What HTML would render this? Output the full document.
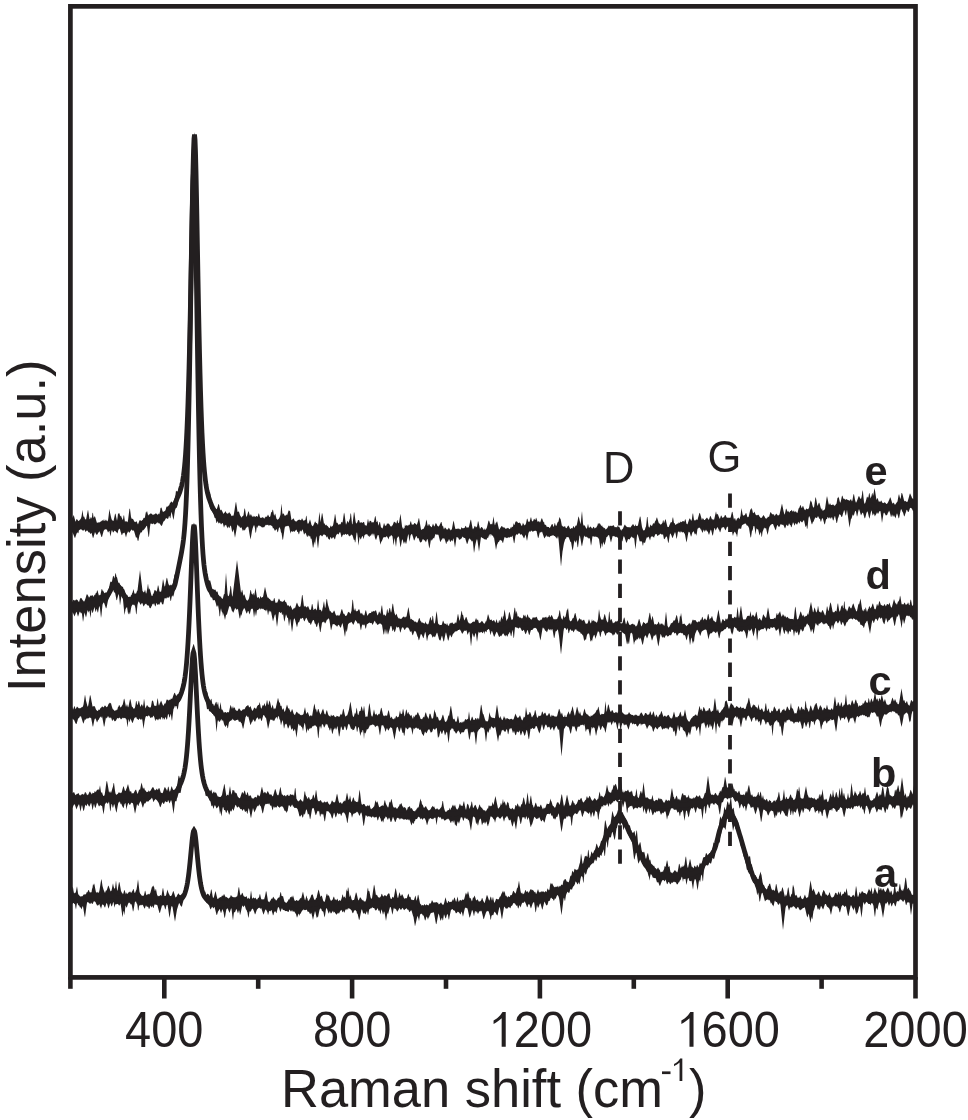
<!DOCTYPE html>
<html><head><meta charset="utf-8"><style>html,body{margin:0;padding:0;background:#fff;overflow:hidden}svg{display:block;will-change:transform}</style></head>
<body><svg width="968" height="1120" viewBox="0 0 968 1120" font-family="'Liberation Sans', sans-serif" fill="#231f20">
<rect width="968" height="1120" fill="#fff"/>
<g stroke="#231f20" stroke-width="3.8"><line x1="620" y1="511.2" x2="620" y2="864" stroke-dasharray="14.3 9.86"/><line x1="730" y1="493.5" x2="730" y2="847" stroke-dasharray="14.3 9.86"/></g>
<g fill="#231f20"><polygon points="70.5,523.0 71.0,520.6 71.5,518.3 72.0,516.0 72.5,517.9 73.0,517.0 73.5,515.0 74.0,515.9 74.5,517.9 75.0,519.8 75.5,521.7 76.0,520.7 76.5,519.1 77.0,519.2 77.5,519.8 78.0,520.5 78.5,521.0 79.0,521.1 79.5,520.0 80.0,519.8 80.5,519.0 81.0,518.2 81.5,516.6 82.0,513.2 82.5,509.7 83.0,514.1 83.5,516.9 84.0,516.3 84.5,517.6 85.0,518.9 85.5,519.3 86.0,519.7 86.5,517.3 87.0,514.6 87.5,511.9 88.0,509.4 88.5,512.6 89.0,515.8 89.5,518.9 90.0,519.3 90.5,517.7 91.0,517.1 91.5,518.8 92.0,516.8 92.5,512.7 93.0,513.0 93.5,517.4 94.0,517.8 94.5,516.3 95.0,516.4 95.5,518.1 96.0,519.8 96.5,521.4 97.0,522.9 97.5,522.2 98.0,523.3 98.5,521.9 99.0,522.4 99.5,522.2 100.0,522.2 100.5,521.5 101.0,521.6 101.5,521.1 102.0,520.4 102.5,520.2 103.0,520.5 103.5,520.8 104.0,518.7 104.5,521.3 105.0,520.6 105.5,520.4 106.0,519.2 106.5,520.9 107.0,520.2 107.5,521.4 108.0,520.3 108.5,516.7 109.0,512.5 109.5,508.7 110.0,512.5 110.5,514.7 111.0,516.9 111.5,519.1 112.0,519.9 112.5,520.6 113.0,520.8 113.5,521.1 114.0,518.8 114.5,516.4 115.0,514.0 115.5,513.5 116.0,516.1 116.5,518.6 117.0,520.7 117.5,517.9 118.0,513.8 118.5,513.8 119.0,512.8 119.5,513.7 120.0,515.5 120.5,516.5 121.0,515.6 121.5,517.2 122.0,518.3 122.5,519.8 123.0,519.5 123.5,516.0 124.0,514.9 124.5,518.6 125.0,522.1 125.5,521.2 126.0,521.1 126.5,521.2 127.0,522.3 127.5,522.1 128.0,520.6 128.5,516.6 129.0,512.6 129.5,508.5 130.0,509.1 130.5,513.0 131.0,516.9 131.5,518.3 132.0,519.2 132.5,518.7 133.0,518.7 133.5,519.9 134.0,520.7 134.5,521.7 135.0,522.3 135.5,521.9 136.0,521.6 136.5,521.2 137.0,522.3 137.5,523.4 138.0,524.4 138.5,523.1 139.0,521.8 139.5,520.4 140.0,520.0 140.5,520.4 141.0,520.7 141.5,521.0 142.0,520.2 142.5,520.1 143.0,519.6 143.5,518.1 144.0,517.8 144.5,518.3 145.0,516.9 145.5,513.9 146.0,511.5 146.5,512.8 147.0,510.8 147.5,512.9 148.0,515.0 148.5,515.4 149.0,514.2 149.5,514.4 150.0,513.9 150.5,513.5 151.0,513.2 151.5,513.7 152.0,514.2 152.5,514.6 153.0,514.9 153.5,514.6 154.0,514.4 154.5,514.3 155.0,514.0 155.5,513.5 156.0,513.2 156.5,513.7 157.0,514.3 157.5,514.8 158.0,514.5 158.5,513.2 159.0,514.4 159.5,513.5 160.0,511.4 160.5,508.1 161.0,507.7 161.5,507.4 162.0,509.3 162.5,511.1 163.0,511.9 163.5,511.9 164.0,510.7 164.5,511.5 165.0,511.1 165.5,510.2 166.0,508.5 166.5,506.6 167.0,506.8 167.5,506.2 168.0,507.1 168.5,506.7 169.0,506.1 169.5,504.2 170.0,503.1 170.5,502.8 171.0,501.6 171.5,501.5 172.0,502.3 172.5,502.4 173.0,502.5 173.5,501.8 174.0,500.3 174.5,498.9 175.0,497.3 175.5,494.8 176.0,490.4 176.5,491.4 177.0,491.1 177.5,491.8 178.0,491.8 178.5,488.7 179.0,486.1 179.5,487.0 180.0,487.2 180.5,485.7 181.0,484.2 181.5,481.6 182.0,478.9 182.5,477.1 183.0,474.9 183.5,472.0 184.0,468.4 184.5,464.0 185.0,458.4 185.5,452.1 186.0,444.5 186.5,435.9 187.0,425.9 187.5,413.9 188.0,400.1 188.5,384.3 189.0,366.4 189.5,346.3 190.0,323.9 190.5,299.5 191.0,273.3 191.5,245.9 192.0,218.3 192.5,191.6 193.0,167.8 193.5,148.7 194.0,136.4 194.5,132.2 195.0,136.8 195.5,149.5 196.0,169.0 196.5,193.2 197.0,220.2 197.5,248.2 198.0,276.0 198.5,302.5 199.0,327.2 199.5,349.8 200.0,370.2 200.5,388.3 201.0,404.3 201.5,418.0 202.0,430.0 202.5,440.5 203.0,449.5 203.5,457.2 204.0,463.3 204.5,468.4 205.0,473.0 205.5,477.5 206.0,480.9 206.5,483.5 207.0,486.1 207.5,488.7 208.0,490.5 208.5,492.0 209.0,491.9 209.5,491.5 210.0,492.1 210.5,494.9 211.0,497.8 211.5,500.5 212.0,502.5 212.5,503.3 213.0,503.6 213.5,504.5 214.0,506.1 214.5,507.0 215.0,506.6 215.5,508.6 216.0,508.8 216.5,509.2 217.0,508.5 217.5,507.0 218.0,505.4 218.5,503.7 219.0,504.6 219.5,506.9 220.0,509.1 220.5,510.4 221.0,509.7 221.5,509.8 222.0,510.9 222.5,511.8 223.0,512.9 223.5,513.9 224.0,512.9 224.5,512.7 225.0,512.1 225.5,510.9 226.0,512.2 226.5,513.2 227.0,513.3 227.5,513.7 228.0,513.7 228.5,512.9 229.0,512.4 229.5,512.3 230.0,513.4 230.5,513.8 231.0,514.8 231.5,515.9 232.0,516.3 232.5,515.5 233.0,515.4 233.5,515.7 234.0,513.3 234.5,510.2 235.0,507.0 235.5,503.8 236.0,501.5 236.5,504.7 237.0,508.0 237.5,511.4 238.0,512.2 238.5,511.2 239.0,511.8 239.5,513.6 240.0,515.3 240.5,515.9 241.0,516.8 241.5,517.7 242.0,516.7 242.5,516.3 243.0,516.0 243.5,515.2 244.0,511.7 244.5,508.3 245.0,509.0 245.5,512.2 246.0,515.5 246.5,517.0 247.0,515.9 247.5,514.2 248.0,512.5 248.5,510.9 249.0,512.5 249.5,514.5 250.0,516.0 250.5,514.5 251.0,514.3 251.5,515.3 252.0,516.4 252.5,516.9 253.0,515.6 253.5,516.4 254.0,517.1 254.5,515.8 255.0,516.9 255.5,516.7 256.0,516.3 256.5,516.1 257.0,516.3 257.5,517.0 258.0,515.7 258.5,513.6 259.0,513.5 259.5,515.5 260.0,517.6 260.5,517.8 261.0,517.9 261.5,517.7 262.0,517.4 262.5,517.0 263.0,517.7 263.5,517.5 264.0,518.5 264.5,518.6 265.0,517.3 265.5,517.2 266.0,516.1 266.5,516.9 267.0,516.8 267.5,515.4 268.0,514.5 268.5,515.6 269.0,516.4 269.5,517.0 270.0,516.9 270.5,515.5 271.0,512.9 271.5,511.7 272.0,512.3 272.5,509.7 273.0,509.7 273.5,512.5 274.0,515.3 274.5,515.5 275.0,513.5 275.5,514.4 276.0,516.8 276.5,518.7 277.0,519.3 277.5,519.8 278.0,519.6 278.5,518.9 279.0,518.6 279.5,517.4 280.0,516.2 280.5,514.5 281.0,508.6 281.5,503.5 282.0,509.2 282.5,514.7 283.0,512.9 283.5,513.7 284.0,514.2 284.5,515.2 285.0,516.2 285.5,515.6 286.0,514.8 286.5,514.6 287.0,515.5 287.5,514.0 288.0,512.4 288.5,510.7 289.0,510.3 289.5,511.3 290.0,510.5 290.5,513.7 291.0,517.0 291.5,520.3 292.0,519.8 292.5,519.3 293.0,518.7 293.5,518.2 294.0,519.3 294.5,520.3 295.0,521.3 295.5,521.2 296.0,521.3 296.5,521.6 297.0,521.2 297.5,520.5 298.0,519.7 298.5,520.1 299.0,519.7 299.5,519.4 300.0,519.9 300.5,520.1 301.0,520.6 301.5,519.3 302.0,518.2 302.5,519.0 303.0,520.3 303.5,520.8 304.0,520.4 304.5,520.5 305.0,519.7 305.5,520.1 306.0,516.6 306.5,515.6 307.0,519.7 307.5,523.5 308.0,523.4 308.5,523.6 309.0,522.2 309.5,520.8 310.0,519.3 310.5,521.1 311.0,523.1 311.5,525.0 312.0,525.6 312.5,526.2 313.0,526.1 313.5,525.1 314.0,523.9 314.5,522.7 315.0,521.6 315.5,521.8 316.0,523.0 316.5,523.1 317.0,523.2 317.5,524.1 318.0,524.9 318.5,520.9 319.0,515.9 319.5,511.8 320.0,517.1 320.5,522.3 321.0,519.3 321.5,516.1 322.0,512.7 322.5,514.2 323.0,517.5 323.5,520.7 324.0,524.0 324.5,522.9 325.0,524.6 325.5,525.4 326.0,524.7 326.5,524.7 327.0,526.0 327.5,525.7 328.0,526.5 328.5,527.2 329.0,527.8 329.5,528.3 330.0,527.5 330.5,525.7 331.0,525.5 331.5,527.1 332.0,526.5 332.5,526.0 333.0,525.4 333.5,523.0 334.0,520.3 334.5,517.5 335.0,513.4 335.5,515.7 336.0,519.3 336.5,523.0 337.0,522.6 337.5,522.9 338.0,523.8 338.5,524.9 339.0,524.3 339.5,524.5 340.0,524.1 340.5,524.4 341.0,523.1 341.5,521.7 342.0,522.3 342.5,522.4 343.0,519.7 343.5,516.1 344.0,512.4 344.5,513.9 345.0,517.8 345.5,521.6 346.0,524.8 346.5,523.6 347.0,522.2 347.5,520.8 348.0,521.4 348.5,523.0 349.0,521.6 349.5,519.7 350.0,518.6 350.5,513.6 351.0,513.6 351.5,518.7 352.0,523.7 352.5,524.4 353.0,520.3 353.5,516.0 354.0,511.7 354.5,513.6 355.0,517.3 355.5,520.9 356.0,523.2 356.5,523.6 357.0,522.7 357.5,522.0 358.0,520.1 358.5,520.2 359.0,520.0 359.5,521.6 360.0,523.2 360.5,522.5 361.0,522.1 361.5,522.2 362.0,522.9 362.5,523.1 363.0,522.0 363.5,522.3 364.0,521.8 364.5,523.7 365.0,525.5 365.5,525.2 366.0,525.3 366.5,525.9 367.0,524.3 367.5,521.3 368.0,518.6 368.5,521.3 369.0,523.3 369.5,521.6 370.0,520.4 370.5,521.1 371.0,520.9 371.5,522.0 372.0,522.9 372.5,522.1 373.0,522.2 373.5,522.6 374.0,521.6 374.5,519.1 375.0,516.6 375.5,515.9 376.0,518.9 376.5,522.0 377.0,521.9 377.5,520.5 378.0,523.5 378.5,525.8 379.0,523.9 379.5,521.9 380.0,522.1 380.5,524.8 381.0,527.5 381.5,527.4 382.0,528.3 382.5,528.4 383.0,527.1 383.5,525.1 384.0,523.1 384.5,524.0 385.0,525.9 385.5,525.6 386.0,525.7 386.5,525.0 387.0,523.3 387.5,523.5 388.0,524.2 388.5,523.3 389.0,523.7 389.5,524.5 390.0,525.4 390.5,526.2 391.0,526.4 391.5,526.4 392.0,525.4 392.5,525.5 393.0,524.3 393.5,523.0 394.0,521.6 394.5,522.0 395.0,522.3 395.5,522.5 396.0,523.5 396.5,523.2 397.0,520.5 397.5,519.9 398.0,522.5 398.5,523.3 399.0,523.0 399.5,519.7 400.0,516.4 400.5,513.8 401.0,517.9 401.5,522.0 402.0,526.0 402.5,528.7 403.0,526.7 403.5,528.9 404.0,528.8 404.5,528.0 405.0,524.3 405.5,526.3 406.0,525.2 406.5,525.3 407.0,525.5 407.5,525.4 408.0,525.8 408.5,525.3 409.0,524.5 409.5,525.2 410.0,523.6 410.5,521.4 411.0,521.2 411.5,523.5 412.0,525.1 412.5,524.4 413.0,524.2 413.5,524.7 414.0,523.8 414.5,523.0 415.0,523.0 415.5,524.1 416.0,523.8 416.5,525.1 417.0,524.4 417.5,522.8 418.0,521.4 418.5,519.1 419.0,517.7 419.5,520.7 420.0,523.7 420.5,526.6 421.0,529.4 421.5,529.9 422.0,529.3 422.5,529.3 423.0,528.8 423.5,528.9 424.0,528.0 424.5,526.8 425.0,526.0 425.5,524.5 426.0,521.2 426.5,519.5 427.0,522.3 427.5,525.0 428.0,526.2 428.5,524.7 429.0,523.7 429.5,524.8 430.0,526.0 430.5,525.9 431.0,526.9 431.5,527.3 432.0,526.4 432.5,525.0 433.0,523.5 433.5,524.7 434.0,525.9 434.5,526.4 435.0,525.0 435.5,523.5 436.0,522.9 436.5,523.9 437.0,524.8 437.5,526.2 438.0,525.8 438.5,526.7 439.0,526.3 439.5,525.3 440.0,524.3 440.5,523.2 441.0,522.1 441.5,522.1 442.0,524.4 442.5,526.5 443.0,525.7 443.5,527.7 444.0,529.4 444.5,528.3 445.0,527.2 445.5,527.9 446.0,528.6 446.5,529.3 447.0,529.8 447.5,529.4 448.0,529.1 448.5,527.6 449.0,529.0 449.5,528.0 450.0,529.9 450.5,530.4 451.0,528.9 451.5,530.2 452.0,528.4 452.5,525.8 453.0,523.1 453.5,520.4 454.0,522.3 454.5,524.9 455.0,527.5 455.5,529.2 456.0,528.7 456.5,529.0 457.0,528.8 457.5,528.5 458.0,529.1 458.5,528.5 459.0,528.5 459.5,529.0 460.0,529.5 460.5,529.6 461.0,528.8 461.5,527.1 462.0,527.9 462.5,528.2 463.0,528.3 463.5,528.2 464.0,527.9 464.5,528.0 465.0,526.9 465.5,525.7 466.0,526.3 466.5,527.5 467.0,527.8 467.5,527.4 468.0,527.2 468.5,527.7 469.0,526.5 469.5,524.4 470.0,522.3 470.5,520.3 471.0,519.6 471.5,522.5 472.0,525.3 472.5,528.0 473.0,529.4 473.5,528.5 474.0,527.8 474.5,526.2 475.0,525.7 475.5,526.8 476.0,527.8 476.5,526.7 477.0,526.7 477.5,523.9 478.0,520.9 478.5,521.9 479.0,524.6 479.5,526.7 480.0,528.9 480.5,528.2 481.0,527.6 481.5,527.1 482.0,527.0 482.5,528.1 483.0,528.6 483.5,529.6 484.0,530.2 484.5,528.1 485.0,530.1 485.5,529.7 486.0,528.6 486.5,528.7 487.0,527.1 487.5,525.0 488.0,522.8 488.5,520.8 489.0,520.4 489.5,521.8 490.0,523.4 490.5,524.6 491.0,524.0 491.5,523.7 492.0,524.8 492.5,522.9 493.0,519.6 493.5,516.3 494.0,519.9 494.5,523.7 495.0,525.6 495.5,523.6 496.0,522.4 496.5,522.6 497.0,520.9 497.5,522.7 498.0,524.9 498.5,527.2 499.0,529.3 499.5,529.6 500.0,528.5 500.5,527.4 501.0,527.2 501.5,525.9 502.0,526.0 502.5,526.8 503.0,527.6 503.5,527.2 504.0,527.6 504.5,527.5 505.0,528.1 505.5,528.8 506.0,529.0 506.5,528.2 507.0,528.4 507.5,528.0 508.0,527.7 508.5,528.2 509.0,528.7 509.5,529.0 510.0,529.3 510.5,526.7 511.0,528.8 511.5,527.2 512.0,526.6 512.5,527.1 513.0,526.8 513.5,523.1 514.0,525.0 514.5,524.8 515.0,523.2 515.5,521.6 516.0,521.8 516.5,521.2 517.0,521.6 517.5,522.3 518.0,522.7 518.5,523.0 519.0,523.1 519.5,522.6 520.0,522.8 520.5,523.6 521.0,524.8 521.5,525.8 522.0,525.9 522.5,524.2 523.0,522.6 523.5,524.0 524.0,524.4 524.5,525.5 525.0,524.9 525.5,524.5 526.0,523.3 526.5,520.9 527.0,518.5 527.5,519.1 528.0,521.0 528.5,522.1 529.0,521.6 529.5,521.9 530.0,520.4 530.5,518.2 531.0,516.9 531.5,519.1 532.0,521.2 532.5,521.2 533.0,521.3 533.5,520.1 534.0,518.8 534.5,519.1 535.0,520.2 535.5,519.8 536.0,517.6 536.5,518.6 537.0,520.0 537.5,521.4 538.0,522.0 538.5,521.3 539.0,521.0 539.5,522.0 540.0,522.6 540.5,521.5 541.0,520.1 541.5,518.6 542.0,518.2 542.5,519.5 543.0,521.0 543.5,522.5 544.0,521.6 544.5,524.4 545.0,524.5 545.5,525.3 546.0,524.6 546.5,527.0 547.0,526.4 547.5,527.1 548.0,526.9 548.5,527.1 549.0,527.1 549.5,528.2 550.0,527.8 550.5,526.8 551.0,525.7 551.5,524.7 552.0,524.0 552.5,523.9 553.0,525.5 553.5,526.9 554.0,526.0 554.5,523.5 555.0,522.9 555.5,525.2 556.0,525.7 556.5,525.8 557.0,524.1 557.5,522.4 558.0,522.1 558.5,521.6 559.0,519.0 559.5,516.8 560.0,518.5 560.5,518.7 561.0,521.1 561.5,523.7 562.0,526.2 562.5,525.6 563.0,526.9 563.5,526.4 564.0,526.7 564.5,526.6 565.0,525.7 565.5,527.4 566.0,528.1 566.5,528.3 567.0,527.5 567.5,526.6 568.0,525.7 568.5,525.5 569.0,526.5 569.5,527.6 570.0,528.8 570.5,529.0 571.0,528.5 571.5,527.9 572.0,528.3 572.5,528.6 573.0,527.1 573.5,525.8 574.0,526.9 574.5,527.9 575.0,527.0 575.5,525.8 576.0,525.6 576.5,525.7 577.0,524.1 577.5,521.4 578.0,518.8 578.5,516.2 579.0,517.4 579.5,519.7 580.0,521.9 580.5,524.2 581.0,521.1 581.5,515.2 582.0,511.1 582.5,517.3 583.0,523.6 583.5,525.5 584.0,525.4 584.5,525.3 585.0,526.0 585.5,527.1 586.0,528.0 586.5,528.8 587.0,528.2 587.5,526.0 588.0,523.8 588.5,526.1 589.0,528.3 589.5,527.5 590.0,526.7 590.5,526.5 591.0,527.1 591.5,527.7 592.0,528.4 592.5,528.4 593.0,527.5 593.5,526.7 594.0,527.1 594.5,528.2 595.0,528.4 595.5,527.6 596.0,527.9 596.5,527.1 597.0,526.3 597.5,525.2 598.0,523.0 598.5,523.5 599.0,524.6 599.5,523.0 600.0,523.4 600.5,524.5 601.0,525.6 601.5,526.3 602.0,524.9 602.5,527.0 603.0,526.8 603.5,527.6 604.0,528.5 604.5,527.8 605.0,528.3 605.5,529.6 606.0,529.5 606.5,528.8 607.0,528.5 607.5,527.7 608.0,526.8 608.5,526.1 609.0,525.3 609.5,526.4 610.0,525.9 610.5,525.7 611.0,525.7 611.5,526.3 612.0,525.4 612.5,526.1 613.0,525.5 613.5,525.1 614.0,525.9 614.5,526.7 615.0,527.5 615.5,527.1 616.0,526.9 616.5,526.9 617.0,527.8 617.5,525.9 618.0,525.2 618.5,527.2 619.0,526.5 619.5,527.3 620.0,528.5 620.5,529.5 621.0,530.3 621.5,530.8 622.0,528.8 622.5,529.4 623.0,528.4 623.5,527.3 624.0,526.1 624.5,524.9 625.0,524.6 625.5,525.4 626.0,526.3 626.5,526.4 627.0,526.9 627.5,527.2 628.0,526.9 628.5,527.1 629.0,527.8 629.5,527.2 630.0,526.7 630.5,527.7 631.0,526.7 631.5,525.7 632.0,525.5 632.5,524.7 633.0,523.8 633.5,524.7 634.0,525.5 634.5,526.2 635.0,525.9 635.5,524.0 636.0,526.1 636.5,525.9 637.0,525.7 637.5,525.9 638.0,525.2 638.5,522.8 639.0,520.5 639.5,518.3 640.0,516.2 640.5,516.9 641.0,520.4 641.5,523.7 642.0,526.9 642.5,528.6 643.0,529.8 643.5,530.8 644.0,530.1 644.5,530.5 645.0,529.2 645.5,527.6 646.0,526.6 646.5,522.2 647.0,517.1 647.5,517.0 648.0,522.1 648.5,526.3 649.0,527.4 649.5,527.6 650.0,526.0 650.5,524.4 651.0,525.1 651.5,526.1 652.0,526.0 652.5,524.8 653.0,523.6 653.5,523.1 654.0,524.0 654.5,522.9 655.0,521.6 655.5,520.7 656.0,519.9 656.5,518.0 657.0,517.3 657.5,518.9 658.0,520.6 658.5,522.3 659.0,523.6 659.5,523.5 660.0,523.8 660.5,524.7 661.0,524.6 661.5,524.1 662.0,523.6 662.5,522.7 663.0,520.3 663.5,520.5 664.0,523.3 664.5,521.8 665.0,520.3 665.5,518.9 666.0,520.7 666.5,522.9 667.0,525.0 667.5,527.0 668.0,527.1 668.5,527.2 669.0,526.5 669.5,525.0 670.0,524.0 670.5,522.8 671.0,522.0 671.5,522.6 672.0,521.8 672.5,518.6 673.0,516.9 673.5,520.1 674.0,523.1 674.5,523.1 675.0,524.0 675.5,524.9 676.0,524.7 676.5,523.9 677.0,523.8 677.5,523.2 678.0,523.9 678.5,522.7 679.0,522.2 679.5,522.9 680.0,522.7 680.5,521.5 681.0,521.8 681.5,522.2 682.0,521.7 682.5,521.3 683.0,520.9 683.5,521.0 684.0,522.0 684.5,521.3 685.0,519.4 685.5,519.2 686.0,521.5 686.5,523.7 687.0,524.3 687.5,524.2 688.0,522.8 688.5,521.3 689.0,519.8 689.5,518.5 690.0,518.6 690.5,519.6 691.0,520.6 691.5,520.7 692.0,518.6 692.5,514.6 693.0,513.0 693.5,516.6 694.0,520.1 694.5,520.7 695.0,519.5 695.5,520.4 696.0,520.3 696.5,519.0 697.0,520.0 697.5,519.7 698.0,518.0 698.5,516.3 699.0,514.5 699.5,512.7 700.0,513.3 700.5,515.0 701.0,516.7 701.5,518.4 702.0,520.2 702.5,518.3 703.0,518.6 703.5,518.7 704.0,519.9 704.5,520.1 705.0,519.9 705.5,519.1 706.0,518.7 706.5,517.9 707.0,517.5 707.5,518.2 708.0,519.0 708.5,519.7 709.0,519.4 709.5,518.0 710.0,516.6 710.5,515.8 711.0,517.0 711.5,518.3 712.0,519.5 712.5,518.8 713.0,520.6 713.5,518.9 714.0,519.9 714.5,518.1 715.0,515.7 715.5,513.4 716.0,511.3 716.5,513.7 717.0,514.8 717.5,513.8 718.0,514.5 718.5,515.9 719.0,517.2 719.5,518.4 720.0,518.7 720.5,517.1 721.0,515.5 721.5,515.7 722.0,516.9 722.5,517.7 723.0,517.9 723.5,516.9 724.0,517.3 724.5,516.1 725.0,514.9 725.5,514.9 726.0,516.1 726.5,517.2 727.0,517.8 727.5,517.8 728.0,517.5 728.5,518.2 729.0,518.8 729.5,518.3 730.0,518.7 730.5,518.0 731.0,515.9 731.5,513.8 732.0,511.7 732.5,511.9 733.0,514.6 733.5,517.2 734.0,519.7 734.5,518.5 735.0,517.7 735.5,519.5 736.0,520.9 736.5,520.1 737.0,518.7 737.5,518.4 738.0,517.8 738.5,517.5 739.0,518.5 739.5,519.2 740.0,517.5 740.5,515.7 741.0,511.7 741.5,508.1 742.0,511.0 742.5,513.9 743.0,515.6 743.5,515.5 744.0,515.7 744.5,515.0 745.0,514.8 745.5,513.7 746.0,512.8 746.5,513.8 747.0,515.7 747.5,517.5 748.0,516.8 748.5,517.2 749.0,515.2 749.5,513.1 750.0,510.9 750.5,508.7 751.0,510.1 751.5,507.7 752.0,509.0 752.5,511.1 753.0,513.2 753.5,513.1 754.0,512.4 754.5,511.5 755.0,513.1 755.5,514.3 756.0,515.3 756.5,515.0 757.0,515.5 757.5,515.1 758.0,514.7 758.5,514.7 759.0,515.5 759.5,516.4 760.0,517.3 760.5,518.0 761.0,517.4 761.5,518.0 762.0,517.4 762.5,516.6 763.0,515.8 763.5,515.1 764.0,515.8 764.5,516.6 765.0,517.4 765.5,518.4 766.0,518.3 766.5,518.9 767.0,517.5 767.5,518.0 768.0,516.2 768.5,517.0 769.0,517.0 769.5,515.3 770.0,513.4 770.5,512.1 771.0,512.6 771.5,513.3 772.0,514.3 772.5,513.9 773.0,514.8 773.5,514.3 774.0,514.3 774.5,515.9 775.0,515.5 775.5,514.8 776.0,513.7 776.5,513.8 777.0,514.4 777.5,515.1 778.0,515.7 778.5,515.2 779.0,514.9 779.5,514.6 780.0,512.3 780.5,509.9 781.0,507.7 781.5,505.5 782.0,503.4 782.5,505.9 783.0,508.5 783.5,511.0 784.0,513.0 784.5,514.8 785.0,513.2 785.5,510.9 786.0,508.5 786.5,509.1 787.0,510.5 787.5,511.9 788.0,510.6 788.5,511.4 789.0,512.3 789.5,512.4 790.0,511.2 790.5,510.9 791.0,511.1 791.5,509.7 792.0,510.4 792.5,511.2 793.0,511.9 793.5,510.8 794.0,510.6 794.5,512.2 795.0,511.6 795.5,511.4 796.0,511.5 796.5,512.3 797.0,513.0 797.5,512.8 798.0,510.9 798.5,508.8 799.0,508.1 799.5,507.5 800.0,505.8 800.5,504.8 801.0,506.2 801.5,507.7 802.0,508.0 802.5,506.6 803.0,505.7 803.5,507.1 804.0,508.4 804.5,509.6 805.0,510.3 805.5,509.9 806.0,508.8 806.5,508.6 807.0,508.9 807.5,508.9 808.0,509.4 808.5,508.6 809.0,508.0 809.5,505.3 810.0,502.7 810.5,500.1 811.0,501.7 811.5,501.2 812.0,503.4 812.5,505.5 813.0,506.9 813.5,507.5 814.0,507.5 814.5,504.1 815.0,500.6 815.5,497.0 816.0,498.2 816.5,500.8 817.0,503.5 817.5,506.1 818.0,504.9 818.5,503.6 819.0,502.4 819.5,503.2 820.0,505.0 820.5,506.9 821.0,508.8 821.5,509.7 822.0,507.8 822.5,510.8 823.0,510.6 823.5,510.6 824.0,509.7 824.5,509.8 825.0,509.0 825.5,505.5 826.0,502.0 826.5,498.4 827.0,495.9 827.5,498.3 828.0,500.7 828.5,503.2 829.0,504.9 829.5,504.2 830.0,503.0 830.5,504.2 831.0,505.0 831.5,504.9 832.0,504.9 832.5,504.5 833.0,504.7 833.5,504.6 834.0,505.5 834.5,505.8 835.0,505.4 835.5,504.9 836.0,503.9 836.5,503.7 837.0,500.8 837.5,497.4 838.0,498.3 838.5,496.4 839.0,498.3 839.5,500.4 840.0,502.5 840.5,502.6 841.0,500.4 841.5,498.1 842.0,495.8 842.5,495.8 843.0,497.5 843.5,499.1 844.0,498.5 844.5,499.0 845.0,499.4 845.5,499.9 846.0,499.0 846.5,499.2 847.0,499.6 847.5,499.7 848.0,500.2 848.5,500.3 849.0,500.0 849.5,500.9 850.0,500.2 850.5,499.5 851.0,499.1 851.5,500.4 852.0,501.5 852.5,500.0 853.0,497.1 853.5,494.2 854.0,494.3 854.5,497.1 855.0,499.8 855.5,501.4 856.0,502.7 856.5,502.1 857.0,500.8 857.5,499.5 858.0,498.1 858.5,496.8 859.0,495.8 859.5,496.9 860.0,498.1 860.5,498.8 861.0,498.9 861.5,497.2 862.0,494.5 862.5,490.1 863.0,491.9 863.5,497.3 864.0,502.1 864.5,503.8 865.0,503.4 865.5,502.2 866.0,500.4 866.5,498.5 867.0,496.6 867.5,497.1 868.0,498.0 868.5,496.7 869.0,493.6 869.5,493.0 870.0,495.8 870.5,498.6 871.0,497.3 871.5,496.0 872.0,493.6 872.5,492.9 873.0,495.9 873.5,494.0 874.0,491.1 874.5,488.1 875.0,490.6 875.5,493.8 876.0,497.0 876.5,500.0 877.0,499.0 877.5,497.8 878.0,499.2 878.5,500.7 879.0,501.9 879.5,501.3 880.0,501.7 880.5,501.7 881.0,500.5 881.5,500.7 882.0,502.1 882.5,502.8 883.0,503.3 883.5,503.0 884.0,502.7 884.5,502.2 885.0,502.6 885.5,503.1 886.0,503.6 886.5,504.0 887.0,504.0 887.5,503.0 888.0,502.5 888.5,501.3 889.0,500.2 889.5,499.1 890.0,497.6 890.5,497.6 891.0,499.2 891.5,500.8 892.0,502.6 892.5,503.6 893.0,503.6 893.5,502.6 894.0,503.0 894.5,504.3 895.0,504.7 895.5,504.2 896.0,503.6 896.5,502.7 897.0,502.1 897.5,501.5 898.0,498.6 898.5,495.8 899.0,494.0 899.5,496.0 900.0,498.1 900.5,499.1 901.0,496.6 901.5,493.0 902.0,493.1 902.5,494.2 903.0,496.2 903.5,498.2 904.0,500.2 904.5,501.4 905.0,500.7 905.5,501.0 906.0,501.6 906.5,501.9 907.0,501.4 907.5,501.9 908.0,500.3 908.5,498.5 909.0,496.7 909.5,494.7 910.0,493.2 910.5,494.3 911.0,495.4 911.5,496.6 912.0,498.0 912.5,498.2 913.0,499.2 913.5,498.9 914.0,498.7 914.5,498.4 915.0,498.3 915.5,498.8 915.5,510.4 915.0,514.0 914.5,517.8 914.0,515.0 913.5,510.8 913.0,511.1 912.5,510.0 912.0,509.1 911.5,508.2 911.0,507.9 910.5,507.8 910.0,508.1 909.5,509.4 909.0,511.0 908.5,512.0 908.0,511.9 907.5,510.9 907.0,509.8 906.5,510.1 906.0,512.1 905.5,513.2 905.0,514.8 904.5,516.4 904.0,516.1 903.5,514.3 903.0,512.6 902.5,512.0 902.0,510.8 901.5,509.6 901.0,509.1 900.5,511.1 900.0,513.6 899.5,516.1 899.0,518.5 898.5,517.9 898.0,516.1 897.5,514.4 897.0,513.3 896.5,514.6 896.0,516.6 895.5,518.5 895.0,516.9 894.5,516.5 894.0,515.0 893.5,516.0 893.0,517.0 892.5,515.6 892.0,514.2 891.5,516.2 891.0,517.2 890.5,515.0 890.0,512.9 889.5,511.4 889.0,510.6 888.5,512.2 888.0,512.6 887.5,513.9 887.0,515.3 886.5,515.0 886.0,515.7 885.5,514.7 885.0,513.9 884.5,512.9 884.0,512.6 883.5,513.5 883.0,516.7 882.5,519.8 882.0,522.9 881.5,519.0 881.0,515.1 880.5,511.4 880.0,510.7 879.5,511.3 879.0,512.0 878.5,513.1 878.0,514.3 877.5,513.1 877.0,512.2 876.5,513.4 876.0,514.4 875.5,514.9 875.0,516.5 874.5,515.5 874.0,513.6 873.5,513.8 873.0,515.6 872.5,515.0 872.0,512.6 871.5,510.2 871.0,511.7 870.5,514.0 870.0,516.3 869.5,518.8 869.0,517.4 868.5,515.2 868.0,513.1 867.5,511.2 867.0,511.9 866.5,512.7 866.0,514.8 865.5,516.7 865.0,518.5 864.5,517.9 864.0,516.3 863.5,514.6 863.0,512.7 862.5,512.7 862.0,513.6 861.5,514.6 861.0,515.5 860.5,513.7 860.0,512.0 859.5,510.5 859.0,509.0 858.5,510.5 858.0,512.8 857.5,515.2 857.0,516.7 856.5,514.3 856.0,511.5 855.5,510.7 855.0,511.4 854.5,513.2 854.0,514.9 853.5,515.9 853.0,514.2 852.5,515.2 852.0,517.1 851.5,518.8 851.0,518.8 850.5,521.8 850.0,524.7 849.5,527.7 849.0,524.1 848.5,520.4 848.0,516.8 847.5,513.2 847.0,509.8 846.5,512.5 846.0,515.4 845.5,515.3 845.0,512.9 844.5,510.6 844.0,510.3 843.5,512.3 843.0,513.5 842.5,515.4 842.0,517.1 841.5,516.9 841.0,515.7 840.5,514.8 840.0,514.8 839.5,514.1 839.0,515.2 838.5,517.2 838.0,517.9 837.5,520.5 837.0,523.1 836.5,523.1 836.0,520.6 835.5,518.2 835.0,515.8 834.5,516.7 834.0,518.5 833.5,520.3 833.0,520.4 832.5,518.7 832.0,516.9 831.5,517.4 831.0,518.7 830.5,518.6 830.0,517.3 829.5,517.4 829.0,518.8 828.5,518.0 828.0,517.3 827.5,517.1 827.0,519.1 826.5,519.1 826.0,519.5 825.5,521.8 825.0,524.1 824.5,524.5 824.0,522.8 823.5,521.0 823.0,519.1 822.5,518.3 822.0,518.3 821.5,520.3 821.0,522.1 820.5,520.9 820.0,518.7 819.5,519.0 819.0,517.9 818.5,516.9 818.0,516.0 817.5,516.9 817.0,518.1 816.5,517.9 816.0,517.5 815.5,517.2 815.0,518.2 814.5,519.1 814.0,520.6 813.5,521.8 813.0,521.8 812.5,523.2 812.0,524.6 811.5,523.4 811.0,521.6 810.5,519.8 810.0,518.1 809.5,516.4 809.0,516.3 808.5,518.3 808.0,523.1 807.5,528.0 807.0,529.3 806.5,524.9 806.0,526.4 805.5,526.9 805.0,524.7 804.5,522.4 804.0,520.0 803.5,520.5 803.0,521.2 802.5,521.9 802.0,522.6 801.5,522.1 801.0,521.4 800.5,520.8 800.0,522.1 799.5,523.7 799.0,522.9 798.5,521.8 798.0,522.6 797.5,523.7 797.0,524.8 796.5,524.2 796.0,523.5 795.5,523.1 795.0,524.5 794.5,525.8 794.0,524.3 793.5,523.0 793.0,522.3 792.5,523.9 792.0,525.5 791.5,527.2 791.0,527.0 790.5,525.0 790.0,524.9 789.5,523.9 789.0,523.3 788.5,525.0 788.0,526.3 787.5,525.7 787.0,525.2 786.5,524.5 786.0,526.0 785.5,527.6 785.0,528.6 784.5,527.5 784.0,526.3 783.5,525.3 783.0,524.6 782.5,524.9 782.0,524.7 781.5,524.8 781.0,523.8 780.5,524.6 780.0,525.6 779.5,526.5 779.0,527.2 778.5,526.4 778.0,525.7 777.5,525.1 777.0,525.5 776.5,527.5 776.0,529.4 775.5,530.3 775.0,528.9 774.5,527.8 774.0,526.6 773.5,525.3 773.0,524.0 772.5,523.9 772.0,523.9 771.5,524.6 771.0,524.6 770.5,525.2 770.0,525.8 769.5,526.8 769.0,528.0 768.5,530.7 768.0,533.1 767.5,534.9 767.0,532.6 766.5,530.2 766.0,527.7 765.5,528.3 765.0,528.9 764.5,527.6 764.0,528.1 763.5,529.5 763.0,530.8 762.5,532.0 762.0,536.2 761.5,536.9 761.0,532.4 760.5,532.3 760.0,533.9 759.5,535.5 759.0,533.2 758.5,531.0 758.0,528.9 757.5,529.5 757.0,529.2 756.5,528.1 756.0,531.1 755.5,534.7 755.0,530.6 754.5,526.5 754.0,526.0 753.5,525.9 753.0,528.4 752.5,530.4 752.0,530.7 751.5,534.1 751.0,537.5 750.5,537.3 750.0,534.3 749.5,531.2 749.0,528.0 748.5,527.1 748.0,526.0 747.5,525.6 747.0,525.7 746.5,525.0 746.0,523.9 745.5,523.5 745.0,523.6 744.5,523.8 744.0,524.2 743.5,524.3 743.0,524.6 742.5,525.0 742.0,525.3 741.5,527.0 741.0,529.3 740.5,528.6 740.0,528.8 739.5,528.6 739.0,528.4 738.5,528.7 738.0,530.6 737.5,534.2 737.0,537.5 736.5,534.5 736.0,533.7 735.5,532.8 735.0,531.8 734.5,531.7 734.0,532.7 733.5,533.8 733.0,536.0 732.5,534.3 732.0,531.0 731.5,531.9 731.0,530.7 730.5,529.7 730.0,531.2 729.5,530.9 729.0,528.8 728.5,526.9 728.0,526.0 727.5,527.2 727.0,526.8 726.5,528.1 726.0,529.3 725.5,530.5 725.0,529.6 724.5,528.5 724.0,527.3 723.5,526.9 723.0,527.4 722.5,527.5 722.0,527.2 721.5,528.2 721.0,529.5 720.5,531.5 720.0,532.5 719.5,531.0 719.0,529.5 718.5,529.5 718.0,527.7 717.5,527.1 717.0,528.3 716.5,528.5 716.0,530.3 715.5,530.3 715.0,528.4 714.5,527.8 714.0,529.8 713.5,532.3 713.0,534.9 712.5,535.7 712.0,533.5 711.5,531.6 711.0,529.6 710.5,530.3 710.0,531.8 709.5,533.5 709.0,535.0 708.5,533.7 708.0,532.3 707.5,531.2 707.0,531.6 706.5,530.6 706.0,529.6 705.5,530.5 705.0,531.5 704.5,531.7 704.0,529.5 703.5,530.3 703.0,531.6 702.5,532.9 702.0,531.8 701.5,530.4 701.0,529.2 700.5,529.5 700.0,527.5 699.5,527.9 699.0,527.4 698.5,527.9 698.0,528.4 697.5,528.8 697.0,532.2 696.5,535.9 696.0,533.5 695.5,533.7 695.0,534.7 694.5,533.5 694.0,532.3 693.5,531.1 693.0,532.0 692.5,532.3 692.0,533.8 691.5,535.7 691.0,536.8 690.5,535.0 690.0,533.3 689.5,531.7 689.0,532.5 688.5,531.5 688.0,534.4 687.5,537.3 687.0,540.2 686.5,542.6 686.0,540.0 685.5,537.3 685.0,534.5 684.5,533.4 684.0,532.7 683.5,532.0 683.0,532.2 682.5,532.4 682.0,532.2 681.5,532.0 681.0,530.9 680.5,531.9 680.0,533.1 679.5,531.8 679.0,531.4 678.5,531.7 678.0,531.4 677.5,534.5 677.0,537.6 676.5,538.9 676.0,536.1 675.5,533.3 675.0,532.0 674.5,533.2 674.0,534.4 673.5,535.7 673.0,537.0 672.5,538.3 672.0,536.9 671.5,535.6 671.0,534.6 670.5,533.6 670.0,533.7 669.5,536.8 669.0,540.1 668.5,543.3 668.0,541.9 667.5,539.3 667.0,536.9 666.5,536.5 666.0,536.5 665.5,537.5 665.0,538.5 664.5,539.1 664.0,539.3 663.5,536.7 663.0,534.2 662.5,534.3 662.0,535.3 661.5,534.2 661.0,533.7 660.5,533.8 660.0,534.1 659.5,534.5 659.0,535.2 658.5,534.8 658.0,535.9 657.5,536.1 657.0,535.0 656.5,533.9 656.0,534.0 655.5,534.0 655.0,535.2 654.5,536.0 654.0,537.9 653.5,536.8 653.0,537.3 652.5,536.4 652.0,535.7 651.5,537.1 651.0,536.5 650.5,538.5 650.0,540.4 649.5,539.0 649.0,537.5 648.5,536.5 648.0,537.3 647.5,537.7 647.0,536.9 646.5,538.3 646.0,539.5 645.5,541.2 645.0,543.0 644.5,543.0 644.0,542.1 643.5,543.0 643.0,545.9 642.5,544.5 642.0,541.5 641.5,541.3 641.0,541.7 640.5,541.0 640.0,541.7 639.5,540.7 639.0,538.8 638.5,537.0 638.0,535.3 637.5,534.1 637.0,535.8 636.5,540.0 636.0,544.7 635.5,549.6 635.0,545.4 634.5,541.1 634.0,537.2 633.5,538.5 633.0,538.1 632.5,537.4 632.0,536.7 631.5,536.5 631.0,537.4 630.5,537.8 630.0,538.8 629.5,539.4 629.0,539.6 628.5,538.9 628.0,539.0 627.5,540.4 627.0,541.7 626.5,543.1 626.0,541.9 625.5,540.2 625.0,538.7 624.5,537.3 624.0,536.3 623.5,536.4 623.0,538.7 622.5,541.1 622.0,541.6 621.5,540.2 621.0,539.6 620.5,541.2 620.0,543.0 619.5,544.4 619.0,542.3 618.5,540.2 618.0,538.0 617.5,537.5 617.0,537.3 616.5,536.9 616.0,536.5 615.5,537.0 615.0,537.2 614.5,536.3 614.0,535.7 613.5,536.4 613.0,535.8 612.5,536.6 612.0,538.6 611.5,540.6 611.0,542.6 610.5,541.0 610.0,538.8 609.5,536.8 609.0,534.8 608.5,535.3 608.0,535.5 607.5,536.4 607.0,536.9 606.5,537.1 606.0,539.3 605.5,541.4 605.0,543.2 604.5,545.0 604.0,544.0 603.5,541.5 603.0,543.6 602.5,547.5 602.0,543.0 601.5,544.0 601.0,547.7 600.5,549.1 600.0,545.8 599.5,542.5 599.0,539.1 598.5,538.4 598.0,537.5 597.5,537.2 597.0,537.2 596.5,536.7 596.0,536.8 595.5,536.4 595.0,536.8 594.5,536.7 594.0,536.4 593.5,536.2 593.0,536.8 592.5,536.1 592.0,539.8 591.5,543.5 591.0,545.8 590.5,542.4 590.0,539.0 589.5,538.0 589.0,538.6 588.5,538.5 588.0,537.6 587.5,537.6 587.0,537.4 586.5,536.7 586.0,536.4 585.5,536.7 585.0,537.2 584.5,535.4 584.0,536.3 583.5,538.7 583.0,541.2 582.5,543.8 582.0,546.4 581.5,545.0 581.0,542.0 580.5,539.1 580.0,536.3 579.5,535.3 579.0,539.3 578.5,543.3 578.0,547.4 577.5,546.8 577.0,543.3 576.5,539.9 576.0,541.3 575.5,543.1 575.0,541.3 574.5,540.3 574.0,542.7 573.5,545.9 573.0,549.0 572.5,550.6 572.0,547.8 571.5,544.8 571.0,541.8 570.5,542.3 570.0,540.8 569.5,539.4 569.0,538.0 568.5,537.2 568.0,536.9 567.5,537.1 567.0,537.6 566.5,536.7 566.0,538.9 565.5,538.6 565.0,539.8 564.5,541.4 564.0,542.9 563.5,545.7 563.0,549.0 562.5,551.5 562.0,556.6 561.5,561.7 561.0,566.8 560.5,561.0 560.0,555.3 559.5,549.6 559.0,544.1 558.5,538.7 558.0,536.1 557.5,537.7 557.0,539.0 556.5,537.8 556.0,537.6 555.5,536.9 555.0,536.3 554.5,535.9 554.0,535.9 553.5,535.3 553.0,535.2 552.5,535.5 552.0,535.5 551.5,535.7 551.0,536.0 550.5,536.1 550.0,536.5 549.5,537.2 549.0,537.2 548.5,536.5 548.0,536.4 547.5,536.3 547.0,537.2 546.5,535.1 546.0,535.9 545.5,536.7 545.0,537.5 544.5,538.4 544.0,537.6 543.5,535.9 543.0,534.4 542.5,532.9 542.0,531.6 541.5,531.9 541.0,532.5 540.5,532.5 540.0,532.0 539.5,533.6 539.0,535.7 538.5,537.7 538.0,538.1 537.5,535.7 537.0,533.3 536.5,531.0 536.0,531.0 535.5,530.8 535.0,530.6 534.5,531.1 534.0,531.0 533.5,531.4 533.0,531.3 532.5,532.1 532.0,530.9 531.5,530.7 531.0,530.5 530.5,532.3 530.0,530.9 529.5,531.4 529.0,532.0 528.5,533.0 528.0,535.8 527.5,538.6 527.0,541.0 526.5,538.7 526.0,536.3 525.5,534.6 525.0,536.1 524.5,537.5 524.0,538.6 523.5,537.6 523.0,536.6 522.5,535.5 522.0,535.1 521.5,533.9 521.0,534.4 520.5,534.8 520.0,534.3 519.5,533.2 519.0,533.2 518.5,533.4 518.0,534.1 517.5,535.0 517.0,534.4 516.5,534.0 516.0,535.2 515.5,535.6 515.0,539.0 514.5,542.5 514.0,543.5 513.5,540.8 513.0,538.2 512.5,535.5 512.0,536.3 511.5,536.9 511.0,537.3 510.5,536.8 510.0,536.7 509.5,537.9 509.0,536.9 508.5,537.6 508.0,537.5 507.5,537.7 507.0,538.3 506.5,538.0 506.0,537.5 505.5,537.5 505.0,537.6 504.5,537.1 504.0,539.0 503.5,541.1 503.0,543.2 502.5,542.5 502.0,541.0 501.5,540.6 501.0,540.5 500.5,539.9 500.0,539.7 499.5,540.7 499.0,541.7 498.5,541.9 498.0,542.6 497.5,543.9 497.0,544.8 496.5,547.5 496.0,550.0 495.5,546.8 495.0,543.6 494.5,540.4 494.0,537.2 493.5,537.8 493.0,535.5 492.5,535.5 492.0,535.9 491.5,534.5 491.0,534.5 490.5,533.8 490.0,537.0 489.5,534.1 489.0,535.3 488.5,536.7 488.0,538.3 487.5,537.4 487.0,538.5 486.5,539.7 486.0,539.8 485.5,539.5 485.0,539.1 484.5,539.4 484.0,538.9 483.5,538.5 483.0,538.3 482.5,538.1 482.0,537.8 481.5,537.2 481.0,537.1 480.5,540.5 480.0,544.3 479.5,548.1 479.0,551.7 478.5,548.0 478.0,544.3 477.5,540.7 477.0,539.1 476.5,540.0 476.0,541.9 475.5,544.3 475.0,546.7 474.5,550.5 474.0,553.1 473.5,548.2 473.0,543.1 472.5,540.6 472.0,541.5 471.5,541.3 471.0,539.7 470.5,539.5 470.0,539.6 469.5,538.2 469.0,538.8 468.5,540.3 468.0,541.9 467.5,543.6 467.0,544.2 466.5,542.6 466.0,540.9 465.5,539.2 465.0,537.7 464.5,538.0 464.0,538.0 463.5,537.5 463.0,537.0 462.5,536.6 462.0,537.4 461.5,538.4 461.0,538.8 460.5,538.9 460.0,539.8 459.5,539.5 459.0,539.7 458.5,538.2 458.0,537.4 457.5,537.5 457.0,537.1 456.5,537.3 456.0,540.9 455.5,544.4 455.0,547.8 454.5,544.5 454.0,541.2 453.5,538.3 453.0,539.6 452.5,541.2 452.0,541.2 451.5,539.7 451.0,540.9 450.5,541.9 450.0,541.5 449.5,540.1 449.0,539.0 448.5,540.3 448.0,541.6 447.5,541.7 447.0,541.3 446.5,543.7 446.0,543.7 445.5,541.8 445.0,539.9 444.5,538.9 444.0,538.1 443.5,538.2 443.0,539.8 442.5,537.8 442.0,539.4 441.5,539.8 441.0,541.0 440.5,542.1 440.0,541.2 439.5,539.0 439.0,536.9 438.5,534.9 438.0,534.6 437.5,534.6 437.0,534.9 436.5,534.6 436.0,534.3 435.5,534.1 435.0,535.6 434.5,537.3 434.0,538.8 433.5,537.7 433.0,538.6 432.5,539.2 432.0,540.6 431.5,540.5 431.0,539.2 430.5,542.2 430.0,545.3 429.5,548.5 429.0,547.1 428.5,544.0 428.0,541.0 427.5,539.0 427.0,539.2 426.5,540.8 426.0,542.4 425.5,541.6 425.0,540.8 424.5,539.9 424.0,540.4 423.5,539.6 423.0,538.7 422.5,539.7 422.0,541.0 421.5,542.2 421.0,541.8 420.5,542.8 420.0,542.3 419.5,541.0 419.0,539.6 418.5,538.1 418.0,538.2 417.5,538.5 417.0,537.2 416.5,535.9 416.0,536.2 415.5,537.4 415.0,538.8 414.5,540.3 414.0,540.4 413.5,538.7 413.0,537.1 412.5,535.5 412.0,534.1 411.5,534.0 411.0,534.9 410.5,535.5 410.0,538.9 409.5,541.7 409.0,537.9 408.5,534.1 408.0,535.2 407.5,537.5 407.0,539.9 406.5,542.5 406.0,544.3 405.5,542.7 405.0,541.2 404.5,542.3 404.0,544.1 403.5,542.7 403.0,541.0 402.5,539.2 402.0,540.0 401.5,542.8 401.0,545.5 400.5,547.5 400.0,544.0 399.5,540.5 399.0,537.3 398.5,536.4 398.0,536.5 397.5,537.8 397.0,538.1 396.5,542.5 396.0,546.9 395.5,543.9 395.0,540.0 394.5,538.1 394.0,542.6 393.5,545.4 393.0,540.5 392.5,536.4 392.0,535.7 391.5,535.2 391.0,535.2 390.5,536.1 390.0,536.7 389.5,536.2 389.0,537.8 388.5,539.4 388.0,538.3 387.5,537.2 387.0,536.4 386.5,536.3 386.0,536.7 385.5,537.6 385.0,537.0 384.5,537.3 384.0,537.2 383.5,537.3 383.0,538.2 382.5,539.4 382.0,540.7 381.5,541.4 381.0,542.6 380.5,544.8 380.0,542.6 379.5,539.8 379.0,536.9 378.5,535.0 378.0,535.1 377.5,535.6 377.0,537.2 376.5,538.8 376.0,540.3 375.5,538.9 375.0,537.9 374.5,535.4 374.0,533.2 373.5,534.3 373.0,535.9 372.5,533.8 372.0,533.4 371.5,534.5 371.0,535.7 370.5,535.8 370.0,535.3 369.5,536.9 369.0,536.8 368.5,535.6 368.0,535.9 367.5,534.4 367.0,534.2 366.5,534.5 366.0,533.7 365.5,534.4 365.0,535.3 364.5,534.9 364.0,537.5 363.5,539.3 363.0,536.7 362.5,535.9 362.0,536.5 361.5,537.7 361.0,539.0 360.5,539.6 360.0,537.7 359.5,537.0 359.0,541.5 358.5,545.7 358.0,540.5 357.5,535.5 357.0,532.3 356.5,533.2 356.0,537.3 355.5,541.6 355.0,542.8 354.5,539.4 354.0,540.2 353.5,538.7 353.0,537.1 352.5,535.5 352.0,534.8 351.5,534.7 351.0,534.4 350.5,536.1 350.0,535.5 349.5,536.4 349.0,536.0 348.5,535.3 348.0,534.1 347.5,534.1 347.0,534.8 346.5,534.8 346.0,534.3 345.5,533.7 345.0,534.2 344.5,534.7 344.0,534.9 343.5,534.3 343.0,534.7 342.5,535.4 342.0,537.0 341.5,537.2 341.0,535.0 340.5,532.9 340.0,532.0 339.5,532.5 339.0,533.5 338.5,534.6 338.0,534.3 337.5,533.5 337.0,534.4 336.5,534.6 336.0,535.8 335.5,537.2 335.0,539.5 334.5,539.0 334.0,538.1 333.5,536.9 333.0,537.8 332.5,537.6 332.0,538.9 331.5,538.6 331.0,537.4 330.5,536.7 330.0,538.8 329.5,539.9 329.0,539.2 328.5,538.9 328.0,537.9 327.5,536.8 327.0,536.2 326.5,537.8 326.0,536.0 325.5,534.9 325.0,534.9 324.5,534.5 324.0,534.4 323.5,534.4 323.0,535.2 322.5,536.1 322.0,536.5 321.5,535.7 321.0,535.2 320.5,535.0 320.0,535.6 319.5,536.1 319.0,540.1 318.5,544.4 318.0,548.8 317.5,545.2 317.0,540.6 316.5,535.9 316.0,537.7 315.5,541.6 315.0,545.3 314.5,541.3 314.0,543.2 313.5,546.7 313.0,548.1 312.5,544.9 312.0,541.6 311.5,538.3 311.0,539.4 310.5,537.8 310.0,535.6 309.5,536.2 309.0,536.7 308.5,535.5 308.0,535.2 307.5,536.9 307.0,536.7 306.5,535.2 306.0,534.0 305.5,532.7 305.0,532.9 304.5,534.3 304.0,534.4 303.5,532.6 303.0,530.8 302.5,529.3 302.0,530.2 301.5,531.3 301.0,531.7 300.5,530.7 300.0,530.4 299.5,532.4 299.0,534.4 298.5,533.8 298.0,532.0 297.5,531.9 297.0,531.2 296.5,529.4 296.0,529.9 295.5,530.5 295.0,531.0 294.5,531.7 294.0,532.0 293.5,531.0 293.0,531.2 292.5,531.7 292.0,532.1 291.5,531.0 291.0,531.5 290.5,533.7 290.0,531.3 289.5,528.3 289.0,526.4 288.5,525.9 288.0,525.5 287.5,526.3 287.0,526.0 286.5,526.3 286.0,526.3 285.5,526.4 285.0,526.8 284.5,529.1 284.0,532.7 283.5,536.2 283.0,539.7 282.5,539.4 282.0,536.0 281.5,532.7 281.0,532.4 280.5,529.5 280.0,528.2 279.5,527.2 279.0,527.6 278.5,529.8 278.0,531.9 277.5,532.2 277.0,530.2 276.5,528.9 276.0,529.4 275.5,530.2 275.0,531.0 274.5,530.0 274.0,528.9 273.5,527.7 273.0,528.7 272.5,526.8 272.0,525.9 271.5,525.8 271.0,525.5 270.5,525.3 270.0,525.0 269.5,525.4 269.0,525.3 268.5,525.8 268.0,524.5 267.5,524.9 267.0,524.9 266.5,525.3 266.0,524.6 265.5,525.3 265.0,526.1 264.5,526.8 264.0,527.5 263.5,527.2 263.0,527.1 262.5,527.6 262.0,527.6 261.5,527.1 261.0,526.6 260.5,526.0 260.0,526.5 259.5,525.2 259.0,526.3 258.5,525.3 258.0,526.1 257.5,528.3 257.0,526.1 256.5,528.6 256.0,532.5 255.5,532.8 255.0,528.5 254.5,526.0 254.0,525.1 253.5,525.9 253.0,527.3 252.5,528.7 252.0,530.8 251.5,534.0 251.0,537.1 250.5,539.6 250.0,536.8 249.5,533.9 249.0,530.9 248.5,527.8 248.0,526.6 247.5,526.7 247.0,527.3 246.5,527.4 246.0,528.0 245.5,529.1 245.0,530.3 244.5,530.5 244.0,529.5 243.5,530.1 243.0,531.3 242.5,530.0 242.0,528.7 241.5,527.3 241.0,527.4 240.5,527.9 240.0,527.4 239.5,526.9 239.0,525.6 238.5,526.8 238.0,524.8 237.5,524.7 237.0,526.6 236.5,529.4 236.0,532.2 235.5,535.1 235.0,537.8 234.5,534.9 234.0,532.1 233.5,529.2 233.0,530.5 232.5,532.6 232.0,531.0 231.5,528.5 231.0,525.9 230.5,525.4 230.0,526.5 229.5,527.7 229.0,528.2 228.5,526.5 228.0,526.7 227.5,528.6 227.0,527.3 226.5,525.9 226.0,524.6 225.5,525.5 225.0,525.1 224.5,526.2 224.0,527.8 223.5,525.8 223.0,523.7 222.5,523.0 222.0,523.3 221.5,524.0 221.0,524.5 220.5,523.5 220.0,522.4 219.5,522.7 219.0,523.4 218.5,523.2 218.0,521.9 217.5,521.1 217.0,522.5 216.5,523.2 216.0,520.7 215.5,518.1 215.0,518.3 214.5,517.4 214.0,515.7 213.5,514.0 213.0,513.0 212.5,511.9 212.0,510.8 211.5,510.4 211.0,509.9 210.5,509.3 210.0,508.6 209.5,506.3 209.0,503.9 208.5,501.4 208.0,499.2 207.5,497.3 207.0,494.7 206.5,492.1 206.0,488.9 205.5,484.8 205.0,480.2 204.5,475.5 204.0,469.7 203.5,463.3 203.0,456.0 202.5,446.3 202.0,435.4 201.5,423.2 201.0,409.1 200.5,393.1 200.0,375.0 199.5,354.6 199.0,332.0 198.5,307.3 198.0,280.8 197.5,253.0 197.0,225.0 196.5,198.0 196.0,173.8 195.5,154.3 195.0,141.6 194.5,137.0 194.0,141.2 193.5,153.5 193.0,172.6 192.5,196.4 192.0,223.1 191.5,250.7 191.0,278.1 190.5,304.3 190.0,328.7 189.5,351.1 189.0,371.2 188.5,389.1 188.0,404.9 187.5,418.7 187.0,430.7 186.5,441.1 186.0,450.0 185.5,457.6 185.0,464.0 184.5,469.5 184.0,474.1 183.5,478.8 183.0,483.2 182.5,487.4 182.0,490.3 181.5,491.7 181.0,492.6 180.5,493.5 180.0,495.1 179.5,496.7 179.0,498.2 178.5,500.5 178.0,503.0 177.5,505.4 177.0,506.8 176.5,508.0 176.0,508.0 175.5,508.7 175.0,510.2 174.5,513.5 174.0,516.9 173.5,519.9 173.0,517.9 172.5,515.7 172.0,513.5 171.5,511.7 171.0,514.5 170.5,517.8 170.0,518.5 169.5,516.3 169.0,516.0 168.5,517.7 168.0,518.9 167.5,518.7 167.0,518.5 166.5,518.2 166.0,518.1 165.5,519.0 165.0,519.9 164.5,520.7 164.0,521.3 163.5,521.4 163.0,522.8 162.5,524.2 162.0,525.5 161.5,526.0 161.0,525.4 160.5,524.7 160.0,524.0 159.5,523.0 159.0,523.9 158.5,522.4 158.0,523.4 157.5,522.3 157.0,522.6 156.5,523.2 156.0,523.8 155.5,523.9 155.0,524.5 154.5,524.4 154.0,523.8 153.5,523.2 153.0,523.9 152.5,524.2 152.0,523.5 151.5,523.8 151.0,523.8 150.5,523.6 150.0,526.9 149.5,531.7 149.0,536.4 148.5,537.1 148.0,533.1 147.5,529.2 147.0,525.9 146.5,525.6 146.0,527.1 145.5,527.4 145.0,528.3 144.5,528.9 144.0,529.5 143.5,530.4 143.0,529.5 142.5,530.5 142.0,531.7 141.5,532.4 141.0,532.4 140.5,532.5 140.0,533.9 139.5,534.9 139.0,537.6 138.5,540.3 138.0,541.3 137.5,540.0 137.0,537.2 136.5,537.4 136.0,537.7 135.5,536.0 135.0,534.3 134.5,532.6 134.0,531.0 133.5,530.4 133.0,530.2 132.5,531.1 132.0,529.7 131.5,529.5 131.0,530.3 130.5,531.1 130.0,531.8 129.5,532.7 129.0,532.4 128.5,531.8 128.0,531.2 127.5,532.7 127.0,533.5 126.5,535.5 126.0,537.6 125.5,535.7 125.0,533.8 124.5,532.2 124.0,533.4 123.5,533.1 123.0,532.7 122.5,534.0 122.0,535.2 121.5,534.8 121.0,532.8 120.5,531.6 120.0,529.2 119.5,528.4 119.0,529.6 118.5,529.6 118.0,531.4 117.5,533.4 117.0,532.9 116.5,532.3 116.0,531.8 115.5,531.3 115.0,531.0 114.5,530.5 114.0,531.4 113.5,532.3 113.0,532.5 112.5,531.2 112.0,529.9 111.5,530.9 111.0,533.7 110.5,536.6 110.0,533.9 109.5,531.1 109.0,531.0 108.5,532.1 108.0,532.5 107.5,531.3 107.0,530.1 106.5,529.1 106.0,530.1 105.5,528.9 105.0,529.3 104.5,529.7 104.0,530.3 103.5,531.2 103.0,533.2 102.5,535.1 102.0,537.1 101.5,537.1 101.0,535.6 100.5,534.1 100.0,532.6 99.5,531.1 99.0,532.7 98.5,532.1 98.0,533.2 97.5,534.3 97.0,534.8 96.5,534.7 96.0,534.0 95.5,533.0 95.0,532.1 94.5,533.8 94.0,535.5 93.5,537.2 93.0,538.3 92.5,536.4 92.0,534.5 91.5,532.8 91.0,533.6 90.5,534.1 90.0,533.2 89.5,532.2 89.0,532.5 88.5,532.3 88.0,531.5 87.5,530.6 87.0,530.7 86.5,530.5 86.0,531.4 85.5,532.1 85.0,530.8 84.5,529.6 84.0,529.8 83.5,530.6 83.0,531.1 82.5,530.2 82.0,529.8 81.5,529.7 81.0,529.1 80.5,529.5 80.0,529.6 79.5,530.2 79.0,530.1 78.5,532.7 78.0,533.6 77.5,532.2 77.0,532.7 76.5,533.8 76.0,535.2 75.5,536.8 75.0,538.3 74.5,537.2 74.0,536.0 73.5,534.7 73.0,533.5 72.5,532.4 72.0,532.6 71.5,533.0 71.0,533.0 70.5,535.3"/><polyline points="70.5,529.3 71.0,529.1 71.5,528.9 72.0,528.7 72.5,528.6 73.0,528.6 73.5,528.6 74.0,528.6 74.5,528.5 75.0,528.4 75.5,528.3 76.0,528.0 76.5,527.6 77.0,527.1 77.5,526.6 78.0,526.0 78.5,525.4 79.0,524.9 79.5,524.5 80.0,524.2 80.5,524.1 81.0,524.0 81.5,524.1 82.0,524.1 82.5,524.2 83.0,524.3 83.5,524.3 84.0,524.4 84.5,524.4 85.0,524.5 85.5,524.7 86.0,524.9 86.5,525.1 87.0,525.4 87.5,525.7 88.0,525.9 88.5,526.2 89.0,526.4 89.5,526.5 90.0,526.6 90.5,526.7 91.0,526.7 91.5,526.8 92.0,526.9 92.5,527.0 93.0,527.1 93.5,527.2 94.0,527.4 94.5,527.5 95.0,527.5 95.5,527.6 96.0,527.6 96.5,527.5 97.0,527.5 97.5,527.4 98.0,527.3 98.5,527.2 99.0,527.0 99.5,526.7 100.0,526.4 100.5,526.1 101.0,525.8 101.5,525.5 102.0,525.3 102.5,525.1 103.0,524.9 103.5,524.8 104.0,524.7 104.5,524.6 105.0,524.5 105.5,524.5 106.0,524.6 106.5,524.7 107.0,524.9 107.5,525.0 108.0,525.2 108.5,525.3 109.0,525.3 109.5,525.2 110.0,525.1 110.5,525.1 111.0,525.1 111.5,525.1 112.0,525.2 112.5,525.2 113.0,525.4 113.5,525.6 114.0,525.9 114.5,526.1 115.0,526.3 115.5,526.4 116.0,526.4 116.5,526.3 117.0,526.0 117.5,525.7 118.0,525.3 118.5,524.9 119.0,524.6 119.5,524.5 120.0,524.5 120.5,524.7 121.0,525.0 121.5,525.4 122.0,525.8 122.5,526.1 123.0,526.4 123.5,526.6 124.0,526.8 124.5,526.8 125.0,526.8 125.5,526.8 126.0,526.7 126.5,526.6 127.0,526.5 127.5,526.4 128.0,526.4 128.5,526.3 129.0,526.2 129.5,526.1 130.0,525.9 130.5,525.8 131.0,525.7 131.5,525.7 132.0,525.6 132.5,525.7 133.0,525.8 133.5,526.1 134.0,526.4 134.5,526.9 135.0,527.4 135.5,527.9 136.0,528.4 136.5,528.8 137.0,529.1 137.5,529.4 138.0,529.5 138.5,529.6 139.0,529.5 139.5,529.4 140.0,529.3 140.5,528.6 141.0,527.9 141.5,527.2 142.0,526.7 142.5,526.1 143.0,525.7 143.5,525.2 144.0,524.8 144.5,524.3 145.0,523.7 145.5,523.1 146.0,522.5 146.5,521.9 147.0,521.3 147.5,520.8 148.0,520.3 148.5,519.9 149.0,519.5 149.5,519.1 150.0,518.7 150.5,518.8 151.0,518.8 151.5,518.8 152.0,518.8 152.5,518.8 153.0,518.7 153.5,518.7 154.0,518.8 154.5,518.8 155.0,518.8 155.5,518.8 156.0,518.8 156.5,518.8 157.0,518.8 157.5,518.8 158.0,518.9 158.5,518.9 159.0,518.9 159.5,519.0 160.0,519.0 160.5,518.7 161.0,518.4 161.5,518.1 162.0,517.7 162.5,517.4 163.0,517.0 163.5,516.5 164.0,516.0 164.5,515.5 165.0,515.0 165.5,514.4 166.0,513.9 166.5,513.4 167.0,512.8 167.5,512.2 168.0,511.5 168.5,510.7 169.0,509.9 169.5,509.0 170.0,508.0 170.5,508.0 171.0,508.0 171.5,507.8 172.0,507.5 172.5,507.0 173.0,506.5 173.5,505.8 174.0,505.2 174.5,504.5 175.0,503.9 175.5,502.4 176.0,501.1 176.5,499.9 177.0,498.7 177.5,497.6 178.0,496.5 178.5,495.4 179.0,494.2 179.5,492.9 180.0,491.5 180.5,489.9 181.0,488.2 181.5,486.3 182.0,484.1 182.5,481.6 183.0,478.6 183.5,475.3 184.0,471.3 184.5,466.7 185.0,461.3 185.5,454.9 186.0,447.4 186.5,438.6 187.0,428.3 187.5,416.3 188.0,402.5 188.5,386.7 189.0,368.8 189.5,348.7 190.0,326.3 190.5,301.9 191.0,275.7 191.5,248.3 192.0,220.7 192.5,194.0 193.0,170.2 193.5,151.1 194.0,138.8 194.5,134.6 195.0,139.2 195.5,151.9 196.0,171.4 196.5,195.6 197.0,222.6 197.5,250.6 198.0,278.4 198.5,304.9 199.0,329.6 199.5,352.2 200.0,372.6 200.5,390.7 201.0,406.7 201.5,420.7 202.0,432.8 202.5,443.2 203.0,452.2 203.5,459.8 204.0,466.4 204.5,472.0 205.0,476.8 205.5,481.0 206.0,484.7 206.5,487.8 207.0,490.6 207.5,492.9 208.0,495.0 208.5,496.8 209.0,498.4 209.5,499.8 210.0,501.2 210.5,502.5 211.0,503.8 211.5,505.1 212.0,506.3 212.5,507.4 213.0,508.5 213.5,509.5 214.0,510.3 214.5,511.1 215.0,511.9 215.5,512.6 216.0,513.3 216.5,513.9 217.0,514.5 217.5,515.0 218.0,515.4 218.5,515.8 219.0,516.1 219.5,516.4 220.0,516.6 220.5,516.9 221.0,517.1 221.5,517.3 222.0,517.4 222.5,517.5 223.0,517.6 223.5,517.6 224.0,517.6 224.5,517.6 225.0,517.6 225.5,517.5 226.0,517.5 226.5,517.5 227.0,517.5 227.5,517.5 228.0,517.6 228.5,517.7 229.0,518.0 229.5,518.2 230.0,518.5 230.5,518.9 231.0,519.3 231.5,519.6 232.0,519.8 232.5,520.0 233.0,520.1 233.5,520.2 234.0,520.3 234.5,520.3 235.0,520.3 235.5,520.2 236.0,520.2 236.5,520.3 237.0,520.4 237.5,520.6 238.0,520.9 238.5,521.3 239.0,521.8 239.5,522.2 240.0,522.5 240.5,522.7 241.0,522.7 241.5,522.7 242.0,522.5 242.5,522.3 243.0,522.0 243.5,521.8 244.0,521.6 244.5,521.5 245.0,521.4 245.5,521.3 246.0,521.4 246.5,521.4 247.0,521.6 247.5,521.7 248.0,521.9 248.5,522.2 249.0,522.4 249.5,522.5 250.0,522.5 250.5,522.5 251.0,522.3 251.5,522.0 252.0,521.7 252.5,521.3 253.0,521.0 253.5,520.8 254.0,520.6 254.5,520.7 255.0,520.8 255.5,521.0 256.0,521.2 256.5,521.4 257.0,521.6 257.5,521.8 258.0,521.9 258.5,521.9 259.0,521.8 259.5,521.8 260.0,521.8 260.5,521.8 261.0,521.9 261.5,522.1 262.0,522.3 262.5,522.5 263.0,522.6 263.5,522.5 264.0,522.4 264.5,522.2 265.0,521.9 265.5,521.6 266.0,521.4 266.5,521.2 267.0,521.1 267.5,521.1 268.0,521.1 268.5,521.2 269.0,521.3 269.5,521.4 270.0,521.6 270.5,521.7 271.0,521.7 271.5,521.8 272.0,521.9 272.5,522.0 273.0,522.1 273.5,522.2 274.0,522.4 274.5,522.6 275.0,522.8 275.5,523.0 276.0,523.2 276.5,523.4 277.0,523.5 277.5,523.5 278.0,523.5 278.5,523.4 279.0,523.2 279.5,523.0 280.0,522.7 280.5,522.6 281.0,522.4 281.5,522.3 282.0,522.2 282.5,522.1 283.0,522.0 283.5,522.0 284.0,521.9 284.5,521.8 285.0,521.7 285.5,521.6 286.0,521.6 286.5,521.6 287.0,521.7 287.5,521.8 288.0,522.0 288.5,522.2 289.0,522.6 289.5,522.9 290.0,523.3 290.5,523.7 291.0,524.1 291.5,524.5 292.0,524.9 292.5,525.2 293.0,525.4 293.5,525.6 294.0,525.8 294.5,525.9 295.0,526.0 295.5,526.0 296.0,526.1 296.5,526.1 297.0,526.1 297.5,526.0 298.0,525.9 298.5,525.8 299.0,525.7 299.5,525.6 300.0,525.5 300.5,525.4 301.0,525.3 301.5,525.3 302.0,525.3 302.5,525.4 303.0,525.5 303.5,525.7 304.0,525.9 304.5,526.2 305.0,526.4 305.5,526.7 306.0,527.0 306.5,527.2 307.0,527.5 307.5,527.8 308.0,528.1 308.5,528.5 309.0,528.8 309.5,529.2 310.0,529.6 310.5,529.9 311.0,530.1 311.5,530.2 312.0,530.1 312.5,530.1 313.0,529.9 313.5,529.8 314.0,529.7 314.5,529.6 315.0,529.6 315.5,529.6 316.0,529.7 316.5,529.8 317.0,529.9 317.5,530.0 318.0,530.1 318.5,530.2 319.0,530.4 319.5,530.5 320.0,530.7 320.5,530.8 321.0,530.8 321.5,530.8 322.0,530.8 322.5,530.7 323.0,530.7 323.5,530.6 324.0,530.6 324.5,530.7 325.0,530.8 325.5,531.1 326.0,531.3 326.5,531.6 327.0,531.9 327.5,532.1 328.0,532.2 328.5,532.2 329.0,532.0 329.5,531.8 330.0,531.5 330.5,531.2 331.0,531.0 331.5,530.8 332.0,530.6 332.5,530.5 333.0,530.4 333.5,530.3 334.0,530.1 334.5,530.0 335.0,529.8 335.5,529.6 336.0,529.4 336.5,529.2 337.0,529.0 337.5,528.8 338.0,528.7 338.5,528.5 339.0,528.5 339.5,528.5 340.0,528.5 340.5,528.6 341.0,528.6 341.5,528.7 342.0,528.8 342.5,528.9 343.0,528.9 343.5,529.0 344.0,529.0 344.5,529.1 345.0,529.2 345.5,529.3 346.0,529.5 346.5,529.6 347.0,529.7 347.5,529.8 348.0,529.9 348.5,530.0 349.0,530.1 349.5,530.2 350.0,530.2 350.5,530.3 351.0,530.3 351.5,530.4 352.0,530.4 352.5,530.4 353.0,530.3 353.5,530.2 354.0,530.0 354.5,529.6 355.0,529.2 355.5,528.8 356.0,528.3 356.5,528.0 357.0,527.7 357.5,527.6 358.0,527.7 358.5,527.9 359.0,528.3 359.5,528.7 360.0,529.1 360.5,529.5 361.0,529.8 361.5,529.9 362.0,530.0 362.5,529.9 363.0,529.8 363.5,529.8 364.0,529.8 364.5,529.9 365.0,530.1 365.5,530.2 366.0,530.4 366.5,530.5 367.0,530.5 367.5,530.5 368.0,530.3 368.5,530.0 369.0,529.7 369.5,529.3 370.0,528.9 370.5,528.6 371.0,528.2 371.5,527.9 372.0,527.7 372.5,527.5 373.0,527.4 373.5,527.4 374.0,527.5 374.5,527.7 375.0,528.0 375.5,528.3 376.0,528.7 376.5,529.1 377.0,529.4 377.5,529.9 378.0,530.3 378.5,530.8 379.0,531.3 379.5,531.8 380.0,532.2 380.5,532.5 381.0,532.8 381.5,532.9 382.0,533.0 382.5,533.0 383.0,533.0 383.5,533.0 384.0,533.0 384.5,533.0 385.0,532.9 385.5,532.8 386.0,532.6 386.5,532.4 387.0,532.1 387.5,531.9 388.0,531.6 388.5,531.3 389.0,531.0 389.5,530.8 390.0,530.6 390.5,530.5 391.0,530.4 391.5,530.5 392.0,530.6 392.5,530.8 393.0,531.0 393.5,531.1 394.0,531.2 394.5,531.2 395.0,531.1 395.5,530.9 396.0,530.8 396.5,530.6 397.0,530.5 397.5,530.5 398.0,530.5 398.5,530.6 399.0,530.8 399.5,531.1 400.0,531.5 400.5,531.9 401.0,532.4 401.5,532.8 402.0,533.1 402.5,533.3 403.0,533.3 403.5,533.1 404.0,532.8 404.5,532.2 405.0,531.6 405.5,531.0 406.0,530.4 406.5,529.9 407.0,529.5 407.5,529.3 408.0,529.2 408.5,529.3 409.0,529.5 409.5,529.7 410.0,529.9 410.5,530.0 411.0,530.2 411.5,530.2 412.0,530.3 412.5,530.3 413.0,530.2 413.5,530.2 414.0,530.3 414.5,530.3 415.0,530.4 415.5,530.7 416.0,531.0 416.5,531.4 417.0,531.8 417.5,532.4 418.0,532.9 418.5,533.4 419.0,533.8 419.5,534.1 420.0,534.3 420.5,534.5 421.0,534.5 421.5,534.6 422.0,534.6 422.5,534.6 423.0,534.5 423.5,534.3 424.0,534.0 424.5,533.7 425.0,533.3 425.5,532.9 426.0,532.4 426.5,532.0 427.0,531.5 427.5,531.1 428.0,530.8 428.5,530.5 429.0,530.3 429.5,530.2 430.0,530.2 430.5,530.4 431.0,530.6 431.5,530.9 432.0,531.2 432.5,531.3 433.0,531.4 433.5,531.2 434.0,531.0 434.5,530.6 435.0,530.3 435.5,529.9 436.0,529.7 436.5,529.6 437.0,529.6 437.5,529.7 438.0,529.9 438.5,530.2 439.0,530.5 439.5,530.9 440.0,531.3 440.5,531.8 441.0,532.4 441.5,533.0 442.0,533.6 442.5,534.1 443.0,534.5 443.5,534.8 444.0,534.8 444.5,534.7 445.0,534.5 445.5,534.2 446.0,533.8 446.5,533.5 447.0,533.3 447.5,533.2 448.0,533.3 448.5,533.3 449.0,533.5 449.5,533.7 450.0,533.9 450.5,534.0 451.0,534.1 451.5,534.2 452.0,534.3 452.5,534.3 453.0,534.4 453.5,534.4 454.0,534.3 454.5,534.2 455.0,534.1 455.5,533.9 456.0,533.7 456.5,533.6 457.0,533.6 457.5,533.6 458.0,533.6 458.5,533.6 459.0,533.6 459.5,533.6 460.0,533.4 460.5,533.2 461.0,532.9 461.5,532.6 462.0,532.3 462.5,532.1 463.0,532.0 463.5,532.1 464.0,532.2 464.5,532.4 465.0,532.6 465.5,532.7 466.0,532.7 466.5,532.7 467.0,532.6 467.5,532.6 468.0,532.5 468.5,532.6 469.0,532.8 469.5,533.1 470.0,533.5 470.5,533.9 471.0,534.3 471.5,534.7 472.0,535.1 472.5,535.3 473.0,535.4 473.5,535.4 474.0,535.3 474.5,535.0 475.0,534.7 475.5,534.4 476.0,534.0 476.5,533.7 477.0,533.4 477.5,533.2 478.0,533.0 478.5,532.8 479.0,532.6 479.5,532.6 480.0,532.6 480.5,532.7 481.0,532.9 481.5,533.2 482.0,533.5 482.5,533.8 483.0,534.0 483.5,534.2 484.0,534.2 484.5,534.1 485.0,533.9 485.5,533.5 486.0,533.1 486.5,532.6 487.0,532.1 487.5,531.6 488.0,531.1 488.5,530.8 489.0,530.5 489.5,530.3 490.0,530.3 490.5,530.4 491.0,530.6 491.5,530.9 492.0,531.2 492.5,531.6 493.0,531.9 493.5,532.2 494.0,532.4 494.5,532.6 495.0,532.8 495.5,533.0 496.0,533.1 496.5,533.3 497.0,533.6 497.5,533.9 498.0,534.2 498.5,534.4 499.0,534.6 499.5,534.8 500.0,534.9 500.5,534.9 501.0,534.8 501.5,534.6 502.0,534.3 502.5,534.0 503.0,533.6 503.5,533.3 504.0,533.0 504.5,532.9 505.0,532.8 505.5,532.9 506.0,533.0 506.5,533.2 507.0,533.4 507.5,533.6 508.0,533.7 508.5,533.7 509.0,533.6 509.5,533.4 510.0,533.1 510.5,532.8 511.0,532.3 511.5,531.8 512.0,531.3 512.5,530.8 513.0,530.3 513.5,529.9 514.0,529.4 514.5,529.0 515.0,528.6 515.5,528.3 516.0,528.1 516.5,527.9 517.0,527.8 517.5,527.8 518.0,527.9 518.5,528.1 519.0,528.4 519.5,528.8 520.0,529.2 520.5,529.6 521.0,529.9 521.5,530.1 522.0,530.1 522.5,530.1 523.0,529.9 523.5,529.7 524.0,529.5 524.5,529.2 525.0,529.0 525.5,528.8 526.0,528.6 526.5,528.3 527.0,528.1 527.5,527.9 528.0,527.6 528.5,527.4 529.0,527.3 529.5,527.2 530.0,527.1 530.5,527.1 531.0,527.1 531.5,527.1 532.0,527.1 532.5,527.1 533.0,527.0 533.5,527.0 534.0,526.9 534.5,526.8 535.0,526.7 535.5,526.7 536.0,526.7 536.5,526.7 537.0,526.8 537.5,526.9 538.0,527.1 538.5,527.3 539.0,527.4 539.5,527.6 540.0,527.6 540.5,527.7 541.0,527.6 541.5,527.5 542.0,527.5 542.5,527.4 543.0,527.5 543.5,527.6 544.0,527.9 544.5,528.3 545.0,528.8 545.5,529.3 546.0,529.9 546.5,530.5 547.0,531.1 547.5,531.5 548.0,531.8 548.5,532.0 549.0,532.1 549.5,532.1 550.0,532.0 550.5,531.9 551.0,531.8 551.5,531.8 552.0,531.8 552.5,531.8 553.0,531.9 553.5,531.9 554.0,531.9 554.5,531.9 555.0,531.8 555.5,531.7 556.0,531.5 556.5,531.4 557.0,531.2 557.5,531.0 558.0,530.9 558.5,530.8 559.0,530.7 559.5,530.7 560.0,530.9 560.5,531.1 561.0,531.4 561.5,531.8 562.0,532.2 562.5,532.6 563.0,533.0 563.5,533.2 564.0,533.4 564.5,533.4 565.0,533.4 565.5,533.3 566.0,533.1 566.5,532.9 567.0,532.8 567.5,532.7 568.0,532.7 568.5,532.8 569.0,533.0 569.5,533.2 570.0,533.5 570.5,533.8 571.0,534.1 571.5,534.3 572.0,534.5 572.5,534.5 573.0,534.4 573.5,534.1 574.0,533.7 574.5,533.1 575.0,532.5 575.5,531.9 576.0,531.3 576.5,530.8 577.0,530.3 577.5,530.0 578.0,529.7 578.5,529.5 579.0,529.4 579.5,529.3 580.0,529.2 580.5,529.1 581.0,529.1 581.5,529.1 582.0,529.2 582.5,529.5 583.0,529.8 583.5,530.3 584.0,530.8 584.5,531.3 585.0,531.8 585.5,532.2 586.0,532.6 586.5,533.0 587.0,533.3 587.5,533.4 588.0,533.5 588.5,533.5 589.0,533.5 589.5,533.4 590.0,533.2 590.5,533.1 591.0,532.9 591.5,532.7 592.0,532.5 592.5,532.3 593.0,532.2 593.5,532.1 594.0,532.2 594.5,532.2 595.0,532.3 595.5,532.4 596.0,532.5 596.5,532.5 597.0,532.5 597.5,532.4 598.0,532.3 598.5,532.1 599.0,531.9 599.5,531.6 600.0,531.4 600.5,531.1 601.0,530.9 601.5,530.7 602.0,530.7 602.5,530.9 603.0,531.1 603.5,531.6 604.0,532.0 604.5,532.5 605.0,532.8 605.5,533.0 606.0,532.9 606.5,532.7 607.0,532.4 607.5,532.0 608.0,531.5 608.5,531.1 609.0,530.8 609.5,530.6 610.0,530.5 610.5,530.5 611.0,530.7 611.5,530.8 612.0,531.0 612.5,531.1 613.0,531.3 613.5,531.3 614.0,531.4 614.5,531.5 615.0,531.6 615.5,531.8 616.0,532.1 616.5,532.5 617.0,532.9 617.5,533.4 618.0,533.9 618.5,534.3 619.0,534.7 619.5,534.9 620.0,535.0 620.5,534.9 621.0,534.7 621.5,534.4 622.0,533.9 622.5,533.5 623.0,533.0 623.5,532.5 624.0,532.1 624.5,531.8 625.0,531.6 625.5,531.6 626.0,531.6 626.5,531.8 627.0,532.0 627.5,532.3 628.0,532.5 628.5,532.8 629.0,532.9 629.5,533.0 630.0,533.0 630.5,532.9 631.0,532.8 631.5,532.6 632.0,532.4 632.5,532.2 633.0,531.9 633.5,531.6 634.0,531.3 634.5,531.0 635.0,530.7 635.5,530.5 636.0,530.2 636.5,530.1 637.0,530.1 637.5,530.2 638.0,530.5 638.5,530.9 639.0,531.4 639.5,532.0 640.0,532.7 640.5,533.3 641.0,534.0 641.5,534.5 642.0,534.9 642.5,535.1 643.0,535.1 643.5,534.9 644.0,534.6 644.5,534.1 645.0,533.6 645.5,533.2 646.0,532.8 646.5,532.6 647.0,532.5 647.5,532.4 648.0,532.5 648.5,532.5 649.0,532.4 649.5,532.3 650.0,532.1 650.5,531.8 651.0,531.5 651.5,531.2 652.0,530.9 652.5,530.6 653.0,530.4 653.5,530.3 654.0,530.2 654.5,530.2 655.0,530.1 655.5,530.0 656.0,529.9 656.5,529.7 657.0,529.5 657.5,529.4 658.0,529.3 658.5,529.2 659.0,529.1 659.5,529.1 660.0,529.1 660.5,529.0 661.0,529.0 661.5,528.9 662.0,528.9 662.5,529.0 663.0,529.1 663.5,529.3 664.0,529.6 664.5,530.0 665.0,530.4 665.5,530.9 666.0,531.3 666.5,531.7 667.0,531.8 667.5,531.8 668.0,531.7 668.5,531.3 669.0,530.8 669.5,530.2 670.0,529.5 670.5,528.9 671.0,528.4 671.5,528.0 672.0,527.8 672.5,527.7 673.0,527.7 673.5,527.8 674.0,528.0 674.5,528.1 675.0,528.3 675.5,528.3 676.0,528.3 676.5,528.2 677.0,528.0 677.5,527.7 678.0,527.4 678.5,527.1 679.0,526.8 679.5,526.5 680.0,526.4 680.5,526.4 681.0,526.4 681.5,526.5 682.0,526.8 682.5,527.0 683.0,527.3 683.5,527.5 684.0,527.8 684.5,528.1 685.0,528.4 685.5,528.6 686.0,528.7 686.5,528.7 687.0,528.6 687.5,528.3 688.0,527.9 688.5,527.5 689.0,527.2 689.5,526.9 690.0,526.7 690.5,526.6 691.0,526.5 691.5,526.5 692.0,526.4 692.5,526.2 693.0,526.0 693.5,525.6 694.0,525.2 694.5,524.7 695.0,524.3 695.5,524.0 696.0,523.8 696.5,523.7 697.0,523.7 697.5,523.7 698.0,523.8 698.5,523.8 699.0,523.8 699.5,523.7 700.0,523.7 700.5,523.6 701.0,523.5 701.5,523.5 702.0,523.5 702.5,523.5 703.0,523.6 703.5,523.8 704.0,524.0 704.5,524.3 705.0,524.5 705.5,524.7 706.0,524.9 706.5,525.0 707.0,525.0 707.5,525.0 708.0,524.9 708.5,524.8 709.0,524.6 709.5,524.4 710.0,524.3 710.5,524.3 711.0,524.3 711.5,524.3 712.0,524.3 712.5,524.2 713.0,524.1 713.5,523.8 714.0,523.5 714.5,523.3 715.0,523.1 715.5,523.0 716.0,523.0 716.5,523.2 717.0,523.5 717.5,523.7 718.0,523.9 718.5,524.1 719.0,524.1 719.5,523.9 720.0,523.7 720.5,523.5 721.0,523.2 721.5,522.9 722.0,522.7 722.5,522.6 723.0,522.5 723.5,522.5 724.0,522.5 724.5,522.5 725.0,522.5 725.5,522.5 726.0,522.4 726.5,522.3 727.0,522.2 727.5,522.1 728.0,522.1 728.5,522.1 729.0,522.2 729.5,522.4 730.0,522.7 730.5,523.0 731.0,523.4 731.5,523.7 732.0,524.0 732.5,524.3 733.0,524.5 733.5,524.8 734.0,525.0 734.5,525.1 735.0,525.3 735.5,525.3 736.0,525.3 736.5,525.1 737.0,524.9 737.5,524.6 738.0,524.3 738.5,524.0 739.0,523.6 739.5,523.3 740.0,522.9 740.5,522.4 741.0,521.9 741.5,521.3 742.0,520.7 742.5,520.1 743.0,519.6 743.5,519.2 744.0,519.0 744.5,519.0 745.0,519.1 745.5,519.4 746.0,519.8 746.5,520.3 747.0,520.8 747.5,521.3 748.0,521.6 748.5,521.8 749.0,522.0 749.5,521.9 750.0,521.8 750.5,521.6 751.0,521.4 751.5,521.2 752.0,521.0 752.5,520.9 753.0,520.8 753.5,520.8 754.0,520.8 754.5,520.9 755.0,520.9 755.5,520.9 756.0,520.8 756.5,520.7 757.0,520.6 757.5,520.5 758.0,520.5 758.5,520.6 759.0,520.8 759.5,521.1 760.0,521.5 760.5,521.9 761.0,522.2 761.5,522.5 762.0,522.7 762.5,522.7 763.0,522.7 763.5,522.6 764.0,522.5 764.5,522.4 765.0,522.4 765.5,522.5 766.0,522.7 766.5,523.0 767.0,523.2 767.5,523.3 768.0,523.3 768.5,523.0 769.0,522.5 769.5,521.9 770.0,521.2 770.5,520.5 771.0,519.9 771.5,519.5 772.0,519.3 772.5,519.4 773.0,519.7 773.5,520.1 774.0,520.6 774.5,520.9 775.0,521.2 775.5,521.2 776.0,521.1 776.5,520.8 777.0,520.5 777.5,520.2 778.0,519.9 778.5,519.6 779.0,519.4 779.5,519.3 780.0,519.3 780.5,519.3 781.0,519.4 781.5,519.6 782.0,519.8 782.5,520.0 783.0,520.2 783.5,520.4 784.0,520.5 784.5,520.5 785.0,520.3 785.5,520.1 786.0,519.7 786.5,519.2 787.0,518.6 787.5,518.0 788.0,517.4 788.5,516.8 789.0,516.3 789.5,516.0 790.0,515.7 790.5,515.7 791.0,515.7 791.5,515.9 792.0,516.1 792.5,516.4 793.0,516.8 793.5,517.2 794.0,517.5 794.5,517.7 795.0,517.8 795.5,517.9 796.0,517.8 796.5,517.6 797.0,517.4 797.5,517.2 798.0,517.0 798.5,516.7 799.0,516.5 799.5,516.3 800.0,516.1 800.5,515.9 801.0,515.8 801.5,515.7 802.0,515.8 802.5,515.8 803.0,515.9 803.5,515.8 804.0,515.7 804.5,515.4 805.0,515.1 805.5,514.7 806.0,514.3 806.5,513.9 807.0,513.6 807.5,513.3 808.0,513.1 808.5,513.0 809.0,513.0 809.5,513.0 810.0,513.0 810.5,513.1 811.0,513.3 811.5,513.5 812.0,513.7 812.5,514.0 813.0,514.1 813.5,514.2 814.0,514.2 814.5,514.0 815.0,513.6 815.5,513.2 816.0,512.6 816.5,512.1 817.0,511.6 817.5,511.3 818.0,511.2 818.5,511.2 819.0,511.5 819.5,511.8 820.0,512.3 820.5,512.8 821.0,513.3 821.5,513.8 822.0,514.2 822.5,514.5 823.0,514.6 823.5,514.7 824.0,514.6 824.5,514.5 825.0,514.2 825.5,513.9 826.0,513.4 826.5,512.9 827.0,512.3 827.5,511.6 828.0,511.0 828.5,510.4 829.0,509.9 829.5,509.5 830.0,509.4 830.5,509.3 831.0,509.4 831.5,509.6 832.0,509.7 832.5,509.9 833.0,509.9 833.5,509.9 834.0,509.9 834.5,509.7 835.0,509.6 835.5,509.5 836.0,509.4 836.5,509.3 837.0,509.2 837.5,509.1 838.0,508.9 838.5,508.8 839.0,508.6 839.5,508.4 840.0,508.2 840.5,508.0 841.0,507.7 841.5,507.5 842.0,507.2 842.5,506.9 843.0,506.6 843.5,506.3 844.0,505.9 844.5,505.4 845.0,505.0 845.5,504.6 846.0,504.3 846.5,504.1 847.0,504.1 847.5,504.2 848.0,504.4 848.5,504.6 849.0,505.0 849.5,505.3 850.0,505.7 850.5,506.1 851.0,506.4 851.5,506.6 852.0,506.7 852.5,506.8 853.0,506.8 853.5,506.8 854.0,506.7 854.5,506.6 855.0,506.5 855.5,506.4 856.0,506.2 856.5,506.0 857.0,505.9 857.5,505.7 858.0,505.5 858.5,505.3 859.0,505.2 859.5,505.1 860.0,505.1 860.5,505.3 861.0,505.7 861.5,506.1 862.0,506.6 862.5,507.2 863.0,507.7 863.5,508.1 864.0,508.3 864.5,508.4 865.0,508.2 865.5,507.9 866.0,507.4 866.5,506.9 867.0,506.4 867.5,505.8 868.0,505.4 868.5,505.0 869.0,504.7 869.5,504.6 870.0,504.6 870.5,504.7 871.0,504.9 871.5,505.2 872.0,505.5 872.5,505.8 873.0,506.1 873.5,506.4 874.0,506.6 874.5,506.9 875.0,507.0 875.5,507.1 876.0,507.0 876.5,506.9 877.0,506.6 877.5,506.3 878.0,506.0 878.5,505.7 879.0,505.4 879.5,505.3 880.0,505.4 880.5,505.5 881.0,505.7 881.5,506.1 882.0,506.5 882.5,506.9 883.0,507.3 883.5,507.6 884.0,507.8 884.5,507.9 885.0,507.9 885.5,507.9 886.0,507.8 886.5,507.7 887.0,507.6 887.5,507.4 888.0,507.3 888.5,507.2 889.0,507.1 889.5,507.0 890.0,507.0 890.5,507.0 891.0,507.0 891.5,507.1 892.0,507.2 892.5,507.4 893.0,507.7 893.5,508.0 894.0,508.2 894.5,508.5 895.0,508.7 895.5,508.7 896.0,508.6 896.5,508.3 897.0,507.9 897.5,507.5 898.0,506.9 898.5,506.4 899.0,506.0 899.5,505.6 900.0,505.3 900.5,505.2 901.0,505.1 901.5,505.0 902.0,505.0 902.5,505.0 903.0,505.0 903.5,505.0 904.0,505.0 904.5,505.1 905.0,505.2 905.5,505.4 906.0,505.5 906.5,505.7 907.0,505.9 907.5,506.0 908.0,506.0 908.5,505.8 909.0,505.5 909.5,505.1 910.0,504.6 910.5,504.1 911.0,503.7 911.5,503.3 912.0,503.1 912.5,502.9 913.0,502.9 913.5,502.9 914.0,503.1 914.5,503.3 915.0,503.5 915.5,503.8" fill="none" stroke="#231f20" stroke-width="4.8" stroke-linejoin="miter" stroke-miterlimit="4"/><polygon points="70.5,599.5 71.0,600.2 71.5,601.3 72.0,602.3 72.5,601.3 73.0,600.4 73.5,599.7 74.0,600.1 74.5,600.5 75.0,600.6 75.5,600.3 76.0,599.6 76.5,599.4 77.0,599.8 77.5,599.9 78.0,600.8 78.5,601.6 79.0,602.3 79.5,600.6 80.0,598.8 80.5,597.8 81.0,598.7 81.5,597.8 82.0,598.9 82.5,600.0 83.0,600.4 83.5,600.9 84.0,601.7 84.5,601.1 85.0,599.7 85.5,598.5 86.0,596.8 86.5,595.1 87.0,594.0 87.5,594.7 88.0,595.6 88.5,596.6 89.0,597.8 89.5,597.0 90.0,596.2 90.5,595.3 91.0,596.0 91.5,595.5 92.0,595.5 92.5,595.2 93.0,595.6 93.5,597.0 94.0,596.1 94.5,594.6 95.0,595.2 95.5,593.7 96.0,592.7 96.5,593.1 97.0,590.7 97.5,590.3 98.0,592.2 98.5,594.2 99.0,595.8 99.5,594.8 100.0,595.3 100.5,594.8 101.0,592.2 101.5,589.6 102.0,588.8 102.5,590.8 103.0,590.6 103.5,591.5 104.0,592.4 104.5,593.2 105.0,592.7 105.5,592.8 106.0,592.1 106.5,592.9 107.0,591.9 107.5,591.5 108.0,589.6 108.5,589.8 109.0,587.6 109.5,585.4 110.0,583.1 110.5,581.5 111.0,581.7 111.5,582.0 112.0,581.2 112.5,578.7 113.0,576.3 113.5,575.7 114.0,577.0 114.5,578.4 115.0,575.6 115.5,572.7 116.0,574.2 116.5,577.0 117.0,577.3 117.5,579.3 118.0,581.5 118.5,582.9 119.0,582.6 119.5,582.9 120.0,584.9 120.5,585.4 121.0,586.3 121.5,586.4 122.0,586.6 122.5,586.7 123.0,587.0 123.5,588.7 124.0,589.2 124.5,589.8 125.0,591.6 125.5,592.8 126.0,593.8 126.5,594.8 127.0,594.7 127.5,595.2 128.0,596.6 128.5,597.1 129.0,596.9 129.5,596.6 130.0,597.1 130.5,596.7 131.0,595.0 131.5,595.3 132.0,593.5 132.5,592.8 133.0,591.0 133.5,588.9 134.0,591.6 134.5,593.7 135.0,593.5 135.5,593.4 136.0,593.7 136.5,592.5 137.0,591.1 137.5,590.4 138.0,586.3 138.5,582.2 139.0,578.2 139.5,574.2 140.0,570.1 140.5,574.2 141.0,578.3 141.5,582.4 142.0,586.6 142.5,590.9 143.0,591.6 143.5,592.6 144.0,592.0 144.5,591.4 145.0,589.6 145.5,591.5 146.0,593.8 146.5,592.8 147.0,590.0 147.5,586.7 148.0,583.5 148.5,587.3 149.0,590.0 149.5,588.3 150.0,589.6 150.5,591.7 151.0,593.7 151.5,595.7 152.0,595.8 152.5,595.9 153.0,593.7 153.5,593.8 154.0,592.0 154.5,590.3 155.0,589.8 155.5,590.8 156.0,590.5 156.5,591.7 157.0,590.6 157.5,587.8 158.0,584.9 158.5,586.2 159.0,588.8 159.5,591.4 160.0,591.8 160.5,591.5 161.0,592.1 161.5,589.8 162.0,586.3 162.5,582.7 163.0,579.1 163.5,580.9 164.0,583.7 164.5,586.3 165.0,586.4 165.5,583.8 166.0,581.2 166.5,578.5 167.0,577.5 167.5,579.7 168.0,582.0 168.5,584.2 169.0,584.7 169.5,585.4 170.0,585.4 170.5,585.0 171.0,584.2 171.5,585.4 172.0,584.7 172.5,584.5 173.0,582.6 173.5,580.2 174.0,577.6 174.5,574.7 175.0,574.2 175.5,573.9 176.0,573.4 176.5,572.6 177.0,571.5 177.5,568.8 178.0,566.3 178.5,563.4 179.0,560.7 179.5,558.7 180.0,556.6 180.5,553.8 181.0,551.7 181.5,549.1 182.0,546.2 182.5,543.2 183.0,540.0 183.5,536.2 184.0,531.8 184.5,526.4 185.0,520.1 185.5,512.3 186.0,502.5 186.5,491.3 187.0,478.4 187.5,462.4 188.0,443.9 188.5,422.5 189.0,398.4 189.5,371.7 190.0,342.8 190.5,312.2 191.0,280.8 191.5,249.9 192.0,221.2 192.5,196.7 193.0,178.6 193.5,168.9 194.0,168.7 194.5,178.2 195.0,196.4 195.5,221.4 196.0,251.1 196.5,283.3 197.0,316.4 197.5,348.9 198.0,379.8 198.5,408.6 199.0,434.8 199.5,458.2 200.0,478.7 200.5,496.5 201.0,511.7 201.5,524.4 202.0,534.9 202.5,543.7 203.0,550.7 203.5,556.4 204.0,561.3 204.5,565.4 205.0,569.0 205.5,572.2 206.0,574.8 206.5,577.0 207.0,579.1 207.5,581.0 208.0,581.5 208.5,581.6 209.0,581.3 209.5,580.6 210.0,579.9 210.5,581.8 211.0,583.7 211.5,585.7 212.0,587.9 212.5,589.1 213.0,589.3 213.5,589.1 214.0,590.1 214.5,589.8 215.0,589.6 215.5,589.7 216.0,590.9 216.5,592.1 217.0,591.4 217.5,591.6 218.0,593.5 218.5,595.0 219.0,595.2 219.5,596.2 220.0,596.5 220.5,596.8 221.0,596.3 221.5,598.4 222.0,598.1 222.5,599.2 223.0,598.1 223.5,595.8 224.0,593.9 224.5,594.2 225.0,587.1 225.5,579.9 226.0,572.8 226.5,579.6 227.0,586.4 227.5,593.3 228.0,596.2 228.5,595.9 229.0,595.5 229.5,593.3 230.0,590.1 230.5,585.7 231.0,586.2 231.5,590.8 232.0,595.5 232.5,596.8 233.0,592.8 233.5,588.7 234.0,584.6 234.5,580.5 235.0,576.4 235.5,572.3 236.0,568.2 236.5,564.2 237.0,560.1 237.5,564.1 238.0,568.0 238.5,572.1 239.0,576.1 239.5,580.2 240.0,584.4 240.5,588.6 241.0,592.7 241.5,591.9 242.0,589.4 242.5,590.8 243.0,593.5 243.5,596.1 244.0,594.6 244.5,594.6 245.0,596.2 245.5,597.7 246.0,599.3 246.5,600.0 247.0,600.4 247.5,600.7 248.0,600.0 248.5,599.5 249.0,598.3 249.5,595.8 250.0,592.8 250.5,589.7 251.0,590.6 251.5,593.4 252.0,594.2 252.5,594.7 253.0,593.4 253.5,593.1 254.0,595.7 254.5,594.0 255.0,591.1 255.5,588.1 256.0,591.2 256.5,594.3 257.0,597.5 257.5,598.0 258.0,597.0 258.5,597.0 259.0,598.0 259.5,598.9 260.0,597.5 260.5,596.1 261.0,596.7 261.5,598.1 262.0,597.5 262.5,597.1 263.0,596.9 263.5,594.4 264.0,591.9 264.5,589.3 265.0,586.8 265.5,589.0 266.0,591.2 266.5,593.4 267.0,595.6 267.5,597.8 268.0,597.3 268.5,597.9 269.0,598.6 269.5,599.3 270.0,598.7 270.5,600.5 271.0,600.0 271.5,601.3 272.0,600.9 272.5,600.6 273.0,601.5 273.5,599.9 274.0,598.2 274.5,598.0 275.0,600.6 275.5,603.0 276.0,602.6 276.5,602.5 277.0,602.9 277.5,602.1 278.0,600.9 278.5,599.3 279.0,598.5 279.5,599.4 280.0,600.4 280.5,601.6 281.0,600.8 281.5,601.4 282.0,601.9 282.5,601.7 283.0,601.5 283.5,601.3 284.0,600.5 284.5,599.5 285.0,601.3 285.5,602.3 286.0,601.7 286.5,603.1 287.0,604.5 287.5,605.5 288.0,605.7 288.5,604.9 289.0,606.3 289.5,606.7 290.0,606.0 290.5,605.3 291.0,606.4 291.5,607.6 292.0,608.8 292.5,609.8 293.0,609.7 293.5,608.1 294.0,609.1 294.5,607.6 295.0,608.3 295.5,606.7 296.0,605.1 296.5,603.5 297.0,602.5 297.5,603.7 298.0,605.0 298.5,606.3 299.0,606.5 299.5,606.9 300.0,606.8 300.5,606.3 301.0,603.2 301.5,599.3 302.0,595.3 302.5,594.9 303.0,598.9 303.5,602.8 304.0,606.8 304.5,606.5 305.0,605.4 305.5,606.2 306.0,607.1 306.5,607.3 307.0,607.4 307.5,606.6 308.0,605.8 308.5,606.9 309.0,608.2 309.5,609.4 310.0,610.1 310.5,609.8 311.0,609.4 311.5,606.6 312.0,603.7 312.5,604.4 313.0,607.3 313.5,610.1 314.0,609.9 314.5,608.7 315.0,609.0 315.5,608.3 316.0,609.6 316.5,610.5 317.0,608.9 317.5,604.0 318.0,599.1 318.5,602.3 319.0,606.9 319.5,610.0 320.0,609.9 320.5,609.8 321.0,609.7 321.5,611.4 322.0,611.2 322.5,608.6 323.0,606.7 323.5,603.3 324.0,601.1 324.5,604.6 325.0,608.1 325.5,607.2 326.0,603.3 326.5,599.3 327.0,599.0 327.5,602.6 328.0,605.1 328.5,606.5 329.0,608.2 329.5,610.0 330.0,611.4 330.5,610.7 331.0,612.1 331.5,612.8 332.0,612.4 332.5,613.0 333.0,612.5 333.5,611.6 334.0,610.5 334.5,610.9 335.0,612.5 335.5,614.2 336.0,615.1 336.5,616.1 337.0,615.1 337.5,615.7 338.0,614.4 338.5,615.8 339.0,615.8 339.5,615.4 340.0,614.4 340.5,613.2 341.0,611.3 341.5,609.5 342.0,609.1 342.5,610.6 343.0,612.2 343.5,613.9 344.0,613.5 344.5,614.3 345.0,615.2 345.5,615.9 346.0,616.1 346.5,615.6 347.0,614.9 347.5,613.6 348.0,612.2 348.5,611.7 349.0,612.6 349.5,612.2 350.0,613.5 350.5,613.7 351.0,612.4 351.5,610.6 352.0,605.0 352.5,599.4 353.0,600.3 353.5,605.5 354.0,610.7 354.5,609.9 355.0,608.0 355.5,609.6 356.0,611.6 356.5,611.3 357.0,610.8 357.5,611.3 358.0,610.4 358.5,609.5 359.0,609.3 359.5,609.8 360.0,611.9 360.5,613.8 361.0,613.3 361.5,613.7 362.0,612.6 362.5,614.4 363.0,614.6 363.5,615.1 364.0,615.7 364.5,614.7 365.0,612.6 365.5,610.4 366.0,610.2 366.5,612.3 367.0,614.4 367.5,616.1 368.0,614.8 368.5,614.2 369.0,613.2 369.5,613.3 370.0,612.9 370.5,612.9 371.0,612.9 371.5,611.7 372.0,611.2 372.5,612.0 373.0,611.3 373.5,610.7 374.0,611.8 374.5,611.2 375.0,610.8 375.5,610.5 376.0,610.3 376.5,612.1 377.0,613.8 377.5,615.4 378.0,614.8 378.5,613.3 379.0,611.6 379.5,611.8 380.0,613.3 380.5,613.7 381.0,610.0 381.5,606.5 382.0,605.0 382.5,609.0 383.0,613.0 383.5,615.4 384.0,614.4 384.5,614.5 385.0,615.4 385.5,616.1 386.0,615.0 386.5,613.2 387.0,609.4 387.5,609.2 388.0,613.2 388.5,612.5 389.0,610.3 389.5,608.1 390.0,607.9 390.5,610.4 391.0,612.8 391.5,611.2 392.0,607.6 392.5,603.9 393.0,603.5 393.5,607.0 394.0,610.4 394.5,613.1 395.0,614.2 395.5,615.4 396.0,614.7 396.5,613.5 397.0,615.1 397.5,616.8 398.0,617.4 398.5,618.8 399.0,617.4 399.5,618.5 400.0,618.9 400.5,618.8 401.0,618.8 401.5,618.7 402.0,618.3 402.5,617.6 403.0,616.8 403.5,616.8 404.0,616.4 404.5,617.1 405.0,617.7 405.5,617.1 406.0,616.5 406.5,616.8 407.0,614.1 407.5,611.4 408.0,608.7 408.5,607.0 409.0,610.2 409.5,613.4 410.0,616.6 410.5,619.5 411.0,619.0 411.5,618.8 412.0,619.7 412.5,620.1 413.0,619.8 413.5,620.5 414.0,621.2 414.5,621.7 415.0,621.5 415.5,621.5 416.0,622.0 416.5,622.6 417.0,622.5 417.5,622.4 418.0,621.2 418.5,619.8 419.0,618.3 419.5,618.0 420.0,619.6 420.5,621.2 421.0,621.2 421.5,622.2 422.0,623.1 422.5,622.2 423.0,622.7 423.5,623.1 424.0,623.6 424.5,623.8 425.0,622.8 425.5,621.3 426.0,623.5 426.5,623.7 427.0,623.6 427.5,624.4 428.0,624.5 428.5,623.8 429.0,622.0 429.5,620.1 430.0,618.1 430.5,616.7 431.0,618.7 431.5,620.6 432.0,620.3 432.5,615.8 433.0,616.0 433.5,619.9 434.0,623.8 434.5,623.3 435.0,622.8 435.5,619.4 436.0,615.1 436.5,611.0 437.0,613.9 437.5,618.4 438.0,623.0 438.5,624.6 439.0,623.7 439.5,625.2 440.0,625.1 440.5,625.1 441.0,625.0 441.5,625.0 442.0,624.2 442.5,622.3 443.0,620.4 443.5,621.2 444.0,622.7 444.5,623.6 445.0,623.9 445.5,623.6 446.0,624.2 446.5,624.9 447.0,622.8 447.5,624.2 448.0,625.5 448.5,625.5 449.0,625.9 449.5,623.2 450.0,624.0 450.5,622.7 451.0,623.0 451.5,623.2 452.0,622.0 452.5,622.7 453.0,623.6 453.5,623.9 454.0,623.8 454.5,623.7 455.0,622.3 455.5,622.6 456.0,623.4 456.5,621.9 457.0,619.0 457.5,616.1 458.0,613.4 458.5,616.0 459.0,618.5 459.5,620.9 460.0,619.6 460.5,617.1 461.0,613.9 461.5,610.5 462.0,612.1 462.5,615.3 463.0,614.6 463.5,617.0 464.0,619.3 464.5,620.5 465.0,619.3 465.5,618.0 466.0,616.8 466.5,617.2 467.0,618.8 467.5,620.3 468.0,621.9 468.5,622.4 469.0,623.5 469.5,623.3 470.0,623.4 470.5,623.7 471.0,623.0 471.5,623.2 472.0,622.5 472.5,622.0 473.0,621.7 473.5,621.5 474.0,621.7 474.5,622.1 475.0,620.8 475.5,619.4 476.0,618.0 476.5,618.9 477.0,620.6 477.5,619.8 478.0,619.5 478.5,621.6 479.0,623.3 479.5,623.0 480.0,622.7 480.5,622.5 481.0,621.9 481.5,621.2 482.0,620.8 482.5,621.5 483.0,622.3 483.5,622.9 484.0,623.6 484.5,623.4 485.0,623.5 485.5,621.3 486.0,621.7 486.5,620.4 487.0,618.8 487.5,616.3 488.0,614.0 488.5,615.2 489.0,616.9 489.5,618.8 490.0,620.1 490.5,619.9 491.0,619.6 491.5,619.4 492.0,620.5 492.5,621.3 493.0,620.8 493.5,620.2 494.0,620.1 494.5,621.0 495.0,621.9 495.5,622.8 496.0,621.1 496.5,619.0 497.0,620.8 497.5,622.7 498.0,623.2 498.5,622.5 499.0,620.2 499.5,620.2 500.0,622.5 500.5,620.4 501.0,618.2 501.5,616.1 502.0,618.3 502.5,619.4 503.0,615.6 503.5,617.1 504.0,613.2 504.5,609.3 505.0,611.7 505.5,615.1 506.0,618.6 506.5,621.1 507.0,620.0 507.5,618.8 508.0,618.5 508.5,615.6 509.0,612.8 509.5,611.7 510.0,613.8 510.5,616.0 511.0,618.1 511.5,620.0 512.0,619.5 512.5,619.8 513.0,618.8 513.5,615.1 514.0,611.5 514.5,607.9 515.0,607.6 515.5,611.2 516.0,614.2 516.5,610.7 517.0,612.4 517.5,615.9 518.0,617.1 518.5,616.0 519.0,616.7 519.5,617.7 520.0,617.4 520.5,617.4 521.0,617.9 521.5,618.5 522.0,618.0 522.5,618.5 523.0,617.0 523.5,614.6 524.0,615.3 524.5,616.4 525.0,614.4 525.5,615.8 526.0,617.5 526.5,617.4 527.0,615.7 527.5,614.1 528.0,615.5 528.5,617.0 529.0,617.7 529.5,617.5 530.0,618.2 530.5,619.3 531.0,619.2 531.5,619.8 532.0,619.0 532.5,618.1 533.0,617.1 533.5,617.4 534.0,618.1 534.5,617.3 535.0,617.4 535.5,617.3 536.0,617.5 536.5,616.6 537.0,617.6 537.5,618.9 538.0,620.1 538.5,620.3 539.0,620.4 539.5,620.6 540.0,620.7 540.5,619.5 541.0,620.1 541.5,619.8 542.0,618.8 542.5,617.8 543.0,616.9 543.5,617.4 544.0,618.0 544.5,617.5 545.0,616.9 545.5,617.6 546.0,616.6 546.5,617.3 547.0,618.6 547.5,617.5 548.0,617.0 548.5,617.0 549.0,615.1 549.5,615.3 550.0,617.2 550.5,617.0 551.0,615.9 551.5,614.9 552.0,615.4 552.5,616.8 553.0,617.7 553.5,619.3 554.0,619.2 554.5,618.9 555.0,619.8 555.5,619.2 556.0,618.7 556.5,619.2 557.0,619.2 557.5,618.0 558.0,616.8 558.5,616.3 559.0,613.6 559.5,610.2 560.0,610.6 560.5,613.9 561.0,617.2 561.5,618.6 562.0,619.3 562.5,619.8 563.0,617.7 563.5,615.5 564.0,616.0 564.5,617.9 565.0,617.3 565.5,616.7 566.0,614.2 566.5,611.7 567.0,609.4 567.5,609.8 568.0,607.7 568.5,612.1 569.0,617.0 569.5,619.9 570.0,620.8 570.5,621.6 571.0,621.0 571.5,620.8 572.0,619.7 572.5,618.6 573.0,617.9 573.5,618.3 574.0,616.4 574.5,614.6 575.0,613.0 575.5,613.2 576.0,615.4 576.5,617.7 577.0,619.8 577.5,621.8 578.0,621.0 578.5,620.1 579.0,619.1 579.5,618.1 580.0,619.1 580.5,619.8 581.0,618.9 581.5,619.8 582.0,620.9 582.5,620.6 583.0,620.2 583.5,619.9 584.0,619.4 584.5,620.7 585.0,622.0 585.5,623.2 586.0,624.1 586.5,623.7 587.0,623.3 587.5,623.7 588.0,622.2 588.5,620.4 589.0,619.0 589.5,620.4 590.0,621.8 590.5,623.2 591.0,623.2 591.5,621.3 592.0,619.1 592.5,621.3 593.0,621.1 593.5,620.2 594.0,620.4 594.5,621.3 595.0,621.8 595.5,621.6 596.0,621.9 596.5,622.7 597.0,622.5 597.5,621.3 598.0,619.3 598.5,614.0 599.0,608.9 599.5,612.1 600.0,615.8 600.5,617.6 601.0,619.1 601.5,620.0 602.0,618.9 602.5,619.6 603.0,620.3 603.5,618.2 604.0,616.2 604.5,614.1 605.0,614.6 605.5,616.5 606.0,618.4 606.5,620.3 607.0,621.5 607.5,622.1 608.0,622.7 608.5,618.3 609.0,612.5 609.5,611.3 610.0,618.1 610.5,620.8 611.0,619.3 611.5,619.1 612.0,620.6 612.5,622.1 613.0,623.5 613.5,622.8 614.0,622.8 614.5,622.6 615.0,622.0 615.5,620.8 616.0,622.1 616.5,621.4 617.0,620.7 617.5,621.5 618.0,620.3 618.5,619.0 619.0,619.2 619.5,620.4 620.0,621.5 620.5,622.8 621.0,623.7 621.5,623.2 622.0,623.2 622.5,622.9 623.0,621.0 623.5,619.2 624.0,617.4 624.5,617.7 625.0,620.2 625.5,622.7 626.0,624.5 626.5,623.6 627.0,621.8 627.5,620.0 628.0,621.5 628.5,623.1 629.0,624.1 629.5,625.0 630.0,625.0 630.5,625.2 631.0,624.0 631.5,624.3 632.0,624.2 632.5,623.8 633.0,623.5 633.5,624.6 634.0,624.6 634.5,624.5 635.0,625.3 635.5,626.0 636.0,626.7 636.5,625.4 637.0,625.8 637.5,624.1 638.0,622.3 638.5,620.6 639.0,618.8 639.5,619.4 640.0,621.4 640.5,623.3 641.0,625.2 641.5,626.6 642.0,625.5 642.5,624.1 643.0,622.7 643.5,621.7 644.0,622.5 644.5,623.1 645.0,623.1 645.5,623.9 646.0,623.9 646.5,623.1 647.0,622.7 647.5,623.0 648.0,621.2 648.5,618.5 649.0,615.9 649.5,613.3 650.0,612.5 650.5,615.4 651.0,618.4 651.5,620.4 652.0,618.1 652.5,615.7 653.0,617.6 653.5,620.3 654.0,622.9 654.5,624.8 655.0,624.1 655.5,623.9 656.0,624.7 656.5,624.8 657.0,623.8 657.5,624.2 658.0,623.0 658.5,621.5 659.0,622.5 659.5,623.8 660.0,624.9 660.5,623.9 661.0,623.3 661.5,624.3 662.0,622.8 662.5,624.4 663.0,624.3 663.5,624.7 664.0,625.7 664.5,625.4 665.0,620.7 665.5,616.1 666.0,611.4 666.5,615.8 667.0,620.8 667.5,625.7 668.0,626.8 668.5,627.6 669.0,627.5 669.5,626.6 670.0,625.6 670.5,624.4 671.0,623.1 671.5,623.2 672.0,623.3 672.5,622.5 673.0,621.8 673.5,620.7 674.0,620.0 674.5,620.7 675.0,620.3 675.5,618.5 676.0,616.7 676.5,615.0 677.0,615.5 677.5,618.1 678.0,620.6 678.5,622.9 679.0,623.3 679.5,619.4 680.0,615.3 680.5,617.1 681.0,612.7 681.5,616.0 682.0,620.1 682.5,624.3 683.0,624.0 683.5,623.9 684.0,623.5 684.5,623.7 685.0,624.6 685.5,625.0 686.0,625.4 686.5,626.2 687.0,625.5 687.5,625.1 688.0,624.8 688.5,624.0 689.0,623.3 689.5,623.7 690.0,622.4 690.5,624.5 691.0,624.5 691.5,623.1 692.0,621.6 692.5,620.1 693.0,619.4 693.5,620.1 694.0,620.8 694.5,619.9 695.0,619.9 695.5,619.9 696.0,621.2 696.5,621.4 697.0,622.3 697.5,622.3 698.0,622.3 698.5,621.3 699.0,621.6 699.5,621.8 700.0,621.2 700.5,619.6 701.0,620.0 701.5,619.3 702.0,617.2 702.5,616.7 703.0,618.8 703.5,620.5 704.0,619.6 704.5,618.8 705.0,618.3 705.5,619.1 706.0,619.9 706.5,620.3 707.0,618.9 707.5,616.4 708.0,614.0 708.5,614.2 709.0,616.8 709.5,619.4 710.0,619.2 710.5,618.0 711.0,618.3 711.5,616.9 712.0,615.8 712.5,617.5 713.0,619.2 713.5,620.7 714.0,620.7 714.5,621.2 715.0,621.8 715.5,621.9 716.0,622.5 716.5,619.8 717.0,617.1 717.5,614.5 718.0,611.8 718.5,609.5 719.0,612.5 719.5,615.4 720.0,618.2 720.5,621.0 721.0,623.7 721.5,622.3 722.0,620.8 722.5,619.2 723.0,619.1 723.5,619.8 724.0,620.4 724.5,621.0 725.0,621.1 725.5,618.7 726.0,618.6 726.5,619.3 727.0,619.7 727.5,618.8 728.0,617.6 728.5,616.6 729.0,615.7 729.5,616.4 730.0,617.5 730.5,618.6 731.0,617.9 731.5,617.1 732.0,617.4 732.5,618.1 733.0,618.2 733.5,618.3 734.0,617.4 734.5,616.9 735.0,616.6 735.5,617.4 736.0,618.1 736.5,616.7 737.0,611.6 737.5,606.6 738.0,609.9 738.5,615.1 739.0,618.5 739.5,615.0 740.0,611.5 740.5,607.9 741.0,605.4 741.5,609.0 742.0,612.7 742.5,616.4 743.0,619.1 743.5,619.4 744.0,619.8 744.5,619.5 745.0,619.1 745.5,619.8 746.0,618.8 746.5,617.7 747.0,616.5 747.5,615.8 748.0,616.2 748.5,615.7 749.0,615.6 749.5,616.4 750.0,613.9 750.5,611.0 751.0,614.2 751.5,617.1 752.0,616.2 752.5,615.1 753.0,614.6 753.5,615.3 754.0,616.0 754.5,616.7 755.0,616.8 755.5,614.5 756.0,612.4 756.5,611.5 757.0,614.5 757.5,617.6 758.0,619.8 758.5,619.6 759.0,618.8 759.5,617.9 760.0,618.3 760.5,619.4 761.0,620.3 761.5,620.8 762.0,618.9 762.5,617.0 763.0,615.1 763.5,614.2 764.0,615.4 764.5,616.3 765.0,617.0 765.5,617.5 766.0,618.3 766.5,615.9 767.0,612.9 767.5,610.0 768.0,607.2 768.5,609.4 769.0,612.5 769.5,615.6 770.0,618.5 770.5,619.0 771.0,619.0 771.5,619.0 772.0,619.0 772.5,618.8 773.0,619.2 773.5,618.8 774.0,618.4 774.5,617.7 775.0,618.2 775.5,618.5 776.0,616.3 776.5,614.1 777.0,612.8 777.5,614.9 778.0,615.1 778.5,613.7 779.0,612.7 779.5,612.5 780.0,611.0 780.5,613.0 781.0,615.0 781.5,616.8 782.0,616.3 782.5,615.3 783.0,613.7 783.5,615.6 784.0,615.2 784.5,616.2 785.0,617.2 785.5,615.4 786.0,617.4 786.5,617.7 787.0,617.1 787.5,616.7 788.0,617.4 788.5,618.2 789.0,618.5 789.5,618.4 790.0,619.1 790.5,619.0 791.0,618.7 791.5,619.1 792.0,618.9 792.5,618.9 793.0,619.3 793.5,619.5 794.0,617.2 794.5,612.6 795.0,607.9 795.5,606.5 796.0,610.8 796.5,615.2 797.0,619.2 797.5,619.3 798.0,619.2 798.5,618.2 799.0,616.5 799.5,614.9 800.0,613.2 800.5,611.5 801.0,611.8 801.5,613.4 802.0,614.9 802.5,616.4 803.0,614.4 803.5,615.2 804.0,616.4 804.5,617.5 805.0,615.6 805.5,616.4 806.0,616.2 806.5,615.8 807.0,615.6 807.5,613.1 808.0,615.0 808.5,614.0 809.0,611.5 809.5,609.1 810.0,606.6 810.5,604.2 811.0,601.7 811.5,604.4 812.0,607.1 812.5,609.8 813.0,612.4 813.5,611.7 814.0,609.5 814.5,607.3 815.0,608.5 815.5,610.3 816.0,612.0 816.5,612.4 817.0,610.9 817.5,609.3 818.0,605.5 818.5,608.0 819.0,611.5 819.5,612.1 820.0,611.6 820.5,612.2 821.0,612.9 821.5,611.9 822.0,610.9 822.5,609.9 823.0,610.6 823.5,611.9 824.0,613.1 824.5,614.3 825.0,615.5 825.5,615.1 826.0,612.5 826.5,609.2 827.0,605.9 827.5,607.2 828.0,610.3 828.5,611.3 829.0,608.9 829.5,606.5 830.0,604.0 830.5,602.2 831.0,603.4 831.5,606.0 832.0,608.6 832.5,611.2 833.0,612.6 833.5,611.9 834.0,612.4 834.5,612.0 835.0,611.3 835.5,610.6 836.0,611.2 836.5,611.4 837.0,608.1 837.5,604.6 838.0,602.9 838.5,606.3 839.0,609.6 839.5,611.7 840.0,611.3 840.5,609.5 841.0,607.6 841.5,605.8 842.0,605.8 842.5,605.0 843.0,607.7 843.5,608.4 844.0,602.2 844.5,600.9 845.0,607.2 845.5,609.4 846.0,609.1 846.5,610.0 847.0,611.5 847.5,610.5 848.0,609.1 848.5,607.6 849.0,606.1 849.5,606.5 850.0,607.2 850.5,607.9 851.0,608.6 851.5,607.9 852.0,606.4 852.5,605.0 853.0,603.8 853.5,603.5 854.0,605.3 854.5,607.1 855.0,608.2 855.5,609.2 856.0,610.7 856.5,611.4 857.0,611.0 857.5,608.4 858.0,605.9 858.5,603.5 859.0,604.7 859.5,602.7 860.0,600.5 860.5,598.4 861.0,601.8 861.5,605.2 862.0,608.5 862.5,610.4 863.0,610.4 863.5,611.6 864.0,609.0 864.5,609.1 865.0,611.0 865.5,607.2 866.0,607.9 866.5,610.5 867.0,612.1 867.5,610.7 868.0,609.3 868.5,608.8 869.0,606.8 869.5,606.1 870.0,607.4 870.5,608.4 871.0,607.6 871.5,607.1 872.0,605.4 872.5,603.8 873.0,603.6 873.5,605.5 874.0,607.3 874.5,609.2 875.0,609.1 875.5,609.6 876.0,607.9 876.5,605.8 877.0,603.7 877.5,604.7 878.0,606.2 878.5,604.4 879.0,602.3 879.5,600.8 880.0,602.2 880.5,603.7 881.0,605.3 881.5,605.3 882.0,604.8 882.5,605.9 883.0,605.8 883.5,606.1 884.0,604.8 884.5,604.0 885.0,604.8 885.5,605.7 886.0,606.6 886.5,604.8 887.0,604.3 887.5,604.1 888.0,604.2 888.5,605.0 889.0,603.7 889.5,602.5 890.0,604.2 890.5,605.9 891.0,607.3 891.5,607.8 892.0,606.7 892.5,604.8 893.0,602.9 893.5,601.0 894.0,599.1 894.5,600.4 895.0,601.9 895.5,603.4 896.0,603.3 896.5,604.2 897.0,604.8 897.5,603.1 898.0,601.5 898.5,601.5 899.0,600.6 899.5,599.0 900.0,595.6 900.5,597.0 901.0,600.3 901.5,603.6 902.0,604.8 902.5,604.0 903.0,604.3 903.5,604.4 904.0,603.4 904.5,602.6 905.0,603.1 905.5,604.5 906.0,604.8 906.5,604.5 907.0,604.3 907.5,603.8 908.0,602.2 908.5,603.3 909.0,604.9 909.5,605.2 910.0,602.5 910.5,599.8 911.0,599.7 911.5,602.5 912.0,605.3 912.5,605.8 913.0,605.6 913.5,604.8 914.0,604.2 914.5,605.1 915.0,603.2 915.5,598.9 915.5,619.1 915.0,620.6 914.5,621.8 914.0,620.5 913.5,619.2 913.0,618.4 912.5,619.9 912.0,619.6 911.5,617.9 911.0,617.2 910.5,617.5 910.0,616.8 909.5,616.1 909.0,615.5 908.5,616.6 908.0,615.5 907.5,615.9 907.0,615.6 906.5,615.7 906.0,616.5 905.5,618.6 905.0,620.6 904.5,622.7 904.0,623.9 903.5,621.4 903.0,619.1 902.5,621.0 902.0,624.9 901.5,628.3 901.0,624.6 900.5,620.9 900.0,618.9 899.5,616.0 899.0,614.3 898.5,614.4 898.0,615.9 897.5,616.9 897.0,615.9 896.5,617.8 896.0,619.9 895.5,622.6 895.0,625.4 894.5,626.0 894.0,623.7 893.5,621.3 893.0,618.9 892.5,616.8 892.0,617.0 891.5,617.6 891.0,618.2 890.5,618.3 890.0,619.3 889.5,620.3 889.0,619.8 888.5,620.4 888.0,621.8 887.5,622.5 887.0,620.8 886.5,619.2 886.0,617.8 885.5,619.7 885.0,621.8 884.5,623.9 884.0,624.3 883.5,622.7 883.0,622.3 882.5,620.2 882.0,618.1 881.5,617.6 881.0,618.5 880.5,618.7 880.0,618.0 879.5,617.3 879.0,617.6 878.5,618.8 878.0,619.9 877.5,621.2 877.0,619.7 876.5,619.0 876.0,618.7 875.5,618.7 875.0,619.7 874.5,621.3 874.0,622.8 873.5,622.9 873.0,620.8 872.5,620.3 872.0,621.8 871.5,624.3 871.0,627.4 870.5,630.7 870.0,634.0 869.5,631.3 869.0,628.8 868.5,626.2 868.0,623.7 867.5,621.3 867.0,620.4 866.5,621.2 866.0,622.5 865.5,622.9 865.0,623.8 864.5,625.9 864.0,627.8 863.5,627.8 863.0,626.0 862.5,625.7 862.0,625.4 861.5,624.7 861.0,624.9 860.5,624.8 860.0,623.3 859.5,621.8 859.0,621.4 858.5,622.0 858.0,621.2 857.5,620.5 857.0,620.1 856.5,619.6 856.0,619.8 855.5,620.0 855.0,618.9 854.5,619.1 854.0,618.4 853.5,618.2 853.0,618.9 852.5,619.8 852.0,618.7 851.5,618.7 851.0,618.6 850.5,618.5 850.0,619.2 849.5,618.7 849.0,619.5 848.5,619.7 848.0,620.8 847.5,621.8 847.0,622.3 846.5,622.2 846.0,623.7 845.5,625.2 845.0,626.6 844.5,625.9 844.0,624.7 843.5,623.4 843.0,622.1 842.5,622.2 842.0,623.4 841.5,625.1 841.0,624.8 840.5,622.8 840.0,620.8 839.5,620.5 839.0,621.9 838.5,622.5 838.0,623.5 837.5,623.0 837.0,622.1 836.5,621.1 836.0,621.0 835.5,621.8 835.0,622.8 834.5,623.9 834.0,624.9 833.5,627.7 833.0,629.8 832.5,625.9 832.0,624.7 831.5,626.3 831.0,628.2 830.5,630.0 830.0,629.2 829.5,627.7 829.0,626.1 828.5,626.0 828.0,625.4 827.5,624.6 827.0,623.8 826.5,623.1 826.0,623.8 825.5,623.3 825.0,623.5 824.5,623.9 824.0,624.6 823.5,624.2 823.0,623.3 822.5,623.7 822.0,622.1 821.5,622.2 821.0,622.5 820.5,623.0 820.0,623.5 819.5,624.0 819.0,623.3 818.5,624.7 818.0,626.4 817.5,624.7 817.0,625.3 816.5,624.3 816.0,623.2 815.5,623.5 815.0,626.3 814.5,629.0 814.0,631.7 813.5,634.2 813.0,631.8 812.5,629.3 812.0,629.3 811.5,630.9 811.0,632.5 810.5,630.6 810.0,628.8 809.5,626.9 809.0,625.8 808.5,625.1 808.0,624.7 807.5,623.8 807.0,623.5 806.5,624.4 806.0,625.7 805.5,626.9 805.0,626.3 804.5,627.3 804.0,628.6 803.5,631.0 803.0,630.6 802.5,631.8 802.0,630.9 801.5,629.8 801.0,628.9 800.5,629.6 800.0,631.5 799.5,633.4 799.0,635.3 798.5,635.3 798.0,633.4 797.5,631.5 797.0,631.5 796.5,633.0 796.0,632.9 795.5,631.6 795.0,630.6 794.5,633.3 794.0,636.7 793.5,633.3 793.0,629.9 792.5,629.7 792.0,629.8 791.5,628.9 791.0,630.5 790.5,632.1 790.0,632.0 789.5,630.5 789.0,631.7 788.5,633.4 788.0,634.8 787.5,632.6 787.0,630.6 786.5,632.2 786.0,630.2 785.5,630.1 785.0,632.1 784.5,634.2 784.0,633.2 783.5,631.4 783.0,629.4 782.5,627.5 782.0,626.5 781.5,627.9 781.0,630.8 780.5,633.7 780.0,636.7 779.5,634.2 779.0,631.3 778.5,628.5 778.0,628.7 777.5,629.7 777.0,630.1 776.5,630.4 776.0,630.9 775.5,629.7 775.0,628.6 774.5,627.4 774.0,626.9 773.5,627.0 773.0,628.0 772.5,628.1 772.0,627.2 771.5,627.9 771.0,626.8 770.5,627.7 770.0,628.9 769.5,629.3 769.0,628.4 768.5,628.4 768.0,628.2 767.5,628.5 767.0,630.1 766.5,631.7 766.0,630.1 765.5,628.5 765.0,627.4 764.5,628.0 764.0,628.6 763.5,629.0 763.0,629.4 762.5,629.1 762.0,629.0 761.5,629.2 761.0,629.6 760.5,630.1 760.0,629.6 759.5,631.5 759.0,630.2 758.5,630.2 758.0,632.9 757.5,638.2 757.0,641.0 756.5,634.4 756.0,628.5 755.5,627.7 755.0,629.8 754.5,632.2 754.0,634.6 753.5,636.4 753.0,634.4 752.5,632.3 752.0,630.2 751.5,628.6 751.0,629.5 750.5,631.1 750.0,630.0 749.5,631.8 749.0,630.1 748.5,629.7 748.0,632.6 747.5,635.6 747.0,638.6 746.5,638.2 746.0,635.9 745.5,633.6 745.0,632.2 744.5,631.3 744.0,630.3 743.5,630.0 743.0,630.8 742.5,631.6 742.0,631.9 741.5,631.4 741.0,631.3 740.5,631.0 740.0,632.0 739.5,631.7 739.0,631.9 738.5,631.3 738.0,630.2 737.5,631.1 737.0,630.0 736.5,628.8 736.0,627.7 735.5,628.3 735.0,627.2 734.5,626.8 734.0,627.8 733.5,629.8 733.0,632.9 732.5,634.9 732.0,632.1 731.5,634.4 731.0,631.9 730.5,629.3 730.0,627.0 729.5,627.0 729.0,627.4 728.5,628.2 728.0,627.7 727.5,627.1 727.0,627.0 726.5,627.6 726.0,628.6 725.5,629.3 725.0,629.1 724.5,629.3 724.0,629.9 723.5,630.3 723.0,631.0 722.5,631.3 722.0,630.9 721.5,631.6 721.0,631.9 720.5,632.7 720.0,635.2 719.5,637.7 719.0,638.6 718.5,636.1 718.0,633.6 717.5,631.7 717.0,631.3 716.5,632.6 716.0,632.5 715.5,633.2 715.0,632.5 714.5,631.8 714.0,631.7 713.5,631.6 713.0,631.5 712.5,632.3 712.0,633.0 711.5,633.4 711.0,632.8 710.5,633.4 710.0,634.0 709.5,634.7 709.0,637.0 708.5,639.4 708.0,637.0 707.5,634.5 707.0,632.0 706.5,629.9 706.0,629.7 705.5,629.3 705.0,629.9 704.5,629.5 704.0,630.3 703.5,630.2 703.0,630.4 702.5,631.0 702.0,631.3 701.5,631.9 701.0,633.6 700.5,635.4 700.0,635.8 699.5,634.1 699.0,632.8 698.5,631.9 698.0,631.0 697.5,630.0 697.0,629.7 696.5,630.7 696.0,631.9 695.5,633.1 695.0,634.4 694.5,637.2 694.0,641.9 693.5,641.0 693.0,644.0 692.5,642.0 692.0,639.9 691.5,637.6 691.0,638.4 690.5,642.6 690.0,645.2 689.5,641.2 689.0,637.2 688.5,633.9 688.0,634.6 687.5,636.8 687.0,638.9 686.5,640.4 686.0,638.5 685.5,636.6 685.0,635.2 684.5,635.1 684.0,635.5 683.5,634.9 683.0,633.9 682.5,633.1 682.0,633.3 681.5,633.3 681.0,632.9 680.5,632.6 680.0,633.2 679.5,632.9 679.0,632.9 678.5,633.7 678.0,634.5 677.5,635.3 677.0,635.9 676.5,634.9 676.0,633.4 675.5,632.7 675.0,632.9 674.5,633.7 674.0,632.8 673.5,632.1 673.0,632.0 672.5,632.5 672.0,633.2 671.5,634.6 671.0,635.4 670.5,635.3 670.0,635.0 669.5,634.9 669.0,635.8 668.5,636.1 668.0,636.5 667.5,636.6 667.0,635.9 666.5,635.3 666.0,635.1 665.5,636.0 665.0,636.8 664.5,637.7 664.0,638.0 663.5,636.9 663.0,636.4 662.5,637.7 662.0,637.3 661.5,635.8 661.0,634.4 660.5,634.1 660.0,637.2 659.5,640.2 659.0,643.3 658.5,646.4 658.0,645.1 657.5,642.2 657.0,639.3 656.5,636.4 656.0,633.8 655.5,635.3 655.0,635.3 654.5,635.9 654.0,635.2 653.5,636.4 653.0,638.0 652.5,639.5 652.0,640.8 651.5,638.9 651.0,637.0 650.5,635.1 650.0,634.1 649.5,632.9 649.0,633.3 648.5,634.5 648.0,636.0 647.5,637.6 647.0,638.5 646.5,637.2 646.0,636.1 645.5,635.0 645.0,636.3 644.5,636.5 644.0,639.1 643.5,641.6 643.0,644.1 642.5,645.1 642.0,643.1 641.5,641.1 641.0,639.0 640.5,637.5 640.0,639.4 639.5,638.9 639.0,637.2 638.5,637.7 638.0,638.7 637.5,639.7 637.0,638.4 636.5,639.6 636.0,640.9 635.5,639.8 635.0,641.5 634.5,642.1 634.0,645.1 633.5,641.6 633.0,637.9 632.5,634.4 632.0,633.2 631.5,632.6 631.0,633.5 630.5,633.1 630.0,636.4 629.5,640.3 629.0,644.2 628.5,643.2 628.0,641.1 627.5,643.6 627.0,644.4 626.5,641.9 626.0,639.3 625.5,636.6 625.0,634.0 624.5,634.2 624.0,633.4 623.5,633.2 623.0,633.0 622.5,632.4 622.0,631.9 621.5,631.4 621.0,632.6 620.5,630.8 620.0,630.6 619.5,632.3 619.0,631.8 618.5,632.7 618.0,633.7 617.5,634.7 617.0,634.6 616.5,633.6 616.0,632.6 615.5,632.2 615.0,633.5 614.5,634.9 614.0,634.1 613.5,635.1 613.0,635.8 612.5,634.9 612.0,633.8 611.5,633.5 611.0,632.8 610.5,633.1 610.0,632.6 609.5,632.6 609.0,632.1 608.5,632.3 608.0,632.5 607.5,633.0 607.0,632.7 606.5,633.6 606.0,635.0 605.5,635.9 605.0,634.6 604.5,633.3 604.0,632.0 603.5,631.0 603.0,630.7 602.5,630.6 602.0,632.0 601.5,631.8 601.0,634.4 600.5,637.1 600.0,636.5 599.5,633.8 599.0,631.4 598.5,631.9 598.0,631.1 597.5,632.5 597.0,634.1 596.5,635.7 596.0,636.8 595.5,639.1 595.0,637.1 594.5,635.1 594.0,634.8 593.5,635.9 593.0,637.0 592.5,638.9 592.0,641.7 591.5,639.8 591.0,640.8 590.5,641.7 590.0,638.5 589.5,635.3 589.0,633.6 588.5,633.5 588.0,633.6 587.5,634.1 587.0,635.1 586.5,637.0 586.0,640.1 585.5,639.6 585.0,639.3 584.5,641.2 584.0,640.0 583.5,637.4 583.0,635.0 582.5,635.6 582.0,634.0 581.5,633.6 581.0,633.9 580.5,632.9 580.0,632.0 579.5,631.8 579.0,632.0 578.5,631.6 578.0,631.1 577.5,630.5 577.0,631.6 576.5,629.5 576.0,629.5 575.5,629.4 575.0,629.3 574.5,630.4 574.0,631.6 573.5,632.5 573.0,631.3 572.5,630.2 572.0,630.9 571.5,630.7 571.0,630.0 570.5,629.2 570.0,629.4 569.5,631.0 569.0,633.1 568.5,633.2 568.0,630.1 567.5,628.1 567.0,629.3 566.5,630.2 566.0,629.0 565.5,628.2 565.0,627.8 564.5,628.0 564.0,628.4 563.5,631.2 563.0,636.0 562.5,640.7 562.0,645.3 561.5,650.0 561.0,654.6 560.5,649.9 560.0,645.2 559.5,640.6 559.0,636.1 558.5,633.0 558.0,630.2 557.5,629.2 557.0,630.3 556.5,631.6 556.0,630.7 555.5,632.0 555.0,634.8 554.5,637.6 554.0,638.2 553.5,635.2 553.0,632.2 552.5,629.5 552.0,628.7 551.5,629.7 551.0,630.7 550.5,629.4 550.0,628.7 549.5,630.3 549.0,629.9 548.5,628.4 548.0,629.5 547.5,630.9 547.0,632.3 546.5,632.0 546.0,630.6 545.5,631.1 545.0,630.4 544.5,629.3 544.0,628.2 543.5,628.6 543.0,627.3 542.5,628.6 542.0,631.5 541.5,634.4 541.0,637.4 540.5,640.4 540.0,638.7 539.5,636.2 539.0,633.6 538.5,632.6 538.0,631.4 537.5,631.4 537.0,629.4 536.5,628.8 536.0,628.3 535.5,627.8 535.0,628.3 534.5,628.0 534.0,627.8 533.5,628.5 533.0,629.2 532.5,629.7 532.0,630.1 531.5,630.0 531.0,629.9 530.5,631.6 530.0,633.2 529.5,634.9 529.0,634.8 528.5,633.0 528.0,631.1 527.5,629.7 527.0,631.1 526.5,632.6 526.0,633.7 525.5,634.2 525.0,632.9 524.5,631.7 524.0,630.3 523.5,629.7 523.0,630.4 522.5,631.1 522.0,631.0 521.5,630.0 521.0,629.1 520.5,628.1 520.0,627.5 519.5,627.6 519.0,628.2 518.5,628.5 518.0,628.3 517.5,627.5 517.0,628.2 516.5,627.3 516.0,627.6 515.5,627.3 515.0,627.1 514.5,632.2 514.0,637.5 513.5,638.0 513.0,632.8 512.5,629.8 512.0,632.6 511.5,635.4 511.0,636.6 510.5,634.3 510.0,632.1 509.5,632.3 509.0,633.7 508.5,633.7 508.0,634.9 507.5,636.5 507.0,636.4 506.5,635.3 506.0,634.8 505.5,636.2 505.0,636.2 504.5,635.3 504.0,634.4 503.5,633.4 503.0,633.6 502.5,633.9 502.0,634.9 501.5,635.8 501.0,636.4 500.5,635.5 500.0,636.2 499.5,637.1 499.0,636.7 498.5,635.5 498.0,634.2 497.5,633.0 497.0,631.9 496.5,631.8 496.0,633.0 495.5,634.1 495.0,635.3 494.5,636.5 494.0,636.8 493.5,635.3 493.0,633.8 492.5,632.3 492.0,631.1 491.5,631.3 491.0,633.3 490.5,635.3 490.0,632.7 489.5,630.2 489.0,629.3 488.5,629.1 488.0,629.2 487.5,630.1 487.0,630.0 486.5,632.2 486.0,631.9 485.5,631.1 485.0,631.4 484.5,634.5 484.0,631.2 483.5,631.8 483.0,632.8 482.5,633.2 482.0,632.5 481.5,631.8 481.0,632.3 480.5,632.3 480.0,632.6 479.5,632.5 479.0,632.7 478.5,631.5 478.0,635.0 477.5,638.7 477.0,642.0 476.5,637.9 476.0,633.8 475.5,633.0 475.0,634.7 474.5,636.5 474.0,637.5 473.5,636.0 473.0,634.5 472.5,633.1 472.0,637.1 471.5,642.2 471.0,646.4 470.5,641.4 470.0,636.4 469.5,631.6 469.0,632.2 468.5,632.5 468.0,634.3 467.5,634.8 467.0,632.5 466.5,630.3 466.0,630.6 465.5,631.0 465.0,630.4 464.5,630.7 464.0,630.9 463.5,631.9 463.0,632.8 462.5,633.8 462.0,633.6 461.5,632.4 461.0,631.3 460.5,630.5 460.0,629.4 459.5,629.4 459.0,630.1 458.5,630.0 458.0,630.1 457.5,630.7 457.0,631.3 456.5,631.4 456.0,630.7 455.5,631.7 455.0,631.6 454.5,632.2 454.0,632.9 453.5,633.5 453.0,633.8 452.5,635.1 452.0,636.4 451.5,637.4 451.0,636.4 450.5,635.5 450.0,634.4 449.5,636.3 449.0,638.3 448.5,640.4 448.0,640.6 447.5,638.5 447.0,636.3 446.5,634.2 446.0,632.3 445.5,633.8 445.0,636.2 444.5,638.7 444.0,641.3 443.5,641.4 443.0,639.3 442.5,637.2 442.0,635.4 441.5,636.8 441.0,638.4 440.5,640.4 440.0,640.5 439.5,639.9 439.0,639.3 438.5,637.3 438.0,635.4 437.5,633.4 437.0,632.5 436.5,633.5 436.0,634.7 435.5,636.0 435.0,637.3 434.5,636.9 434.0,635.9 433.5,637.1 433.0,636.3 432.5,638.1 432.0,636.3 431.5,634.5 431.0,634.7 430.5,633.8 430.0,633.9 429.5,634.2 429.0,634.8 428.5,635.3 428.0,636.6 427.5,639.1 427.0,641.5 426.5,638.2 426.0,635.1 425.5,632.2 425.0,632.3 424.5,634.2 424.0,636.3 423.5,638.3 423.0,637.7 422.5,636.3 422.0,635.3 421.5,634.6 421.0,633.8 420.5,635.0 420.0,636.9 419.5,638.7 419.0,640.5 418.5,639.4 418.0,637.3 417.5,636.5 417.0,635.1 416.5,633.6 416.0,632.0 415.5,631.4 415.0,630.8 414.5,631.0 414.0,632.1 413.5,633.5 413.0,635.0 412.5,635.3 412.0,633.5 411.5,631.8 411.0,630.8 410.5,632.1 410.0,631.7 409.5,629.9 409.0,629.1 408.5,628.1 408.0,627.5 407.5,627.5 407.0,627.5 406.5,627.5 406.0,628.1 405.5,628.8 405.0,629.7 404.5,629.9 404.0,628.9 403.5,628.0 403.0,627.3 402.5,627.4 402.0,627.4 401.5,629.0 401.0,630.5 400.5,632.8 400.0,631.7 399.5,629.2 399.0,627.2 398.5,627.1 398.0,627.4 397.5,627.8 397.0,626.8 396.5,626.5 396.0,628.2 395.5,629.9 395.0,631.7 394.5,632.3 394.0,630.4 393.5,629.0 393.0,630.8 392.5,631.2 392.0,628.8 391.5,626.5 391.0,625.7 390.5,626.2 390.0,628.0 389.5,629.7 389.0,631.3 388.5,633.0 388.0,634.7 387.5,633.1 387.0,629.3 386.5,632.0 386.0,634.8 385.5,631.3 385.0,628.8 384.5,631.8 384.0,634.8 383.5,634.1 383.0,631.1 382.5,628.0 382.0,624.8 381.5,624.6 381.0,624.2 380.5,623.5 380.0,623.6 379.5,623.5 379.0,624.2 378.5,624.0 378.0,625.1 377.5,624.7 377.0,624.5 376.5,622.7 376.0,624.1 375.5,621.9 375.0,620.4 374.5,621.1 374.0,621.9 373.5,623.0 373.0,624.3 372.5,624.9 372.0,623.8 371.5,622.8 371.0,623.3 370.5,623.1 370.0,622.9 369.5,622.6 369.0,622.8 368.5,623.3 368.0,623.6 367.5,624.3 367.0,623.8 366.5,625.7 366.0,628.2 365.5,628.7 365.0,626.2 364.5,624.6 364.0,624.8 363.5,625.6 363.0,624.1 362.5,625.0 362.0,625.2 361.5,627.7 361.0,630.4 360.5,629.0 360.0,625.9 359.5,623.5 359.0,623.6 358.5,623.2 358.0,623.4 357.5,623.5 357.0,622.3 356.5,621.4 356.0,620.7 355.5,620.1 355.0,621.1 354.5,622.3 354.0,623.5 353.5,624.7 353.0,624.4 352.5,623.5 352.0,622.7 351.5,621.8 351.0,622.2 350.5,622.6 350.0,622.7 349.5,622.7 349.0,623.3 348.5,623.8 348.0,624.5 347.5,627.9 347.0,631.0 346.5,632.1 346.0,628.9 345.5,632.9 345.0,636.9 344.5,634.5 344.0,630.9 343.5,628.2 343.0,625.6 342.5,623.1 342.0,623.9 341.5,625.5 341.0,627.2 340.5,627.8 340.0,626.9 339.5,625.9 339.0,625.0 338.5,624.7 338.0,625.2 337.5,626.1 337.0,627.1 336.5,625.7 336.0,625.8 335.5,624.9 335.0,625.2 334.5,624.1 334.0,624.3 333.5,624.2 333.0,623.7 332.5,624.7 332.0,626.8 331.5,629.1 331.0,630.5 330.5,627.2 330.0,624.0 329.5,620.8 329.0,618.5 328.5,618.5 328.0,618.8 327.5,619.7 327.0,619.5 326.5,620.7 326.0,621.9 325.5,623.1 325.0,623.5 324.5,622.5 324.0,621.6 323.5,621.8 323.0,622.6 322.5,621.9 322.0,622.8 321.5,625.9 321.0,629.0 320.5,632.2 320.0,631.8 319.5,628.6 319.0,625.4 318.5,622.3 318.0,623.2 317.5,625.1 317.0,627.0 316.5,627.1 316.0,625.4 315.5,623.6 315.0,624.0 314.5,622.6 314.0,620.5 313.5,619.9 313.0,620.0 312.5,621.0 312.0,622.0 311.5,623.2 311.0,624.7 310.5,624.7 310.0,623.0 309.5,622.7 309.0,623.3 308.5,621.9 308.0,621.2 307.5,620.1 307.0,619.0 306.5,617.8 306.0,617.9 305.5,619.0 305.0,620.2 304.5,621.4 304.0,620.7 303.5,619.4 303.0,618.1 302.5,617.9 302.0,617.7 301.5,618.8 301.0,618.9 300.5,618.1 300.0,619.6 299.5,621.1 299.0,622.6 298.5,622.1 298.0,622.9 297.5,625.2 297.0,627.6 296.5,625.5 296.0,623.4 295.5,621.4 295.0,619.4 294.5,618.5 294.0,618.4 293.5,621.1 293.0,625.1 292.5,628.9 292.0,632.3 291.5,628.3 291.0,624.3 290.5,620.3 290.0,618.8 289.5,622.9 289.0,626.6 288.5,622.0 288.0,618.1 287.5,618.0 287.0,616.8 286.5,615.6 286.0,614.3 285.5,616.4 285.0,619.1 284.5,621.7 284.0,620.2 283.5,616.5 283.0,613.3 282.5,615.1 282.0,614.8 281.5,612.1 281.0,612.6 280.5,613.3 280.0,612.6 279.5,612.0 279.0,611.7 278.5,615.0 278.0,619.3 277.5,623.4 277.0,626.9 276.5,622.9 276.0,618.8 275.5,614.5 275.0,614.4 274.5,615.8 274.0,617.7 273.5,619.6 273.0,621.6 272.5,619.1 272.0,616.5 271.5,613.9 271.0,611.3 270.5,611.3 270.0,612.8 269.5,611.0 269.0,610.4 268.5,613.4 268.0,615.5 267.5,612.3 267.0,609.2 266.5,610.2 266.0,611.6 265.5,610.6 265.0,609.8 264.5,610.3 264.0,609.7 263.5,609.1 263.0,608.5 262.5,609.3 262.0,608.5 261.5,608.4 261.0,609.2 260.5,609.5 260.0,608.0 259.5,608.8 259.0,608.7 258.5,609.5 258.0,610.3 257.5,610.1 257.0,610.1 256.5,613.3 256.0,616.3 255.5,614.1 255.0,610.8 254.5,614.7 254.0,617.8 253.5,613.6 253.0,609.5 252.5,608.7 252.0,608.5 251.5,609.1 251.0,609.2 250.5,611.1 250.0,613.0 249.5,614.6 249.0,612.9 248.5,611.2 248.0,610.7 247.5,612.0 247.0,613.3 246.5,613.6 246.0,612.1 245.5,610.7 245.0,609.3 244.5,608.3 244.0,608.3 243.5,609.3 243.0,610.3 242.5,611.3 242.0,613.5 241.5,616.1 241.0,613.9 240.5,616.2 240.0,618.8 239.5,617.8 239.0,614.9 238.5,612.1 238.0,609.3 237.5,608.8 237.0,609.7 236.5,609.8 236.0,609.0 235.5,608.3 235.0,608.3 234.5,609.7 234.0,611.0 233.5,612.4 233.0,612.5 232.5,611.2 232.0,611.3 231.5,609.5 231.0,607.7 230.5,606.5 230.0,606.5 229.5,606.0 229.0,607.1 228.5,608.9 228.0,610.7 227.5,612.5 227.0,614.3 226.5,614.7 226.0,614.9 225.5,617.4 225.0,619.9 224.5,617.7 224.0,615.4 223.5,613.0 223.0,616.2 222.5,612.5 222.0,612.2 221.5,610.7 221.0,608.2 220.5,611.1 220.0,616.4 219.5,616.1 219.0,610.8 218.5,607.8 218.0,605.0 217.5,605.9 217.0,606.9 216.5,606.1 216.0,604.1 215.5,602.2 215.0,600.8 214.5,600.1 214.0,599.9 213.5,600.3 213.0,600.5 212.5,599.0 212.0,597.6 211.5,597.5 211.0,597.4 210.5,596.8 210.0,595.4 209.5,594.5 209.0,592.4 208.5,591.2 208.0,589.6 207.5,587.7 207.0,585.4 206.5,583.1 206.0,580.8 205.5,578.4 205.0,576.0 204.5,572.7 204.0,569.3 203.5,564.5 203.0,557.5 202.5,550.0 202.0,540.7 201.5,529.6 201.0,516.5 200.5,501.3 200.0,483.5 199.5,463.0 199.0,439.6 198.5,413.4 198.0,384.6 197.5,353.7 197.0,321.2 196.5,288.1 196.0,255.9 195.5,226.2 195.0,201.2 194.5,183.0 194.0,173.5 193.5,173.7 193.0,183.4 192.5,201.5 192.0,226.0 191.5,254.7 191.0,285.6 190.5,317.0 190.0,347.6 189.5,376.5 189.0,403.2 188.5,427.3 188.0,448.7 187.5,467.2 187.0,483.2 186.5,497.0 186.0,508.7 185.5,518.2 185.0,525.9 184.5,532.6 184.0,537.8 183.5,542.9 183.0,546.9 182.5,551.2 182.0,555.3 181.5,559.4 181.0,562.1 180.5,563.9 180.0,565.5 179.5,566.9 179.0,569.6 178.5,572.8 178.0,576.0 177.5,578.3 177.0,580.3 176.5,582.5 176.0,585.5 175.5,588.4 175.0,590.1 174.5,591.6 174.0,593.9 173.5,595.8 173.0,596.9 172.5,595.5 172.0,595.8 171.5,597.7 171.0,600.8 170.5,600.9 170.0,598.1 169.5,596.3 169.0,596.7 168.5,597.8 168.0,597.9 167.5,597.5 167.0,597.3 166.5,598.2 166.0,598.7 165.5,598.3 165.0,598.0 164.5,598.5 164.0,601.0 163.5,603.4 163.0,604.7 162.5,604.2 162.0,604.1 161.5,602.5 161.0,601.6 160.5,602.3 160.0,603.1 159.5,604.5 159.0,604.8 158.5,603.9 158.0,604.8 157.5,604.9 157.0,603.8 156.5,602.8 156.0,604.7 155.5,606.6 155.0,605.9 154.5,604.5 154.0,603.1 153.5,604.7 153.0,603.4 152.5,604.1 152.0,605.4 151.5,606.3 151.0,607.4 150.5,608.3 150.0,608.2 149.5,607.8 149.0,606.3 148.5,605.3 148.0,605.7 147.5,605.2 147.0,604.9 146.5,604.3 146.0,603.6 145.5,604.0 145.0,604.2 144.5,605.1 144.0,605.9 143.5,606.4 143.0,605.0 142.5,603.6 142.0,602.8 141.5,603.6 141.0,604.4 140.5,604.7 140.0,603.7 139.5,602.7 139.0,601.7 138.5,601.5 138.0,603.1 137.5,604.7 137.0,609.2 136.5,614.5 136.0,613.5 135.5,608.6 135.0,605.9 134.5,605.2 134.0,604.5 133.5,605.3 133.0,604.2 132.5,604.7 132.0,605.3 131.5,606.3 131.0,608.5 130.5,611.4 130.0,614.4 129.5,613.5 129.0,611.8 128.5,614.5 128.0,613.5 127.5,610.0 127.0,606.8 126.5,607.7 126.0,608.2 125.5,609.2 125.0,612.4 124.5,615.0 124.0,610.0 123.5,604.9 123.0,599.7 122.5,597.9 122.0,597.2 121.5,595.8 121.0,598.9 120.5,602.3 120.0,605.4 119.5,600.3 119.0,595.3 118.5,593.9 118.0,595.9 117.5,597.8 117.0,599.9 116.5,600.2 116.0,597.6 115.5,595.0 115.0,592.5 114.5,592.4 114.0,592.4 113.5,590.5 113.0,589.7 112.5,590.3 112.0,592.1 111.5,592.7 111.0,593.1 110.5,593.9 110.0,596.0 109.5,596.9 109.0,598.2 108.5,599.2 108.0,600.4 107.5,602.9 107.0,605.4 106.5,607.8 106.0,608.5 105.5,607.1 105.0,605.5 104.5,603.9 104.0,602.8 103.5,602.6 103.0,603.5 102.5,604.7 102.0,609.7 101.5,615.0 101.0,618.0 100.5,613.3 100.0,608.5 99.5,606.1 99.0,607.3 98.5,610.0 98.0,612.7 97.5,612.0 97.0,609.7 96.5,608.7 96.0,611.5 95.5,611.7 95.0,609.4 94.5,607.0 94.0,608.8 93.5,610.5 93.0,612.2 92.5,613.2 92.0,611.3 91.5,609.5 91.0,613.8 90.5,618.1 90.0,614.5 89.5,610.5 89.0,611.4 88.5,612.7 88.0,610.4 87.5,610.4 87.0,612.9 86.5,615.5 86.0,617.4 85.5,615.9 85.0,614.2 84.5,612.4 84.0,615.6 83.5,619.5 83.0,622.0 82.5,618.1 82.0,614.2 81.5,612.5 81.0,613.5 80.5,612.5 80.0,611.5 79.5,612.0 79.0,613.7 78.5,615.3 78.0,616.7 77.5,615.0 77.0,613.3 76.5,611.7 76.0,612.6 75.5,613.9 75.0,615.2 74.5,616.6 74.0,615.3 73.5,614.1 73.0,613.0 72.5,611.9 72.0,613.5 71.5,614.5 71.0,613.4 70.5,612.8"/><polyline points="70.5,607.6 71.0,607.5 71.5,607.3 72.0,607.0 72.5,606.7 73.0,606.3 73.5,606.0 74.0,605.8 74.5,605.6 75.0,605.6 75.5,605.7 76.0,605.9 76.5,606.1 77.0,606.4 77.5,606.6 78.0,606.7 78.5,606.8 79.0,606.7 79.5,606.6 80.0,606.4 80.5,606.1 81.0,605.9 81.5,605.8 82.0,605.7 82.5,605.7 83.0,605.7 83.5,605.7 84.0,605.7 84.5,605.6 85.0,605.3 85.5,604.8 86.0,604.3 86.5,603.8 87.0,603.2 87.5,602.8 88.0,602.5 88.5,602.4 89.0,602.4 89.5,602.4 90.0,602.6 90.5,602.6 91.0,602.6 91.5,602.6 92.0,602.7 92.5,602.8 93.0,602.9 93.5,603.0 94.0,603.0 94.5,603.0 95.0,602.9 95.5,602.6 96.0,602.4 96.5,602.1 97.0,601.8 97.5,601.6 98.0,601.4 98.5,601.3 99.0,601.1 99.5,600.8 100.0,600.5 100.5,600.3 101.0,600.0 101.5,599.6 102.0,599.3 102.5,599.0 103.0,598.8 103.5,598.6 104.0,598.4 104.5,598.2 105.0,597.9 105.5,597.6 106.0,597.2 106.5,596.7 107.0,596.1 107.5,595.5 108.0,594.8 108.5,594.1 109.0,593.3 109.5,592.4 110.0,591.5 110.5,590.4 111.0,589.4 111.5,588.3 112.0,587.3 112.5,586.3 113.0,585.5 113.5,584.9 114.0,584.5 114.5,584.4 115.0,584.3 115.5,584.4 116.0,584.6 116.5,584.8 117.0,585.1 117.5,585.4 118.0,585.8 118.5,586.3 119.0,586.9 119.5,587.6 120.0,588.4 120.5,589.2 121.0,590.2 121.5,591.2 122.0,592.2 122.5,593.2 123.0,594.1 123.5,595.0 124.0,595.8 124.5,596.4 125.0,597.0 125.5,598.1 126.0,599.0 126.5,599.9 127.0,600.6 127.5,601.3 128.0,601.8 128.5,602.3 129.0,602.6 129.5,603.0 130.0,603.3 130.5,602.6 131.0,602.0 131.5,601.4 132.0,600.9 132.5,600.4 133.0,600.0 133.5,599.6 134.0,599.1 134.5,598.5 135.0,598.0 135.5,597.7 136.0,597.4 136.5,597.2 137.0,597.0 137.5,596.8 138.0,596.7 138.5,596.6 139.0,596.6 139.5,596.6 140.0,596.5 140.5,596.6 141.0,596.7 141.5,596.8 142.0,597.0 142.5,597.3 143.0,597.6 143.5,597.9 144.0,598.2 144.5,598.5 145.0,598.8 145.5,599.0 146.0,599.1 146.5,599.3 147.0,599.4 147.5,599.6 148.0,599.9 148.5,600.2 149.0,600.6 149.5,601.0 150.0,601.3 150.5,601.4 151.0,601.4 151.5,601.3 152.0,601.0 152.5,600.6 153.0,600.1 153.5,599.5 154.0,598.9 154.5,598.4 155.0,598.0 155.5,597.7 156.0,597.6 156.5,597.6 157.0,597.5 157.5,597.5 158.0,597.4 158.5,597.3 159.0,597.1 159.5,596.8 160.0,596.6 160.5,596.3 161.0,596.1 161.5,595.8 162.0,595.5 162.5,595.2 163.0,594.8 163.5,594.4 164.0,593.9 164.5,593.3 165.0,592.6 165.5,592.6 166.0,592.5 166.5,592.4 167.0,592.1 167.5,591.8 168.0,591.5 168.5,591.1 169.0,590.8 169.5,590.6 170.0,590.5 170.5,590.3 171.0,590.2 171.5,590.0 172.0,589.8 172.5,589.5 173.0,589.0 173.5,588.2 174.0,587.2 174.5,586.0 175.0,584.5 175.5,582.4 176.0,580.1 176.5,577.7 177.0,575.2 177.5,572.7 178.0,570.3 178.5,567.8 179.0,565.3 179.5,562.8 180.0,560.3 180.5,557.7 181.0,555.2 181.5,552.5 182.0,549.7 182.5,546.7 183.0,543.3 183.5,539.5 184.0,534.9 184.5,529.5 185.0,523.0 185.5,515.2 186.0,505.7 186.5,494.3 187.0,480.8 187.5,464.8 188.0,446.3 188.5,424.9 189.0,400.8 189.5,374.1 190.0,345.2 190.5,314.6 191.0,283.2 191.5,252.3 192.0,223.6 192.5,199.1 193.0,181.0 193.5,171.3 194.0,171.1 194.5,180.6 195.0,198.8 195.5,223.8 196.0,253.5 196.5,285.7 197.0,318.8 197.5,351.3 198.0,382.2 198.5,411.0 199.0,437.2 199.5,460.6 200.0,481.1 200.5,498.9 201.0,514.1 201.5,527.0 202.0,537.7 202.5,546.7 203.0,554.0 203.5,560.0 204.0,565.0 204.5,569.0 205.0,572.4 205.5,575.3 206.0,577.8 206.5,580.1 207.0,582.1 207.5,584.0 208.0,585.7 208.5,587.2 209.0,588.5 209.5,589.6 210.0,590.4 210.5,591.1 211.0,591.7 211.5,592.2 212.0,592.6 212.5,593.1 213.0,593.5 213.5,594.0 214.0,594.5 214.5,595.0 215.0,595.5 215.5,595.9 216.0,596.4 216.5,596.9 217.0,597.4 217.5,597.9 218.0,598.4 218.5,598.9 219.0,599.5 219.5,600.0 220.0,600.6 220.5,601.1 221.0,601.7 221.5,602.2 222.0,602.7 222.5,603.1 223.0,603.4 223.5,603.6 224.0,603.7 224.5,603.6 225.0,603.5 225.5,603.3 226.0,603.2 226.5,603.0 227.0,602.8 227.5,602.7 228.0,602.6 228.5,602.6 229.0,602.6 229.5,602.6 230.0,602.7 230.5,602.8 231.0,603.0 231.5,603.1 232.0,603.2 232.5,603.2 233.0,603.2 233.5,603.1 234.0,603.0 234.5,602.9 235.0,602.8 235.5,602.7 236.0,602.6 236.5,602.6 237.0,602.5 237.5,602.5 238.0,602.4 238.5,602.5 239.0,602.5 239.5,602.6 240.0,602.8 240.5,603.0 241.0,603.1 241.5,603.3 242.0,603.5 242.5,603.6 243.0,603.6 243.5,603.7 244.0,603.8 244.5,603.8 245.0,603.8 245.5,603.9 246.0,604.0 246.5,604.0 247.0,604.1 247.5,604.2 248.0,604.3 248.5,604.4 249.0,604.4 249.5,604.3 250.0,604.2 250.5,604.0 251.0,603.8 251.5,603.6 252.0,603.5 252.5,603.4 253.0,603.5 253.5,603.6 254.0,603.8 254.5,604.0 255.0,604.2 255.5,604.4 256.0,604.5 256.5,604.5 257.0,604.5 257.5,604.5 258.0,604.5 258.5,604.5 259.0,604.5 259.5,604.5 260.0,604.5 260.5,604.5 261.0,604.5 261.5,604.5 262.0,604.3 262.5,604.2 263.0,604.0 263.5,603.8 264.0,603.6 264.5,603.4 265.0,603.2 265.5,603.1 266.0,602.9 266.5,602.8 267.0,602.7 267.5,602.6 268.0,602.6 268.5,602.8 269.0,603.0 269.5,603.3 270.0,603.6 270.5,603.9 271.0,604.3 271.5,604.5 272.0,604.8 272.5,605.0 273.0,605.2 273.5,605.5 274.0,605.9 274.5,606.4 275.0,606.9 275.5,607.3 276.0,607.7 276.5,607.9 277.0,608.0 277.5,607.9 278.0,607.6 278.5,607.2 279.0,606.9 279.5,606.5 280.0,606.2 280.5,606.1 281.0,606.1 281.5,606.2 282.0,606.5 282.5,607.0 283.0,607.5 283.5,608.0 284.0,608.6 284.5,609.1 285.0,609.6 285.5,610.0 286.0,610.4 286.5,610.7 287.0,611.1 287.5,611.4 288.0,611.6 288.5,611.9 289.0,612.1 289.5,612.4 290.0,612.6 290.5,612.9 291.0,613.2 291.5,613.4 292.0,613.5 292.5,613.6 293.0,613.5 293.5,613.4 294.0,613.1 294.5,612.8 295.0,612.4 295.5,612.0 296.0,611.6 296.5,611.4 297.0,611.2 297.5,611.1 298.0,611.2 298.5,611.3 299.0,611.5 299.5,611.7 300.0,611.9 300.5,612.1 301.0,612.2 301.5,612.3 302.0,612.3 302.5,612.3 303.0,612.2 303.5,612.2 304.0,612.2 304.5,612.2 305.0,612.4 305.5,612.6 306.0,612.9 306.5,613.1 307.0,613.4 307.5,613.6 308.0,613.9 308.5,614.2 309.0,614.4 309.5,614.7 310.0,614.9 310.5,615.0 311.0,615.2 311.5,615.2 312.0,615.2 312.5,615.2 313.0,615.2 313.5,615.1 314.0,615.1 314.5,615.1 315.0,615.2 315.5,615.2 316.0,615.3 316.5,615.3 317.0,615.2 317.5,615.1 318.0,615.0 318.5,614.8 319.0,614.6 319.5,614.5 320.0,614.5 320.5,614.5 321.0,614.6 321.5,614.7 322.0,614.8 322.5,615.0 323.0,615.1 323.5,615.1 324.0,615.2 324.5,615.2 325.0,615.2 325.5,615.2 326.0,615.1 326.5,614.9 327.0,614.7 327.5,614.6 328.0,614.4 328.5,614.4 329.0,614.6 329.5,614.9 330.0,615.3 330.5,615.9 331.0,616.5 331.5,617.0 332.0,617.5 332.5,617.9 333.0,618.2 333.5,618.5 334.0,618.7 334.5,619.1 335.0,619.4 335.5,619.8 336.0,620.2 336.5,620.6 337.0,620.8 337.5,620.9 338.0,620.8 338.5,620.6 339.0,620.1 339.5,619.6 340.0,619.0 340.5,618.5 341.0,618.0 341.5,617.7 342.0,617.5 342.5,617.5 343.0,617.5 343.5,617.8 344.0,618.1 344.5,618.5 345.0,618.9 345.5,619.4 346.0,619.8 346.5,620.1 347.0,620.3 347.5,620.3 348.0,620.2 348.5,619.8 349.0,619.4 349.5,618.9 350.0,618.4 350.5,617.9 351.0,617.4 351.5,617.0 352.0,616.7 352.5,616.5 353.0,616.2 353.5,616.1 354.0,615.9 354.5,615.8 355.0,615.8 355.5,615.8 356.0,616.0 356.5,616.2 357.0,616.5 357.5,616.9 358.0,617.5 358.5,618.1 359.0,618.7 359.5,619.3 360.0,619.8 360.5,620.2 361.0,620.4 361.5,620.4 362.0,620.4 362.5,620.3 363.0,620.2 363.5,620.1 364.0,620.1 364.5,620.2 365.0,620.2 365.5,620.3 366.0,620.3 366.5,620.2 367.0,620.0 367.5,619.8 368.0,619.5 368.5,619.1 369.0,618.7 369.5,618.2 370.0,617.7 370.5,617.2 371.0,616.7 371.5,616.2 372.0,615.7 372.5,615.4 373.0,615.3 373.5,615.4 374.0,615.6 374.5,616.1 375.0,616.8 375.5,617.5 376.0,618.3 376.5,619.1 377.0,619.7 377.5,620.2 378.0,620.4 378.5,620.5 379.0,620.4 379.5,620.3 380.0,620.1 380.5,620.1 381.0,620.1 381.5,620.3 382.0,620.5 382.5,620.8 383.0,621.0 383.5,621.2 384.0,621.2 384.5,621.1 385.0,620.9 385.5,620.7 386.0,620.6 386.5,620.5 387.0,620.5 387.5,620.6 388.0,620.7 388.5,620.9 389.0,621.1 389.5,621.3 390.0,621.4 390.5,621.5 391.0,621.5 391.5,621.4 392.0,621.4 392.5,621.2 393.0,621.1 393.5,621.0 394.0,620.9 394.5,620.9 395.0,620.9 395.5,621.0 396.0,621.1 396.5,621.3 397.0,621.5 397.5,621.9 398.0,622.2 398.5,622.5 399.0,622.8 399.5,623.1 400.0,623.2 400.5,623.3 401.0,623.3 401.5,623.1 402.0,622.9 402.5,622.6 403.0,622.3 403.5,622.0 404.0,621.9 404.5,621.8 405.0,621.9 405.5,622.1 406.0,622.4 406.5,622.7 407.0,623.1 407.5,623.4 408.0,623.6 408.5,623.9 409.0,624.1 409.5,624.3 410.0,624.6 410.5,624.8 411.0,625.1 411.5,625.3 412.0,625.4 412.5,625.6 413.0,625.7 413.5,625.8 414.0,626.0 414.5,626.2 415.0,626.4 415.5,626.8 416.0,627.1 416.5,627.5 417.0,627.9 417.5,628.2 418.0,628.4 418.5,628.6 419.0,628.7 419.5,628.8 420.0,628.8 420.5,628.9 421.0,628.9 421.5,628.9 422.0,628.9 422.5,628.7 423.0,628.4 423.5,628.1 424.0,627.7 424.5,627.3 425.0,627.1 425.5,627.0 426.0,627.0 426.5,627.3 427.0,627.6 427.5,628.0 428.0,628.5 428.5,628.9 429.0,629.2 429.5,629.4 430.0,629.6 430.5,629.5 431.0,629.3 431.5,629.1 432.0,628.8 432.5,628.5 433.0,628.2 433.5,627.9 434.0,627.7 434.5,627.6 435.0,627.5 435.5,627.5 436.0,627.6 436.5,627.7 437.0,627.9 437.5,628.1 438.0,628.4 438.5,628.7 439.0,628.9 439.5,629.2 440.0,629.5 440.5,629.8 441.0,630.0 441.5,630.2 442.0,630.2 442.5,630.0 443.0,629.8 443.5,629.5 444.0,629.2 444.5,628.9 445.0,628.7 445.5,628.7 446.0,628.7 446.5,628.8 447.0,628.9 447.5,629.0 448.0,629.1 448.5,629.2 449.0,629.2 449.5,629.1 450.0,629.0 450.5,628.9 451.0,628.8 451.5,628.6 452.0,628.5 452.5,628.3 453.0,628.2 453.5,628.0 454.0,627.8 454.5,627.6 455.0,627.4 455.5,627.3 456.0,627.1 456.5,627.0 457.0,626.9 457.5,626.8 458.0,626.6 458.5,626.4 459.0,626.1 459.5,625.8 460.0,625.5 460.5,625.3 461.0,625.1 461.5,625.0 462.0,625.1 462.5,625.2 463.0,625.4 463.5,625.5 464.0,625.7 464.5,625.9 465.0,626.0 465.5,626.1 466.0,626.2 466.5,626.4 467.0,626.6 467.5,626.8 468.0,627.0 468.5,627.3 469.0,627.4 469.5,627.6 470.0,627.6 470.5,627.7 471.0,627.6 471.5,627.5 472.0,627.3 472.5,627.1 473.0,626.7 473.5,626.4 474.0,626.2 474.5,626.0 475.0,626.0 475.5,626.0 476.0,626.1 476.5,626.4 477.0,626.6 477.5,626.9 478.0,627.1 478.5,627.2 479.0,627.3 479.5,627.3 480.0,627.3 480.5,627.2 481.0,627.1 481.5,627.1 482.0,627.2 482.5,627.3 483.0,627.5 483.5,627.7 484.0,627.8 484.5,627.9 485.0,627.8 485.5,627.6 486.0,627.2 486.5,626.7 487.0,626.2 487.5,625.6 488.0,625.1 488.5,624.8 489.0,624.6 489.5,624.6 490.0,624.8 490.5,625.1 491.0,625.4 491.5,625.8 492.0,626.1 492.5,626.3 493.0,626.5 493.5,626.7 494.0,626.8 494.5,627.0 495.0,627.2 495.5,627.4 496.0,627.6 496.5,627.8 497.0,627.9 497.5,628.1 498.0,628.3 498.5,628.4 499.0,628.6 499.5,628.8 500.0,629.0 500.5,629.1 501.0,629.2 501.5,629.2 502.0,629.1 502.5,629.0 503.0,628.8 503.5,628.5 504.0,628.3 504.5,628.0 505.0,627.8 505.5,627.6 506.0,627.4 506.5,627.2 507.0,627.0 507.5,626.7 508.0,626.4 508.5,626.1 509.0,625.7 509.5,625.3 510.0,624.9 510.5,624.6 511.0,624.2 511.5,624.0 512.0,623.7 512.5,623.6 513.0,623.5 513.5,623.4 514.0,623.4 514.5,623.4 515.0,623.5 515.5,623.5 516.0,623.5 516.5,623.6 517.0,623.5 517.5,623.5 518.0,623.5 518.5,623.5 519.0,623.5 519.5,623.5 520.0,623.5 520.5,623.5 521.0,623.6 521.5,623.8 522.0,623.9 522.5,624.1 523.0,624.2 523.5,624.3 524.0,624.4 524.5,624.3 525.0,624.2 525.5,624.1 526.0,623.9 526.5,623.7 527.0,623.6 527.5,623.5 528.0,623.4 528.5,623.4 529.0,623.5 529.5,623.6 530.0,623.8 530.5,624.0 531.0,624.2 531.5,624.3 532.0,624.4 532.5,624.4 533.0,624.3 533.5,624.2 534.0,623.9 534.5,623.7 535.0,623.5 535.5,623.4 536.0,623.3 536.5,623.4 537.0,623.6 537.5,623.9 538.0,624.2 538.5,624.5 539.0,624.6 539.5,624.6 540.0,624.4 540.5,624.2 541.0,623.9 541.5,623.6 542.0,623.3 542.5,623.0 543.0,622.9 543.5,622.9 544.0,622.9 544.5,623.1 545.0,623.2 545.5,623.3 546.0,623.4 546.5,623.5 547.0,623.5 547.5,623.5 548.0,623.5 548.5,623.5 549.0,623.4 549.5,623.4 550.0,623.4 550.5,623.5 551.0,623.6 551.5,623.8 552.0,624.1 552.5,624.3 553.0,624.5 553.5,624.7 554.0,624.9 554.5,625.0 555.0,625.0 555.5,625.1 556.0,625.0 556.5,625.0 557.0,624.9 557.5,624.8 558.0,624.6 558.5,624.5 559.0,624.3 559.5,624.2 560.0,624.2 560.5,624.2 561.0,624.2 561.5,624.2 562.0,624.3 562.5,624.3 563.0,624.3 563.5,624.2 564.0,624.0 564.5,623.7 565.0,623.4 565.5,623.1 566.0,622.8 566.5,622.7 567.0,622.6 567.5,622.8 568.0,623.1 568.5,623.5 569.0,623.9 569.5,624.4 570.0,624.8 570.5,625.1 571.0,625.2 571.5,625.2 572.0,625.1 572.5,625.0 573.0,624.8 573.5,624.7 574.0,624.7 574.5,624.8 575.0,625.0 575.5,625.3 576.0,625.7 576.5,626.0 577.0,626.3 577.5,626.4 578.0,626.5 578.5,626.5 579.0,626.4 579.5,626.3 580.0,626.3 580.5,626.3 581.0,626.4 581.5,626.5 582.0,626.7 582.5,626.9 583.0,627.1 583.5,627.3 584.0,627.6 584.5,627.9 585.0,628.2 585.5,628.5 586.0,628.8 586.5,629.0 587.0,629.2 587.5,629.2 588.0,629.2 588.5,629.0 589.0,628.8 589.5,628.5 590.0,628.2 590.5,628.0 591.0,627.8 591.5,627.8 592.0,627.8 592.5,627.9 593.0,628.0 593.5,628.0 594.0,628.0 594.5,628.0 595.0,627.8 595.5,627.7 596.0,627.5 596.5,627.3 597.0,627.1 597.5,627.0 598.0,627.0 598.5,627.0 599.0,627.0 599.5,627.1 600.0,627.2 600.5,627.2 601.0,627.2 601.5,627.1 602.0,627.0 602.5,626.9 603.0,626.8 603.5,626.7 604.0,626.6 604.5,626.5 605.0,626.5 605.5,626.4 606.0,626.3 606.5,626.3 607.0,626.3 607.5,626.4 608.0,626.7 608.5,627.1 609.0,627.5 609.5,628.1 610.0,628.5 610.5,628.9 611.0,629.1 611.5,629.2 612.0,629.0 612.5,628.8 613.0,628.4 613.5,628.1 614.0,627.8 614.5,627.6 615.0,627.5 615.5,627.5 616.0,627.5 616.5,627.6 617.0,627.6 617.5,627.7 618.0,627.6 618.5,627.5 619.0,627.5 619.5,627.4 620.0,627.4 620.5,627.4 621.0,627.4 621.5,627.5 622.0,627.6 622.5,627.7 623.0,627.9 623.5,628.1 624.0,628.5 624.5,628.9 625.0,629.3 625.5,629.6 626.0,629.9 626.5,630.1 627.0,630.2 627.5,630.2 628.0,630.1 628.5,630.0 629.0,629.8 629.5,629.5 630.0,629.3 630.5,629.0 631.0,628.8 631.5,628.6 632.0,628.6 632.5,628.7 633.0,628.9 633.5,629.1 634.0,629.5 634.5,629.8 635.0,630.1 635.5,630.4 636.0,630.6 636.5,630.8 637.0,631.0 637.5,631.2 638.0,631.4 638.5,631.6 639.0,631.7 639.5,631.8 640.0,631.9 640.5,631.9 641.0,631.8 641.5,631.7 642.0,631.5 642.5,631.3 643.0,631.0 643.5,630.7 644.0,630.4 644.5,630.0 645.0,629.6 645.5,629.2 646.0,628.8 646.5,628.5 647.0,628.2 647.5,628.1 648.0,628.0 648.5,628.0 649.0,628.1 649.5,628.3 650.0,628.5 650.5,628.8 651.0,629.0 651.5,629.3 652.0,629.5 652.5,629.7 653.0,629.8 653.5,629.9 654.0,629.9 654.5,629.9 655.0,629.9 655.5,629.8 656.0,629.8 656.5,629.7 657.0,629.6 657.5,629.5 658.0,629.4 658.5,629.3 659.0,629.2 659.5,629.2 660.0,629.2 660.5,629.2 661.0,629.2 661.5,629.3 662.0,629.4 662.5,629.5 663.0,629.6 663.5,629.8 664.0,629.9 664.5,630.0 665.0,630.1 665.5,630.2 666.0,630.4 666.5,630.5 667.0,630.7 667.5,630.9 668.0,631.0 668.5,631.1 669.0,631.1 669.5,630.9 670.0,630.5 670.5,630.1 671.0,629.5 671.5,628.8 672.0,628.2 672.5,627.6 673.0,627.0 673.5,626.7 674.0,626.5 674.5,626.5 675.0,626.6 675.5,626.9 676.0,627.3 676.5,627.8 677.0,628.2 677.5,628.6 678.0,629.0 678.5,629.3 679.0,629.5 679.5,629.5 680.0,629.5 680.5,629.3 681.0,629.2 681.5,629.0 682.0,628.9 682.5,629.0 683.0,629.1 683.5,629.3 684.0,629.6 684.5,629.9 685.0,630.2 685.5,630.3 686.0,630.4 686.5,630.3 687.0,630.2 687.5,629.9 688.0,629.7 688.5,629.4 689.0,629.2 689.5,629.1 690.0,629.0 690.5,628.9 691.0,628.7 691.5,628.5 692.0,628.2 692.5,627.8 693.0,627.4 693.5,626.9 694.0,626.4 694.5,626.1 695.0,625.8 695.5,625.7 696.0,625.7 696.5,625.7 697.0,625.8 697.5,625.9 698.0,626.0 698.5,625.9 699.0,625.9 699.5,625.8 700.0,625.7 700.5,625.7 701.0,625.7 701.5,625.7 702.0,625.7 702.5,625.7 703.0,625.7 703.5,625.7 704.0,625.6 704.5,625.6 705.0,625.6 705.5,625.6 706.0,625.6 706.5,625.6 707.0,625.6 707.5,625.6 708.0,625.6 708.5,625.7 709.0,625.9 709.5,626.1 710.0,626.3 710.5,626.6 711.0,626.9 711.5,627.1 712.0,627.3 712.5,627.4 713.0,627.4 713.5,627.3 714.0,627.2 714.5,627.1 715.0,627.0 715.5,627.0 716.0,627.1 716.5,627.3 717.0,627.5 717.5,627.8 718.0,628.0 718.5,628.2 719.0,628.3 719.5,628.3 720.0,628.2 720.5,628.1 721.0,627.9 721.5,627.7 722.0,627.4 722.5,627.1 723.0,626.7 723.5,626.3 724.0,625.9 724.5,625.4 725.0,624.9 725.5,624.4 726.0,624.0 726.5,623.5 727.0,623.2 727.5,623.0 728.0,622.9 728.5,622.9 729.0,622.9 729.5,623.1 730.0,623.2 730.5,623.3 731.0,623.3 731.5,623.3 732.0,623.3 732.5,623.2 733.0,623.2 733.5,623.2 734.0,623.2 734.5,623.2 735.0,623.2 735.5,623.3 736.0,623.3 736.5,623.4 737.0,623.5 737.5,623.6 738.0,623.7 738.5,623.8 739.0,623.9 739.5,624.0 740.0,624.0 740.5,624.0 741.0,624.1 741.5,624.1 742.0,624.2 742.5,624.3 743.0,624.4 743.5,624.5 744.0,624.6 744.5,624.6 745.0,624.5 745.5,624.2 746.0,623.9 746.5,623.5 747.0,623.1 747.5,622.8 748.0,622.5 748.5,622.3 749.0,622.2 749.5,622.3 750.0,622.4 750.5,622.5 751.0,622.6 751.5,622.6 752.0,622.6 752.5,622.5 753.0,622.3 753.5,622.1 754.0,621.9 754.5,621.7 755.0,621.6 755.5,621.6 756.0,621.9 756.5,622.4 757.0,623.0 757.5,623.8 758.0,624.5 758.5,625.1 759.0,625.6 759.5,625.8 760.0,625.8 760.5,625.7 761.0,625.5 761.5,625.1 762.0,624.8 762.5,624.4 763.0,624.1 763.5,623.8 764.0,623.5 764.5,623.2 765.0,622.9 765.5,622.8 766.0,622.6 766.5,622.6 767.0,622.6 767.5,622.8 768.0,622.9 768.5,623.1 769.0,623.2 769.5,623.3 770.0,623.2 770.5,623.2 771.0,623.0 771.5,622.9 772.0,622.8 772.5,622.7 773.0,622.6 773.5,622.6 774.0,622.6 774.5,622.6 775.0,622.6 775.5,622.6 776.0,622.6 776.5,622.6 777.0,622.5 777.5,622.5 778.0,622.4 778.5,622.3 779.0,622.2 779.5,622.1 780.0,622.1 780.5,622.0 781.0,622.0 781.5,622.1 782.0,622.2 782.5,622.3 783.0,622.3 783.5,622.3 784.0,622.3 784.5,622.1 785.0,622.0 785.5,621.9 786.0,621.9 786.5,621.9 787.0,622.0 787.5,622.2 788.0,622.4 788.5,622.6 789.0,622.9 789.5,623.1 790.0,623.3 790.5,623.6 791.0,623.8 791.5,623.9 792.0,624.0 792.5,624.1 793.0,624.1 793.5,624.0 794.0,623.9 794.5,623.8 795.0,623.6 795.5,623.5 796.0,623.3 796.5,623.2 797.0,623.1 797.5,623.1 798.0,623.0 798.5,623.0 799.0,623.0 799.5,623.0 800.0,623.0 800.5,623.0 801.0,623.0 801.5,622.9 802.0,622.8 802.5,622.5 803.0,622.2 803.5,621.9 804.0,621.4 804.5,621.0 805.0,620.5 805.5,620.1 806.0,619.7 806.5,619.3 807.0,619.1 807.5,619.0 808.0,618.9 808.5,619.1 809.0,619.2 809.5,619.5 810.0,619.7 810.5,619.9 811.0,620.1 811.5,620.2 812.0,620.2 812.5,620.2 813.0,620.2 813.5,620.1 814.0,619.9 814.5,619.8 815.0,619.5 815.5,619.3 816.0,619.0 816.5,618.7 817.0,618.5 817.5,618.2 818.0,618.1 818.5,617.9 819.0,617.9 819.5,617.9 820.0,618.0 820.5,618.1 821.0,618.3 821.5,618.5 822.0,618.6 822.5,618.8 823.0,618.9 823.5,619.0 824.0,619.0 824.5,619.1 825.0,619.1 825.5,619.1 826.0,619.0 826.5,618.9 827.0,618.9 827.5,618.8 828.0,618.7 828.5,618.7 829.0,618.7 829.5,618.6 830.0,618.5 830.5,618.4 831.0,618.2 831.5,617.9 832.0,617.6 832.5,617.2 833.0,617.0 833.5,616.7 834.0,616.6 834.5,616.5 835.0,616.5 835.5,616.5 836.0,616.6 836.5,616.7 837.0,616.8 837.5,616.8 838.0,616.8 838.5,616.7 839.0,616.6 839.5,616.5 840.0,616.4 840.5,616.5 841.0,616.5 841.5,616.7 842.0,616.9 842.5,617.1 843.0,617.3 843.5,617.5 844.0,617.6 844.5,617.6 845.0,617.4 845.5,617.2 846.0,616.9 846.5,616.6 847.0,616.3 847.5,616.0 848.0,615.7 848.5,615.3 849.0,614.9 849.5,614.5 850.0,614.1 850.5,613.6 851.0,613.2 851.5,612.9 852.0,612.8 852.5,612.8 853.0,613.0 853.5,613.3 854.0,613.7 854.5,614.1 855.0,614.5 855.5,614.9 856.0,615.1 856.5,615.2 857.0,615.2 857.5,615.2 858.0,615.2 858.5,615.2 859.0,615.4 859.5,615.7 860.0,616.2 860.5,616.8 861.0,617.5 861.5,618.2 862.0,618.9 862.5,619.4 863.0,619.7 863.5,619.9 864.0,619.8 864.5,619.5 865.0,619.1 865.5,618.5 866.0,617.8 866.5,617.1 867.0,616.5 867.5,615.9 868.0,615.3 868.5,614.8 869.0,614.4 869.5,613.9 870.0,613.6 870.5,613.3 871.0,613.0 871.5,612.9 872.0,612.8 872.5,612.8 873.0,612.9 873.5,613.1 874.0,613.3 874.5,613.6 875.0,613.9 875.5,614.1 876.0,614.3 876.5,614.3 877.0,614.3 877.5,614.1 878.0,613.9 878.5,613.6 879.0,613.2 879.5,612.9 880.0,612.6 880.5,612.5 881.0,612.4 881.5,612.4 882.0,612.4 882.5,612.4 883.0,612.4 883.5,612.3 884.0,612.1 884.5,611.8 885.0,611.5 885.5,611.3 886.0,611.1 886.5,611.0 887.0,611.0 887.5,611.1 888.0,611.3 888.5,611.5 889.0,611.7 889.5,611.9 890.0,612.0 890.5,612.1 891.0,612.1 891.5,612.1 892.0,612.1 892.5,612.0 893.0,611.9 893.5,611.8 894.0,611.7 894.5,611.5 895.0,611.3 895.5,611.0 896.0,610.7 896.5,610.4 897.0,610.1 897.5,609.9 898.0,609.7 898.5,609.6 899.0,609.6 899.5,609.6 900.0,609.6 900.5,609.5 901.0,609.5 901.5,609.4 902.0,609.3 902.5,609.1 903.0,609.1 903.5,609.1 904.0,609.2 904.5,609.4 905.0,609.7 905.5,610.0 906.0,610.3 906.5,610.6 907.0,610.8 907.5,610.9 908.0,610.9 908.5,610.9 909.0,610.8 909.5,610.8 910.0,610.7 910.5,610.8 911.0,610.8 911.5,611.0 912.0,611.1 912.5,611.2 913.0,611.3 913.5,611.3 914.0,611.3 914.5,611.1 915.0,611.0 915.5,610.8" fill="none" stroke="#231f20" stroke-width="4.8" stroke-linejoin="miter" stroke-miterlimit="4"/><polygon points="70.5,705.6 71.0,703.7 71.5,705.0 72.0,706.5 72.5,708.1 73.0,709.8 73.5,708.6 74.0,707.1 74.5,705.7 75.0,707.6 75.5,709.3 76.0,708.6 76.5,707.4 77.0,706.5 77.5,707.0 78.0,707.5 78.5,708.0 79.0,708.5 79.5,707.9 80.0,708.6 80.5,708.0 81.0,707.7 81.5,707.3 82.0,707.3 82.5,706.9 83.0,706.2 83.5,704.6 84.0,701.2 84.5,697.7 85.0,694.4 85.5,697.3 86.0,700.7 86.5,702.4 87.0,704.5 87.5,706.5 88.0,706.6 88.5,704.1 89.0,701.2 89.5,698.1 90.0,695.0 90.5,695.8 91.0,698.3 91.5,700.9 92.0,703.6 92.5,706.4 93.0,706.5 93.5,706.1 94.0,706.5 94.5,705.9 95.0,706.7 95.5,708.2 96.0,709.6 96.5,710.3 97.0,710.5 97.5,711.0 98.0,711.0 98.5,709.6 99.0,709.8 99.5,710.1 100.0,709.0 100.5,707.9 101.0,707.7 101.5,707.2 102.0,706.4 102.5,706.4 103.0,706.9 103.5,707.4 104.0,706.7 104.5,706.0 105.0,705.3 105.5,705.9 106.0,706.6 106.5,707.3 107.0,707.1 107.5,706.6 108.0,705.5 108.5,703.9 109.0,703.5 109.5,702.5 110.0,703.8 110.5,702.8 111.0,703.2 111.5,705.2 112.0,707.1 112.5,708.4 113.0,709.5 113.5,709.6 114.0,710.2 114.5,710.7 115.0,711.1 115.5,710.0 116.0,710.8 116.5,709.5 117.0,710.2 117.5,709.1 118.0,707.1 118.5,706.8 119.0,705.0 119.5,705.3 120.0,706.6 120.5,707.4 121.0,707.3 121.5,706.4 122.0,705.6 122.5,704.9 123.0,703.4 123.5,701.0 124.0,698.6 124.5,699.4 125.0,702.0 125.5,704.5 126.0,707.0 126.5,705.4 127.0,704.1 127.5,705.8 128.0,707.5 128.5,706.4 129.0,704.0 129.5,701.6 130.0,699.3 130.5,699.6 131.0,702.1 131.5,704.7 132.0,707.1 132.5,706.8 133.0,707.8 133.5,708.9 134.0,708.0 134.5,708.8 135.0,707.4 135.5,704.9 136.0,701.3 136.5,701.1 137.0,703.9 137.5,705.3 138.0,703.4 138.5,701.2 139.0,700.5 139.5,703.0 140.0,705.5 140.5,707.1 141.0,705.6 141.5,704.5 142.0,704.2 142.5,705.4 143.0,706.7 143.5,703.3 144.0,698.4 144.5,701.5 145.0,706.3 145.5,708.4 146.0,707.2 146.5,706.0 147.0,704.9 147.5,705.6 148.0,706.4 148.5,706.7 149.0,707.0 149.5,707.4 150.0,707.4 150.5,707.6 151.0,706.6 151.5,703.6 152.0,700.6 152.5,700.7 153.0,700.7 153.5,702.4 154.0,704.7 154.5,705.8 155.0,706.3 155.5,705.6 156.0,706.2 156.5,705.3 157.0,701.7 157.5,698.1 158.0,700.0 158.5,703.9 159.0,705.8 159.5,704.3 160.0,702.7 160.5,702.3 161.0,700.4 161.5,701.6 162.0,702.9 162.5,704.2 163.0,705.5 163.5,705.7 164.0,704.7 164.5,703.6 165.0,703.5 165.5,703.5 166.0,701.8 166.5,699.9 167.0,699.3 167.5,699.8 168.0,700.3 168.5,700.8 169.0,699.6 169.5,700.2 170.0,699.2 170.5,699.9 171.0,698.1 171.5,698.9 172.0,699.0 172.5,697.9 173.0,696.5 173.5,695.1 174.0,693.7 174.5,692.7 175.0,693.1 175.5,694.4 176.0,695.4 176.5,696.0 177.0,694.5 177.5,694.6 178.0,694.0 178.5,694.1 179.0,693.0 179.5,692.9 180.0,692.4 180.5,691.4 181.0,689.3 181.5,687.2 182.0,685.2 182.5,684.5 183.0,683.5 183.5,681.8 184.0,679.8 184.5,677.4 185.0,674.3 185.5,670.6 186.0,666.3 186.5,661.2 187.0,655.2 187.5,648.3 188.0,640.5 188.5,631.7 189.0,621.9 189.5,611.1 190.0,599.4 190.5,587.0 191.0,574.1 191.5,561.3 192.0,549.1 192.5,538.2 193.0,529.6 193.5,524.2 194.0,522.5 194.5,524.8 195.0,530.9 195.5,540.0 196.0,551.4 196.5,564.1 197.0,577.4 197.5,590.6 198.0,603.3 198.5,615.3 199.0,626.3 199.5,636.3 200.0,645.2 200.5,653.2 201.0,660.1 201.5,665.9 202.0,671.1 202.5,675.5 203.0,679.4 203.5,682.8 204.0,685.5 204.5,687.9 205.0,690.0 205.5,691.7 206.0,693.0 206.5,692.6 207.0,691.6 207.5,692.8 208.0,695.6 208.5,697.8 209.0,698.1 209.5,699.6 210.0,700.5 210.5,700.5 211.0,698.7 211.5,698.9 212.0,702.3 212.5,704.2 213.0,703.7 213.5,704.6 214.0,706.2 214.5,705.3 215.0,704.1 215.5,702.9 216.0,701.7 216.5,702.1 217.0,704.7 217.5,704.3 218.0,701.6 218.5,705.5 219.0,708.6 219.5,708.9 220.0,705.5 220.5,702.1 221.0,705.7 221.5,709.4 222.0,709.6 222.5,709.8 223.0,710.9 223.5,712.0 224.0,713.1 224.5,712.1 225.0,712.6 225.5,712.0 226.0,712.1 226.5,712.9 227.0,712.8 227.5,711.9 228.0,711.9 228.5,712.4 229.0,711.9 229.5,709.6 230.0,707.3 230.5,705.0 231.0,705.7 231.5,707.3 232.0,709.0 232.5,707.4 233.0,706.0 233.5,708.1 234.0,708.6 234.5,707.0 235.0,708.3 235.5,710.0 236.0,710.3 236.5,710.4 237.0,711.2 237.5,710.8 238.0,710.0 238.5,709.1 239.0,708.2 239.5,708.7 240.0,709.4 240.5,710.3 241.0,711.0 241.5,710.7 242.0,710.4 242.5,709.3 243.0,710.1 243.5,709.1 244.0,709.3 244.5,709.2 245.0,708.4 245.5,707.2 246.0,706.8 246.5,706.0 247.0,705.9 247.5,705.4 248.0,704.8 248.5,705.7 249.0,706.9 249.5,707.6 250.0,706.8 250.5,706.1 251.0,707.4 251.5,708.9 252.0,710.3 252.5,711.0 253.0,710.1 253.5,709.2 254.0,708.1 254.5,707.5 255.0,707.9 255.5,708.4 256.0,709.0 256.5,707.9 257.0,706.4 257.5,705.8 258.0,705.2 258.5,704.8 259.0,705.1 259.5,701.9 260.0,703.4 260.5,706.1 261.0,708.6 261.5,708.5 262.0,706.9 262.5,705.4 263.0,705.1 263.5,706.1 264.0,704.4 264.5,702.9 265.0,704.9 265.5,706.5 266.0,705.0 266.5,702.4 267.0,699.8 267.5,701.6 268.0,705.0 268.5,704.4 269.0,702.4 269.5,700.3 270.0,701.7 270.5,704.1 271.0,706.4 271.5,708.6 272.0,706.8 272.5,704.5 273.0,706.1 273.5,708.0 274.0,709.5 274.5,708.6 275.0,708.1 275.5,708.9 276.0,706.7 276.5,704.4 277.0,702.2 277.5,700.0 278.0,697.8 278.5,699.7 279.0,701.7 279.5,702.6 280.0,703.3 280.5,705.9 281.0,705.8 281.5,705.8 282.0,708.3 282.5,709.9 283.0,708.8 283.5,708.2 284.0,710.3 284.5,712.1 285.0,711.3 285.5,710.1 286.0,708.1 286.5,706.2 287.0,704.4 287.5,706.0 288.0,707.7 288.5,708.9 289.0,707.8 289.5,709.7 290.0,710.5 290.5,712.3 291.0,712.0 291.5,710.6 292.0,709.1 292.5,709.7 293.0,711.5 293.5,713.2 294.0,714.3 294.5,714.7 295.0,714.9 295.5,713.8 296.0,712.8 296.5,711.8 297.0,711.8 297.5,712.5 298.0,713.4 298.5,713.5 299.0,713.5 299.5,714.1 300.0,714.7 300.5,715.2 301.0,714.5 301.5,715.5 302.0,714.7 302.5,715.0 303.0,714.5 303.5,714.1 304.0,711.6 304.5,709.3 305.0,707.1 305.5,709.9 306.0,712.7 306.5,714.0 307.0,713.0 307.5,712.1 308.0,712.5 308.5,714.0 309.0,715.3 309.5,716.6 310.0,716.1 310.5,715.3 311.0,715.4 311.5,715.6 312.0,716.5 312.5,713.8 313.0,710.8 313.5,708.0 314.0,705.2 314.5,703.6 315.0,706.6 315.5,709.7 316.0,708.7 316.5,710.7 317.0,712.7 317.5,711.1 318.0,709.1 318.5,709.1 319.0,710.7 319.5,712.2 320.0,713.6 320.5,714.7 321.0,713.6 321.5,712.6 322.0,710.7 322.5,710.1 323.0,708.4 323.5,709.9 324.0,711.9 324.5,713.9 325.0,714.3 325.5,714.4 326.0,712.5 326.5,710.6 327.0,710.3 327.5,712.2 328.0,713.9 328.5,715.3 329.0,715.7 329.5,716.1 330.0,716.7 330.5,716.4 331.0,714.2 331.5,715.8 332.0,715.5 332.5,716.1 333.0,715.5 333.5,714.9 334.0,715.6 334.5,716.4 335.0,717.1 335.5,716.8 336.0,717.6 336.5,715.5 337.0,716.6 337.5,716.1 338.0,716.0 338.5,716.6 339.0,717.3 339.5,716.4 340.0,715.4 340.5,714.4 341.0,713.4 341.5,714.8 342.0,714.8 342.5,712.1 343.0,709.3 343.5,708.7 344.0,711.0 344.5,713.2 345.0,715.4 345.5,716.7 346.0,716.1 346.5,715.6 347.0,715.8 347.5,714.6 348.0,712.9 348.5,711.3 349.0,709.4 349.5,706.4 350.0,703.4 350.5,701.6 351.0,704.9 351.5,708.2 352.0,711.5 352.5,714.8 353.0,716.6 353.5,717.0 354.0,716.2 354.5,714.2 355.0,712.6 355.5,714.2 356.0,711.7 356.5,707.5 357.0,709.2 357.5,713.2 358.0,715.0 358.5,714.7 359.0,712.8 359.5,711.0 360.0,711.0 360.5,711.0 361.0,708.6 361.5,706.1 362.0,707.3 362.5,709.4 363.0,711.4 363.5,709.1 364.0,705.6 364.5,708.5 365.0,713.4 365.5,716.9 366.0,716.7 366.5,716.6 367.0,716.4 367.5,716.7 368.0,712.9 368.5,709.1 369.0,705.1 369.5,703.0 370.0,706.6 370.5,710.3 371.0,713.9 371.5,716.0 372.0,716.5 372.5,716.4 373.0,714.6 373.5,711.7 374.0,709.2 374.5,711.8 375.0,714.2 375.5,714.5 376.0,714.3 376.5,713.2 377.0,715.5 377.5,715.3 378.0,715.1 378.5,714.1 379.0,713.8 379.5,714.5 380.0,712.3 380.5,710.2 381.0,708.1 381.5,707.8 382.0,710.0 382.5,712.3 383.0,714.6 383.5,716.3 384.0,715.1 384.5,716.3 385.0,715.9 385.5,715.4 386.0,715.1 386.5,715.8 387.0,716.1 387.5,714.0 388.0,712.0 388.5,710.1 389.0,711.3 389.5,713.7 390.0,716.0 390.5,718.0 391.0,717.9 391.5,716.6 392.0,717.3 392.5,718.8 393.0,719.3 393.5,718.7 394.0,719.8 394.5,717.4 395.0,718.9 395.5,717.5 396.0,716.0 396.5,715.7 397.0,716.9 397.5,717.6 398.0,717.1 398.5,716.9 399.0,715.4 399.5,712.7 400.0,710.2 400.5,712.9 401.0,714.2 401.5,713.6 402.0,714.3 402.5,711.6 403.0,708.6 403.5,710.3 404.0,713.5 404.5,716.6 405.0,715.4 405.5,712.8 406.0,710.2 406.5,709.3 407.0,711.7 407.5,714.2 408.0,712.3 408.5,712.2 409.0,714.3 409.5,713.9 410.0,715.5 410.5,715.9 411.0,714.8 411.5,715.3 412.0,716.7 412.5,717.9 413.0,719.0 413.5,716.5 414.0,715.4 414.5,717.4 415.0,716.3 415.5,715.1 416.0,714.4 416.5,715.3 417.0,713.8 417.5,712.5 418.0,712.3 418.5,713.4 419.0,715.0 419.5,715.4 420.0,717.0 420.5,718.7 421.0,718.9 421.5,719.1 422.0,719.5 422.5,718.5 423.0,717.5 423.5,716.5 424.0,717.8 424.5,716.4 425.0,714.4 425.5,712.4 426.0,712.6 426.5,714.6 427.0,716.2 427.5,716.8 428.0,718.1 428.5,719.0 429.0,716.6 429.5,714.1 430.0,713.6 430.5,713.9 431.0,715.8 431.5,717.6 432.0,718.9 432.5,718.3 433.0,718.6 433.5,715.7 434.0,712.1 434.5,709.2 435.0,712.1 435.5,712.5 436.0,714.4 436.5,716.4 437.0,717.7 437.5,716.5 438.0,717.3 438.5,718.9 439.0,720.4 439.5,720.8 440.0,720.1 440.5,720.5 441.0,719.6 441.5,718.6 442.0,716.9 442.5,715.3 443.0,714.5 443.5,716.0 444.0,718.0 444.5,719.9 445.0,721.4 445.5,721.7 446.0,722.2 446.5,720.7 447.0,720.5 447.5,719.0 448.0,717.0 448.5,715.0 449.0,716.2 449.5,713.2 450.0,709.9 450.5,706.7 451.0,705.7 451.5,708.9 452.0,712.1 452.5,715.5 453.0,718.8 453.5,719.6 454.0,718.6 454.5,718.9 455.0,720.6 455.5,722.2 456.0,720.8 456.5,722.3 457.0,719.9 457.5,717.2 458.0,715.5 458.5,718.2 459.0,721.0 459.5,723.2 460.0,722.8 460.5,721.9 461.0,722.2 461.5,722.9 462.0,721.2 462.5,722.2 463.0,722.8 463.5,721.1 464.0,722.0 464.5,720.7 465.0,719.4 465.5,719.0 466.0,719.6 466.5,720.0 467.0,719.3 467.5,718.7 468.0,719.4 468.5,715.3 469.0,711.3 469.5,715.0 470.0,719.8 470.5,720.9 471.0,719.5 471.5,718.0 472.0,716.5 472.5,717.1 473.0,718.5 473.5,719.9 474.0,720.0 474.5,719.9 475.0,719.1 475.5,717.9 476.0,718.0 476.5,719.3 477.0,719.8 477.5,718.1 478.0,717.7 478.5,718.8 479.0,719.7 479.5,716.1 480.0,712.1 480.5,708.2 481.0,704.4 481.5,705.5 482.0,708.7 482.5,712.0 483.0,714.0 483.5,714.2 484.0,715.9 484.5,717.8 485.0,719.6 485.5,720.6 486.0,721.8 486.5,721.0 487.0,721.3 487.5,721.5 488.0,720.9 488.5,719.1 489.0,715.2 489.5,711.9 490.0,714.6 490.5,716.3 491.0,716.8 491.5,717.4 492.0,717.6 492.5,717.8 493.0,718.0 493.5,717.7 494.0,717.9 494.5,718.2 495.0,717.9 495.5,714.5 496.0,711.0 496.5,707.6 497.0,704.4 497.5,707.6 498.0,710.8 498.5,714.1 499.0,717.5 499.5,717.5 500.0,718.6 500.5,715.8 501.0,717.5 501.5,719.3 502.0,719.8 502.5,720.3 503.0,719.1 503.5,717.8 504.0,715.8 504.5,717.8 505.0,717.4 505.5,718.7 506.0,719.9 506.5,717.7 507.0,718.8 507.5,717.7 508.0,719.1 508.5,718.8 509.0,719.2 509.5,719.4 510.0,719.2 510.5,719.0 511.0,718.8 511.5,718.7 512.0,719.3 512.5,719.8 513.0,719.3 513.5,719.5 514.0,718.0 514.5,716.5 515.0,715.0 515.5,713.6 516.0,714.9 516.5,716.1 517.0,717.2 517.5,718.1 518.0,717.2 518.5,717.7 519.0,717.0 519.5,716.1 520.0,715.3 520.5,716.6 521.0,718.0 521.5,719.5 522.0,720.1 522.5,720.4 523.0,719.1 523.5,717.7 524.0,716.2 524.5,717.6 525.0,717.1 525.5,712.0 526.0,706.8 526.5,710.4 527.0,713.2 527.5,715.0 528.0,714.9 528.5,714.2 529.0,714.2 529.5,712.1 530.0,712.0 530.5,712.9 531.0,714.2 531.5,716.4 532.0,717.5 532.5,716.7 533.0,715.8 533.5,715.3 534.0,714.8 534.5,712.4 535.0,710.1 535.5,710.6 536.0,712.9 536.5,715.3 537.0,717.6 537.5,717.8 538.0,717.2 538.5,715.7 539.0,715.5 539.5,716.2 540.0,715.7 540.5,715.4 541.0,715.7 541.5,713.8 542.0,711.8 542.5,711.4 543.0,713.0 543.5,714.8 544.0,713.4 544.5,713.3 545.0,712.4 545.5,713.0 546.0,714.4 546.5,715.9 547.0,715.2 547.5,715.8 548.0,715.0 548.5,714.0 549.0,713.1 549.5,713.6 550.0,715.1 550.5,716.5 551.0,717.0 551.5,715.6 552.0,714.6 552.5,715.9 553.0,715.7 553.5,715.5 554.0,715.9 554.5,716.3 555.0,716.9 555.5,716.3 556.0,716.7 556.5,716.5 557.0,716.2 557.5,714.4 558.0,712.6 558.5,710.7 559.0,708.8 559.5,709.2 560.0,710.9 560.5,712.8 561.0,714.7 561.5,713.4 562.0,712.5 562.5,714.5 563.0,716.4 563.5,716.9 564.0,717.1 564.5,716.6 565.0,714.4 565.5,717.0 566.0,716.9 566.5,716.9 567.0,715.0 567.5,714.1 568.0,712.7 568.5,711.3 569.0,712.7 569.5,714.0 570.0,714.8 570.5,713.0 571.0,711.2 571.5,710.5 572.0,708.2 572.5,706.0 573.0,708.1 573.5,710.4 574.0,712.7 574.5,715.1 575.0,715.7 575.5,713.5 576.0,711.2 576.5,708.9 577.0,706.5 577.5,707.8 578.0,710.0 578.5,711.4 579.0,713.8 579.5,713.5 580.0,711.2 580.5,713.2 581.0,715.2 581.5,715.6 582.0,715.6 582.5,715.7 583.0,714.3 583.5,712.3 584.0,710.3 584.5,708.5 585.0,709.9 585.5,712.4 586.0,713.1 586.5,714.3 587.0,713.9 587.5,714.7 588.0,714.6 588.5,715.4 589.0,716.3 589.5,716.0 590.0,717.1 590.5,716.6 591.0,715.1 591.5,716.0 592.0,716.0 592.5,715.3 593.0,714.8 593.5,714.6 594.0,713.8 594.5,713.7 595.0,713.0 595.5,712.6 596.0,711.4 596.5,710.3 597.0,709.7 597.5,709.7 598.0,707.5 598.5,706.6 599.0,709.2 599.5,711.7 600.0,714.3 600.5,714.7 601.0,714.9 601.5,713.6 602.0,714.2 602.5,713.8 603.0,714.2 603.5,714.1 604.0,714.0 604.5,711.9 605.0,705.9 605.5,701.0 606.0,706.6 606.5,712.1 607.0,710.2 607.5,707.6 608.0,705.1 608.5,704.2 609.0,706.2 609.5,708.4 610.0,710.5 610.5,711.6 611.0,712.0 611.5,711.0 612.0,710.1 612.5,710.3 613.0,711.3 613.5,712.5 614.0,713.1 614.5,712.8 615.0,712.9 615.5,712.3 616.0,711.8 616.5,712.3 617.0,713.2 617.5,713.0 618.0,711.5 618.5,712.2 619.0,711.3 619.5,710.9 620.0,711.4 620.5,711.5 621.0,709.2 621.5,709.2 622.0,711.5 622.5,712.7 623.0,712.8 623.5,713.7 624.0,713.7 624.5,714.5 625.0,714.6 625.5,714.7 626.0,714.4 626.5,714.6 627.0,714.8 627.5,714.3 628.0,714.1 628.5,713.3 629.0,712.1 629.5,712.7 630.0,713.8 630.5,714.3 631.0,714.2 631.5,715.1 632.0,714.8 632.5,715.1 633.0,715.1 633.5,715.4 634.0,716.2 634.5,715.0 635.0,714.7 635.5,714.5 636.0,715.5 636.5,714.5 637.0,715.3 637.5,715.8 638.0,716.1 638.5,715.5 639.0,716.2 639.5,715.2 640.0,714.1 640.5,713.4 641.0,712.5 641.5,712.4 642.0,713.3 642.5,714.2 643.0,715.1 643.5,715.9 644.0,715.7 644.5,714.5 645.0,713.2 645.5,713.0 646.0,713.1 646.5,713.6 647.0,714.4 647.5,714.8 648.0,714.7 648.5,714.6 649.0,714.4 649.5,713.4 650.0,711.5 650.5,711.5 651.0,713.6 651.5,714.9 652.0,715.3 652.5,713.8 653.0,712.4 653.5,711.0 654.0,713.0 654.5,715.0 655.0,716.9 655.5,716.4 656.0,715.1 656.5,714.6 657.0,715.7 657.5,716.8 658.0,717.7 658.5,716.6 659.0,715.6 659.5,714.6 660.0,714.8 660.5,713.5 661.0,712.1 661.5,710.7 662.0,712.4 662.5,714.0 663.0,715.6 663.5,717.1 664.0,716.3 664.5,715.7 665.0,715.4 665.5,716.1 666.0,716.9 666.5,716.4 667.0,716.3 667.5,715.5 668.0,714.7 668.5,714.9 669.0,715.5 669.5,716.7 670.0,717.5 670.5,718.4 671.0,717.6 671.5,718.7 672.0,718.5 672.5,717.0 673.0,715.4 673.5,713.2 674.0,711.4 674.5,713.5 675.0,715.6 675.5,717.7 676.0,716.5 676.5,717.5 677.0,717.0 677.5,717.6 678.0,715.9 678.5,716.3 679.0,715.5 679.5,713.9 680.0,712.5 680.5,711.6 681.0,713.7 681.5,715.7 682.0,717.0 682.5,716.1 683.0,715.2 683.5,716.5 684.0,714.2 684.5,711.8 685.0,709.3 685.5,711.9 686.0,714.6 686.5,717.2 687.0,718.9 687.5,719.8 688.0,720.7 688.5,721.5 689.0,721.3 689.5,721.9 690.0,721.2 690.5,719.5 691.0,719.0 691.5,718.0 692.0,717.8 692.5,717.3 693.0,716.3 693.5,716.1 694.0,716.2 694.5,715.5 695.0,714.9 695.5,714.4 696.0,714.5 696.5,715.3 697.0,716.1 697.5,715.5 698.0,713.1 698.5,710.7 699.0,708.3 699.5,705.7 700.0,707.6 700.5,709.8 701.0,710.0 701.5,708.3 702.0,710.9 702.5,711.3 703.0,709.1 703.5,707.0 704.0,707.2 704.5,708.4 705.0,709.6 705.5,710.9 706.0,711.6 706.5,711.0 707.0,710.5 707.5,710.3 708.0,710.9 708.5,709.7 709.0,708.0 709.5,707.9 710.0,709.0 710.5,710.5 711.0,712.1 711.5,711.7 712.0,711.1 712.5,710.5 713.0,711.3 713.5,708.2 714.0,704.1 714.5,699.9 715.0,697.9 715.5,701.8 716.0,705.7 716.5,709.7 717.0,711.3 717.5,710.1 718.0,709.1 718.5,710.8 719.0,712.5 719.5,713.0 720.0,712.8 720.5,712.1 721.0,711.3 721.5,710.5 722.0,709.5 722.5,709.5 723.0,708.8 723.5,707.2 724.0,707.5 724.5,705.8 725.0,702.0 725.5,700.7 726.0,701.5 726.5,700.0 727.0,701.8 727.5,703.6 728.0,705.5 728.5,707.4 729.0,708.9 729.5,707.3 730.0,705.8 730.5,704.2 731.0,702.7 731.5,703.4 732.0,704.3 732.5,704.7 733.0,705.1 733.5,706.0 734.0,706.9 734.5,707.8 735.0,708.1 735.5,707.4 736.0,706.8 736.5,706.1 737.0,706.2 737.5,706.7 738.0,707.2 738.5,707.7 739.0,707.7 739.5,707.9 740.0,707.4 740.5,706.4 741.0,706.8 741.5,708.6 742.0,707.9 742.5,707.9 743.0,707.6 743.5,707.7 744.0,708.5 744.5,709.1 745.0,708.8 745.5,708.9 746.0,707.2 746.5,705.4 747.0,703.7 747.5,703.2 748.0,700.9 748.5,698.4 749.0,697.6 749.5,699.9 750.0,702.4 750.5,704.9 751.0,707.5 751.5,707.7 752.0,706.9 752.5,706.0 753.0,704.7 753.5,704.2 754.0,705.8 754.5,704.8 755.0,705.2 755.5,706.4 756.0,707.3 756.5,707.0 757.0,708.1 757.5,709.1 758.0,706.6 758.5,704.1 759.0,707.0 759.5,708.9 760.0,710.2 760.5,709.8 761.0,709.6 761.5,708.4 762.0,708.2 762.5,709.5 763.0,710.7 763.5,711.9 764.0,711.6 764.5,710.9 765.0,707.4 765.5,703.9 766.0,703.1 766.5,707.0 767.0,710.9 767.5,710.7 768.0,709.3 768.5,708.2 769.0,710.3 769.5,712.3 770.0,712.8 770.5,713.0 771.0,711.9 771.5,710.4 772.0,710.8 772.5,711.6 773.0,710.8 773.5,708.8 774.0,706.7 774.5,706.4 775.0,707.9 775.5,708.4 776.0,709.8 776.5,711.3 777.0,711.3 777.5,711.0 778.0,709.9 778.5,709.1 779.0,708.6 779.5,708.4 780.0,711.0 780.5,713.2 781.0,712.8 781.5,711.8 782.0,710.8 782.5,709.7 783.0,710.1 783.5,709.6 784.0,708.4 784.5,709.7 785.0,711.0 785.5,710.8 786.0,710.1 786.5,708.4 787.0,706.6 787.5,706.7 788.0,707.7 788.5,708.7 789.0,709.9 789.5,710.3 790.0,709.2 790.5,705.4 791.0,702.7 791.5,707.1 792.0,708.4 792.5,708.3 793.0,709.1 793.5,710.6 794.0,712.0 794.5,713.3 795.0,713.7 795.5,712.9 796.0,713.3 796.5,713.5 797.0,711.6 797.5,709.5 798.0,707.3 798.5,705.7 799.0,707.3 799.5,709.1 800.0,710.7 800.5,709.2 801.0,707.8 801.5,706.4 802.0,707.6 802.5,708.9 803.0,709.7 803.5,708.7 804.0,709.5 804.5,710.4 805.0,705.5 805.5,700.5 806.0,702.2 806.5,707.5 807.0,707.9 807.5,709.1 808.0,710.3 808.5,711.4 809.0,711.7 809.5,709.7 810.0,707.6 810.5,705.4 811.0,705.8 811.5,707.4 812.0,709.1 812.5,710.2 813.0,710.7 813.5,709.1 814.0,707.5 814.5,706.0 815.0,704.5 815.5,704.4 816.0,703.0 816.5,703.0 817.0,705.0 817.5,707.1 818.0,709.2 818.5,709.8 819.0,708.3 819.5,706.9 820.0,705.4 820.5,705.3 821.0,706.7 821.5,706.8 822.0,708.4 822.5,709.9 823.0,710.6 823.5,709.1 824.0,707.6 824.5,707.7 825.0,708.5 825.5,708.7 826.0,708.9 826.5,706.6 827.0,704.4 827.5,706.7 828.0,709.0 828.5,709.6 829.0,709.5 829.5,709.4 830.0,709.9 830.5,709.9 831.0,709.1 831.5,708.3 832.0,708.6 832.5,709.4 833.0,709.9 833.5,706.2 834.0,702.6 834.5,698.8 835.0,696.3 835.5,699.7 836.0,702.9 836.5,706.0 837.0,705.9 837.5,704.2 838.0,701.8 838.5,702.4 839.0,703.8 839.5,705.4 840.0,706.4 840.5,705.2 841.0,703.1 841.5,702.0 842.0,704.5 842.5,706.9 843.0,706.5 843.5,705.5 844.0,704.6 844.5,705.0 845.0,702.4 845.5,697.2 846.0,693.7 846.5,698.9 847.0,704.2 847.5,705.1 848.0,705.4 848.5,704.5 849.0,703.7 849.5,703.9 850.0,704.9 850.5,705.5 851.0,703.8 851.5,702.1 852.0,700.3 852.5,700.6 853.0,702.0 853.5,703.4 854.0,704.4 854.5,703.3 855.0,701.5 855.5,699.8 856.0,699.5 856.5,701.2 857.0,703.0 857.5,703.1 858.0,705.0 858.5,707.1 859.0,706.2 859.5,705.3 860.0,705.8 860.5,706.1 861.0,705.3 861.5,705.1 862.0,705.4 862.5,703.9 863.0,702.4 863.5,704.1 864.0,703.2 864.5,701.9 865.0,700.6 865.5,700.3 866.0,701.7 866.5,702.8 867.0,702.3 867.5,703.0 868.0,702.2 868.5,698.3 869.0,698.4 869.5,701.5 870.0,702.9 870.5,701.1 871.0,699.5 871.5,698.2 872.0,699.8 872.5,701.4 873.0,701.8 873.5,699.7 874.0,697.6 874.5,694.2 875.0,690.8 875.5,694.3 876.0,698.0 876.5,700.0 877.0,698.7 877.5,698.6 878.0,700.8 878.5,701.5 879.0,698.4 879.5,698.2 880.0,698.9 880.5,700.5 881.0,698.1 881.5,695.4 882.0,695.1 882.5,697.2 883.0,699.3 883.5,701.5 884.0,701.7 884.5,700.1 885.0,698.9 885.5,700.7 886.0,702.4 886.5,704.1 887.0,704.8 887.5,704.6 888.0,705.0 888.5,704.4 889.0,705.6 889.5,704.1 890.0,704.1 890.5,703.8 891.0,702.0 891.5,700.4 892.0,698.8 892.5,697.4 893.0,698.7 893.5,700.3 894.0,701.5 894.5,700.3 895.0,699.1 895.5,699.9 896.0,701.5 896.5,703.1 897.0,701.4 897.5,704.3 898.0,703.8 898.5,704.5 899.0,703.6 899.5,700.6 900.0,697.5 900.5,694.5 901.0,691.5 901.5,688.3 902.0,691.7 902.5,694.9 903.0,698.0 903.5,700.9 904.0,700.1 904.5,700.6 905.0,702.3 905.5,703.3 906.0,702.8 906.5,701.4 907.0,701.0 907.5,702.8 908.0,704.5 908.5,704.7 909.0,705.6 909.5,705.8 910.0,704.1 910.5,702.2 911.0,700.2 911.5,700.1 912.0,701.1 912.5,701.7 913.0,701.2 913.5,700.5 914.0,701.5 914.5,702.6 915.0,702.6 915.5,702.4 915.5,714.4 915.0,713.4 914.5,712.4 914.0,711.5 913.5,711.2 913.0,711.4 912.5,711.1 912.0,712.7 911.5,714.8 911.0,718.3 910.5,722.0 910.0,720.5 909.5,722.8 909.0,719.8 908.5,716.7 908.0,713.9 907.5,713.7 907.0,712.6 906.5,712.8 906.0,712.8 905.5,713.4 905.0,713.6 904.5,714.8 904.0,714.2 903.5,717.0 903.0,719.8 902.5,722.4 902.0,724.8 901.5,727.1 901.0,724.6 900.5,722.0 900.0,719.3 899.5,716.7 899.0,715.1 898.5,715.8 898.0,715.0 897.5,713.9 897.0,713.1 896.5,713.5 896.0,713.4 895.5,713.1 895.0,712.1 894.5,711.7 894.0,711.5 893.5,711.6 893.0,711.5 892.5,711.3 892.0,711.1 891.5,712.5 891.0,712.2 890.5,711.8 890.0,711.8 889.5,712.2 889.0,712.2 888.5,713.0 888.0,712.9 887.5,713.8 887.0,714.3 886.5,714.4 886.0,714.7 885.5,714.7 885.0,714.1 884.5,714.3 884.0,714.9 883.5,715.9 883.0,717.3 882.5,718.8 882.0,719.7 881.5,722.6 881.0,725.5 880.5,727.5 880.0,725.1 879.5,722.6 879.0,720.0 878.5,717.2 878.0,716.1 877.5,716.5 877.0,716.9 876.5,715.8 876.0,714.6 875.5,713.4 875.0,712.4 874.5,712.6 874.0,711.9 873.5,712.4 873.0,712.9 872.5,713.1 872.0,712.4 871.5,712.3 871.0,712.9 870.5,714.0 870.0,715.6 869.5,717.2 869.0,717.2 868.5,716.4 868.0,717.7 867.5,717.3 867.0,716.7 866.5,716.2 866.0,716.1 865.5,716.5 865.0,715.7 864.5,715.2 864.0,715.1 863.5,715.5 863.0,715.2 862.5,714.5 862.0,715.0 861.5,715.6 861.0,715.6 860.5,715.2 860.0,716.0 859.5,716.0 859.0,716.8 858.5,717.5 858.0,716.6 857.5,716.0 857.0,716.6 856.5,716.9 856.0,719.1 855.5,721.7 855.0,724.0 854.5,721.7 854.0,720.8 853.5,718.8 853.0,717.6 852.5,717.5 852.0,718.7 851.5,718.0 851.0,717.7 850.5,718.6 850.0,718.9 849.5,720.4 849.0,722.3 848.5,722.9 848.0,720.7 847.5,718.9 847.0,718.1 846.5,716.7 846.0,716.5 845.5,717.6 845.0,718.8 844.5,719.7 844.0,718.6 843.5,717.6 843.0,717.9 842.5,718.3 842.0,717.4 841.5,718.1 841.0,719.5 840.5,720.9 840.0,719.2 839.5,717.4 839.0,715.9 838.5,715.6 838.0,717.7 837.5,721.7 837.0,725.8 836.5,729.8 836.0,732.1 835.5,729.2 835.0,726.1 834.5,722.9 834.0,719.6 833.5,719.6 833.0,720.1 832.5,720.3 832.0,719.8 831.5,720.5 831.0,719.0 830.5,718.9 830.0,721.3 829.5,720.0 829.0,720.7 828.5,721.4 828.0,720.9 827.5,722.1 827.0,723.4 826.5,723.2 826.0,721.9 825.5,720.7 825.0,720.5 824.5,720.9 824.0,721.7 823.5,721.8 823.0,723.3 822.5,724.8 822.0,725.6 821.5,728.6 821.0,729.8 820.5,726.6 820.0,723.3 819.5,720.8 819.0,720.4 818.5,719.5 818.0,719.4 817.5,719.1 817.0,719.2 816.5,719.8 816.0,720.4 815.5,721.1 815.0,722.9 814.5,725.5 814.0,723.7 813.5,721.3 813.0,721.5 812.5,721.9 812.0,721.4 811.5,720.9 811.0,721.0 810.5,724.3 810.0,727.6 809.5,728.6 809.0,725.3 808.5,721.9 808.0,721.8 807.5,723.2 807.0,724.6 806.5,726.0 806.0,727.3 805.5,725.5 805.0,723.8 804.5,722.2 804.0,722.8 803.5,725.7 803.0,728.6 802.5,728.3 802.0,729.2 801.5,725.9 801.0,724.3 800.5,722.6 800.0,720.9 799.5,721.6 799.0,722.1 798.5,723.0 798.0,722.2 797.5,721.4 797.0,722.4 796.5,721.4 796.0,722.6 795.5,721.7 795.0,722.2 794.5,722.8 794.0,724.1 793.5,723.1 793.0,721.9 792.5,721.7 792.0,721.5 791.5,721.1 791.0,722.0 790.5,721.1 790.0,720.4 789.5,719.8 789.0,719.8 788.5,719.5 788.0,720.4 787.5,720.2 787.0,719.9 786.5,721.3 786.0,723.3 785.5,722.3 785.0,721.3 784.5,722.3 784.0,724.6 783.5,728.4 783.0,732.1 782.5,735.7 782.0,735.4 781.5,731.4 781.0,727.4 780.5,725.2 780.0,727.3 779.5,725.3 779.0,722.4 778.5,722.0 778.0,722.7 777.5,721.4 777.0,720.2 776.5,720.0 776.0,721.7 775.5,720.9 775.0,721.6 774.5,722.5 774.0,723.4 773.5,725.6 773.0,731.8 772.5,736.4 772.0,730.7 771.5,724.9 771.0,725.1 770.5,726.1 770.0,726.3 769.5,725.1 769.0,723.9 768.5,722.6 768.0,721.7 767.5,722.4 767.0,721.7 766.5,723.2 766.0,724.8 765.5,724.0 765.0,722.0 764.5,721.0 764.0,719.7 763.5,719.2 763.0,719.8 762.5,718.9 762.0,720.3 761.5,722.8 761.0,725.3 760.5,725.4 760.0,722.9 759.5,721.1 759.0,721.1 758.5,722.4 758.0,721.3 757.5,719.5 757.0,718.9 756.5,719.8 756.0,721.5 755.5,720.6 755.0,718.7 754.5,717.0 754.0,717.6 753.5,717.9 753.0,717.7 752.5,719.3 752.0,720.8 751.5,722.2 751.0,720.5 750.5,719.0 750.0,718.0 749.5,717.0 749.0,716.2 748.5,715.4 748.0,715.7 747.5,716.2 747.0,718.0 746.5,719.8 746.0,721.2 745.5,719.9 745.0,718.4 744.5,717.5 744.0,717.4 743.5,718.6 743.0,717.1 742.5,719.7 742.0,722.3 741.5,724.8 741.0,727.5 740.5,725.8 740.0,722.9 739.5,720.0 739.0,717.9 738.5,719.7 738.0,718.4 737.5,717.2 737.0,716.5 736.5,718.5 736.0,715.9 735.5,716.3 735.0,717.0 734.5,717.6 734.0,718.1 733.5,720.3 733.0,722.7 732.5,725.0 732.0,726.4 731.5,724.2 731.0,722.0 730.5,719.8 730.0,717.6 729.5,717.1 729.0,717.7 728.5,717.7 728.0,718.1 727.5,717.4 727.0,718.3 726.5,717.5 726.0,717.7 725.5,717.3 725.0,717.5 724.5,719.5 724.0,719.6 723.5,720.5 723.0,720.6 722.5,720.8 722.0,722.9 721.5,720.8 721.0,721.1 720.5,723.6 720.0,727.5 719.5,727.9 719.0,725.7 718.5,727.1 718.0,725.1 717.5,723.2 717.0,724.1 716.5,729.6 716.0,734.7 715.5,729.3 715.0,723.9 714.5,721.1 714.0,723.9 713.5,726.5 713.0,729.1 712.5,730.3 712.0,727.7 711.5,725.2 711.0,727.1 710.5,725.4 710.0,723.7 709.5,725.6 709.0,727.6 708.5,728.0 708.0,726.1 707.5,724.2 707.0,724.4 706.5,726.5 706.0,728.7 705.5,727.2 705.0,725.4 704.5,723.7 704.0,722.1 703.5,722.9 703.0,723.4 702.5,723.0 702.0,723.7 701.5,723.6 701.0,726.7 700.5,731.8 700.0,736.8 699.5,732.6 699.0,728.0 698.5,726.6 698.0,727.6 697.5,728.6 697.0,730.2 696.5,730.9 696.0,728.8 695.5,726.7 695.0,726.2 694.5,726.1 694.0,727.1 693.5,726.7 693.0,725.8 692.5,727.4 692.0,725.9 691.5,727.8 691.0,730.4 690.5,732.9 690.0,735.2 689.5,733.7 689.0,732.0 688.5,732.5 688.0,734.2 687.5,735.7 687.0,737.7 686.5,736.6 686.0,734.8 685.5,732.9 685.0,731.3 684.5,731.3 684.0,731.6 683.5,729.8 683.0,730.2 682.5,727.5 682.0,727.0 681.5,727.5 681.0,726.3 680.5,726.6 680.0,728.6 679.5,731.0 679.0,730.5 678.5,727.8 678.0,725.1 677.5,727.8 677.0,730.7 676.5,733.6 676.0,736.5 675.5,735.7 675.0,733.0 674.5,730.3 674.0,731.4 673.5,732.0 673.0,730.0 672.5,727.9 672.0,727.5 671.5,727.8 671.0,727.5 670.5,726.8 670.0,726.4 669.5,727.3 669.0,728.3 668.5,729.4 668.0,729.6 667.5,728.5 667.0,727.4 666.5,728.3 666.0,728.7 665.5,727.7 665.0,727.9 664.5,728.8 664.0,729.0 663.5,728.2 663.0,728.9 662.5,729.7 662.0,729.0 661.5,727.8 661.0,726.4 660.5,726.1 660.0,726.4 659.5,726.9 659.0,727.3 658.5,727.4 658.0,728.4 657.5,729.5 657.0,729.0 656.5,728.4 656.0,727.7 655.5,726.8 655.0,728.1 654.5,728.8 654.0,730.3 653.5,731.8 653.0,731.4 652.5,729.3 652.0,727.4 651.5,726.4 651.0,726.6 650.5,726.1 650.0,725.1 649.5,725.2 649.0,725.3 648.5,726.0 648.0,727.0 647.5,728.1 647.0,729.2 646.5,727.6 646.0,726.2 645.5,725.0 645.0,723.8 644.5,723.7 644.0,723.9 643.5,723.7 643.0,724.1 642.5,724.4 642.0,724.2 641.5,724.3 641.0,726.1 640.5,723.3 640.0,723.9 639.5,723.6 639.0,724.4 638.5,725.2 638.0,726.2 637.5,726.8 637.0,725.8 636.5,725.7 636.0,723.8 635.5,723.9 635.0,723.9 634.5,724.5 634.0,723.9 633.5,723.3 633.0,723.9 632.5,724.5 632.0,723.5 631.5,722.4 631.0,722.7 630.5,722.7 630.0,724.3 629.5,726.0 629.0,727.9 628.5,729.8 628.0,728.6 627.5,727.1 627.0,725.7 626.5,724.5 626.0,724.6 625.5,724.9 625.0,724.3 624.5,724.9 624.0,725.5 623.5,723.9 623.0,723.1 622.5,722.9 622.0,724.4 621.5,726.0 621.0,729.4 620.5,730.6 620.0,727.0 619.5,723.4 619.0,722.2 618.5,724.0 618.0,727.0 617.5,729.9 617.0,727.9 616.5,725.0 616.0,723.3 615.5,722.3 615.0,721.9 614.5,722.6 614.0,723.8 613.5,721.1 613.0,721.5 612.5,723.0 612.0,724.0 611.5,725.5 611.0,723.4 610.5,722.2 610.0,721.6 609.5,722.4 609.0,723.1 608.5,722.4 608.0,721.8 607.5,722.8 607.0,724.9 606.5,727.6 606.0,730.3 605.5,732.9 605.0,731.2 604.5,729.3 604.0,727.7 603.5,727.7 603.0,726.8 602.5,725.7 602.0,726.5 601.5,727.9 601.0,729.4 600.5,730.3 600.0,728.5 599.5,726.7 599.0,724.9 598.5,726.0 598.0,727.8 597.5,729.7 597.0,730.9 596.5,734.0 596.0,736.0 595.5,733.1 595.0,730.3 594.5,727.5 594.0,728.2 593.5,726.8 593.0,727.9 592.5,728.8 592.0,726.8 591.5,727.4 591.0,730.9 590.5,734.4 590.0,736.5 589.5,733.8 589.0,731.6 588.5,729.3 588.0,728.7 587.5,729.0 587.0,729.9 586.5,729.0 586.0,732.1 585.5,730.7 585.0,727.0 584.5,723.7 584.0,726.5 583.5,724.7 583.0,725.0 582.5,724.4 582.0,725.2 581.5,725.0 581.0,724.8 580.5,724.9 580.0,726.2 579.5,726.3 579.0,727.3 578.5,726.4 578.0,726.6 577.5,727.3 577.0,729.4 576.5,731.5 576.0,731.6 575.5,729.4 575.0,728.1 574.5,726.5 574.0,726.3 573.5,726.8 573.0,726.5 572.5,725.9 572.0,728.2 571.5,730.6 571.0,733.2 570.5,733.8 570.0,731.8 569.5,729.8 569.0,727.8 568.5,727.2 568.0,726.6 567.5,727.0 567.0,726.0 566.5,725.8 566.0,725.7 565.5,726.6 565.0,727.6 564.5,728.6 564.0,728.8 563.5,734.4 563.0,740.0 562.5,745.6 562.0,751.1 561.5,756.6 561.0,750.7 560.5,744.9 560.0,739.0 559.5,733.4 559.0,728.5 558.5,730.1 558.0,729.7 557.5,728.4 557.0,727.1 556.5,725.8 556.0,726.1 555.5,727.0 555.0,728.0 554.5,728.9 554.0,731.0 553.5,729.7 553.0,728.4 552.5,727.0 552.0,727.2 551.5,728.2 551.0,729.5 550.5,730.1 550.0,728.5 549.5,726.9 549.0,726.5 548.5,727.0 548.0,727.5 547.5,727.6 547.0,726.4 546.5,725.3 546.0,724.6 545.5,724.8 545.0,725.8 544.5,727.6 544.0,729.6 543.5,730.0 543.0,727.9 542.5,725.9 542.0,724.3 541.5,726.0 541.0,728.1 540.5,730.4 540.0,731.4 539.5,733.6 539.0,732.5 538.5,731.2 538.0,729.8 537.5,728.2 537.0,727.1 536.5,726.1 536.0,726.1 535.5,726.6 535.0,728.4 534.5,728.2 534.0,729.0 533.5,728.9 533.0,728.2 532.5,727.8 532.0,728.4 531.5,729.0 531.0,728.5 530.5,729.0 530.0,732.4 529.5,735.9 529.0,739.5 528.5,738.5 528.0,735.4 527.5,732.4 527.0,730.3 526.5,730.1 526.0,732.0 525.5,733.7 525.0,735.4 524.5,735.8 524.0,734.4 523.5,733.0 523.0,731.5 522.5,731.0 522.0,732.5 521.5,733.9 521.0,735.4 520.5,734.7 520.0,732.4 519.5,730.3 519.0,731.4 518.5,732.7 518.0,731.7 517.5,731.9 517.0,731.2 516.5,733.1 516.0,734.9 515.5,735.3 515.0,733.9 514.5,732.4 514.0,730.8 513.5,732.1 513.0,733.3 512.5,731.5 512.0,729.7 511.5,728.6 511.0,727.8 510.5,728.6 510.0,729.4 509.5,728.3 509.0,730.8 508.5,733.4 508.0,734.4 507.5,731.8 507.0,729.2 506.5,729.2 506.0,730.4 505.5,731.7 505.0,731.7 504.5,731.6 504.0,731.0 503.5,730.3 503.0,729.4 502.5,730.6 502.0,729.9 501.5,731.6 501.0,733.2 500.5,734.7 500.0,736.3 499.5,734.6 499.0,736.1 498.5,739.0 498.0,742.0 497.5,739.1 497.0,736.2 496.5,733.4 496.0,730.6 495.5,727.7 495.0,726.5 494.5,727.3 494.0,728.0 493.5,728.6 493.0,728.1 492.5,727.4 492.0,726.8 491.5,726.4 491.0,726.5 490.5,730.2 490.0,727.3 489.5,729.2 489.0,730.7 488.5,732.8 488.0,732.3 487.5,731.0 487.0,734.0 486.5,738.2 486.0,742.3 485.5,738.8 485.0,733.8 484.5,729.8 484.0,728.9 483.5,728.1 483.0,727.2 482.5,727.9 482.0,727.9 481.5,727.5 481.0,727.1 480.5,727.7 480.0,728.8 479.5,729.1 479.0,729.4 478.5,730.1 478.0,731.4 477.5,731.4 477.0,736.1 476.5,740.7 476.0,745.2 475.5,741.8 475.0,737.1 474.5,732.6 474.0,732.6 473.5,730.9 473.0,732.7 472.5,731.7 472.0,732.3 471.5,732.4 471.0,731.6 470.5,734.4 470.0,737.2 469.5,739.9 469.0,738.8 468.5,735.3 468.0,731.9 467.5,728.9 467.0,728.4 466.5,729.0 466.0,729.5 465.5,728.8 465.0,729.7 464.5,730.6 464.0,732.3 463.5,732.3 463.0,732.3 462.5,732.5 462.0,732.0 461.5,732.5 461.0,733.6 460.5,734.5 460.0,733.4 459.5,732.1 459.0,731.5 458.5,730.6 458.0,730.8 457.5,731.5 457.0,732.4 456.5,733.3 456.0,733.7 455.5,732.7 455.0,731.9 454.5,730.9 454.0,731.6 453.5,729.5 453.0,728.5 452.5,728.7 452.0,728.3 451.5,728.6 451.0,729.7 450.5,729.7 450.0,731.1 449.5,735.2 449.0,740.1 448.5,743.3 448.0,739.2 447.5,735.0 447.0,731.4 446.5,732.3 446.0,733.1 445.5,734.6 445.0,735.6 444.5,733.4 444.0,731.0 443.5,730.1 443.0,731.3 442.5,732.7 442.0,734.2 441.5,733.6 441.0,732.1 440.5,730.6 440.0,732.4 439.5,734.7 439.0,737.0 438.5,736.5 438.0,738.5 437.5,734.0 437.0,729.4 436.5,727.7 436.0,728.3 435.5,729.1 435.0,730.1 434.5,729.6 434.0,729.0 433.5,728.5 433.0,729.3 432.5,731.0 432.0,732.0 431.5,731.9 431.0,733.0 430.5,731.9 430.0,730.8 429.5,729.6 429.0,729.2 428.5,729.4 428.0,730.1 427.5,731.1 427.0,732.2 426.5,733.3 426.0,733.0 425.5,731.9 425.0,731.5 424.5,733.1 424.0,734.7 423.5,736.3 423.0,735.1 422.5,734.3 422.0,733.7 421.5,732.1 421.0,730.4 420.5,729.3 420.0,730.0 419.5,730.1 419.0,729.1 418.5,728.2 418.0,728.7 417.5,728.7 417.0,727.8 416.5,727.5 416.0,728.5 415.5,727.6 415.0,728.2 414.5,729.5 414.0,728.0 413.5,728.8 413.0,731.8 412.5,734.9 412.0,732.1 411.5,729.2 411.0,727.9 410.5,727.5 410.0,727.3 409.5,727.7 409.0,727.2 408.5,728.5 408.0,728.7 407.5,729.5 407.0,729.1 406.5,728.2 406.0,727.4 405.5,727.8 405.0,731.5 404.5,735.2 404.0,736.1 403.5,732.4 403.0,732.9 402.5,732.7 402.0,730.9 401.5,729.1 401.0,727.3 400.5,728.6 400.0,730.3 399.5,732.1 399.0,731.2 398.5,729.5 398.0,727.8 397.5,726.7 397.0,727.2 396.5,728.1 396.0,731.0 395.5,733.9 395.0,736.9 394.5,739.9 394.0,737.7 393.5,735.1 393.0,732.5 392.5,730.0 392.0,728.0 391.5,727.9 391.0,727.2 390.5,727.2 390.0,727.7 389.5,728.6 389.0,729.6 388.5,730.5 388.0,730.3 387.5,729.0 387.0,728.1 386.5,729.0 386.0,730.6 385.5,731.9 385.0,730.0 384.5,728.1 384.0,727.3 383.5,726.1 383.0,725.0 382.5,725.4 382.0,725.2 381.5,725.5 381.0,728.8 380.5,732.2 380.0,735.6 379.5,733.5 379.0,730.2 378.5,727.2 378.0,725.7 377.5,725.6 377.0,726.5 376.5,725.7 376.0,726.0 375.5,727.3 375.0,726.8 374.5,725.8 374.0,724.8 373.5,725.0 373.0,724.4 372.5,724.4 372.0,724.7 371.5,725.0 371.0,725.3 370.5,725.4 370.0,725.1 369.5,726.2 369.0,727.2 368.5,728.3 368.0,729.3 367.5,729.4 367.0,728.7 366.5,730.4 366.0,732.1 365.5,733.7 365.0,732.5 364.5,733.3 364.0,739.2 363.5,733.0 363.0,729.7 362.5,730.2 362.0,732.9 361.5,731.4 361.0,733.1 360.5,736.0 360.0,734.0 359.5,731.2 359.0,728.3 358.5,726.7 358.0,727.8 357.5,731.1 357.0,732.3 356.5,729.0 356.0,725.8 355.5,726.2 355.0,727.5 354.5,728.8 354.0,730.1 353.5,730.0 353.0,729.5 352.5,730.4 352.0,728.2 351.5,729.3 351.0,729.0 350.5,727.6 350.0,726.1 349.5,724.7 349.0,723.8 348.5,724.1 348.0,725.0 347.5,727.2 347.0,729.4 346.5,730.6 346.0,728.9 345.5,727.2 345.0,726.0 344.5,726.4 344.0,728.2 343.5,730.0 343.0,729.9 342.5,729.9 342.0,728.5 341.5,727.1 341.0,726.3 340.5,729.5 340.0,732.7 339.5,735.8 339.0,736.8 338.5,733.0 338.0,729.4 337.5,725.9 337.0,727.2 336.5,729.1 336.0,730.0 335.5,728.5 335.0,727.3 334.5,728.7 334.0,729.2 333.5,729.4 333.0,731.9 332.5,734.3 332.0,733.1 331.5,730.3 331.0,727.4 330.5,729.1 330.0,730.8 329.5,730.1 329.0,728.1 328.5,727.7 328.0,726.2 327.5,724.7 327.0,724.1 326.5,724.8 326.0,723.6 325.5,724.9 325.0,726.1 324.5,727.3 324.0,727.6 323.5,726.1 323.0,724.6 322.5,724.5 322.0,724.0 321.5,727.1 321.0,729.1 320.5,726.7 320.0,725.9 319.5,727.3 319.0,732.7 318.5,738.6 318.0,737.2 317.5,731.7 317.0,726.9 316.5,726.8 316.0,725.8 315.5,725.3 315.0,725.9 314.5,725.2 314.0,725.5 313.5,726.1 313.0,726.4 312.5,725.9 312.0,727.2 311.5,728.0 311.0,728.6 310.5,728.5 310.0,727.5 309.5,729.1 309.0,728.9 308.5,730.8 308.0,730.6 307.5,728.3 307.0,731.0 306.5,733.4 306.0,729.9 305.5,726.4 305.0,723.4 304.5,723.1 304.0,725.6 303.5,728.4 303.0,731.2 302.5,728.7 302.0,727.2 301.5,727.1 301.0,726.3 300.5,725.3 300.0,725.8 299.5,725.5 299.0,724.1 298.5,723.7 298.0,726.1 297.5,729.9 297.0,733.8 296.5,737.8 296.0,734.7 295.5,731.1 295.0,729.3 294.5,729.2 294.0,731.0 293.5,731.3 293.0,729.8 292.5,728.2 292.0,728.7 291.5,730.0 291.0,728.3 290.5,726.1 290.0,724.5 289.5,725.6 289.0,726.8 288.5,728.1 288.0,728.7 287.5,727.0 287.0,725.3 286.5,724.0 286.0,723.5 285.5,724.5 285.0,724.2 284.5,727.2 284.0,728.8 283.5,725.6 283.0,722.1 282.5,719.9 282.0,721.7 281.5,723.5 281.0,725.4 280.5,722.6 280.0,719.5 279.5,719.6 279.0,716.8 278.5,716.3 278.0,716.3 277.5,719.7 277.0,717.2 276.5,717.2 276.0,717.4 275.5,718.3 275.0,719.2 274.5,720.2 274.0,721.3 273.5,720.7 273.0,719.9 272.5,720.8 272.0,719.1 271.5,720.0 271.0,720.1 270.5,719.3 270.0,720.5 269.5,722.8 269.0,725.1 268.5,727.3 268.0,728.9 267.5,726.0 267.0,723.1 266.5,720.2 266.0,717.7 265.5,717.7 265.0,716.7 264.5,715.9 264.0,715.1 263.5,715.1 263.0,716.3 262.5,718.0 262.0,720.2 261.5,721.3 261.0,720.0 260.5,718.6 260.0,718.0 259.5,718.8 259.0,719.8 258.5,719.2 258.0,718.2 257.5,717.2 257.0,717.7 256.5,718.4 256.0,719.5 255.5,720.7 255.0,722.0 254.5,721.3 254.0,720.6 253.5,719.8 253.0,719.2 252.5,721.8 252.0,721.4 251.5,722.8 251.0,724.1 250.5,725.3 250.0,723.3 249.5,721.3 249.0,719.2 248.5,717.2 248.0,716.3 247.5,717.2 247.0,716.2 246.5,715.3 246.0,716.5 245.5,717.3 245.0,719.9 244.5,722.4 244.0,725.0 243.5,727.7 243.0,729.0 242.5,727.0 242.0,725.1 241.5,723.1 241.0,723.0 240.5,721.5 240.0,721.9 239.5,721.5 239.0,722.1 238.5,720.7 238.0,719.4 237.5,719.8 237.0,720.1 236.5,720.1 236.0,720.2 235.5,720.4 235.0,721.0 234.5,720.7 234.0,720.0 233.5,719.4 233.0,720.4 232.5,718.4 232.0,719.4 231.5,720.4 231.0,720.3 230.5,721.0 230.0,720.9 229.5,721.8 229.0,722.2 228.5,724.8 228.0,728.0 227.5,728.3 227.0,725.5 226.5,725.1 226.0,726.2 225.5,727.2 225.0,725.8 224.5,725.5 224.0,723.9 223.5,722.1 223.0,720.3 222.5,720.3 222.0,721.6 221.5,719.0 221.0,719.6 220.5,720.4 220.0,721.4 219.5,721.8 219.0,721.7 218.5,720.8 218.0,719.9 217.5,722.1 217.0,727.6 216.5,732.3 216.0,726.2 215.5,720.1 215.0,717.0 214.5,716.3 214.0,715.5 213.5,715.5 213.0,714.1 212.5,713.9 212.0,713.2 211.5,712.5 211.0,711.8 210.5,711.7 210.0,711.6 209.5,711.3 209.0,710.9 208.5,708.8 208.0,709.0 207.5,709.3 207.0,709.2 206.5,706.0 206.0,702.8 205.5,699.8 205.0,696.7 204.5,694.4 204.0,692.1 203.5,689.0 203.0,685.4 202.5,681.4 202.0,676.9 201.5,671.4 201.0,664.9 200.5,658.0 200.0,650.0 199.5,641.1 199.0,631.1 198.5,620.1 198.0,608.1 197.5,595.4 197.0,582.2 196.5,568.9 196.0,556.2 195.5,544.8 195.0,535.7 194.5,529.6 194.0,527.3 193.5,529.0 193.0,534.4 192.5,543.0 192.0,553.9 191.5,566.1 191.0,578.9 190.5,591.8 190.0,604.2 189.5,615.9 189.0,626.7 188.5,636.5 188.0,645.3 187.5,653.1 187.0,660.0 186.5,666.2 186.0,671.7 185.5,676.8 185.0,681.4 184.5,685.8 184.0,688.6 183.5,690.6 183.0,692.0 182.5,692.9 182.0,694.8 181.5,696.7 181.0,697.9 180.5,699.5 180.0,700.8 179.5,701.6 179.0,702.2 178.5,705.0 178.0,708.2 177.5,709.8 177.0,708.1 176.5,706.1 176.0,705.9 175.5,705.9 175.0,708.0 174.5,705.6 174.0,708.5 173.5,708.7 173.0,712.8 172.5,716.9 172.0,720.9 171.5,719.0 171.0,715.3 170.5,713.7 170.0,716.7 169.5,717.7 169.0,715.7 168.5,713.9 168.0,714.2 167.5,716.9 167.0,719.6 166.5,719.4 166.0,718.1 165.5,716.7 165.0,718.5 164.5,720.0 164.0,718.3 163.5,717.8 163.0,719.9 162.5,718.4 162.0,716.9 161.5,716.9 161.0,718.2 160.5,719.5 160.0,719.7 159.5,718.8 159.0,718.6 158.5,719.6 158.0,720.5 157.5,719.7 157.0,718.9 156.5,719.8 156.0,718.8 155.5,721.2 155.0,720.1 154.5,717.7 154.0,716.4 153.5,715.6 153.0,716.4 152.5,717.2 152.0,717.8 151.5,717.1 151.0,718.0 150.5,718.0 150.0,717.1 149.5,716.3 149.0,715.5 148.5,715.4 148.0,716.0 147.5,716.7 147.0,716.1 146.5,715.9 146.0,716.3 145.5,717.1 145.0,719.3 144.5,721.7 144.0,725.5 143.5,729.0 143.0,725.1 142.5,721.3 142.0,718.5 141.5,719.2 141.0,720.2 140.5,719.6 140.0,718.8 139.5,718.5 139.0,719.2 138.5,719.9 138.0,719.7 137.5,718.8 137.0,719.2 136.5,717.8 136.0,716.7 135.5,717.4 135.0,717.7 134.5,717.8 134.0,719.2 133.5,720.6 133.0,722.0 132.5,723.3 132.0,722.2 131.5,721.0 131.0,719.8 130.5,718.6 130.0,720.7 129.5,722.5 129.0,720.2 128.5,719.0 128.0,723.2 127.5,727.5 127.0,723.4 126.5,719.2 126.0,719.5 125.5,717.9 125.0,718.3 124.5,717.9 124.0,717.7 123.5,718.5 123.0,717.6 122.5,718.0 122.0,718.5 121.5,719.0 121.0,719.5 120.5,718.7 120.0,718.0 119.5,717.5 119.0,717.9 118.5,718.5 118.0,718.3 117.5,718.1 117.0,718.4 116.5,719.4 116.0,720.4 115.5,721.0 115.0,721.3 114.5,721.2 114.0,720.2 113.5,719.2 113.0,719.6 112.5,721.1 112.0,720.4 111.5,718.8 111.0,717.4 110.5,717.5 110.0,718.4 109.5,717.2 109.0,717.9 108.5,716.7 108.0,716.0 107.5,716.9 107.0,718.0 106.5,718.6 106.0,717.3 105.5,719.9 105.0,722.8 104.5,725.7 104.0,726.9 103.5,724.0 103.0,721.2 102.5,718.4 102.0,716.0 101.5,718.2 101.0,716.8 100.5,716.6 100.0,717.5 99.5,717.8 99.0,719.2 98.5,719.8 98.0,720.3 97.5,721.5 97.0,722.5 96.5,721.1 96.0,719.6 95.5,718.6 95.0,718.5 94.5,719.4 94.0,721.8 93.5,724.4 93.0,727.0 92.5,725.4 92.0,722.6 91.5,720.0 91.0,717.5 90.5,718.2 90.0,717.5 89.5,717.6 89.0,718.0 88.5,718.4 88.0,718.1 87.5,718.4 87.0,718.7 86.5,718.2 86.0,719.2 85.5,720.0 85.0,719.1 84.5,720.4 84.0,722.0 83.5,723.7 83.0,722.8 82.5,721.2 82.0,719.6 81.5,718.0 81.0,716.3 80.5,716.4 80.0,716.3 79.5,717.1 79.0,718.3 78.5,718.0 78.0,719.0 77.5,720.8 77.0,722.5 76.5,724.0 76.0,723.9 75.5,723.3 75.0,722.2 74.5,721.0 74.0,719.8 73.5,719.6 73.0,719.6 72.5,718.8 72.0,718.5 71.5,719.3 71.0,718.6 70.5,719.7"/><polyline points="70.5,715.2 71.0,715.0 71.5,714.7 72.0,714.6 72.5,714.5 73.0,714.5 73.5,714.6 74.0,714.8 74.5,715.0 75.0,715.3 75.5,715.3 76.0,715.3 76.5,715.1 77.0,714.7 77.5,714.2 78.0,713.7 78.5,713.2 79.0,712.7 79.5,712.4 80.0,712.2 80.5,712.1 81.0,712.1 81.5,712.1 82.0,712.2 82.5,712.2 83.0,712.3 83.5,712.2 84.0,712.2 84.5,712.1 85.0,712.1 85.5,712.1 86.0,712.3 86.5,712.5 87.0,712.8 87.5,713.1 88.0,713.3 88.5,713.5 89.0,713.6 89.5,713.5 90.0,713.3 90.5,712.9 91.0,712.6 91.5,712.2 92.0,711.9 92.5,711.8 93.0,711.8 93.5,712.0 94.0,712.3 94.5,712.8 95.0,713.3 95.5,713.8 96.0,714.2 96.5,714.5 97.0,714.7 97.5,714.8 98.0,714.8 98.5,714.6 99.0,714.3 99.5,713.9 100.0,713.5 100.5,713.1 101.0,712.8 101.5,712.5 102.0,712.2 102.5,712.0 103.0,711.9 103.5,711.8 104.0,711.8 104.5,711.7 105.0,711.7 105.5,711.7 106.0,711.7 106.5,711.8 107.0,711.9 107.5,712.0 108.0,712.1 108.5,712.2 109.0,712.3 109.5,712.4 110.0,712.5 110.5,712.7 111.0,712.9 111.5,713.1 112.0,713.5 112.5,713.8 113.0,714.1 113.5,714.3 114.0,714.5 114.5,714.6 115.0,714.6 115.5,714.5 116.0,714.3 116.5,714.1 117.0,713.9 117.5,713.6 118.0,713.2 118.5,712.9 119.0,712.7 119.5,712.5 120.0,712.3 120.5,712.3 121.0,712.3 121.5,712.4 122.0,712.7 122.5,712.9 123.0,713.2 123.5,713.4 124.0,713.5 124.5,713.6 125.0,713.6 125.5,713.6 126.0,713.5 126.5,713.4 127.0,713.4 127.5,713.4 128.0,713.4 128.5,713.5 129.0,713.6 129.5,713.7 130.0,713.8 130.5,713.9 131.0,713.9 131.5,714.0 132.0,713.9 132.5,713.9 133.0,713.7 133.5,713.6 134.0,713.3 134.5,713.1 135.0,712.9 135.5,712.7 136.0,712.6 136.5,712.6 137.0,712.7 137.5,712.9 138.0,713.0 138.5,713.2 139.0,713.4 139.5,713.5 140.0,713.5 140.5,713.4 141.0,713.4 141.5,713.3 142.0,713.3 142.5,713.3 143.0,713.3 143.5,713.4 144.0,713.4 144.5,713.4 145.0,713.3 145.5,713.1 146.0,712.8 146.5,712.5 147.0,712.3 147.5,712.0 148.0,711.8 148.5,711.6 149.0,711.5 149.5,711.4 150.0,711.3 150.5,711.1 151.0,711.0 151.5,710.9 152.0,710.8 152.5,710.7 153.0,710.7 153.5,710.8 154.0,710.9 154.5,711.1 155.0,711.3 155.5,711.6 156.0,711.8 156.5,712.1 157.0,712.3 157.5,712.5 158.0,712.7 158.5,712.8 159.0,712.9 159.5,712.9 160.0,712.8 160.5,712.5 161.0,712.2 161.5,711.9 162.0,711.5 162.5,711.2 163.0,710.9 163.5,710.7 164.0,710.5 164.5,710.3 165.0,710.1 165.5,709.8 166.0,709.4 166.5,708.8 167.0,708.1 167.5,707.3 168.0,706.5 168.5,705.7 169.0,704.9 169.5,704.3 170.0,703.7 170.5,703.3 171.0,703.0 171.5,702.8 172.0,702.6 172.5,702.4 173.0,702.2 173.5,702.1 174.0,701.9 174.5,701.7 175.0,701.6 175.5,701.6 176.0,701.5 176.5,701.3 177.0,701.1 177.5,700.7 178.0,700.1 178.5,699.4 179.0,698.6 179.5,697.6 180.0,696.4 180.5,695.2 181.0,693.9 181.5,692.5 182.0,690.9 182.5,689.3 183.0,687.4 183.5,685.4 184.0,683.0 184.5,680.3 185.0,677.1 185.5,673.3 186.0,668.9 186.5,663.7 187.0,657.6 187.5,650.7 188.0,642.9 188.5,634.1 189.0,624.3 189.5,613.5 190.0,601.8 190.5,589.4 191.0,576.5 191.5,563.7 192.0,551.5 192.5,540.6 193.0,532.0 193.5,526.6 194.0,524.9 194.5,527.2 195.0,533.3 195.5,542.4 196.0,553.8 196.5,566.5 197.0,579.8 197.5,593.0 198.0,605.7 198.5,617.7 199.0,628.7 199.5,638.7 200.0,647.6 200.5,655.6 201.0,662.5 201.5,668.7 202.0,674.1 202.5,678.7 203.0,682.7 203.5,686.1 204.0,688.9 204.5,691.3 205.0,693.4 205.5,695.1 206.0,696.7 206.5,698.0 207.0,699.2 207.5,700.3 208.0,701.4 208.5,702.4 209.0,703.4 209.5,704.3 210.0,705.3 210.5,706.3 211.0,707.2 211.5,708.1 212.0,709.0 212.5,709.9 213.0,710.6 213.5,711.2 214.0,711.6 214.5,712.1 215.0,712.4 215.5,712.8 216.0,713.2 216.5,713.5 217.0,713.8 217.5,714.1 218.0,714.2 218.5,714.3 219.0,714.4 219.5,714.4 220.0,714.5 220.5,714.5 221.0,714.6 221.5,714.9 222.0,715.3 222.5,715.7 223.0,716.2 223.5,716.6 224.0,717.0 224.5,717.3 225.0,717.6 225.5,717.8 226.0,717.9 226.5,717.9 227.0,717.9 227.5,717.7 228.0,717.5 228.5,717.1 229.0,716.7 229.5,716.3 230.0,715.8 230.5,715.4 231.0,715.1 231.5,714.9 232.0,714.7 232.5,714.6 233.0,714.6 233.5,714.6 234.0,714.6 234.5,714.7 235.0,714.8 235.5,714.9 236.0,715.0 236.5,715.1 237.0,715.2 237.5,715.3 238.0,715.4 238.5,715.5 239.0,715.5 239.5,715.4 240.0,715.3 240.5,715.2 241.0,715.0 241.5,714.8 242.0,714.5 242.5,714.2 243.0,713.8 243.5,713.5 244.0,713.2 244.5,712.9 245.0,712.6 245.5,712.4 246.0,712.2 246.5,712.0 247.0,711.9 247.5,711.9 248.0,712.1 248.5,712.4 249.0,712.8 249.5,713.3 250.0,713.8 250.5,714.3 251.0,714.7 251.5,715.0 252.0,715.1 252.5,715.1 253.0,714.9 253.5,714.7 254.0,714.4 254.5,714.1 255.0,713.7 255.5,713.5 256.0,713.4 256.5,713.4 257.0,713.5 257.5,713.7 258.0,713.9 258.5,714.0 259.0,714.0 259.5,713.9 260.0,713.6 260.5,713.3 261.0,712.8 261.5,712.3 262.0,711.8 262.5,711.4 263.0,711.1 263.5,710.9 264.0,710.9 264.5,711.1 265.0,711.3 265.5,711.7 266.0,712.1 266.5,712.5 267.0,712.9 267.5,713.3 268.0,713.7 268.5,714.0 269.0,714.3 269.5,714.5 270.0,714.6 270.5,714.7 271.0,714.8 271.5,714.8 272.0,714.7 272.5,714.5 273.0,714.3 273.5,714.1 274.0,713.9 274.5,713.7 275.0,713.5 275.5,713.3 276.0,713.1 276.5,712.8 277.0,712.6 277.5,712.4 278.0,712.2 278.5,712.1 279.0,712.1 279.5,712.2 280.0,712.5 280.5,713.0 281.0,713.7 281.5,714.4 282.0,715.3 282.5,716.0 283.0,716.7 283.5,717.3 284.0,717.6 284.5,717.7 285.0,717.6 285.5,717.5 286.0,717.2 286.5,717.0 287.0,716.8 287.5,716.7 288.0,716.8 288.5,717.0 289.0,717.4 289.5,717.9 290.0,718.4 290.5,719.0 291.0,719.5 291.5,719.9 292.0,720.2 292.5,720.4 293.0,720.4 293.5,720.4 294.0,720.2 294.5,720.0 295.0,719.7 295.5,719.4 296.0,719.1 296.5,718.9 297.0,718.8 297.5,718.7 298.0,718.8 298.5,718.9 299.0,719.1 299.5,719.2 300.0,719.3 300.5,719.4 301.0,719.3 301.5,719.2 302.0,719.0 302.5,718.9 303.0,718.7 303.5,718.7 304.0,718.7 304.5,718.8 305.0,719.0 305.5,719.3 306.0,719.7 306.5,720.0 307.0,720.3 307.5,720.6 308.0,720.9 308.5,721.0 309.0,721.2 309.5,721.2 310.0,721.2 310.5,721.1 311.0,721.0 311.5,720.8 312.0,720.6 312.5,720.4 313.0,720.2 313.5,720.1 314.0,720.1 314.5,720.3 315.0,720.5 315.5,720.7 316.0,721.0 316.5,721.3 317.0,721.5 317.5,721.6 318.0,721.6 318.5,721.3 319.0,720.9 319.5,720.4 320.0,719.8 320.5,719.2 321.0,718.7 321.5,718.2 322.0,718.0 322.5,717.9 323.0,717.9 323.5,718.1 324.0,718.3 324.5,718.5 325.0,718.6 325.5,718.7 326.0,718.7 326.5,718.7 327.0,718.6 327.5,718.7 328.0,718.8 328.5,719.1 329.0,719.4 329.5,719.8 330.0,720.2 330.5,720.6 331.0,720.9 331.5,721.1 332.0,721.4 332.5,721.6 333.0,721.7 333.5,721.9 334.0,722.0 334.5,722.0 335.0,722.0 335.5,721.8 336.0,721.6 336.5,721.3 337.0,721.1 337.5,721.1 338.0,721.1 338.5,721.3 339.0,721.6 339.5,722.0 340.0,722.3 340.5,722.6 341.0,722.9 341.5,723.0 342.0,723.0 342.5,722.8 343.0,722.6 343.5,722.4 344.0,722.1 344.5,721.7 345.0,721.4 345.5,721.0 346.0,720.7 346.5,720.3 347.0,720.1 347.5,719.9 348.0,719.8 348.5,719.8 349.0,719.8 349.5,719.9 350.0,720.0 350.5,720.2 351.0,720.4 351.5,720.6 352.0,720.9 352.5,721.1 353.0,721.2 353.5,721.3 354.0,721.4 354.5,721.3 355.0,721.2 355.5,721.0 356.0,720.8 356.5,720.6 357.0,720.5 357.5,720.5 358.0,720.6 358.5,720.7 359.0,720.8 359.5,720.9 360.0,721.0 360.5,720.9 361.0,720.8 361.5,720.7 362.0,720.5 362.5,720.3 363.0,720.1 363.5,720.1 364.0,720.1 364.5,720.2 365.0,720.5 365.5,720.8 366.0,721.1 366.5,721.4 367.0,721.6 367.5,721.7 368.0,721.8 368.5,721.6 369.0,721.5 369.5,721.3 370.0,721.1 370.5,721.0 371.0,720.9 371.5,720.9 372.0,720.8 372.5,720.7 373.0,720.6 373.5,720.4 374.0,720.2 374.5,720.0 375.0,719.9 375.5,719.7 376.0,719.7 376.5,719.7 377.0,719.7 377.5,719.8 378.0,719.8 378.5,719.9 379.0,719.9 379.5,719.8 380.0,719.8 380.5,719.7 381.0,719.6 381.5,719.6 382.0,719.7 382.5,720.0 383.0,720.2 383.5,720.6 384.0,721.0 384.5,721.3 385.0,721.6 385.5,721.8 386.0,721.9 386.5,722.0 387.0,722.0 387.5,722.1 388.0,722.2 388.5,722.4 389.0,722.7 389.5,722.9 390.0,723.2 390.5,723.4 391.0,723.6 391.5,723.7 392.0,723.8 392.5,723.8 393.0,723.7 393.5,723.5 394.0,723.3 394.5,723.1 395.0,722.9 395.5,722.8 396.0,722.6 396.5,722.4 397.0,722.3 397.5,722.2 398.0,722.1 398.5,722.0 399.0,722.0 399.5,721.9 400.0,721.9 400.5,721.9 401.0,721.9 401.5,722.0 402.0,722.2 402.5,722.3 403.0,722.5 403.5,722.7 404.0,722.8 404.5,722.8 405.0,722.7 405.5,722.6 406.0,722.5 406.5,722.4 407.0,722.3 407.5,722.3 408.0,722.5 408.5,722.7 409.0,722.9 409.5,723.2 410.0,723.5 410.5,723.8 411.0,723.9 411.5,724.1 412.0,724.1 412.5,724.1 413.0,724.0 413.5,723.9 414.0,723.7 414.5,723.5 415.0,723.3 415.5,723.2 416.0,723.0 416.5,722.9 417.0,722.8 417.5,722.7 418.0,722.7 418.5,722.8 419.0,722.8 419.5,723.0 420.0,723.1 420.5,723.3 421.0,723.5 421.5,723.6 422.0,723.8 422.5,724.0 423.0,724.2 423.5,724.4 424.0,724.5 424.5,724.6 425.0,724.6 425.5,724.6 426.0,724.6 426.5,724.6 427.0,724.6 427.5,724.6 428.0,724.7 428.5,724.7 429.0,724.8 429.5,725.0 430.0,725.1 430.5,725.2 431.0,725.2 431.5,725.1 432.0,724.9 432.5,724.7 433.0,724.3 433.5,723.9 434.0,723.5 434.5,723.2 435.0,723.0 435.5,723.0 436.0,723.1 436.5,723.3 437.0,723.5 437.5,723.8 438.0,724.1 438.5,724.3 439.0,724.3 439.5,724.3 440.0,724.2 440.5,724.0 441.0,723.9 441.5,723.8 442.0,723.9 442.5,724.0 443.0,724.3 443.5,724.7 444.0,725.2 444.5,725.6 445.0,725.9 445.5,726.2 446.0,726.3 446.5,726.2 447.0,726.1 447.5,725.8 448.0,725.4 448.5,725.0 449.0,724.6 449.5,724.3 450.0,724.0 450.5,723.9 451.0,723.9 451.5,724.0 452.0,724.2 452.5,724.5 453.0,724.9 453.5,725.3 454.0,725.6 454.5,725.9 455.0,726.2 455.5,726.3 456.0,726.4 456.5,726.4 457.0,726.4 457.5,726.5 458.0,726.5 458.5,726.5 459.0,726.6 459.5,726.8 460.0,726.9 460.5,727.1 461.0,727.3 461.5,727.4 462.0,727.5 462.5,727.5 463.0,727.3 463.5,727.1 464.0,726.7 464.5,726.2 465.0,725.8 465.5,725.4 466.0,725.1 466.5,725.0 467.0,725.0 467.5,725.1 468.0,725.3 468.5,725.7 469.0,726.0 469.5,726.5 470.0,726.9 470.5,727.1 471.0,727.3 471.5,727.3 472.0,727.3 472.5,727.3 473.0,727.1 473.5,727.0 474.0,726.9 474.5,726.8 475.0,726.8 475.5,726.9 476.0,727.0 476.5,727.1 477.0,727.0 477.5,726.8 478.0,726.5 478.5,726.0 479.0,725.4 479.5,724.7 480.0,723.9 480.5,723.3 481.0,722.7 481.5,722.4 482.0,722.2 482.5,722.3 483.0,722.6 483.5,723.1 484.0,723.7 484.5,724.3 485.0,725.0 485.5,725.6 486.0,726.1 486.5,726.4 487.0,726.5 487.5,726.4 488.0,726.2 488.5,725.7 489.0,725.2 489.5,724.5 490.0,723.9 490.5,723.3 491.0,722.9 491.5,722.6 492.0,722.4 492.5,722.3 493.0,722.4 493.5,722.4 494.0,722.5 494.5,722.5 495.0,722.4 495.5,722.3 496.0,722.2 496.5,722.0 497.0,721.8 497.5,721.7 498.0,721.6 498.5,721.6 499.0,721.7 499.5,721.9 500.0,722.2 500.5,722.7 501.0,723.2 501.5,723.7 502.0,724.1 502.5,724.5 503.0,724.6 503.5,724.6 504.0,724.5 504.5,724.3 505.0,724.1 505.5,723.8 506.0,723.5 506.5,723.3 507.0,723.1 507.5,723.0 508.0,722.9 508.5,722.9 509.0,723.0 509.5,723.2 510.0,723.4 510.5,723.6 511.0,723.8 511.5,724.0 512.0,724.2 512.5,724.3 513.0,724.3 513.5,724.4 514.0,724.4 514.5,724.3 515.0,724.3 515.5,724.1 516.0,723.9 516.5,723.7 517.0,723.4 517.5,723.1 518.0,722.9 518.5,722.8 519.0,722.8 519.5,722.9 520.0,723.1 520.5,723.5 521.0,723.9 521.5,724.4 522.0,724.8 522.5,725.2 523.0,725.5 523.5,725.7 524.0,725.8 524.5,725.8 525.0,725.6 525.5,725.4 526.0,725.0 526.5,724.6 527.0,724.1 527.5,723.6 528.0,723.2 528.5,722.8 529.0,722.5 529.5,722.4 530.0,722.4 530.5,722.4 531.0,722.5 531.5,722.6 532.0,722.7 532.5,722.8 533.0,722.8 533.5,722.9 534.0,722.8 534.5,722.8 535.0,722.8 535.5,722.7 536.0,722.7 536.5,722.8 537.0,722.8 537.5,722.7 538.0,722.6 538.5,722.4 539.0,722.0 539.5,721.6 540.0,721.0 540.5,720.4 541.0,719.9 541.5,719.5 542.0,719.1 542.5,719.0 543.0,718.9 543.5,718.9 544.0,719.0 544.5,719.2 545.0,719.4 545.5,719.7 546.0,720.0 546.5,720.3 547.0,720.6 547.5,720.9 548.0,721.2 548.5,721.5 549.0,721.8 549.5,722.1 550.0,722.3 550.5,722.4 551.0,722.5 551.5,722.4 552.0,722.3 552.5,722.1 553.0,721.9 553.5,721.6 554.0,721.3 554.5,721.1 555.0,720.9 555.5,720.8 556.0,720.7 556.5,720.6 557.0,720.4 557.5,720.3 558.0,720.1 558.5,719.9 559.0,719.8 559.5,719.7 560.0,719.6 560.5,719.8 561.0,720.0 561.5,720.2 562.0,720.4 562.5,720.5 563.0,720.6 563.5,720.7 564.0,720.7 564.5,720.7 565.0,720.8 565.5,720.9 566.0,721.1 566.5,721.3 567.0,721.5 567.5,721.6 568.0,721.7 568.5,721.7 569.0,721.6 569.5,721.3 570.0,721.0 570.5,720.7 571.0,720.4 571.5,720.1 572.0,720.0 572.5,719.9 573.0,720.0 573.5,720.2 574.0,720.4 574.5,720.7 575.0,720.9 575.5,721.1 576.0,721.2 576.5,721.2 577.0,721.2 577.5,721.1 578.0,721.1 578.5,721.0 579.0,720.9 579.5,720.8 580.0,720.8 580.5,720.6 581.0,720.3 581.5,720.0 582.0,719.8 582.5,719.5 583.0,719.4 583.5,719.4 584.0,719.5 584.5,719.8 585.0,720.1 585.5,720.4 586.0,720.8 586.5,721.0 587.0,721.3 587.5,721.4 588.0,721.4 588.5,721.4 589.0,721.3 589.5,721.2 590.0,721.1 590.5,720.9 591.0,720.7 591.5,720.5 592.0,720.2 592.5,719.9 593.0,719.5 593.5,719.1 594.0,718.7 594.5,718.3 595.0,717.9 595.5,717.6 596.0,717.4 596.5,717.3 597.0,717.4 597.5,717.5 598.0,717.7 598.5,717.9 599.0,718.1 599.5,718.3 600.0,718.5 600.5,718.7 601.0,718.9 601.5,719.0 602.0,719.2 602.5,719.3 603.0,719.4 603.5,719.5 604.0,719.4 604.5,719.4 605.0,719.2 605.5,719.0 606.0,718.8 606.5,718.5 607.0,718.1 607.5,717.8 608.0,717.5 608.5,717.3 609.0,717.1 609.5,717.0 610.0,717.0 610.5,717.0 611.0,717.0 611.5,717.1 612.0,717.2 612.5,717.3 613.0,717.3 613.5,717.5 614.0,717.6 614.5,717.8 615.0,718.0 615.5,718.2 616.0,718.5 616.5,718.7 617.0,718.8 617.5,718.8 618.0,718.7 618.5,718.5 619.0,718.3 619.5,718.0 620.0,717.7 620.5,717.5 621.0,717.4 621.5,717.4 622.0,717.6 622.5,717.8 623.0,718.2 623.5,718.5 624.0,718.9 624.5,719.2 625.0,719.4 625.5,719.5 626.0,719.4 626.5,719.3 627.0,719.1 627.5,718.8 628.0,718.5 628.5,718.3 629.0,718.1 629.5,718.0 630.0,718.0 630.5,718.1 631.0,718.2 631.5,718.5 632.0,718.7 632.5,719.0 633.0,719.2 633.5,719.4 634.0,719.5 634.5,719.6 635.0,719.7 635.5,719.7 636.0,719.8 636.5,719.9 637.0,719.9 637.5,720.0 638.0,720.0 638.5,720.0 639.0,719.9 639.5,719.9 640.0,719.7 640.5,719.7 641.0,719.6 641.5,719.7 642.0,719.7 642.5,719.8 643.0,719.9 643.5,719.8 644.0,719.7 644.5,719.5 645.0,719.2 645.5,718.9 646.0,718.7 646.5,718.6 647.0,718.6 647.5,718.9 648.0,719.2 648.5,719.7 649.0,720.1 649.5,720.5 650.0,720.8 650.5,721.1 651.0,721.3 651.5,721.4 652.0,721.5 652.5,721.7 653.0,722.0 653.5,722.3 654.0,722.7 654.5,723.0 655.0,723.2 655.5,723.3 656.0,723.3 656.5,723.1 657.0,722.9 657.5,722.7 658.0,722.4 658.5,722.2 659.0,722.0 659.5,721.9 660.0,721.9 660.5,721.9 661.0,722.0 661.5,722.1 662.0,722.2 662.5,722.3 663.0,722.3 663.5,722.2 664.0,722.1 664.5,722.0 665.0,722.0 665.5,721.9 666.0,721.9 666.5,722.0 667.0,722.0 667.5,722.1 668.0,722.1 668.5,722.2 669.0,722.2 669.5,722.2 670.0,722.2 670.5,722.2 671.0,722.2 671.5,722.3 672.0,722.4 672.5,722.5 673.0,722.5 673.5,722.5 674.0,722.4 674.5,722.3 675.0,722.2 675.5,722.0 676.0,721.9 676.5,721.8 677.0,721.7 677.5,721.6 678.0,721.6 678.5,721.6 679.0,721.6 679.5,721.8 680.0,722.0 680.5,722.3 681.0,722.7 681.5,723.1 682.0,723.7 682.5,724.2 683.0,724.7 683.5,725.2 684.0,725.5 684.5,725.8 685.0,726.0 685.5,726.0 686.0,726.0 686.5,726.0 687.0,725.9 687.5,725.9 688.0,725.8 688.5,725.6 689.0,725.5 689.5,725.2 690.0,724.9 690.5,724.4 691.0,723.8 691.5,723.1 692.0,722.4 692.5,721.8 693.0,721.2 693.5,720.8 694.0,720.6 694.5,720.5 695.0,720.6 695.5,720.7 696.0,720.8 696.5,721.0 697.0,721.1 697.5,721.1 698.0,721.1 698.5,721.1 699.0,721.0 699.5,720.9 700.0,720.8 700.5,720.5 701.0,720.2 701.5,719.7 702.0,719.2 702.5,718.7 703.0,718.1 703.5,717.6 704.0,717.1 704.5,716.6 705.0,716.3 705.5,716.1 706.0,715.9 706.5,715.8 707.0,715.8 707.5,715.7 708.0,715.7 708.5,715.7 709.0,715.6 709.5,715.6 710.0,715.6 710.5,715.8 711.0,716.0 711.5,716.2 712.0,716.3 712.5,716.4 713.0,716.5 713.5,716.4 714.0,716.3 714.5,716.2 715.0,716.0 715.5,715.8 716.0,715.7 716.5,715.7 717.0,715.7 717.5,715.8 718.0,715.9 718.5,716.1 719.0,716.3 719.5,716.5 720.0,716.6 720.5,716.7 721.0,716.7 721.5,716.6 722.0,716.5 722.5,716.2 723.0,715.8 723.5,715.4 724.0,715.0 724.5,714.6 725.0,714.2 725.5,713.9 726.0,713.6 726.5,713.4 727.0,713.2 727.5,713.1 728.0,713.0 728.5,712.9 729.0,712.9 729.5,712.9 730.0,712.9 730.5,712.8 731.0,712.7 731.5,712.6 732.0,712.5 732.5,712.4 733.0,712.3 733.5,712.3 734.0,712.3 734.5,712.3 735.0,712.2 735.5,712.1 736.0,712.0 736.5,711.9 737.0,711.9 737.5,711.8 738.0,711.7 738.5,711.7 739.0,711.7 739.5,711.7 740.0,711.8 740.5,711.9 741.0,712.0 741.5,712.2 742.0,712.4 742.5,712.6 743.0,712.9 743.5,713.1 744.0,713.2 744.5,713.3 745.0,713.3 745.5,713.2 746.0,713.1 746.5,712.8 747.0,712.6 747.5,712.3 748.0,712.1 748.5,711.9 749.0,711.9 749.5,711.9 750.0,712.0 750.5,712.2 751.0,712.5 751.5,712.8 752.0,713.1 752.5,713.4 753.0,713.6 753.5,713.7 754.0,713.7 754.5,713.7 755.0,713.7 755.5,713.7 756.0,713.9 756.5,714.1 757.0,714.4 757.5,714.7 758.0,715.0 758.5,715.2 759.0,715.4 759.5,715.5 760.0,715.5 760.5,715.5 761.0,715.5 761.5,715.5 762.0,715.5 762.5,715.5 763.0,715.6 763.5,715.6 764.0,715.7 764.5,715.8 765.0,715.9 765.5,716.1 766.0,716.3 766.5,716.5 767.0,716.8 767.5,717.1 768.0,717.4 768.5,717.8 769.0,718.1 769.5,718.4 770.0,718.5 770.5,718.6 771.0,718.6 771.5,718.4 772.0,718.2 772.5,718.0 773.0,717.8 773.5,717.5 774.0,717.3 774.5,717.0 775.0,716.7 775.5,716.4 776.0,716.1 776.5,715.8 777.0,715.6 777.5,715.5 778.0,715.5 778.5,715.7 779.0,716.0 779.5,716.4 780.0,716.8 780.5,717.2 781.0,717.6 781.5,717.9 782.0,718.1 782.5,718.3 783.0,718.4 783.5,718.4 784.0,718.3 784.5,718.2 785.0,717.9 785.5,717.6 786.0,717.2 786.5,716.7 787.0,716.3 787.5,715.8 788.0,715.5 788.5,715.2 789.0,715.1 789.5,715.1 790.0,715.3 790.5,715.5 791.0,715.8 791.5,716.2 792.0,716.6 792.5,717.1 793.0,717.5 793.5,717.8 794.0,718.1 794.5,718.2 795.0,718.2 795.5,718.1 796.0,717.9 796.5,717.6 797.0,717.3 797.5,716.9 798.0,716.6 798.5,716.4 799.0,716.3 799.5,716.2 800.0,716.1 800.5,716.1 801.0,716.1 801.5,716.1 802.0,716.1 802.5,716.0 803.0,715.9 803.5,715.8 804.0,715.7 804.5,715.6 805.0,715.6 805.5,715.7 806.0,715.8 806.5,716.0 807.0,716.3 807.5,716.5 808.0,716.7 808.5,716.8 809.0,716.9 809.5,716.8 810.0,716.6 810.5,716.4 811.0,716.1 811.5,715.9 812.0,715.6 812.5,715.4 813.0,715.2 813.5,715.1 814.0,714.9 814.5,714.9 815.0,714.8 815.5,714.8 816.0,714.9 816.5,714.9 817.0,715.1 817.5,715.2 818.0,715.4 818.5,715.6 819.0,715.9 819.5,716.2 820.0,716.5 820.5,716.8 821.0,717.0 821.5,717.1 822.0,717.1 822.5,716.9 823.0,716.6 823.5,716.2 824.0,715.7 824.5,715.4 825.0,715.1 825.5,714.9 826.0,714.8 826.5,714.9 827.0,714.9 827.5,715.0 828.0,715.0 828.5,715.0 829.0,714.9 829.5,714.9 830.0,714.8 830.5,714.8 831.0,714.7 831.5,714.7 832.0,714.8 832.5,714.8 833.0,714.9 833.5,714.9 834.0,714.9 834.5,714.8 835.0,714.6 835.5,714.3 836.0,713.8 836.5,713.2 837.0,712.6 837.5,711.9 838.0,711.2 838.5,710.8 839.0,710.4 839.5,710.3 840.0,710.4 840.5,710.6 841.0,710.9 841.5,711.1 842.0,711.3 842.5,711.4 843.0,711.4 843.5,711.3 844.0,711.2 844.5,711.1 845.0,711.0 845.5,711.0 846.0,711.0 846.5,711.1 847.0,711.2 847.5,711.4 848.0,711.5 848.5,711.6 849.0,711.7 849.5,711.8 850.0,711.9 850.5,711.9 851.0,711.9 851.5,711.8 852.0,711.7 852.5,711.5 853.0,711.3 853.5,711.0 854.0,710.8 854.5,710.6 855.0,710.4 855.5,710.3 856.0,710.3 856.5,710.3 857.0,710.4 857.5,710.5 858.0,710.6 858.5,710.7 859.0,710.7 859.5,710.6 860.0,710.5 860.5,710.4 861.0,710.2 861.5,710.1 862.0,710.0 862.5,710.0 863.0,710.1 863.5,710.3 864.0,710.4 864.5,710.6 865.0,710.8 865.5,710.8 866.0,710.8 866.5,710.7 867.0,710.4 867.5,710.1 868.0,709.7 868.5,709.3 869.0,708.9 869.5,708.6 870.0,708.4 870.5,708.2 871.0,708.2 871.5,708.1 872.0,708.2 872.5,708.1 873.0,708.1 873.5,708.1 874.0,708.0 874.5,708.0 875.0,708.0 875.5,708.1 876.0,708.4 876.5,708.7 877.0,709.2 877.5,709.7 878.0,710.2 878.5,710.6 879.0,710.9 879.5,711.0 880.0,711.0 880.5,710.8 881.0,710.5 881.5,710.1 882.0,709.8 882.5,709.5 883.0,709.3 883.5,709.2 884.0,709.2 884.5,709.3 885.0,709.3 885.5,709.4 886.0,709.5 886.5,709.6 887.0,709.6 887.5,709.5 888.0,709.4 888.5,709.2 889.0,708.9 889.5,708.5 890.0,708.2 890.5,707.8 891.0,707.5 891.5,707.3 892.0,707.1 892.5,707.1 893.0,707.2 893.5,707.3 894.0,707.5 894.5,707.7 895.0,707.9 895.5,708.1 896.0,708.3 896.5,708.4 897.0,708.6 897.5,708.7 898.0,708.9 898.5,709.1 899.0,709.3 899.5,709.6 900.0,709.9 900.5,710.3 901.0,710.5 901.5,710.7 902.0,710.8 902.5,710.6 903.0,710.4 903.5,709.9 904.0,709.5 904.5,709.0 905.0,708.6 905.5,708.3 906.0,708.2 906.5,708.3 907.0,708.5 907.5,708.8 908.0,709.1 908.5,709.4 909.0,709.5 909.5,709.5 910.0,709.4 910.5,709.1 911.0,708.7 911.5,708.1 912.0,707.6 912.5,707.1 913.0,706.7 913.5,706.4 914.0,706.4 914.5,706.5 915.0,706.7 915.5,706.9" fill="none" stroke="#231f20" stroke-width="4.8" stroke-linejoin="miter" stroke-miterlimit="4"/><polygon points="70.5,793.5 71.0,792.9 71.5,792.4 72.0,792.3 72.5,793.2 73.0,793.1 73.5,792.3 74.0,791.9 74.5,793.1 75.0,794.2 75.5,795.2 76.0,794.8 76.5,794.2 77.0,793.7 77.5,794.0 78.0,793.2 78.5,793.0 79.0,794.3 79.5,795.5 80.0,794.5 80.5,795.6 81.0,795.2 81.5,794.6 82.0,793.7 82.5,794.0 83.0,794.6 83.5,794.4 84.0,794.6 84.5,793.4 85.0,791.9 85.5,792.1 86.0,793.6 86.5,793.3 87.0,795.6 87.5,794.7 88.0,794.7 88.5,794.2 89.0,792.8 89.5,792.1 90.0,791.3 90.5,792.4 91.0,793.1 91.5,793.9 92.0,794.4 92.5,792.4 93.0,793.0 93.5,792.9 94.0,793.3 94.5,791.8 95.0,790.7 95.5,792.2 96.0,791.8 96.5,790.7 97.0,789.9 97.5,790.1 98.0,788.7 98.5,789.5 99.0,790.6 99.5,787.7 100.0,785.3 100.5,788.7 101.0,792.0 101.5,792.9 102.0,792.0 102.5,794.1 103.0,795.2 103.5,795.9 104.0,796.1 104.5,795.6 105.0,792.5 105.5,788.8 106.0,785.1 106.5,781.4 107.0,780.9 107.5,783.6 108.0,786.3 108.5,789.3 109.0,792.4 109.5,792.3 110.0,790.8 110.5,792.2 111.0,793.1 111.5,791.4 112.0,789.7 112.5,787.9 113.0,786.5 113.5,783.2 114.0,783.0 114.5,787.0 115.0,790.8 115.5,793.4 116.0,794.6 116.5,795.1 117.0,794.0 117.5,794.3 118.0,793.5 118.5,792.8 119.0,792.0 119.5,792.8 120.0,792.9 120.5,793.2 121.0,792.3 121.5,793.1 122.0,791.2 122.5,789.3 123.0,787.5 123.5,786.0 124.0,787.6 124.5,789.2 125.0,790.9 125.5,790.9 126.0,789.7 126.5,788.4 127.0,787.2 127.5,785.4 128.0,784.0 128.5,785.9 129.0,787.9 129.5,789.9 130.0,791.9 130.5,791.3 131.0,791.0 131.5,792.6 132.0,794.0 132.5,793.0 133.0,792.9 133.5,793.5 134.0,792.5 134.5,791.6 135.0,790.6 135.5,790.0 136.0,789.4 136.5,791.0 137.0,792.6 137.5,794.0 138.0,793.0 138.5,791.5 139.0,789.9 139.5,789.3 140.0,789.9 140.5,787.6 141.0,785.0 141.5,782.5 142.0,784.3 142.5,786.5 143.0,788.8 143.5,788.6 144.0,787.3 144.5,788.8 145.0,790.6 145.5,790.3 146.0,791.3 146.5,792.3 147.0,791.5 147.5,792.0 148.0,792.0 148.5,790.0 149.0,791.8 149.5,791.2 150.0,791.2 150.5,790.8 151.0,789.8 151.5,788.9 152.0,788.1 152.5,787.4 153.0,786.8 153.5,787.8 154.0,788.8 154.5,789.7 155.0,790.6 155.5,790.0 156.0,789.8 156.5,789.0 157.0,788.6 157.5,790.1 158.0,789.7 158.5,788.7 159.0,787.7 159.5,788.4 160.0,790.1 160.5,791.7 161.0,793.0 161.5,792.7 162.0,793.0 162.5,793.2 163.0,792.2 163.5,790.6 164.0,789.0 164.5,787.4 165.0,787.0 165.5,788.1 166.0,788.8 166.5,789.6 167.0,791.0 167.5,789.4 168.0,787.1 168.5,786.4 169.0,789.1 169.5,791.5 170.0,791.5 170.5,790.3 171.0,788.2 171.5,786.2 172.0,786.7 172.5,788.4 173.0,789.5 173.5,789.9 174.0,790.1 174.5,789.4 175.0,789.4 175.5,789.2 176.0,788.4 176.5,786.8 177.0,786.1 177.5,782.8 178.0,779.4 178.5,776.3 179.0,775.4 179.5,777.2 180.0,778.7 180.5,779.9 181.0,779.2 181.5,777.8 182.0,776.3 182.5,775.2 183.0,773.5 183.5,771.8 184.0,769.7 184.5,767.6 185.0,764.7 185.5,761.3 186.0,757.6 186.5,753.5 187.0,748.7 187.5,742.7 188.0,736.0 188.5,728.4 189.0,720.0 189.5,710.8 190.0,701.0 190.5,690.9 191.0,680.7 191.5,670.9 192.0,662.2 192.5,655.2 193.0,650.8 193.5,649.3 194.0,651.0 194.5,655.7 195.0,662.9 195.5,671.8 196.0,681.9 196.5,692.4 197.0,702.8 197.5,712.9 198.0,722.3 198.5,731.0 199.0,738.9 199.5,745.9 200.0,752.2 200.5,757.7 201.0,762.5 201.5,766.5 202.0,770.1 202.5,773.0 203.0,775.6 203.5,777.8 204.0,779.2 204.5,780.2 205.0,780.8 205.5,782.4 206.0,784.1 206.5,785.7 207.0,787.0 207.5,788.2 208.0,789.0 208.5,789.6 209.0,790.0 209.5,791.9 210.0,791.5 210.5,790.7 211.0,789.6 211.5,790.0 212.0,792.3 212.5,793.7 213.0,792.8 213.5,791.9 214.0,791.3 214.5,792.6 215.0,793.3 215.5,792.3 216.0,792.5 216.5,793.6 217.0,794.8 217.5,796.0 218.0,796.7 218.5,796.5 219.0,796.7 219.5,797.1 220.0,797.0 220.5,797.1 221.0,796.4 221.5,795.7 222.0,794.9 222.5,792.3 223.0,789.7 223.5,788.1 224.0,785.0 224.5,783.8 225.0,787.2 225.5,790.5 226.0,793.8 226.5,796.2 227.0,795.3 227.5,794.4 228.0,795.1 228.5,795.6 229.0,792.2 229.5,788.8 230.0,786.0 230.5,789.3 231.0,792.5 231.5,794.8 232.0,793.1 232.5,790.1 233.0,789.9 233.5,790.7 234.0,789.8 234.5,791.4 235.0,793.1 235.5,792.2 236.0,793.6 236.5,792.7 237.0,794.5 237.5,796.0 238.0,796.9 238.5,797.2 239.0,798.1 239.5,798.3 240.0,797.9 240.5,796.7 241.0,795.2 241.5,793.7 242.0,792.3 242.5,792.0 243.0,793.6 243.5,793.6 244.0,791.9 244.5,790.2 245.0,791.2 245.5,793.1 246.0,794.9 246.5,795.0 247.0,793.2 247.5,791.8 248.0,793.5 248.5,795.3 249.0,796.4 249.5,795.3 250.0,796.0 250.5,795.0 251.0,795.9 251.5,797.5 252.0,798.4 252.5,798.4 253.0,797.9 253.5,798.7 254.0,798.2 254.5,797.5 255.0,796.7 255.5,796.9 256.0,797.3 256.5,797.7 257.0,796.4 257.5,794.9 258.0,794.6 258.5,795.4 259.0,796.2 259.5,796.3 260.0,795.3 260.5,792.9 261.0,790.6 261.5,788.2 262.0,786.6 262.5,788.9 263.0,791.1 263.5,793.0 264.0,793.2 264.5,792.1 265.0,791.8 265.5,792.6 266.0,793.4 266.5,793.5 267.0,792.4 267.5,791.3 268.0,791.2 268.5,792.4 269.0,793.5 269.5,794.2 270.0,794.9 270.5,794.1 271.0,795.1 271.5,794.3 272.0,795.7 272.5,796.2 273.0,796.2 273.5,794.6 274.0,792.9 274.5,791.1 275.0,789.3 275.5,789.3 276.0,791.1 276.5,792.8 277.0,794.6 277.5,795.1 278.0,795.6 278.5,795.0 279.0,793.2 279.5,790.7 280.0,788.2 280.5,786.7 281.0,789.7 281.5,792.7 282.0,795.0 282.5,794.3 283.0,795.2 283.5,796.1 284.0,795.5 284.5,795.1 285.0,795.6 285.5,796.1 286.0,796.5 286.5,795.6 287.0,794.8 287.5,795.3 288.0,794.3 288.5,796.1 289.0,796.0 289.5,795.8 290.0,794.2 290.5,793.9 291.0,794.9 291.5,794.7 292.0,794.5 292.5,794.8 293.0,794.7 293.5,794.7 294.0,796.3 294.5,792.1 295.0,787.9 295.5,788.4 296.0,793.9 296.5,799.0 297.0,799.4 297.5,800.7 298.0,801.5 298.5,801.3 299.0,800.9 299.5,800.4 300.0,799.8 300.5,799.0 301.0,799.8 301.5,800.5 302.0,801.1 302.5,801.2 303.0,801.9 303.5,799.6 304.0,795.7 304.5,792.0 305.0,791.0 305.5,794.4 306.0,795.8 306.5,796.5 307.0,797.7 307.5,798.7 308.0,798.8 308.5,796.9 309.0,796.9 309.5,798.6 310.0,799.7 310.5,799.8 311.0,799.4 311.5,798.7 312.0,798.9 312.5,797.0 313.0,795.1 313.5,794.5 314.0,796.6 314.5,798.8 315.0,796.3 315.5,792.9 316.0,789.4 316.5,791.9 317.0,795.8 317.5,799.3 318.0,800.7 318.5,801.1 319.0,801.4 319.5,801.1 320.0,800.7 320.5,800.1 321.0,800.6 321.5,801.6 322.0,802.5 322.5,802.4 323.0,802.6 323.5,802.4 324.0,802.2 324.5,801.0 325.0,802.4 325.5,802.0 326.0,802.5 326.5,802.0 327.0,801.5 327.5,801.6 328.0,802.5 328.5,803.5 329.0,804.3 329.5,804.8 330.0,804.6 330.5,804.0 331.0,802.9 331.5,801.6 332.0,800.3 332.5,800.9 333.0,801.7 333.5,802.6 334.0,801.7 334.5,802.5 335.0,802.3 335.5,800.4 336.0,798.0 336.5,795.7 337.0,793.4 337.5,795.2 338.0,798.0 338.5,800.8 339.0,802.1 339.5,803.1 340.0,803.3 340.5,802.0 341.0,802.5 341.5,803.5 342.0,804.1 342.5,803.1 343.0,802.2 343.5,801.7 344.0,800.5 344.5,800.7 345.0,801.6 345.5,800.3 346.0,797.7 346.5,795.0 347.0,792.4 347.5,794.5 348.0,797.3 348.5,800.1 349.0,799.5 349.5,798.5 350.0,795.3 350.5,797.4 351.0,800.8 351.5,802.3 352.0,801.1 352.5,799.4 353.0,797.7 353.5,797.2 354.0,798.8 354.5,800.4 355.0,801.5 355.5,800.7 356.0,802.1 356.5,802.1 357.0,801.7 357.5,801.4 358.0,802.5 358.5,798.2 359.0,793.9 359.5,789.6 360.0,792.0 360.5,796.5 361.0,801.1 361.5,803.7 362.0,804.8 362.5,804.7 363.0,804.2 363.5,803.7 364.0,804.3 364.5,804.1 365.0,805.3 365.5,806.0 366.0,806.5 366.5,806.2 367.0,805.9 367.5,805.5 368.0,805.0 368.5,805.9 369.0,806.2 369.5,804.6 370.0,806.4 370.5,808.2 371.0,809.3 371.5,809.0 372.0,808.2 372.5,808.3 373.0,807.7 373.5,806.7 374.0,806.7 374.5,805.0 375.0,802.3 375.5,800.1 376.0,802.1 376.5,802.8 377.0,801.3 377.5,801.7 378.0,803.2 378.5,804.9 379.0,806.7 379.5,807.2 380.0,806.9 380.5,806.5 381.0,805.9 381.5,805.8 382.0,805.7 382.5,805.0 383.0,805.9 383.5,805.7 384.0,803.2 384.5,800.7 385.0,800.0 385.5,802.6 386.0,803.9 386.5,804.9 387.0,805.9 387.5,806.8 388.0,807.7 388.5,806.8 389.0,804.1 389.5,801.4 390.0,802.4 390.5,802.2 391.0,799.9 391.5,798.8 392.0,801.3 392.5,803.7 393.0,805.9 393.5,807.3 394.0,807.4 394.5,807.7 395.0,807.2 395.5,807.5 396.0,807.6 396.5,808.7 397.0,808.4 397.5,808.4 398.0,807.4 398.5,806.4 399.0,806.4 399.5,804.7 400.0,803.8 400.5,804.8 401.0,803.2 401.5,803.2 402.0,804.9 402.5,806.5 403.0,806.5 403.5,807.5 404.0,808.0 404.5,807.0 405.0,807.1 405.5,808.3 406.0,808.2 406.5,810.6 407.0,810.1 407.5,808.7 408.0,806.7 408.5,807.2 409.0,807.3 409.5,806.1 410.0,806.6 410.5,808.4 411.0,808.4 411.5,807.9 412.0,808.5 412.5,809.5 413.0,810.5 413.5,811.0 414.0,811.1 414.5,811.0 415.0,811.7 415.5,809.9 416.0,810.4 416.5,808.9 417.0,808.4 417.5,808.0 418.0,807.0 418.5,807.8 419.0,805.4 419.5,803.0 420.0,800.7 420.5,798.6 421.0,800.7 421.5,801.6 422.0,804.5 422.5,804.5 423.0,805.5 423.5,806.9 424.0,808.1 424.5,807.6 425.0,806.9 425.5,806.2 426.0,806.3 426.5,807.3 427.0,808.4 427.5,809.1 428.0,809.9 428.5,810.2 429.0,810.5 429.5,810.1 430.0,809.8 430.5,809.2 431.0,808.6 431.5,807.3 432.0,806.9 432.5,805.7 433.0,806.4 433.5,807.3 434.0,806.0 434.5,807.4 435.0,808.4 435.5,809.3 436.0,809.4 436.5,808.5 437.0,808.7 437.5,808.2 438.0,809.5 438.5,809.6 439.0,809.8 439.5,809.3 440.0,808.7 440.5,808.0 441.0,807.6 441.5,806.7 442.0,804.3 442.5,801.0 443.0,800.9 443.5,805.0 444.0,807.8 444.5,809.4 445.0,810.9 445.5,812.2 446.0,810.9 446.5,812.2 447.0,810.4 447.5,810.8 448.0,810.1 448.5,810.0 449.0,810.2 449.5,807.6 450.0,809.2 450.5,810.0 451.0,808.1 451.5,807.8 452.0,806.6 452.5,805.5 453.0,804.6 453.5,805.7 454.0,806.8 454.5,805.8 455.0,804.6 455.5,806.4 456.0,808.1 456.5,809.1 457.0,809.5 457.5,809.4 458.0,808.6 458.5,808.1 459.0,806.3 459.5,804.5 460.0,803.5 460.5,804.9 461.0,805.9 461.5,805.3 462.0,806.2 462.5,805.9 463.0,804.4 463.5,802.3 464.0,801.0 464.5,803.7 465.0,806.5 465.5,808.6 466.0,809.9 466.5,807.7 467.0,804.8 467.5,803.6 468.0,804.5 468.5,804.7 469.0,807.0 469.5,809.1 470.0,807.8 470.5,806.1 471.0,805.0 471.5,801.6 472.0,801.8 472.5,804.8 473.0,807.9 473.5,807.7 474.0,806.7 474.5,805.8 475.0,804.9 475.5,804.7 476.0,806.0 476.5,807.3 477.0,808.5 477.5,809.7 478.0,809.0 478.5,807.5 479.0,805.9 479.5,804.3 480.0,805.2 480.5,806.7 481.0,806.9 481.5,807.9 482.0,807.6 482.5,809.1 483.0,809.6 483.5,810.0 484.0,810.5 484.5,810.6 485.0,809.7 485.5,811.4 486.0,811.1 486.5,810.3 487.0,809.4 487.5,808.1 488.0,808.9 488.5,806.3 489.0,804.9 489.5,806.4 490.0,805.6 490.5,806.4 491.0,805.6 491.5,806.3 492.0,804.9 492.5,801.8 493.0,803.7 493.5,805.1 494.0,802.7 494.5,800.3 495.0,798.0 495.5,796.0 496.0,798.7 496.5,801.2 497.0,803.7 497.5,806.1 498.0,808.5 498.5,808.4 499.0,807.8 499.5,807.3 500.0,806.6 500.5,804.7 501.0,802.5 501.5,804.8 502.0,804.8 502.5,801.5 503.0,798.7 503.5,802.5 504.0,803.0 504.5,801.1 505.0,802.4 505.5,804.1 506.0,805.7 506.5,805.0 507.0,803.2 507.5,801.6 508.0,802.8 508.5,802.7 509.0,805.4 509.5,808.2 510.0,808.0 510.5,809.0 511.0,809.1 511.5,809.2 512.0,807.8 512.5,807.9 513.0,808.7 513.5,809.2 514.0,809.4 514.5,809.2 515.0,807.2 515.5,805.1 516.0,805.1 516.5,806.5 517.0,805.1 517.5,803.3 518.0,804.3 518.5,805.6 519.0,806.9 519.5,805.6 520.0,807.7 520.5,806.5 521.0,805.2 521.5,804.0 522.0,804.3 522.5,802.2 523.0,799.7 523.5,797.2 524.0,798.1 524.5,800.5 525.0,802.8 525.5,805.1 526.0,804.1 526.5,801.1 527.0,796.6 527.5,792.2 528.0,795.7 528.5,800.3 529.0,804.2 529.5,803.2 530.0,800.0 530.5,796.8 531.0,795.3 531.5,798.9 532.0,802.5 532.5,805.1 533.0,805.2 533.5,807.5 534.0,807.6 534.5,806.0 535.0,804.4 535.5,802.8 536.0,802.7 536.5,804.4 537.0,806.0 537.5,806.7 538.0,806.5 538.5,806.2 539.0,807.1 539.5,807.1 540.0,806.0 540.5,805.1 541.0,804.5 541.5,805.9 542.0,807.2 542.5,808.4 543.0,809.4 543.5,808.3 544.0,807.3 544.5,808.5 545.0,808.2 545.5,807.4 546.0,805.7 546.5,804.6 547.0,803.3 547.5,803.9 548.0,804.0 548.5,804.0 549.0,804.0 549.5,803.1 550.0,800.8 550.5,798.5 551.0,800.9 551.5,801.6 552.0,803.3 552.5,805.1 553.0,805.9 553.5,806.1 554.0,807.0 554.5,807.5 555.0,807.7 555.5,807.1 556.0,805.6 556.5,804.0 557.0,802.4 557.5,802.4 558.0,802.1 558.5,802.7 559.0,803.7 559.5,805.0 560.0,803.2 560.5,800.3 561.0,797.4 561.5,794.4 562.0,794.4 562.5,797.8 563.0,801.1 563.5,804.3 564.0,806.8 564.5,805.1 565.0,804.4 565.5,802.0 566.0,799.5 566.5,796.9 567.0,794.4 567.5,796.5 568.0,798.9 568.5,801.3 569.0,803.6 569.5,805.2 570.0,806.3 570.5,805.3 571.0,805.0 571.5,803.3 572.0,801.7 572.5,800.1 573.0,800.8 573.5,802.2 574.0,803.6 574.5,803.0 575.0,805.3 575.5,805.1 576.0,804.0 576.5,804.2 577.0,803.1 577.5,801.9 578.0,800.5 578.5,799.5 579.0,799.7 579.5,800.0 580.0,799.8 580.5,798.7 581.0,797.8 581.5,798.3 582.0,799.7 582.5,801.2 583.0,802.3 583.5,802.5 584.0,802.0 584.5,801.3 585.0,800.5 585.5,799.7 586.0,799.8 586.5,797.2 587.0,796.0 587.5,797.6 588.0,798.4 588.5,797.9 589.0,796.8 589.5,795.8 590.0,796.5 590.5,797.6 591.0,798.7 591.5,799.8 592.0,800.4 592.5,800.8 593.0,800.4 593.5,799.7 594.0,798.7 594.5,797.9 595.0,798.7 595.5,798.8 596.0,800.0 596.5,800.2 597.0,800.4 597.5,798.5 598.0,799.6 598.5,797.4 599.0,794.5 599.5,791.5 600.0,793.3 600.5,795.9 601.0,796.7 601.5,795.4 602.0,795.9 602.5,796.4 603.0,797.0 603.5,797.6 604.0,796.4 604.5,795.8 605.0,794.6 605.5,793.1 606.0,790.3 606.5,787.4 607.0,784.6 607.5,787.0 608.0,789.3 608.5,791.3 609.0,791.8 609.5,792.3 610.0,792.6 610.5,792.5 611.0,793.1 611.5,791.3 612.0,789.4 612.5,789.7 613.0,787.6 613.5,785.5 614.0,784.6 614.5,786.0 615.0,784.9 615.5,783.8 616.0,784.3 616.5,786.1 617.0,787.8 617.5,789.6 618.0,790.0 618.5,788.0 619.0,786.2 619.5,784.4 620.0,782.9 620.5,779.4 621.0,779.4 621.5,784.1 622.0,788.8 622.5,791.6 623.0,792.4 623.5,792.6 624.0,790.2 624.5,792.5 625.0,791.7 625.5,790.6 626.0,791.0 626.5,791.2 627.0,791.0 627.5,790.2 628.0,789.4 628.5,790.5 629.0,791.9 629.5,792.5 630.0,791.6 630.5,791.4 631.0,792.4 631.5,790.8 632.0,790.8 632.5,793.2 633.0,795.5 633.5,796.0 634.0,796.3 634.5,796.5 635.0,795.7 635.5,794.9 636.0,791.2 636.5,788.4 637.0,792.6 637.5,796.7 638.0,797.5 638.5,798.2 639.0,797.3 639.5,795.3 640.0,793.4 640.5,791.4 641.0,790.7 641.5,792.4 642.0,794.1 642.5,790.9 643.0,786.5 643.5,782.1 644.0,785.9 644.5,790.3 645.0,794.8 645.5,797.4 646.0,797.7 646.5,797.6 647.0,797.5 647.5,797.3 648.0,798.1 648.5,798.4 649.0,798.9 649.5,799.2 650.0,799.3 650.5,799.3 651.0,799.3 651.5,799.3 652.0,797.1 652.5,794.7 653.0,797.8 653.5,800.3 654.0,801.2 654.5,801.2 655.0,800.7 655.5,800.2 656.0,799.7 656.5,799.9 657.0,799.8 657.5,800.8 658.0,799.6 658.5,798.3 659.0,797.5 659.5,798.9 660.0,799.6 660.5,798.2 661.0,799.4 661.5,798.8 662.0,799.4 662.5,800.4 663.0,801.4 663.5,802.2 664.0,802.8 664.5,802.5 665.0,801.5 665.5,800.4 666.0,799.2 666.5,800.1 667.0,800.4 667.5,800.8 668.0,801.0 668.5,799.7 669.0,800.4 669.5,801.0 670.0,799.8 670.5,796.5 671.0,793.2 671.5,789.9 672.0,787.9 672.5,790.8 673.0,793.8 673.5,796.8 674.0,797.3 674.5,799.1 675.0,799.5 675.5,798.1 676.0,796.8 676.5,795.5 677.0,796.5 677.5,798.3 678.0,800.0 678.5,799.1 679.0,798.6 679.5,799.6 680.0,800.4 680.5,799.9 681.0,797.9 681.5,795.9 682.0,793.9 682.5,793.6 683.0,793.0 683.5,795.3 684.0,795.2 684.5,795.3 685.0,795.1 685.5,795.3 686.0,796.8 686.5,797.9 687.0,796.5 687.5,797.3 688.0,797.4 688.5,794.4 689.0,795.9 689.5,798.3 690.0,798.2 690.5,798.6 691.0,798.3 691.5,799.0 692.0,798.5 692.5,798.3 693.0,798.9 693.5,796.9 694.0,798.2 694.5,798.3 695.0,797.1 695.5,797.4 696.0,796.3 696.5,795.3 697.0,795.7 697.5,796.3 698.0,797.3 698.5,796.6 699.0,795.9 699.5,795.2 700.0,795.5 700.5,797.0 701.0,798.3 701.5,798.1 702.0,798.9 702.5,798.4 703.0,798.3 703.5,797.2 704.0,795.7 704.5,794.1 705.0,792.8 705.5,793.3 706.0,790.8 706.5,786.9 707.0,783.0 707.5,779.3 708.0,775.5 708.5,779.1 709.0,782.7 709.5,786.3 710.0,789.8 710.5,792.8 711.0,794.3 711.5,794.7 712.0,794.9 712.5,794.5 713.0,794.6 713.5,795.3 714.0,795.1 714.5,794.2 715.0,793.3 715.5,792.7 716.0,793.6 716.5,794.5 717.0,795.3 717.5,795.4 718.0,795.7 718.5,795.0 719.0,792.9 719.5,792.7 720.0,790.5 720.5,791.0 721.0,791.9 721.5,790.3 722.0,788.7 722.5,787.1 723.0,787.3 723.5,786.5 724.0,783.2 724.5,779.9 725.0,776.6 725.5,778.3 726.0,781.1 726.5,784.0 727.0,786.9 727.5,787.7 728.0,787.2 728.5,787.5 729.0,787.0 729.5,788.5 730.0,787.9 730.5,787.1 731.0,786.5 731.5,785.9 732.0,784.0 732.5,783.2 733.0,786.0 733.5,787.9 734.0,789.7 734.5,788.5 735.0,791.7 735.5,790.9 736.0,790.7 736.5,791.4 737.0,792.6 737.5,792.7 738.0,792.8 738.5,791.6 739.0,790.4 739.5,791.4 740.0,793.5 740.5,794.7 741.0,794.7 741.5,795.1 742.0,794.6 742.5,795.1 743.0,795.1 743.5,794.3 744.0,794.5 744.5,795.4 745.0,793.9 745.5,792.5 746.0,790.9 746.5,791.6 747.0,792.9 747.5,790.5 748.0,788.1 748.5,785.9 749.0,784.7 749.5,787.3 750.0,790.0 750.5,792.7 751.0,795.5 751.5,795.3 752.0,794.1 752.5,795.3 753.0,796.8 753.5,796.9 754.0,796.2 754.5,796.5 755.0,797.0 755.5,796.5 756.0,797.0 756.5,796.1 757.0,795.4 757.5,794.8 758.0,792.2 758.5,792.1 759.0,795.2 759.5,795.9 760.0,793.6 760.5,791.2 761.0,793.0 761.5,795.9 762.0,798.7 762.5,796.9 763.0,795.0 763.5,797.4 764.0,799.9 764.5,798.9 765.0,799.6 765.5,800.5 766.0,800.1 766.5,798.8 767.0,799.0 767.5,800.6 768.0,801.7 768.5,801.5 769.0,800.8 769.5,799.7 770.0,800.5 770.5,800.9 771.0,801.1 771.5,803.0 772.0,802.7 772.5,802.3 773.0,801.7 773.5,801.0 774.0,800.2 774.5,800.5 775.0,801.2 775.5,801.7 776.0,799.4 776.5,800.6 777.0,799.0 777.5,797.5 778.0,796.2 778.5,792.9 779.0,791.4 779.5,794.6 780.0,797.7 780.5,800.9 781.0,801.0 781.5,800.4 782.0,799.9 782.5,799.7 783.0,796.9 783.5,792.7 784.0,789.0 784.5,794.0 785.0,798.9 785.5,799.3 786.0,797.0 786.5,796.8 787.0,798.4 787.5,799.0 788.0,798.8 788.5,799.0 789.0,798.1 789.5,797.0 790.0,795.5 790.5,794.3 791.0,795.1 791.5,796.8 792.0,797.9 792.5,797.4 793.0,798.7 793.5,800.0 794.0,800.0 794.5,799.5 795.0,799.1 795.5,797.9 796.0,795.5 796.5,792.3 797.0,789.0 797.5,789.2 798.0,791.6 798.5,790.8 799.0,786.2 799.5,788.8 800.0,793.2 800.5,797.7 801.0,797.7 801.5,798.4 802.0,798.8 802.5,798.8 803.0,798.3 803.5,798.5 804.0,796.0 804.5,793.5 805.0,791.1 805.5,788.6 806.0,786.1 806.5,789.0 807.0,791.8 807.5,794.5 808.0,795.5 808.5,796.8 809.0,798.1 809.5,797.5 810.0,797.2 810.5,798.3 811.0,797.6 811.5,797.2 812.0,798.0 812.5,798.3 813.0,797.9 813.5,798.7 814.0,798.4 814.5,797.4 815.0,799.5 815.5,799.3 816.0,799.8 816.5,799.7 817.0,799.2 817.5,798.5 818.0,798.0 818.5,798.7 819.0,795.3 819.5,793.8 820.0,797.4 820.5,795.5 821.0,793.7 821.5,796.0 822.0,792.9 822.5,789.0 823.0,792.9 823.5,796.8 824.0,800.7 824.5,799.0 825.0,800.1 825.5,799.4 826.0,798.4 826.5,799.0 827.0,800.3 827.5,801.9 828.0,801.9 828.5,801.0 829.0,799.2 829.5,797.3 830.0,795.3 830.5,793.3 831.0,794.3 831.5,795.9 832.0,797.5 832.5,793.9 833.0,789.3 833.5,793.7 834.0,796.2 834.5,797.6 835.0,797.1 835.5,794.6 836.0,792.2 836.5,792.1 837.0,794.2 837.5,796.3 838.0,797.8 838.5,797.5 839.0,792.6 839.5,787.8 840.0,790.9 840.5,796.0 841.0,793.3 841.5,788.8 842.0,787.3 842.5,792.1 843.0,796.8 843.5,794.2 844.0,792.4 844.5,795.0 845.0,797.5 845.5,798.2 846.0,799.9 846.5,799.3 847.0,799.0 847.5,795.8 848.0,792.7 848.5,795.4 849.0,798.5 849.5,797.3 850.0,797.7 850.5,792.8 851.0,787.8 851.5,782.8 852.0,786.2 852.5,790.4 853.0,794.8 853.5,796.0 854.0,794.4 854.5,792.4 855.0,790.5 855.5,792.7 856.0,792.8 856.5,794.3 857.0,795.3 857.5,795.9 858.0,795.2 858.5,794.1 859.0,793.9 859.5,792.2 860.0,790.5 860.5,791.7 861.0,793.5 861.5,795.4 862.0,794.5 862.5,793.4 863.0,792.5 863.5,793.4 864.0,793.5 864.5,789.6 865.0,786.6 865.5,790.4 866.0,794.1 866.5,796.5 867.0,795.8 867.5,794.3 868.0,795.2 868.5,794.5 869.0,796.3 869.5,798.0 870.0,799.4 870.5,800.5 871.0,800.4 871.5,800.8 872.0,800.5 872.5,800.1 873.0,800.3 873.5,798.5 874.0,798.4 874.5,798.5 875.0,798.0 875.5,796.2 876.0,794.6 876.5,793.0 877.0,791.6 877.5,792.8 878.0,794.7 878.5,796.4 879.0,796.4 879.5,794.7 880.0,793.5 880.5,795.1 881.0,795.4 881.5,792.4 882.0,789.4 882.5,786.4 883.0,786.9 883.5,788.9 884.0,792.7 884.5,795.6 885.0,797.7 885.5,795.4 886.0,792.6 886.5,789.7 887.0,786.7 887.5,785.5 888.0,787.8 888.5,788.3 889.0,790.9 889.5,793.9 890.0,795.6 890.5,795.2 891.0,795.6 891.5,796.2 892.0,796.2 892.5,796.8 893.0,796.3 893.5,795.9 894.0,795.8 894.5,793.0 895.0,789.4 895.5,790.3 896.0,792.1 896.5,789.6 897.0,789.5 897.5,787.2 898.0,785.1 898.5,786.1 899.0,788.9 899.5,791.6 900.0,792.3 900.5,788.6 901.0,784.9 901.5,781.1 902.0,777.3 902.5,780.8 903.0,784.4 903.5,788.2 904.0,792.0 904.5,795.9 905.0,795.1 905.5,792.9 906.0,795.2 906.5,796.9 907.0,797.9 907.5,796.7 908.0,795.6 908.5,796.7 909.0,795.8 909.5,793.8 910.0,791.9 910.5,789.8 911.0,790.2 911.5,791.6 912.0,793.0 912.5,794.4 913.0,791.8 913.5,788.4 914.0,785.0 914.5,781.7 915.0,783.0 915.5,786.3 915.5,808.2 915.0,807.3 914.5,807.1 914.0,806.1 913.5,805.1 913.0,804.3 912.5,805.2 912.0,806.5 911.5,807.7 911.0,809.0 910.5,808.7 910.0,808.1 909.5,807.4 909.0,807.4 908.5,807.6 908.0,808.2 907.5,809.5 907.0,810.6 906.5,811.2 906.0,809.9 905.5,808.5 905.0,807.0 904.5,807.1 904.0,808.8 903.5,811.0 903.0,813.2 902.5,815.6 902.0,818.1 901.5,815.9 901.0,819.2 900.5,816.8 900.0,810.4 899.5,806.6 899.0,805.3 898.5,805.8 898.0,805.2 897.5,805.8 897.0,805.2 896.5,805.6 896.0,806.2 895.5,807.5 895.0,809.0 894.5,808.7 894.0,807.7 893.5,806.8 893.0,808.4 892.5,808.3 892.0,806.5 891.5,805.8 891.0,805.0 890.5,804.3 890.0,804.8 889.5,804.3 889.0,804.5 888.5,806.4 888.0,808.7 887.5,810.3 887.0,808.6 886.5,808.4 886.0,810.5 885.5,812.6 885.0,812.9 884.5,811.1 884.0,809.3 883.5,807.4 883.0,807.1 882.5,807.0 882.0,808.4 881.5,810.4 881.0,810.4 880.5,809.3 880.0,809.9 879.5,809.4 879.0,809.0 878.5,809.1 878.0,809.8 877.5,811.1 877.0,812.4 876.5,811.9 876.0,810.3 875.5,808.8 875.0,807.7 874.5,806.6 874.0,806.8 873.5,807.2 873.0,808.4 872.5,807.4 872.0,807.7 871.5,809.6 871.0,810.1 870.5,811.9 870.0,813.6 869.5,814.5 869.0,812.0 868.5,809.4 868.0,808.6 867.5,807.3 867.0,806.1 866.5,806.0 866.0,805.5 865.5,808.5 865.0,811.4 864.5,814.4 864.0,813.0 863.5,809.9 863.0,809.0 862.5,809.7 862.0,807.8 861.5,806.0 861.0,806.9 860.5,808.4 860.0,807.2 859.5,805.5 859.0,805.5 858.5,805.7 858.0,806.4 857.5,806.8 857.0,806.3 856.5,805.7 856.0,806.1 855.5,806.6 855.0,806.2 854.5,806.3 854.0,806.8 853.5,808.0 853.0,809.3 852.5,809.2 852.0,808.2 851.5,807.3 851.0,807.7 850.5,809.3 850.0,808.7 849.5,808.6 849.0,808.1 848.5,807.9 848.0,808.5 847.5,808.9 847.0,808.3 846.5,807.8 846.0,809.2 845.5,811.5 845.0,813.9 844.5,816.2 844.0,817.3 843.5,815.1 843.0,812.7 842.5,810.4 842.0,808.1 841.5,807.8 841.0,807.9 840.5,806.8 840.0,807.8 839.5,808.8 839.0,809.9 838.5,810.1 838.0,809.6 837.5,811.7 837.0,811.3 836.5,811.9 836.0,811.5 835.5,810.3 835.0,809.0 834.5,808.7 834.0,808.5 833.5,808.0 833.0,808.0 832.5,808.7 832.0,811.6 831.5,808.9 831.0,810.0 830.5,809.7 830.0,810.6 829.5,809.7 829.0,811.7 828.5,813.8 828.0,815.8 827.5,817.7 827.0,819.0 826.5,816.5 826.0,814.0 825.5,811.6 825.0,809.3 824.5,809.6 824.0,810.0 823.5,809.9 823.0,812.8 822.5,815.7 822.0,816.2 821.5,813.7 821.0,811.7 820.5,812.0 820.0,810.6 819.5,811.8 819.0,814.0 818.5,813.0 818.0,810.5 817.5,810.2 817.0,810.8 816.5,811.2 816.0,811.0 815.5,812.6 815.0,812.8 814.5,810.6 814.0,808.5 813.5,807.2 813.0,806.9 812.5,807.0 812.0,807.8 811.5,808.1 811.0,808.2 810.5,809.8 810.0,811.3 809.5,811.9 809.0,810.6 808.5,809.6 808.0,809.5 807.5,809.2 807.0,808.7 806.5,808.6 806.0,808.6 805.5,809.1 805.0,807.9 804.5,808.2 804.0,810.2 803.5,812.1 803.0,813.3 802.5,811.0 802.0,809.1 801.5,810.2 801.0,811.4 800.5,813.2 800.0,815.7 799.5,817.6 799.0,815.1 798.5,812.8 798.0,810.5 797.5,808.4 797.0,808.6 796.5,810.2 796.0,811.7 795.5,812.9 795.0,811.9 794.5,811.9 794.0,810.5 793.5,813.0 793.0,815.7 792.5,813.1 792.0,810.3 791.5,811.5 791.0,815.0 790.5,815.1 790.0,811.3 789.5,809.5 789.0,808.1 788.5,810.9 788.0,813.8 787.5,816.7 787.0,817.1 786.5,815.6 786.0,816.1 785.5,815.8 785.0,814.7 784.5,813.4 784.0,812.7 783.5,811.9 783.0,810.8 782.5,811.2 782.0,810.2 781.5,811.8 781.0,813.6 780.5,815.0 780.0,813.2 779.5,811.5 779.0,812.3 778.5,812.9 778.0,811.2 777.5,812.7 777.0,815.0 776.5,816.4 776.0,814.3 775.5,815.8 775.0,818.2 774.5,817.4 774.0,815.2 773.5,813.1 773.0,810.8 772.5,811.3 772.0,811.1 771.5,810.6 771.0,810.5 770.5,811.5 770.0,811.6 769.5,812.8 769.0,814.0 768.5,815.2 768.0,815.4 767.5,814.2 767.0,812.8 766.5,811.3 766.0,811.2 765.5,811.1 765.0,810.1 764.5,809.8 764.0,810.0 763.5,809.3 763.0,811.1 762.5,814.4 762.0,817.8 761.5,821.1 761.0,822.3 760.5,818.6 760.0,815.4 759.5,811.7 759.0,809.9 758.5,808.2 758.0,806.9 757.5,807.6 757.0,809.4 756.5,811.3 756.0,812.7 755.5,814.6 755.0,812.9 754.5,811.1 754.0,809.3 753.5,807.5 753.0,806.6 752.5,807.5 752.0,807.0 751.5,807.6 751.0,808.2 750.5,807.0 750.0,805.6 749.5,804.5 749.0,803.9 748.5,803.5 748.0,803.4 747.5,804.8 747.0,806.9 746.5,809.1 746.0,811.6 745.5,809.6 745.0,806.1 744.5,806.0 744.0,806.8 743.5,808.7 743.0,807.1 742.5,806.0 742.0,805.0 741.5,804.0 741.0,804.2 740.5,806.2 740.0,808.2 739.5,808.3 739.0,805.7 738.5,803.0 738.0,801.9 737.5,800.9 737.0,800.5 736.5,800.9 736.0,801.4 735.5,802.1 735.0,801.6 734.5,800.6 734.0,799.6 733.5,798.4 733.0,797.4 732.5,797.1 732.0,796.9 731.5,796.6 731.0,796.9 730.5,797.4 730.0,798.0 729.5,798.4 729.0,798.0 728.5,798.2 728.0,799.1 727.5,799.5 727.0,798.9 726.5,798.3 726.0,797.9 725.5,797.7 725.0,798.3 724.5,798.2 724.0,799.1 723.5,800.5 723.0,801.9 722.5,802.4 722.0,801.9 721.5,803.4 721.0,807.1 720.5,810.7 720.0,814.4 719.5,813.8 719.0,810.9 718.5,807.9 718.0,805.3 717.5,805.3 717.0,804.6 716.5,804.0 716.0,803.4 715.5,803.3 715.0,803.0 714.5,804.2 714.0,805.2 713.5,804.0 713.0,804.5 712.5,803.1 712.0,803.3 711.5,803.8 711.0,803.3 710.5,804.3 710.0,806.5 709.5,808.4 709.0,807.9 708.5,806.1 708.0,804.3 707.5,804.4 707.0,805.4 706.5,808.2 706.0,812.9 705.5,814.0 705.0,809.9 704.5,805.9 704.0,806.5 703.5,810.5 703.0,815.3 702.5,819.9 702.0,815.7 701.5,811.4 701.0,808.4 700.5,808.9 700.0,809.3 699.5,809.2 699.0,808.3 698.5,808.8 698.0,808.1 697.5,807.0 697.0,807.9 696.5,809.8 696.0,811.9 695.5,812.9 695.0,811.1 694.5,809.4 694.0,807.6 693.5,807.3 693.0,808.5 692.5,808.5 692.0,808.5 691.5,808.1 691.0,808.6 690.5,809.8 690.0,811.0 689.5,813.5 689.0,816.2 688.5,817.5 688.0,815.5 687.5,813.3 687.0,811.1 686.5,810.4 686.0,810.9 685.5,814.3 685.0,817.6 684.5,820.9 684.0,817.4 683.5,813.9 683.0,810.4 682.5,810.3 682.0,811.5 681.5,812.5 681.0,811.5 680.5,813.8 680.0,816.6 679.5,815.1 679.0,812.6 678.5,811.5 678.0,812.5 677.5,812.5 677.0,811.3 676.5,810.0 676.0,809.3 675.5,809.7 675.0,810.0 674.5,809.4 674.0,809.9 673.5,809.1 673.0,808.3 672.5,808.2 672.0,808.4 671.5,808.3 671.0,808.6 670.5,809.9 670.0,811.0 669.5,812.7 669.0,814.3 668.5,815.9 668.0,815.3 667.5,817.5 667.0,819.8 666.5,816.8 666.0,813.7 665.5,811.5 665.0,811.6 664.5,811.6 664.0,812.3 663.5,813.0 663.0,813.6 662.5,812.6 662.0,812.9 661.5,814.1 661.0,814.9 660.5,813.5 660.0,812.2 659.5,811.1 659.0,810.8 658.5,811.0 658.0,811.4 657.5,811.4 657.0,811.3 656.5,811.2 656.0,812.0 655.5,812.7 655.0,812.7 654.5,811.4 654.0,812.7 653.5,814.0 653.0,815.2 652.5,815.1 652.0,813.3 651.5,811.4 651.0,809.5 650.5,809.0 650.0,810.7 649.5,813.4 649.0,811.0 648.5,808.8 648.0,808.4 647.5,810.1 647.0,811.8 646.5,813.5 646.0,814.2 645.5,812.1 645.0,810.0 644.5,808.0 644.0,810.2 643.5,812.9 643.0,809.4 642.5,805.9 642.0,806.6 641.5,806.8 641.0,808.0 640.5,808.0 640.0,807.3 639.5,807.8 639.0,807.2 638.5,806.9 638.0,807.7 637.5,808.4 637.0,808.4 636.5,808.0 636.0,807.5 635.5,807.7 635.0,808.0 634.5,808.3 634.0,809.1 633.5,809.8 633.0,808.4 632.5,806.9 632.0,805.6 631.5,806.0 631.0,806.4 630.5,806.1 630.0,805.9 629.5,806.7 629.0,807.6 628.5,807.4 628.0,808.3 627.5,811.9 627.0,813.0 626.5,809.0 626.0,805.0 625.5,802.2 625.0,801.2 624.5,801.6 624.0,803.7 623.5,805.7 623.0,807.7 622.5,805.6 622.0,803.1 621.5,800.6 621.0,801.1 620.5,801.7 620.0,800.5 619.5,799.4 619.0,799.7 618.5,800.6 618.0,801.5 617.5,802.5 617.0,801.8 616.5,801.2 616.0,800.6 615.5,800.0 615.0,800.8 614.5,801.2 614.0,801.6 613.5,800.8 613.0,802.9 612.5,802.3 612.0,803.0 611.5,803.5 611.0,804.7 610.5,804.6 610.0,803.7 609.5,802.9 609.0,805.3 608.5,807.1 608.0,805.3 607.5,804.0 607.0,803.1 606.5,805.3 606.0,804.8 605.5,805.7 605.0,805.4 604.5,805.4 604.0,805.0 603.5,804.8 603.0,807.4 602.5,806.0 602.0,806.3 601.5,806.5 601.0,808.8 600.5,808.8 600.0,810.6 599.5,812.4 599.0,815.0 598.5,820.1 598.0,819.1 597.5,814.4 597.0,811.6 596.5,812.1 596.0,811.2 595.5,810.3 595.0,812.3 594.5,814.6 594.0,816.8 593.5,816.0 593.0,813.9 592.5,811.7 592.0,813.2 591.5,815.6 591.0,818.0 590.5,815.4 590.0,812.8 589.5,812.0 589.0,813.7 588.5,814.0 588.0,812.8 587.5,813.0 587.0,812.3 586.5,812.2 586.0,811.1 585.5,811.6 585.0,811.3 584.5,810.7 584.0,812.7 583.5,813.7 583.0,815.4 582.5,817.0 582.0,816.3 581.5,814.0 581.0,811.7 580.5,810.4 580.0,809.8 579.5,810.9 579.0,810.5 578.5,812.2 578.0,812.5 577.5,813.7 577.0,814.3 576.5,814.1 576.0,813.7 575.5,813.2 575.0,813.2 574.5,813.7 574.0,814.5 573.5,815.3 573.0,816.0 572.5,819.8 572.0,824.9 571.5,826.0 571.0,821.4 570.5,816.9 570.0,816.4 569.5,816.0 569.0,817.0 568.5,815.8 568.0,815.8 567.5,817.4 567.0,815.7 566.5,816.8 566.0,817.9 565.5,819.0 565.0,818.6 564.5,818.5 564.0,819.1 563.5,820.0 563.0,823.3 562.5,826.4 562.0,829.4 561.5,832.2 561.0,828.9 560.5,825.4 560.0,821.8 559.5,818.3 559.0,814.9 558.5,813.3 558.0,814.8 557.5,816.5 557.0,817.2 556.5,816.4 556.0,817.7 555.5,819.0 555.0,819.7 554.5,818.8 554.0,818.1 553.5,819.2 553.0,817.6 552.5,815.8 552.0,815.3 551.5,815.9 551.0,814.4 550.5,812.9 550.0,813.7 549.5,814.5 549.0,813.6 548.5,814.0 548.0,814.1 547.5,814.0 547.0,814.0 546.5,815.2 546.0,816.4 545.5,818.4 545.0,820.5 544.5,822.5 544.0,822.2 543.5,821.1 543.0,819.9 542.5,819.7 542.0,820.7 541.5,821.6 541.0,821.1 540.5,819.9 540.0,818.7 539.5,817.6 539.0,817.2 538.5,818.3 538.0,818.6 537.5,818.4 537.0,819.1 536.5,818.9 536.0,818.4 535.5,817.9 535.0,817.3 534.5,816.7 534.0,817.8 533.5,819.5 533.0,821.2 532.5,822.9 532.0,824.5 531.5,824.7 531.0,826.9 530.5,826.4 530.0,823.8 529.5,821.2 529.0,818.6 528.5,817.2 528.0,818.2 527.5,820.3 527.0,818.3 526.5,816.2 526.0,816.8 525.5,818.8 525.0,819.4 524.5,817.8 524.0,816.8 523.5,817.5 523.0,817.6 522.5,817.1 522.0,819.1 521.5,821.4 521.0,823.7 520.5,824.0 520.0,821.3 519.5,818.8 519.0,816.7 518.5,816.4 518.0,815.9 517.5,819.3 517.0,822.7 516.5,826.2 516.0,829.7 515.5,827.4 515.0,824.6 514.5,821.9 514.0,821.1 513.5,823.1 513.0,825.0 512.5,826.8 512.0,825.6 511.5,823.6 511.0,821.6 510.5,819.4 510.0,819.7 509.5,820.3 509.0,820.6 508.5,819.1 508.0,817.8 507.5,816.7 507.0,815.7 506.5,816.5 506.0,817.6 505.5,817.4 505.0,818.1 504.5,820.0 504.0,821.8 503.5,820.1 503.0,818.0 502.5,816.0 502.0,816.4 501.5,817.3 501.0,817.7 500.5,818.4 500.0,818.9 499.5,818.3 499.0,817.8 498.5,817.2 498.0,816.6 497.5,816.8 497.0,817.2 496.5,817.6 496.0,818.5 495.5,820.7 495.0,822.8 494.5,820.5 494.0,819.3 493.5,819.2 493.0,818.3 492.5,817.5 492.0,816.7 491.5,816.8 491.0,816.4 490.5,816.6 490.0,818.7 489.5,820.9 489.0,823.2 488.5,824.2 488.0,826.6 487.5,825.4 487.0,823.6 486.5,821.6 486.0,821.8 485.5,823.0 485.0,824.1 484.5,822.8 484.0,821.5 483.5,823.1 483.0,822.9 482.5,823.9 482.0,825.5 481.5,822.4 481.0,819.4 480.5,818.6 480.0,819.1 479.5,819.8 479.0,820.9 478.5,823.4 478.0,825.7 477.5,824.6 477.0,822.0 476.5,824.2 476.0,823.2 475.5,820.2 475.0,817.8 474.5,817.2 474.0,817.0 473.5,816.5 473.0,816.7 472.5,819.9 472.0,823.5 471.5,827.1 471.0,830.8 470.5,828.8 470.0,826.0 469.5,823.0 469.0,820.8 468.5,819.8 468.0,820.5 467.5,818.6 467.0,818.9 466.5,818.4 466.0,819.3 465.5,818.1 465.0,817.4 464.5,817.8 464.0,819.3 463.5,821.1 463.0,820.3 462.5,818.6 462.0,817.0 461.5,817.7 461.0,816.9 460.5,818.5 460.0,820.2 459.5,821.9 459.0,823.7 458.5,822.5 458.0,821.3 457.5,822.0 457.0,824.2 456.5,826.3 456.0,826.1 455.5,824.3 455.0,825.2 454.5,822.0 454.0,819.9 453.5,821.9 453.0,823.1 452.5,821.1 452.0,820.7 451.5,821.4 451.0,823.2 450.5,822.4 450.0,821.3 449.5,820.3 449.0,819.3 448.5,819.2 448.0,818.2 447.5,819.5 447.0,818.8 446.5,819.6 446.0,819.7 445.5,820.4 445.0,819.7 444.5,820.9 444.0,820.0 443.5,818.9 443.0,818.5 442.5,818.9 442.0,819.6 441.5,819.2 441.0,818.0 440.5,817.2 440.0,817.3 439.5,817.9 439.0,816.8 438.5,816.7 438.0,816.9 437.5,818.4 437.0,822.1 436.5,825.2 436.0,821.5 435.5,817.7 435.0,817.8 434.5,817.7 434.0,818.0 433.5,818.8 433.0,819.6 432.5,819.0 432.0,818.5 431.5,818.9 431.0,818.7 430.5,818.1 430.0,818.0 429.5,819.7 429.0,818.3 428.5,820.7 428.0,822.1 427.5,823.9 427.0,825.5 426.5,823.3 426.0,821.2 425.5,819.8 425.0,819.0 424.5,818.2 424.0,817.8 423.5,818.5 423.0,819.2 422.5,819.8 422.0,819.3 421.5,818.4 421.0,818.0 420.5,819.5 420.0,818.6 419.5,817.3 419.0,816.7 418.5,816.7 418.0,817.2 417.5,818.1 417.0,819.2 416.5,819.0 416.0,819.1 415.5,819.3 415.0,821.0 414.5,820.9 414.0,822.9 413.5,824.2 413.0,822.4 412.5,822.7 412.0,824.1 411.5,825.5 411.0,824.3 410.5,822.6 410.0,821.0 409.5,819.9 409.0,819.3 408.5,820.6 408.0,819.0 407.5,819.6 407.0,819.9 406.5,819.9 406.0,819.0 405.5,819.5 405.0,819.0 404.5,819.7 404.0,819.4 403.5,819.4 403.0,819.5 402.5,818.4 402.0,819.0 401.5,818.3 401.0,818.4 400.5,818.4 400.0,819.7 399.5,819.2 399.0,817.7 398.5,818.7 398.0,817.4 397.5,818.0 397.0,818.1 396.5,819.2 396.0,820.5 395.5,821.9 395.0,822.1 394.5,820.6 394.0,819.3 393.5,818.1 393.0,816.8 392.5,818.3 392.0,820.1 391.5,821.6 391.0,821.9 390.5,821.7 390.0,819.5 389.5,818.2 389.0,817.4 388.5,818.5 388.0,820.0 387.5,819.3 387.0,818.1 386.5,817.0 386.0,816.7 385.5,816.5 385.0,818.4 384.5,818.3 384.0,819.0 383.5,821.6 383.0,822.7 382.5,820.2 382.0,821.1 381.5,822.1 381.0,820.4 380.5,818.6 380.0,817.7 379.5,816.2 379.0,817.1 378.5,818.8 378.0,820.6 377.5,820.3 377.0,818.1 376.5,816.6 376.0,817.6 375.5,817.3 375.0,816.7 374.5,817.7 374.0,817.4 373.5,816.9 373.0,816.3 372.5,816.4 372.0,817.2 371.5,817.8 371.0,817.2 370.5,816.6 370.0,816.6 369.5,816.2 369.0,816.7 368.5,816.1 368.0,816.2 367.5,817.2 367.0,815.4 366.5,816.2 366.0,815.0 365.5,815.7 365.0,818.8 364.5,822.0 364.0,825.2 363.5,826.1 363.0,822.4 362.5,818.6 362.0,814.9 361.5,812.8 361.0,812.5 360.5,813.6 360.0,814.7 359.5,815.9 359.0,815.1 358.5,813.8 358.0,812.5 357.5,812.2 357.0,811.4 356.5,812.3 356.0,812.4 355.5,813.1 355.0,813.2 354.5,813.5 354.0,813.6 353.5,813.8 353.0,814.5 352.5,815.9 352.0,817.7 351.5,815.5 351.0,813.3 350.5,812.7 350.0,812.5 349.5,811.8 349.0,812.9 348.5,816.4 348.0,819.8 347.5,823.2 347.0,822.3 346.5,818.8 346.0,816.9 345.5,815.1 345.0,813.9 344.5,813.2 344.0,812.6 343.5,812.2 343.0,813.1 342.5,812.4 342.0,814.0 341.5,815.6 341.0,815.9 340.5,814.1 340.0,813.6 339.5,813.8 339.0,813.9 338.5,814.6 338.0,812.9 337.5,812.7 337.0,814.1 336.5,815.7 336.0,817.2 335.5,817.2 335.0,815.3 334.5,813.6 334.0,812.5 333.5,814.5 333.0,816.6 332.5,818.6 332.0,818.5 331.5,816.9 331.0,815.3 330.5,814.0 330.0,813.3 329.5,812.9 329.0,811.7 328.5,811.6 328.0,811.4 327.5,811.3 327.0,811.0 326.5,811.3 326.0,814.4 325.5,817.8 325.0,821.2 324.5,821.3 324.0,818.3 323.5,815.2 323.0,813.4 322.5,814.3 322.0,814.9 321.5,813.9 321.0,813.4 320.5,816.3 320.0,816.8 319.5,813.6 319.0,810.5 318.5,811.7 318.0,810.7 317.5,811.0 317.0,812.4 316.5,813.8 316.0,815.2 315.5,814.8 315.0,813.0 314.5,811.1 314.0,809.3 313.5,808.0 313.0,808.0 312.5,808.3 312.0,809.2 311.5,812.2 311.0,815.2 310.5,818.3 310.0,819.5 309.5,816.8 309.0,814.1 308.5,813.8 308.0,815.0 307.5,812.8 307.0,810.6 306.5,809.2 306.0,810.0 305.5,811.9 305.0,813.9 304.5,814.8 304.0,813.2 303.5,815.2 303.0,817.4 302.5,817.4 302.0,816.1 301.5,814.6 301.0,815.3 300.5,816.6 300.0,816.3 299.5,816.4 299.0,814.4 298.5,812.3 298.0,810.7 297.5,808.9 297.0,808.4 296.5,808.1 296.0,807.7 295.5,807.9 295.0,807.8 294.5,808.1 294.0,807.5 293.5,806.3 293.0,806.8 292.5,805.1 292.0,804.5 291.5,805.4 291.0,806.5 290.5,806.9 290.0,806.2 289.5,805.6 289.0,805.0 288.5,806.1 288.0,808.9 287.5,811.7 287.0,811.0 286.5,812.9 286.0,811.9 285.5,810.4 285.0,811.3 284.5,810.4 284.0,809.2 283.5,808.0 283.0,807.0 282.5,806.7 282.0,805.9 281.5,806.5 281.0,806.5 280.5,806.8 280.0,807.3 279.5,807.9 279.0,806.9 278.5,807.0 278.0,806.2 277.5,805.5 277.0,806.4 276.5,807.4 276.0,807.6 275.5,806.8 275.0,808.1 274.5,807.6 274.0,806.2 273.5,807.0 273.0,808.9 272.5,810.5 272.0,808.4 271.5,806.3 271.0,805.3 270.5,805.9 270.0,804.9 269.5,804.0 269.0,803.0 268.5,804.5 268.0,803.4 267.5,804.0 267.0,803.7 266.5,804.2 266.0,803.7 265.5,803.9 265.0,805.0 264.5,806.1 264.0,808.3 263.5,810.7 263.0,813.1 262.5,813.4 262.0,811.3 261.5,809.1 261.0,807.0 260.5,805.8 260.0,806.1 259.5,804.5 259.0,804.4 258.5,806.5 258.0,805.5 257.5,806.3 257.0,806.4 256.5,807.7 256.0,808.9 255.5,810.1 255.0,811.2 254.5,812.5 254.0,811.0 253.5,809.5 253.0,808.0 252.5,810.5 252.0,813.0 251.5,815.7 251.0,818.3 250.5,816.2 250.0,813.6 249.5,811.0 249.0,808.5 248.5,808.6 248.0,811.2 247.5,813.8 247.0,813.4 246.5,810.9 246.0,810.9 245.5,812.1 245.0,811.7 244.5,810.4 244.0,808.9 243.5,809.3 243.0,810.0 242.5,810.9 242.0,810.0 241.5,809.0 241.0,809.0 240.5,809.2 240.0,808.5 239.5,807.7 239.0,806.8 238.5,806.6 238.0,807.1 237.5,807.5 237.0,807.5 236.5,806.3 236.0,805.2 235.5,804.7 235.0,806.2 234.5,807.8 234.0,809.4 233.5,811.1 233.0,809.8 232.5,808.5 232.0,809.8 231.5,811.4 231.0,811.3 230.5,810.2 230.0,812.3 229.5,814.5 229.0,814.6 228.5,812.7 228.0,811.3 227.5,809.7 227.0,811.2 226.5,812.7 226.0,812.8 225.5,811.3 225.0,809.7 224.5,810.3 224.0,810.1 223.5,807.7 223.0,806.8 222.5,808.7 222.0,812.5 221.5,816.4 221.0,814.2 220.5,810.8 220.0,814.4 219.5,810.6 219.0,806.7 218.5,805.6 218.0,807.4 217.5,807.3 217.0,808.1 216.5,808.6 216.0,807.3 215.5,806.0 215.0,805.2 214.5,805.4 214.0,807.2 213.5,808.9 213.0,807.2 212.5,805.2 212.0,806.1 211.5,806.3 211.0,803.9 210.5,801.6 210.0,801.1 209.5,800.6 209.0,799.1 208.5,797.7 208.0,796.3 207.5,794.9 207.0,795.7 206.5,796.1 206.0,796.2 205.5,795.3 205.0,792.1 204.5,789.0 204.0,787.4 203.5,785.9 203.0,783.2 202.5,779.4 202.0,775.5 201.5,771.7 201.0,767.3 200.5,762.5 200.0,757.0 199.5,750.7 199.0,743.7 198.5,735.8 198.0,727.1 197.5,717.7 197.0,707.6 196.5,697.2 196.0,686.7 195.5,676.6 195.0,667.7 194.5,660.5 194.0,655.8 193.5,654.1 193.0,655.6 192.5,660.0 192.0,667.0 191.5,675.7 191.0,685.5 190.5,695.7 190.0,705.8 189.5,715.6 189.0,724.8 188.5,733.2 188.0,740.8 187.5,747.5 187.0,753.5 186.5,758.9 186.0,763.6 185.5,767.4 185.0,770.8 184.5,773.8 184.0,776.4 183.5,778.5 183.0,780.3 182.5,782.5 182.0,785.2 181.5,787.9 181.0,790.8 180.5,792.9 180.0,793.1 179.5,793.0 179.0,792.6 178.5,793.3 178.0,795.3 177.5,797.3 177.0,798.3 176.5,800.9 176.0,801.5 175.5,801.0 175.0,801.6 174.5,805.9 174.0,810.1 173.5,814.0 173.0,810.5 172.5,806.9 172.0,803.4 171.5,800.9 171.0,800.0 170.5,801.3 170.0,802.4 169.5,803.5 169.0,802.1 168.5,800.8 168.0,800.1 167.5,802.3 167.0,801.7 166.5,802.3 166.0,801.7 165.5,801.2 165.0,801.4 164.5,802.7 164.0,804.0 163.5,804.0 163.0,803.1 162.5,802.3 162.0,803.1 161.5,804.4 161.0,805.8 160.5,807.2 160.0,806.9 159.5,805.5 159.0,803.8 158.5,802.6 158.0,802.1 157.5,801.0 157.0,800.5 156.5,799.7 156.0,799.8 155.5,798.8 155.0,799.8 154.5,799.9 154.0,801.3 153.5,802.2 153.0,800.4 152.5,798.9 152.0,797.7 151.5,798.1 151.0,799.6 150.5,798.9 150.0,800.1 149.5,800.1 149.0,800.7 148.5,801.5 148.0,801.4 147.5,801.5 147.0,801.6 146.5,801.2 146.0,802.2 145.5,803.1 145.0,803.7 144.5,802.9 144.0,804.5 143.5,806.0 143.0,807.7 142.5,807.1 142.0,805.2 141.5,803.6 141.0,802.0 140.5,801.0 140.0,802.0 139.5,803.1 139.0,804.0 138.5,806.0 138.0,805.8 137.5,804.6 137.0,804.2 136.5,806.8 136.0,809.3 135.5,811.7 135.0,813.8 134.5,811.2 134.0,808.6 133.5,806.0 133.0,803.4 132.5,802.9 132.0,803.1 131.5,802.5 131.0,803.3 130.5,804.1 130.0,805.0 129.5,804.7 129.0,803.7 128.5,802.8 128.0,803.5 127.5,805.0 127.0,806.7 126.5,810.1 126.0,806.6 125.5,803.0 125.0,803.4 124.5,804.3 124.0,806.2 123.5,808.2 123.0,807.4 122.5,806.5 122.0,805.4 121.5,804.3 121.0,803.2 120.5,804.6 120.0,801.8 119.5,801.6 119.0,803.1 118.5,802.1 118.0,804.5 117.5,807.1 117.0,809.9 116.5,812.8 116.0,811.4 115.5,809.1 115.0,806.9 114.5,804.5 114.0,804.3 113.5,806.2 113.0,808.0 112.5,807.1 112.0,804.6 111.5,803.8 111.0,807.6 110.5,811.4 110.0,810.0 109.5,805.1 109.0,801.4 108.5,802.4 108.0,803.6 107.5,803.8 107.0,803.1 106.5,802.6 106.0,802.6 105.5,803.8 105.0,804.1 104.5,807.7 104.0,811.4 103.5,814.6 103.0,811.6 102.5,808.5 102.0,805.6 101.5,805.9 101.0,805.7 100.5,805.0 100.0,805.2 99.5,806.1 99.0,806.6 98.5,805.4 98.0,804.2 97.5,803.3 97.0,802.6 96.5,804.6 96.0,806.2 95.5,808.1 95.0,807.6 94.5,805.7 94.0,803.7 93.5,805.7 93.0,808.5 92.5,810.3 92.0,807.1 91.5,803.9 91.0,802.8 90.5,804.0 90.0,805.2 89.5,806.6 89.0,806.4 88.5,805.4 88.0,804.4 87.5,803.5 87.0,804.9 86.5,806.3 86.0,805.5 85.5,804.5 85.0,806.1 84.5,808.2 84.0,810.3 83.5,811.3 83.0,809.2 82.5,807.1 82.0,805.0 81.5,806.6 81.0,809.5 80.5,811.7 80.0,809.0 79.5,806.3 79.0,804.0 78.5,804.9 78.0,805.8 77.5,806.8 77.0,807.9 76.5,809.4 76.0,807.9 75.5,806.4 75.0,804.9 74.5,804.3 74.0,804.4 73.5,805.5 73.0,806.7 72.5,807.8 72.0,808.1 71.5,806.7 71.0,805.4 70.5,804.2"/><polyline points="70.5,798.8 71.0,798.7 71.5,798.7 72.0,798.7 72.5,798.8 73.0,799.0 73.5,799.2 74.0,799.4 74.5,799.6 75.0,799.7 75.5,799.7 76.0,799.7 76.5,799.7 77.0,799.7 77.5,799.7 78.0,799.7 78.5,799.7 79.0,799.7 79.5,799.7 80.0,799.7 80.5,799.6 81.0,799.5 81.5,799.5 82.0,799.4 82.5,799.3 83.0,799.3 83.5,799.3 84.0,799.3 84.5,799.3 85.0,799.3 85.5,799.3 86.0,799.3 86.5,799.2 87.0,799.0 87.5,798.7 88.0,798.5 88.5,798.2 89.0,797.9 89.5,797.8 90.0,797.7 90.5,797.7 91.0,797.7 91.5,797.9 92.0,798.1 92.5,798.3 93.0,798.5 93.5,798.7 94.0,798.8 94.5,798.9 95.0,798.9 95.5,798.9 96.0,798.9 96.5,799.0 97.0,799.0 97.5,799.0 98.0,799.1 98.5,799.2 99.0,799.4 99.5,799.5 100.0,799.7 100.5,800.0 101.0,800.2 101.5,800.5 102.0,800.7 102.5,800.7 103.0,800.7 103.5,800.5 104.0,800.2 104.5,799.7 105.0,799.1 105.5,798.4 106.0,797.8 106.5,797.1 107.0,796.6 107.5,796.2 108.0,795.9 108.5,795.8 109.0,795.9 109.5,796.2 110.0,796.6 110.5,797.1 111.0,797.8 111.5,798.4 112.0,799.1 112.5,799.6 113.0,800.0 113.5,800.2 114.0,800.2 114.5,800.0 115.0,799.6 115.5,799.2 116.0,798.7 116.5,798.4 117.0,798.2 117.5,798.1 118.0,798.1 118.5,798.2 119.0,798.3 119.5,798.4 120.0,798.3 120.5,798.2 121.0,798.0 121.5,797.8 122.0,797.5 122.5,797.3 123.0,797.1 123.5,797.0 124.0,796.9 124.5,796.9 125.0,796.9 125.5,797.0 126.0,797.1 126.5,797.2 127.0,797.3 127.5,797.4 128.0,797.4 128.5,797.5 129.0,797.5 129.5,797.5 130.0,797.6 130.5,797.7 131.0,797.8 131.5,797.9 132.0,798.1 132.5,798.2 133.0,798.4 133.5,798.6 134.0,798.8 134.5,799.0 135.0,799.1 135.5,799.3 136.0,799.3 136.5,799.2 137.0,799.0 137.5,798.7 138.0,798.4 138.5,797.9 139.0,797.5 139.5,797.0 140.0,796.5 140.5,796.0 141.0,795.5 141.5,795.2 142.0,795.0 142.5,795.0 143.0,795.1 143.5,795.3 144.0,795.6 144.5,795.9 145.0,796.2 145.5,796.4 146.0,796.6 146.5,796.6 147.0,796.5 147.5,796.4 148.0,796.1 148.5,795.8 149.0,795.4 149.5,795.0 150.0,794.6 150.5,794.2 151.0,793.9 151.5,793.8 152.0,793.8 152.5,793.9 153.0,794.1 153.5,794.3 154.0,794.5 154.5,794.7 155.0,794.8 155.5,794.9 156.0,795.1 156.5,795.3 157.0,795.7 157.5,796.1 158.0,796.7 158.5,797.2 159.0,797.7 159.5,798.0 160.0,798.2 160.5,798.3 161.0,798.2 161.5,798.0 162.0,797.8 162.5,797.6 163.0,797.4 163.5,797.2 164.0,797.1 164.5,796.8 165.0,796.6 165.5,796.3 166.0,796.1 166.5,795.9 167.0,795.8 167.5,795.7 168.0,795.8 168.5,795.9 169.0,796.1 169.5,796.3 170.0,796.4 170.5,796.4 171.0,796.3 171.5,796.2 172.0,795.9 172.5,795.6 173.0,795.3 173.5,795.0 174.0,794.6 174.5,794.2 175.0,793.8 175.5,793.1 176.0,792.4 176.5,791.5 177.0,790.6 177.5,789.7 178.0,788.8 178.5,787.9 179.0,786.9 179.5,785.9 180.0,784.9 180.5,783.8 181.0,782.7 181.5,781.4 182.0,780.1 182.5,778.6 183.0,777.0 183.5,775.1 184.0,773.0 184.5,770.6 185.0,767.8 185.5,764.5 186.0,760.7 186.5,756.3 187.0,751.1 187.5,745.1 188.0,738.4 188.5,730.8 189.0,722.4 189.5,713.2 190.0,703.4 190.5,693.3 191.0,683.1 191.5,673.3 192.0,664.6 192.5,657.6 193.0,653.2 193.5,651.7 194.0,653.4 194.5,658.1 195.0,665.3 195.5,674.2 196.0,684.3 196.5,694.8 197.0,705.2 197.5,715.3 198.0,724.7 198.5,733.4 199.0,741.3 199.5,748.3 200.0,754.6 200.5,760.1 201.0,764.9 201.5,769.0 202.0,772.6 202.5,775.7 203.0,778.4 203.5,780.7 204.0,782.7 204.5,784.4 205.0,785.9 205.5,787.3 206.0,788.5 206.5,789.7 207.0,790.7 207.5,791.7 208.0,792.6 208.5,793.5 209.0,794.3 209.5,795.2 210.0,796.0 210.5,796.7 211.0,797.5 211.5,798.2 212.0,798.8 212.5,799.4 213.0,799.8 213.5,800.0 214.0,800.2 214.5,800.3 215.0,800.3 215.5,800.3 216.0,800.4 216.5,800.4 217.0,800.6 217.5,800.7 218.0,800.9 218.5,801.0 219.0,801.2 219.5,801.3 220.0,801.4 220.5,801.4 221.0,801.4 221.5,801.4 222.0,801.4 222.5,801.5 223.0,801.6 223.5,801.7 224.0,801.9 224.5,802.0 225.0,802.2 225.5,802.3 226.0,802.4 226.5,802.4 227.0,802.4 227.5,802.2 228.0,802.1 228.5,801.9 229.0,801.8 229.5,801.7 230.0,801.6 230.5,801.5 231.0,801.5 231.5,801.4 232.0,801.3 232.5,801.2 233.0,801.0 233.5,800.8 234.0,800.6 234.5,800.5 235.0,800.4 235.5,800.4 236.0,800.6 236.5,800.8 237.0,801.1 237.5,801.5 238.0,801.9 238.5,802.3 239.0,802.5 239.5,802.6 240.0,802.6 240.5,802.5 241.0,802.4 241.5,802.3 242.0,802.3 242.5,802.3 243.0,802.5 243.5,802.7 244.0,802.9 244.5,803.1 245.0,803.2 245.5,803.2 246.0,803.2 246.5,803.1 247.0,803.0 247.5,803.0 248.0,802.9 248.5,802.9 249.0,802.9 249.5,802.9 250.0,802.8 250.5,802.8 251.0,802.7 251.5,802.7 252.0,802.7 252.5,802.8 253.0,802.9 253.5,803.1 254.0,803.2 254.5,803.2 255.0,803.2 255.5,803.0 256.0,802.7 256.5,802.3 257.0,801.9 257.5,801.4 258.0,801.1 258.5,800.8 259.0,800.6 259.5,800.5 260.0,800.4 260.5,800.4 261.0,800.4 261.5,800.4 262.0,800.3 262.5,800.2 263.0,800.0 263.5,799.8 264.0,799.6 264.5,799.4 265.0,799.2 265.5,799.1 266.0,799.0 266.5,799.0 267.0,799.0 267.5,799.0 268.0,799.1 268.5,799.0 269.0,799.0 269.5,799.1 270.0,799.1 270.5,799.2 271.0,799.4 271.5,799.5 272.0,799.7 272.5,799.8 273.0,800.0 273.5,800.0 274.0,800.0 274.5,800.0 275.0,800.0 275.5,800.0 276.0,799.9 276.5,800.0 277.0,800.0 277.5,800.1 278.0,800.2 278.5,800.3 279.0,800.5 279.5,800.7 280.0,800.9 280.5,801.1 281.0,801.4 281.5,801.7 282.0,802.0 282.5,802.2 283.0,802.3 283.5,802.3 284.0,802.2 284.5,802.0 285.0,801.8 285.5,801.5 286.0,801.3 286.5,801.1 287.0,800.9 287.5,800.7 288.0,800.4 288.5,800.2 289.0,799.8 289.5,799.4 290.0,799.0 290.5,798.7 291.0,798.5 291.5,798.4 292.0,798.5 292.5,798.8 293.0,799.2 293.5,799.8 294.0,800.5 294.5,801.1 295.0,801.8 295.5,802.4 296.0,803.0 296.5,803.6 297.0,804.1 297.5,804.7 298.0,805.2 298.5,805.8 299.0,806.2 299.5,806.6 300.0,806.9 300.5,807.0 301.0,807.0 301.5,806.8 302.0,806.5 302.5,806.1 303.0,805.6 303.5,805.2 304.0,804.8 304.5,804.5 305.0,804.3 305.5,804.2 306.0,804.2 306.5,804.3 307.0,804.4 307.5,804.6 308.0,804.7 308.5,804.7 309.0,804.7 309.5,804.5 310.0,804.3 310.5,804.1 311.0,803.9 311.5,803.7 312.0,803.6 312.5,803.6 313.0,803.7 313.5,803.8 314.0,804.1 314.5,804.4 315.0,804.7 315.5,805.0 316.0,805.3 316.5,805.5 317.0,805.6 317.5,805.7 318.0,805.8 318.5,805.9 319.0,806.0 319.5,806.2 320.0,806.4 320.5,806.6 321.0,806.8 321.5,807.0 322.0,807.1 322.5,807.2 323.0,807.1 323.5,807.0 324.0,806.9 324.5,806.8 325.0,806.7 325.5,806.7 326.0,806.7 326.5,806.8 327.0,807.0 327.5,807.3 328.0,807.6 328.5,807.9 329.0,808.2 329.5,808.5 330.0,808.7 330.5,808.8 331.0,808.8 331.5,808.6 332.0,808.4 332.5,808.1 333.0,807.8 333.5,807.5 334.0,807.3 334.5,807.2 335.0,807.1 335.5,807.2 336.0,807.4 336.5,807.6 337.0,807.9 337.5,808.2 338.0,808.5 338.5,808.8 339.0,809.1 339.5,809.3 340.0,809.4 340.5,809.4 341.0,809.3 341.5,809.1 342.0,808.8 342.5,808.5 343.0,808.2 343.5,808.0 344.0,807.8 344.5,807.7 345.0,807.6 345.5,807.6 346.0,807.6 346.5,807.7 347.0,807.8 347.5,807.9 348.0,808.0 348.5,808.1 349.0,808.3 349.5,808.4 350.0,808.4 350.5,808.5 351.0,808.6 351.5,808.7 352.0,808.7 352.5,808.7 353.0,808.7 353.5,808.7 354.0,808.6 354.5,808.4 355.0,808.3 355.5,808.1 356.0,807.9 356.5,807.8 357.0,807.7 357.5,807.6 358.0,807.6 358.5,807.6 359.0,807.7 359.5,807.8 360.0,807.9 360.5,808.1 361.0,808.3 361.5,808.4 362.0,808.6 362.5,808.8 363.0,809.1 363.5,809.3 364.0,809.6 364.5,809.9 365.0,810.3 365.5,810.6 366.0,811.0 366.5,811.4 367.0,811.8 367.5,812.1 368.0,812.4 368.5,812.6 369.0,812.7 369.5,812.8 370.0,812.8 370.5,812.7 371.0,812.6 371.5,812.6 372.0,812.5 372.5,812.4 373.0,812.3 373.5,812.1 374.0,811.9 374.5,811.7 375.0,811.4 375.5,811.1 376.0,810.7 376.5,810.4 377.0,810.3 377.5,810.3 378.0,810.4 378.5,810.8 379.0,811.2 379.5,811.8 380.0,812.2 380.5,812.6 381.0,812.9 381.5,812.9 382.0,812.9 382.5,812.9 383.0,812.8 383.5,812.8 384.0,812.9 384.5,813.0 385.0,813.1 385.5,813.1 386.0,813.1 386.5,812.9 387.0,812.7 387.5,812.5 388.0,812.3 388.5,812.2 389.0,812.1 389.5,812.3 390.0,812.5 390.5,812.7 391.0,812.9 391.5,813.0 392.0,813.1 392.5,813.0 393.0,812.8 393.5,812.6 394.0,812.3 394.5,812.0 395.0,811.8 395.5,811.8 396.0,812.0 396.5,812.3 397.0,812.7 397.5,813.2 398.0,813.7 398.5,814.1 399.0,814.4 399.5,814.6 400.0,814.7 400.5,814.8 401.0,814.8 401.5,814.8 402.0,814.7 402.5,814.7 403.0,814.6 403.5,814.6 404.0,814.6 404.5,814.7 405.0,814.8 405.5,814.9 406.0,815.1 406.5,815.2 407.0,815.2 407.5,815.2 408.0,815.2 408.5,815.1 409.0,815.0 409.5,815.0 410.0,815.0 410.5,815.1 411.0,815.2 411.5,815.4 412.0,815.6 412.5,815.8 413.0,815.8 413.5,815.8 414.0,815.7 414.5,815.5 415.0,815.2 415.5,814.9 416.0,814.6 416.5,814.3 417.0,814.0 417.5,813.7 418.0,813.4 418.5,813.1 419.0,812.9 419.5,812.6 420.0,812.4 420.5,812.3 421.0,812.3 421.5,812.4 422.0,812.6 422.5,812.7 423.0,812.8 423.5,812.9 424.0,813.0 424.5,813.1 425.0,813.2 425.5,813.3 426.0,813.5 426.5,813.7 427.0,813.9 427.5,814.1 428.0,814.2 428.5,814.2 429.0,814.2 429.5,814.0 430.0,813.8 430.5,813.6 431.0,813.4 431.5,813.2 432.0,813.1 432.5,812.9 433.0,812.7 433.5,812.6 434.0,812.6 434.5,812.6 435.0,812.6 435.5,812.6 436.0,812.7 436.5,812.7 437.0,812.8 437.5,812.8 438.0,812.9 438.5,813.0 439.0,813.0 439.5,813.1 440.0,813.1 440.5,813.2 441.0,813.3 441.5,813.4 442.0,813.7 442.5,814.0 443.0,814.5 443.5,815.0 444.0,815.5 444.5,815.9 445.0,816.2 445.5,816.2 446.0,816.1 446.5,815.8 447.0,815.4 447.5,815.0 448.0,814.6 448.5,814.3 449.0,814.1 449.5,814.0 450.0,813.9 450.5,813.9 451.0,813.8 451.5,813.7 452.0,813.6 452.5,813.6 453.0,813.5 453.5,813.6 454.0,813.6 454.5,813.7 455.0,813.8 455.5,813.8 456.0,813.8 456.5,813.7 457.0,813.4 457.5,813.2 458.0,812.9 458.5,812.6 459.0,812.3 459.5,812.0 460.0,811.8 460.5,811.6 461.0,811.6 461.5,811.6 462.0,811.8 462.5,812.1 463.0,812.3 463.5,812.7 464.0,813.0 464.5,813.3 465.0,813.6 465.5,813.9 466.0,814.1 466.5,814.4 467.0,814.7 467.5,815.0 468.0,815.2 468.5,815.4 469.0,815.4 469.5,815.3 470.0,815.1 470.5,814.7 471.0,814.2 471.5,813.7 472.0,813.3 472.5,812.9 473.0,812.7 473.5,812.5 474.0,812.5 474.5,812.6 475.0,812.7 475.5,813.0 476.0,813.2 476.5,813.5 477.0,813.8 477.5,814.0 478.0,814.1 478.5,814.2 479.0,814.1 479.5,814.1 480.0,814.0 480.5,813.9 481.0,813.9 481.5,814.0 482.0,814.1 482.5,814.2 483.0,814.4 483.5,814.6 484.0,814.8 484.5,814.9 485.0,815.0 485.5,815.0 486.0,815.0 486.5,814.9 487.0,814.7 487.5,814.4 488.0,814.1 488.5,813.8 489.0,813.5 489.5,813.3 490.0,813.0 490.5,812.8 491.0,812.6 491.5,812.4 492.0,812.2 492.5,812.1 493.0,812.0 493.5,812.0 494.0,812.1 494.5,812.3 495.0,812.4 495.5,812.6 496.0,812.7 496.5,812.8 497.0,812.7 497.5,812.6 498.0,812.5 498.5,812.3 499.0,812.1 499.5,811.9 500.0,811.7 500.5,811.6 501.0,811.6 501.5,811.7 502.0,811.8 502.5,812.1 503.0,812.3 503.5,812.6 504.0,812.7 504.5,812.8 505.0,812.7 505.5,812.5 506.0,812.2 506.5,811.9 507.0,811.7 507.5,811.6 508.0,811.7 508.5,812.0 509.0,812.3 509.5,812.8 510.0,813.3 510.5,813.8 511.0,814.1 511.5,814.4 512.0,814.6 512.5,814.7 513.0,814.7 513.5,814.6 514.0,814.4 514.5,814.2 515.0,813.9 515.5,813.5 516.0,813.1 516.5,812.7 517.0,812.3 517.5,812.0 518.0,811.7 518.5,811.5 519.0,811.4 519.5,811.4 520.0,811.5 520.5,811.7 521.0,811.8 521.5,812.0 522.0,812.1 522.5,812.2 523.0,812.3 523.5,812.2 524.0,812.1 524.5,812.0 525.0,811.7 525.5,811.5 526.0,811.2 526.5,811.1 527.0,810.9 527.5,810.9 528.0,811.0 528.5,811.2 529.0,811.4 529.5,811.7 530.0,811.9 530.5,812.2 531.0,812.4 531.5,812.5 532.0,812.7 532.5,812.8 533.0,812.9 533.5,813.0 534.0,813.2 534.5,813.3 535.0,813.3 535.5,813.4 536.0,813.4 536.5,813.3 537.0,813.3 537.5,813.1 538.0,813.0 538.5,812.9 539.0,812.9 539.5,813.0 540.0,813.2 540.5,813.4 541.0,813.7 541.5,813.9 542.0,813.9 542.5,813.9 543.0,813.7 543.5,813.3 544.0,812.9 544.5,812.5 545.0,812.0 545.5,811.5 546.0,811.0 546.5,810.5 547.0,810.0 547.5,809.4 548.0,809.0 548.5,808.6 549.0,808.2 549.5,808.1 550.0,808.1 550.5,808.2 551.0,808.5 551.5,809.0 552.0,809.6 552.5,810.2 553.0,810.8 553.5,811.3 554.0,811.7 554.5,811.8 555.0,811.8 555.5,811.6 556.0,811.2 556.5,810.7 557.0,810.2 557.5,809.7 558.0,809.4 558.5,809.4 559.0,809.5 559.5,809.9 560.0,810.4 560.5,811.0 561.0,811.5 561.5,811.8 562.0,812.0 562.5,812.0 563.0,811.9 563.5,811.6 564.0,811.4 564.5,811.2 565.0,811.1 565.5,811.0 566.0,811.0 566.5,811.0 567.0,811.0 567.5,811.0 568.0,810.8 568.5,810.7 569.0,810.4 569.5,810.2 570.0,809.8 570.5,809.5 571.0,809.2 571.5,808.8 572.0,808.6 572.5,808.4 573.0,808.3 573.5,808.3 574.0,808.4 574.5,808.6 575.0,808.7 575.5,808.8 576.0,808.7 576.5,808.5 577.0,808.2 577.5,807.7 578.0,807.1 578.5,806.5 579.0,805.9 579.5,805.4 580.0,805.1 580.5,805.0 581.0,805.1 581.5,805.4 582.0,805.7 582.5,806.2 583.0,806.6 583.5,806.9 584.0,807.1 584.5,807.1 585.0,807.0 585.5,806.7 586.0,806.3 586.5,805.9 587.0,805.4 587.5,805.0 588.0,804.6 588.5,804.3 589.0,804.1 589.5,804.1 590.0,804.1 590.5,804.2 591.0,804.4 591.5,804.5 592.0,804.6 592.5,804.7 593.0,804.8 593.5,804.8 594.0,804.7 594.5,804.6 595.0,804.5 595.5,804.3 596.0,804.1 596.5,804.0 597.0,803.8 597.5,803.6 598.0,803.5 598.5,803.3 599.0,803.2 599.5,803.1 600.0,802.9 600.5,802.7 601.0,802.5 601.5,802.2 602.0,802.0 602.5,801.8 603.0,801.7 603.5,801.5 604.0,801.3 604.5,801.1 605.0,800.8 605.5,800.6 606.0,800.3 606.5,800.1 607.0,799.8 607.5,799.5 608.0,799.2 608.5,798.9 609.0,798.5 609.5,798.2 610.0,797.9 610.5,797.7 611.0,797.5 611.5,797.4 612.0,797.2 612.5,797.1 613.0,796.9 613.5,796.7 614.0,796.4 614.5,796.2 615.0,795.9 615.5,795.7 616.0,795.5 616.5,795.2 617.0,795.0 617.5,794.8 618.0,794.7 618.5,794.5 619.0,794.5 619.5,794.5 620.0,794.6 620.5,794.8 621.0,795.1 621.5,795.4 622.0,795.7 622.5,796.1 623.0,796.3 623.5,796.5 624.0,796.7 624.5,796.8 625.0,796.9 625.5,797.0 626.0,797.2 626.5,797.4 627.0,797.5 627.5,797.8 628.0,798.0 628.5,798.3 629.0,798.6 629.5,799.0 630.0,799.4 630.5,800.0 631.0,800.5 631.5,801.0 632.0,801.4 632.5,801.7 633.0,802.0 633.5,802.2 634.0,802.4 634.5,802.7 635.0,802.8 635.5,803.0 636.0,803.1 636.5,803.0 637.0,802.9 637.5,802.7 638.0,802.5 638.5,802.3 639.0,802.1 639.5,802.0 640.0,801.9 640.5,801.7 641.0,801.6 641.5,801.4 642.0,801.3 642.5,801.2 643.0,801.1 643.5,801.0 644.0,801.0 644.5,801.1 645.0,801.2 645.5,801.4 646.0,801.6 646.5,801.8 647.0,801.9 647.5,802.1 648.0,802.2 648.5,802.4 649.0,802.6 649.5,802.8 650.0,803.2 650.5,803.6 651.0,804.1 651.5,804.6 652.0,805.1 652.5,805.5 653.0,805.8 653.5,806.0 654.0,806.2 654.5,806.3 655.0,806.3 655.5,806.4 656.0,806.5 656.5,806.5 657.0,806.6 657.5,806.6 658.0,806.5 658.5,806.3 659.0,806.1 659.5,805.8 660.0,805.6 660.5,805.5 661.0,805.4 661.5,805.5 662.0,805.7 662.5,806.0 663.0,806.2 663.5,806.4 664.0,806.5 664.5,806.6 665.0,806.5 665.5,806.4 666.0,806.3 666.5,806.1 667.0,805.9 667.5,805.7 668.0,805.5 668.5,805.4 669.0,805.2 669.5,805.1 670.0,804.9 670.5,804.8 671.0,804.6 671.5,804.4 672.0,804.2 672.5,804.1 673.0,803.9 673.5,803.8 674.0,803.8 674.5,803.9 675.0,804.2 675.5,804.5 676.0,804.8 676.5,805.2 677.0,805.4 677.5,805.6 678.0,805.6 678.5,805.6 679.0,805.6 679.5,805.5 680.0,805.4 680.5,805.2 681.0,805.0 681.5,804.8 682.0,804.7 682.5,804.6 683.0,804.6 683.5,804.6 684.0,804.7 684.5,804.9 685.0,805.0 685.5,805.1 686.0,805.2 686.5,805.2 687.0,805.1 687.5,804.9 688.0,804.6 688.5,804.2 689.0,803.9 689.5,803.6 690.0,803.3 690.5,803.1 691.0,802.9 691.5,802.8 692.0,802.7 692.5,802.6 693.0,802.5 693.5,802.3 694.0,802.1 694.5,801.8 695.0,801.6 695.5,801.4 696.0,801.3 696.5,801.2 697.0,801.2 697.5,801.3 698.0,801.5 698.5,801.8 699.0,802.1 699.5,802.5 700.0,802.8 700.5,803.3 701.0,803.6 701.5,803.7 702.0,803.7 702.5,803.5 703.0,803.2 703.5,802.7 704.0,802.2 704.5,801.8 705.0,801.3 705.5,800.9 706.0,800.5 706.5,800.3 707.0,800.1 707.5,800.0 708.0,799.9 708.5,799.8 709.0,799.8 709.5,799.7 710.0,799.6 710.5,799.3 711.0,799.1 711.5,798.9 712.0,798.9 712.5,798.9 713.0,799.0 713.5,799.1 714.0,799.2 714.5,799.2 715.0,799.2 715.5,799.1 716.0,799.1 716.5,799.1 717.0,799.1 717.5,799.1 718.0,799.1 718.5,799.0 719.0,798.8 719.5,798.5 720.0,798.1 720.5,797.7 721.0,797.2 721.5,796.6 722.0,796.1 722.5,795.6 723.0,795.1 723.5,794.7 724.0,794.3 724.5,793.9 725.0,793.6 725.5,793.4 726.0,793.2 726.5,793.1 727.0,793.1 727.5,793.0 728.0,792.9 728.5,792.8 729.0,792.6 729.5,792.4 730.0,792.2 730.5,792.2 731.0,792.3 731.5,792.5 732.0,792.9 732.5,793.4 733.0,793.8 733.5,794.3 734.0,794.7 734.5,795.0 735.0,795.2 735.5,795.3 736.0,795.5 736.5,795.8 737.0,796.1 737.5,796.6 738.0,797.1 738.5,797.6 739.0,798.2 739.5,798.6 740.0,798.9 740.5,799.1 741.0,799.2 741.5,799.3 742.0,799.3 742.5,799.4 743.0,799.5 743.5,799.6 744.0,799.7 744.5,799.8 745.0,799.7 745.5,799.8 746.0,799.7 746.5,799.6 747.0,799.5 747.5,799.4 748.0,799.4 748.5,799.4 749.0,799.6 749.5,799.9 750.0,800.3 750.5,800.7 751.0,801.1 751.5,801.5 752.0,801.8 752.5,802.1 753.0,802.2 753.5,802.3 754.0,802.4 754.5,802.3 755.0,802.2 755.5,802.1 756.0,802.0 756.5,801.9 757.0,801.8 757.5,801.9 758.0,802.0 758.5,802.3 759.0,802.6 759.5,803.0 760.0,803.5 760.5,803.8 761.0,804.1 761.5,804.3 762.0,804.4 762.5,804.4 763.0,804.3 763.5,804.2 764.0,804.2 764.5,804.3 765.0,804.6 765.5,804.9 766.0,805.4 766.5,805.9 767.0,806.3 767.5,806.6 768.0,806.8 768.5,806.9 769.0,806.8 769.5,806.7 770.0,806.5 770.5,806.4 771.0,806.4 771.5,806.4 772.0,806.4 772.5,806.5 773.0,806.6 773.5,806.5 774.0,806.5 774.5,806.4 775.0,806.2 775.5,806.1 776.0,806.0 776.5,805.9 777.0,805.8 777.5,805.7 778.0,805.7 778.5,805.7 779.0,805.6 779.5,805.5 780.0,805.5 780.5,805.5 781.0,805.5 781.5,805.5 782.0,805.6 782.5,805.8 783.0,806.1 783.5,806.5 784.0,806.9 784.5,807.3 785.0,807.6 785.5,807.7 786.0,807.6 786.5,807.2 787.0,806.6 787.5,805.8 788.0,805.0 788.5,804.1 789.0,803.4 789.5,802.9 790.0,802.7 790.5,802.7 791.0,802.9 791.5,803.3 792.0,803.8 792.5,804.3 793.0,804.7 793.5,805.1 794.0,805.3 794.5,805.4 795.0,805.3 795.5,805.1 796.0,804.8 796.5,804.4 797.0,803.9 797.5,803.5 798.0,803.0 798.5,802.7 799.0,802.5 799.5,802.4 800.0,802.4 800.5,802.6 801.0,802.7 801.5,802.9 802.0,803.1 802.5,803.3 803.0,803.4 803.5,803.6 804.0,803.8 804.5,803.9 805.0,804.1 805.5,804.4 806.0,804.5 806.5,804.7 807.0,804.8 807.5,804.9 808.0,804.9 808.5,804.9 809.0,804.9 809.5,804.8 810.0,804.7 810.5,804.5 811.0,804.3 811.5,803.9 812.0,803.6 812.5,803.2 813.0,802.9 813.5,802.7 814.0,802.7 814.5,802.8 815.0,803.1 815.5,803.5 816.0,803.9 816.5,804.2 817.0,804.5 817.5,804.8 818.0,804.9 818.5,805.0 819.0,805.2 819.5,805.3 820.0,805.4 820.5,805.5 821.0,805.5 821.5,805.4 822.0,805.2 822.5,805.0 823.0,804.7 823.5,804.4 824.0,804.2 824.5,804.1 825.0,804.2 825.5,804.3 826.0,804.6 826.5,804.9 827.0,805.2 827.5,805.5 828.0,805.7 828.5,805.9 829.0,806.0 829.5,806.0 830.0,805.9 830.5,805.8 831.0,805.6 831.5,805.3 832.0,805.0 832.5,804.7 833.0,804.4 833.5,804.0 834.0,803.8 834.5,803.6 835.0,803.4 835.5,803.3 836.0,803.1 836.5,803.0 837.0,802.8 837.5,802.6 838.0,802.5 838.5,802.4 839.0,802.4 839.5,802.5 840.0,802.7 840.5,802.9 841.0,803.1 841.5,803.3 842.0,803.5 842.5,803.7 843.0,803.8 843.5,803.8 844.0,803.8 844.5,803.7 845.0,803.6 845.5,803.5 846.0,803.5 846.5,803.5 847.0,803.6 847.5,803.6 848.0,803.6 848.5,803.6 849.0,803.5 849.5,803.2 850.0,802.9 850.5,802.5 851.0,802.0 851.5,801.6 852.0,801.2 852.5,800.9 853.0,800.8 853.5,800.7 854.0,800.8 854.5,800.9 855.0,801.1 855.5,801.2 856.0,801.3 856.5,801.3 857.0,801.2 857.5,801.0 858.0,800.8 858.5,800.5 859.0,800.3 859.5,800.2 860.0,800.2 860.5,800.2 861.0,800.4 861.5,800.6 862.0,800.8 862.5,801.0 863.0,801.1 863.5,801.2 864.0,801.2 864.5,801.1 865.0,801.0 865.5,800.9 866.0,800.9 866.5,801.0 867.0,801.2 867.5,801.5 868.0,801.8 868.5,802.3 869.0,802.7 869.5,803.2 870.0,803.6 870.5,804.0 871.0,804.2 871.5,804.2 872.0,804.2 872.5,804.0 873.0,803.6 873.5,803.3 874.0,802.9 874.5,802.6 875.0,802.4 875.5,802.2 876.0,802.2 876.5,802.3 877.0,802.5 877.5,802.7 878.0,802.8 878.5,803.0 879.0,803.1 879.5,803.1 880.0,803.0 880.5,802.9 881.0,802.8 881.5,802.8 882.0,802.7 882.5,802.7 883.0,802.7 883.5,802.7 884.0,802.6 884.5,802.6 885.0,802.5 885.5,802.4 886.0,802.2 886.5,801.9 887.0,801.7 887.5,801.3 888.0,801.0 888.5,800.7 889.0,800.4 889.5,800.3 890.0,800.2 890.5,800.3 891.0,800.5 891.5,800.8 892.0,801.1 892.5,801.2 893.0,801.3 893.5,801.3 894.0,801.1 894.5,800.9 895.0,800.6 895.5,800.4 896.0,800.2 896.5,800.2 897.0,800.4 897.5,800.6 898.0,801.0 898.5,801.3 899.0,801.6 899.5,801.9 900.0,802.0 900.5,802.0 901.0,801.9 901.5,801.8 902.0,801.7 902.5,801.5 903.0,801.5 903.5,801.6 904.0,801.7 904.5,801.9 905.0,802.2 905.5,802.4 906.0,802.6 906.5,802.7 907.0,802.8 907.5,802.9 908.0,802.8 908.5,802.7 909.0,802.5 909.5,802.3 910.0,802.0 910.5,801.7 911.0,801.4 911.5,801.1 912.0,800.7 912.5,800.5 913.0,800.2 913.5,800.0 914.0,799.9 914.5,799.9 915.0,799.9 915.5,799.9" fill="none" stroke="#231f20" stroke-width="4.8" stroke-linejoin="miter" stroke-miterlimit="4"/><polygon points="70.5,894.8 71.0,893.6 71.5,893.1 72.0,890.4 72.5,886.6 73.0,887.6 73.5,890.8 74.0,893.3 74.5,893.2 75.0,892.4 75.5,892.9 76.0,891.3 76.5,888.5 77.0,886.2 77.5,889.6 78.0,893.2 78.5,895.0 79.0,894.4 79.5,896.2 80.0,896.2 80.5,896.6 81.0,896.5 81.5,896.3 82.0,896.3 82.5,896.2 83.0,895.5 83.5,894.7 84.0,894.2 84.5,894.3 85.0,894.9 85.5,893.9 86.0,894.3 86.5,892.5 87.0,892.3 87.5,892.2 88.0,890.7 88.5,890.0 89.0,890.3 89.5,891.9 90.0,892.6 90.5,892.6 91.0,892.0 91.5,892.5 92.0,888.9 92.5,887.8 93.0,883.9 93.5,885.6 94.0,883.2 94.5,884.8 95.0,887.5 95.5,889.9 96.0,892.2 96.5,892.6 97.0,892.4 97.5,892.6 98.0,891.5 98.5,893.3 99.0,892.2 99.5,890.2 100.0,887.0 100.5,883.8 101.0,880.8 101.5,879.1 102.0,882.6 102.5,886.1 103.0,887.8 103.5,889.4 104.0,890.8 104.5,892.1 105.0,892.9 105.5,891.5 106.0,890.2 106.5,890.8 107.0,889.6 107.5,887.9 108.0,886.3 108.5,885.5 109.0,886.9 109.5,888.3 110.0,889.8 110.5,891.2 111.0,891.3 111.5,890.4 112.0,888.3 112.5,885.5 113.0,883.2 113.5,886.1 114.0,887.7 114.5,888.6 115.0,888.8 115.5,884.5 116.0,880.3 116.5,884.7 117.0,889.6 117.5,891.0 118.0,888.0 118.5,885.0 119.0,881.9 119.5,882.5 120.0,885.2 120.5,888.1 121.0,890.9 121.5,891.9 122.0,893.0 122.5,893.2 123.0,894.5 123.5,892.8 124.0,891.1 124.5,889.8 125.0,891.4 125.5,892.9 126.0,894.4 126.5,892.2 127.0,893.8 127.5,893.9 128.0,892.7 128.5,892.6 129.0,892.2 129.5,892.1 130.0,891.3 130.5,892.1 131.0,892.9 131.5,892.4 132.0,891.6 132.5,890.9 133.0,889.6 133.5,888.8 134.0,890.8 134.5,892.8 135.0,893.1 135.5,891.8 136.0,890.6 136.5,889.4 137.0,886.6 137.5,882.9 138.0,879.2 138.5,883.1 139.0,887.4 139.5,891.7 140.0,893.3 140.5,894.0 141.0,894.4 141.5,895.4 142.0,895.6 142.5,895.8 143.0,895.9 143.5,895.8 144.0,895.1 144.5,893.0 145.0,890.4 145.5,891.5 146.0,894.0 146.5,895.3 147.0,894.8 147.5,894.5 148.0,894.1 148.5,893.7 149.0,894.8 149.5,894.1 150.0,893.5 150.5,892.5 151.0,890.6 151.5,888.6 152.0,886.7 152.5,885.9 153.0,887.4 153.5,885.3 154.0,886.5 154.5,889.0 155.0,891.4 155.5,889.4 156.0,888.9 156.5,891.7 157.0,894.4 157.5,895.5 158.0,896.4 158.5,896.0 159.0,895.7 159.5,896.2 160.0,895.3 160.5,894.9 161.0,895.6 161.5,895.9 162.0,892.9 162.5,889.8 163.0,887.4 163.5,890.3 164.0,893.2 164.5,896.1 165.0,896.1 165.5,895.8 166.0,895.4 166.5,893.4 167.0,891.4 167.5,889.5 168.0,891.4 168.5,893.0 169.0,894.0 169.5,895.1 170.0,895.9 170.5,895.9 171.0,895.9 171.5,895.6 172.0,894.5 172.5,893.0 173.0,891.4 173.5,891.0 174.0,892.7 174.5,894.3 175.0,895.9 175.5,897.6 176.0,897.2 176.5,896.7 177.0,895.6 177.5,894.7 178.0,893.7 178.5,893.3 179.0,894.2 179.5,894.9 180.0,894.8 180.5,895.3 181.0,895.1 181.5,894.2 182.0,893.5 182.5,893.9 183.0,894.0 183.5,893.4 184.0,892.4 184.5,891.6 185.0,890.2 185.5,888.7 186.0,887.0 186.5,885.1 187.0,882.9 187.5,880.2 188.0,877.0 188.5,873.4 189.0,869.3 189.5,864.9 190.0,860.1 190.5,854.9 191.0,849.6 191.5,844.3 192.0,839.2 192.5,834.7 193.0,831.1 193.5,828.8 194.0,828.0 194.5,828.8 195.0,831.1 195.5,834.7 196.0,839.2 196.5,844.3 197.0,849.7 197.5,855.0 198.0,860.2 198.5,865.1 199.0,869.6 199.5,873.7 200.0,877.3 200.5,880.6 201.0,883.4 201.5,885.4 202.0,887.3 202.5,889.3 203.0,890.6 203.5,891.6 204.0,892.1 204.5,891.5 205.0,890.9 205.5,892.6 206.0,894.7 206.5,894.7 207.0,894.2 207.5,893.4 208.0,894.0 208.5,894.0 209.0,895.3 209.5,895.9 210.0,894.6 210.5,892.7 211.0,889.4 211.5,889.4 212.0,892.3 212.5,895.6 213.0,898.0 213.5,897.7 214.0,896.8 214.5,894.8 215.0,892.8 215.5,891.1 216.0,893.1 216.5,895.2 217.0,897.2 217.5,898.9 218.0,898.9 218.5,898.5 219.0,897.6 219.5,898.1 220.0,897.1 220.5,897.1 221.0,897.6 221.5,896.6 222.0,895.6 222.5,895.5 223.0,896.2 223.5,895.1 224.0,893.9 224.5,894.8 225.0,896.0 225.5,896.7 226.0,897.4 226.5,896.7 227.0,897.3 227.5,898.1 228.0,897.7 228.5,898.7 229.0,898.3 229.5,897.6 230.0,897.5 230.5,896.1 231.0,894.8 231.5,896.0 232.0,896.4 232.5,896.7 233.0,897.2 233.5,897.0 234.0,897.6 234.5,897.0 235.0,897.5 235.5,897.2 236.0,896.7 236.5,896.6 237.0,896.8 237.5,895.0 238.0,891.4 238.5,887.9 239.0,886.8 239.5,890.1 240.0,893.5 240.5,895.2 241.0,895.3 241.5,894.2 242.0,892.9 242.5,892.8 243.0,894.2 243.5,895.7 244.0,896.4 244.5,896.6 245.0,896.9 245.5,897.1 246.0,896.5 246.5,896.0 247.0,897.5 247.5,899.0 248.0,898.3 248.5,897.6 249.0,899.0 249.5,898.7 250.0,898.3 250.5,894.6 251.0,890.3 251.5,893.5 252.0,897.9 252.5,898.7 253.0,897.9 253.5,897.2 254.0,897.9 254.5,898.6 255.0,897.9 255.5,897.6 256.0,898.7 256.5,899.2 257.0,899.7 257.5,898.9 258.0,898.1 258.5,897.7 259.0,897.5 259.5,895.0 260.0,893.7 260.5,896.1 261.0,898.5 261.5,899.3 262.0,899.6 262.5,899.4 263.0,898.9 263.5,899.3 264.0,899.8 264.5,897.9 265.0,896.3 265.5,893.7 266.0,891.1 266.5,891.9 267.0,895.0 267.5,898.1 268.0,901.2 268.5,901.9 269.0,901.1 269.5,902.5 270.0,901.2 270.5,900.4 271.0,899.6 271.5,898.5 272.0,898.8 272.5,898.5 273.0,896.9 273.5,896.8 274.0,898.2 274.5,898.6 275.0,899.4 275.5,899.3 276.0,900.7 276.5,900.2 277.0,899.8 277.5,898.6 278.0,898.2 278.5,897.5 279.0,897.5 279.5,897.3 280.0,894.6 280.5,892.1 281.0,892.6 281.5,895.7 282.0,896.2 282.5,896.3 283.0,895.9 283.5,898.0 284.0,899.9 284.5,901.7 285.0,902.1 285.5,902.4 286.0,902.7 286.5,903.0 287.0,902.1 287.5,901.6 288.0,901.0 288.5,899.1 289.0,899.9 289.5,898.9 290.0,897.9 290.5,897.1 291.0,897.0 291.5,896.3 292.0,897.7 292.5,896.8 293.0,895.3 293.5,896.9 294.0,898.8 294.5,900.4 295.0,900.8 295.5,901.0 296.0,900.6 296.5,900.0 297.0,900.1 297.5,900.7 298.0,901.0 298.5,900.6 299.0,900.3 299.5,899.4 300.0,898.6 300.5,897.9 301.0,898.6 301.5,897.3 302.0,895.3 302.5,893.2 303.0,891.6 303.5,894.0 304.0,896.2 304.5,898.4 305.0,900.6 305.5,899.3 306.0,896.9 306.5,895.3 307.0,897.7 307.5,898.4 308.0,901.0 308.5,900.5 309.0,900.6 309.5,899.2 310.0,898.6 310.5,897.6 311.0,896.1 311.5,894.6 312.0,894.9 312.5,893.9 313.0,895.5 313.5,897.2 314.0,899.0 314.5,900.0 315.0,899.4 315.5,899.7 316.0,898.1 316.5,897.9 317.0,895.8 317.5,893.6 318.0,891.4 318.5,889.4 319.0,890.7 319.5,892.9 320.0,895.0 320.5,897.0 321.0,896.2 321.5,895.5 322.0,896.3 322.5,898.3 323.0,900.1 323.5,901.6 324.0,901.2 324.5,902.2 325.0,900.8 325.5,898.7 326.0,896.5 326.5,894.4 327.0,893.6 327.5,894.9 328.0,896.3 328.5,894.9 329.0,895.7 329.5,897.3 330.0,899.1 330.5,899.9 331.0,900.9 331.5,900.5 332.0,900.3 332.5,899.8 333.0,898.4 333.5,896.9 334.0,896.4 334.5,898.3 335.0,900.2 335.5,899.4 336.0,899.1 336.5,900.4 337.0,899.4 337.5,898.6 338.0,900.4 338.5,901.3 339.0,900.5 339.5,900.1 340.0,900.5 340.5,900.9 341.0,900.0 341.5,898.8 342.0,896.7 342.5,894.2 343.0,895.3 343.5,897.6 344.0,897.3 344.5,896.3 345.0,897.4 345.5,898.6 346.0,894.0 346.5,889.0 347.0,891.3 347.5,891.0 348.0,886.9 348.5,888.4 349.0,892.3 349.5,896.3 350.0,897.0 350.5,894.6 351.0,896.7 351.5,899.2 352.0,899.7 352.5,900.6 353.0,900.0 353.5,900.1 354.0,900.1 354.5,898.4 355.0,896.3 355.5,894.3 356.0,892.3 356.5,892.9 357.0,895.1 357.5,897.3 358.0,899.4 358.5,900.5 359.0,899.8 359.5,898.5 360.0,897.2 360.5,897.4 361.0,898.2 361.5,899.1 362.0,900.0 362.5,900.6 363.0,899.4 363.5,900.7 364.0,901.4 364.5,901.2 365.0,901.8 365.5,901.3 366.0,900.0 366.5,897.9 367.0,893.6 367.5,889.2 368.0,887.5 368.5,891.3 369.0,890.8 369.5,891.8 370.0,894.5 370.5,897.1 371.0,898.4 371.5,898.8 372.0,898.2 372.5,894.7 373.0,891.3 373.5,887.9 374.0,884.5 374.5,885.9 375.0,889.0 375.5,892.2 376.0,895.4 376.5,894.8 377.0,894.8 377.5,896.1 378.0,896.9 378.5,897.3 379.0,897.8 379.5,897.4 380.0,897.5 380.5,896.8 381.0,895.9 381.5,894.1 382.0,893.7 382.5,895.2 383.0,896.3 383.5,896.6 384.0,896.1 384.5,895.3 385.0,895.1 385.5,895.6 386.0,896.2 386.5,896.3 387.0,895.4 387.5,894.6 388.0,893.9 388.5,893.3 389.0,893.6 389.5,893.7 390.0,896.6 390.5,898.2 391.0,899.0 391.5,899.0 392.0,898.0 392.5,896.8 393.0,897.1 393.5,898.0 394.0,896.6 394.5,893.8 395.0,890.9 395.5,888.1 396.0,889.2 396.5,891.8 397.0,894.5 397.5,897.2 398.0,898.3 398.5,896.2 399.0,894.1 399.5,892.0 400.0,893.7 400.5,895.8 401.0,896.0 401.5,895.3 402.0,894.1 402.5,894.7 403.0,895.8 403.5,897.0 404.0,898.2 404.5,899.1 405.0,898.0 405.5,898.4 406.0,898.0 406.5,898.5 407.0,897.8 407.5,896.1 408.0,894.5 408.5,893.5 409.0,895.4 409.5,897.2 410.0,896.7 410.5,896.9 411.0,898.9 411.5,900.1 412.0,899.4 412.5,900.0 413.0,900.3 413.5,900.0 414.0,900.1 414.5,898.4 415.0,896.7 415.5,895.4 416.0,898.1 416.5,900.7 417.0,899.4 417.5,897.0 418.0,894.4 418.5,895.6 419.0,898.2 419.5,900.7 420.0,903.2 420.5,904.3 421.0,904.3 421.5,905.4 422.0,905.4 422.5,905.1 423.0,905.0 423.5,905.7 424.0,904.8 424.5,903.9 425.0,904.7 425.5,905.6 426.0,904.9 426.5,904.2 427.0,904.7 427.5,905.0 428.0,905.3 428.5,905.6 429.0,904.5 429.5,903.4 430.0,903.0 430.5,903.7 431.0,903.0 431.5,901.5 432.0,900.0 432.5,900.9 433.0,901.8 433.5,902.8 434.0,902.6 434.5,902.2 435.0,902.7 435.5,902.2 436.0,902.2 436.5,901.9 437.0,902.5 437.5,903.1 438.0,902.2 438.5,904.2 439.0,904.3 439.5,904.1 440.0,903.5 440.5,902.9 441.0,902.3 441.5,903.2 442.0,904.0 442.5,904.4 443.0,905.0 443.5,904.5 444.0,903.5 444.5,901.6 445.0,899.3 445.5,897.3 446.0,899.2 446.5,901.1 447.0,903.0 447.5,903.1 448.0,901.6 448.5,900.8 449.0,901.6 449.5,902.2 450.0,902.1 450.5,901.8 451.0,902.0 451.5,901.8 452.0,901.3 452.5,898.9 453.0,901.0 453.5,899.7 454.0,898.5 454.5,897.3 455.0,898.4 455.5,900.2 456.0,901.8 456.5,901.2 457.0,898.4 457.5,896.6 458.0,899.1 458.5,901.5 459.0,901.8 459.5,900.8 460.0,899.8 460.5,899.9 461.0,900.4 461.5,900.7 462.0,900.1 462.5,899.4 463.0,899.6 463.5,899.9 464.0,899.5 464.5,897.9 465.0,896.0 465.5,894.1 466.0,892.4 466.5,893.9 467.0,894.8 467.5,892.9 468.0,891.0 468.5,893.0 469.0,895.3 469.5,897.6 470.0,898.5 470.5,897.8 471.0,899.1 471.5,900.4 472.0,901.4 472.5,899.4 473.0,897.2 473.5,898.0 474.0,896.7 474.5,895.4 475.0,896.7 475.5,898.2 476.0,899.9 476.5,900.5 477.0,899.8 477.5,899.2 478.0,900.1 478.5,900.9 479.0,901.8 479.5,901.2 480.0,901.6 480.5,901.1 481.0,900.5 481.5,899.5 482.0,897.7 482.5,898.5 483.0,900.3 483.5,901.3 484.0,902.3 484.5,903.2 485.0,901.8 485.5,900.1 486.0,898.2 486.5,896.3 487.0,894.8 487.5,896.0 488.0,897.3 488.5,898.7 489.0,900.3 489.5,900.4 490.0,898.7 490.5,897.1 491.0,896.5 491.5,898.9 492.0,900.8 492.5,898.5 493.0,896.7 493.5,899.3 494.0,901.7 494.5,902.9 495.0,901.7 495.5,900.4 496.0,899.0 496.5,898.7 497.0,899.0 497.5,899.3 498.0,899.5 498.5,899.5 499.0,898.8 499.5,897.2 500.0,896.5 500.5,896.5 501.0,895.1 501.5,893.8 502.0,892.7 502.5,891.9 503.0,890.6 503.5,892.1 504.0,892.9 504.5,890.8 505.0,892.9 505.5,895.5 506.0,895.9 506.5,895.5 507.0,897.4 507.5,897.3 508.0,896.4 508.5,896.1 509.0,897.0 509.5,896.9 510.0,896.4 510.5,895.0 511.0,895.0 511.5,895.3 512.0,894.6 512.5,892.9 513.0,891.2 513.5,890.7 514.0,891.5 514.5,892.3 515.0,893.2 515.5,893.6 516.0,892.4 516.5,890.2 517.0,888.2 517.5,888.0 518.0,886.2 518.5,883.3 519.0,880.6 519.5,884.1 520.0,887.5 520.5,890.8 521.0,892.9 521.5,893.5 522.0,892.3 522.5,893.4 523.0,894.4 523.5,893.6 524.0,893.7 524.5,892.4 525.0,891.1 525.5,889.8 526.0,890.8 526.5,891.9 527.0,891.7 527.5,891.2 528.0,891.5 528.5,892.9 529.0,892.3 529.5,891.3 530.0,890.3 530.5,889.4 531.0,888.7 531.5,889.7 532.0,890.5 532.5,889.7 533.0,890.0 533.5,890.8 534.0,891.6 534.5,892.5 535.0,891.6 535.5,892.6 536.0,894.1 536.5,893.5 537.0,892.0 537.5,890.6 538.0,889.1 538.5,890.5 539.0,892.2 539.5,892.5 540.0,891.6 540.5,892.1 541.0,892.6 541.5,891.1 542.0,891.8 542.5,891.8 543.0,891.0 543.5,891.8 544.0,891.7 544.5,892.4 545.0,891.8 545.5,891.1 546.0,891.6 546.5,892.3 547.0,890.4 547.5,888.4 548.0,888.8 548.5,889.9 549.0,890.6 549.5,889.2 550.0,885.8 550.5,882.5 551.0,884.4 551.5,883.8 552.0,883.0 552.5,883.9 553.0,884.9 553.5,886.0 554.0,886.8 554.5,887.0 555.0,887.4 555.5,886.4 556.0,887.0 556.5,886.6 557.0,886.9 557.5,885.6 558.0,887.4 558.5,886.9 559.0,885.6 559.5,886.6 560.0,886.6 560.5,886.0 561.0,885.2 561.5,884.4 562.0,884.8 562.5,885.2 563.0,883.0 563.5,880.3 564.0,880.7 564.5,879.6 565.0,879.1 565.5,879.1 566.0,880.0 566.5,881.0 567.0,882.0 567.5,881.5 568.0,882.1 568.5,882.6 569.0,881.4 569.5,879.4 570.0,877.3 570.5,875.4 571.0,876.1 571.5,874.9 572.0,871.9 572.5,870.4 573.0,871.8 573.5,872.8 574.0,870.9 574.5,869.1 575.0,868.7 575.5,869.4 576.0,870.1 576.5,870.2 577.0,869.2 577.5,869.4 578.0,869.7 578.5,867.8 579.0,866.0 579.5,864.0 580.0,862.6 580.5,858.6 581.0,853.3 581.5,856.0 582.0,859.8 582.5,863.6 583.0,863.7 583.5,861.5 584.0,859.4 584.5,857.5 585.0,855.7 585.5,856.6 586.0,855.7 586.5,855.7 587.0,857.2 587.5,856.2 588.0,850.8 588.5,849.6 589.0,854.1 589.5,858.3 590.0,857.6 590.5,856.0 591.0,853.5 591.5,851.2 592.0,852.3 592.5,853.4 593.0,853.9 593.5,853.0 594.0,850.6 594.5,850.6 595.0,849.4 595.5,848.0 596.0,845.8 596.5,843.5 597.0,844.3 597.5,845.8 598.0,847.2 598.5,848.2 599.0,847.2 599.5,846.6 600.0,845.5 600.5,843.3 601.0,841.0 601.5,841.0 602.0,841.3 602.5,841.4 603.0,839.4 603.5,835.4 604.0,830.4 604.5,825.4 605.0,820.4 605.5,820.6 606.0,823.0 606.5,825.5 607.0,828.1 607.5,829.2 608.0,826.8 608.5,826.3 609.0,826.7 609.5,824.6 610.0,825.0 610.5,823.7 611.0,820.8 611.5,817.1 612.0,813.3 612.5,810.7 613.0,812.9 613.5,815.1 614.0,816.7 614.5,817.1 615.0,816.4 615.5,815.4 616.0,815.5 616.5,814.0 617.0,813.3 617.5,811.6 618.0,809.8 618.5,810.4 619.0,811.0 619.5,811.8 620.0,812.2 620.5,811.8 621.0,812.3 621.5,812.5 622.0,812.2 622.5,812.0 623.0,813.1 623.5,814.6 624.0,815.0 624.5,816.7 625.0,817.4 625.5,818.7 626.0,820.1 626.5,821.0 627.0,822.9 627.5,824.8 628.0,824.0 628.5,825.3 629.0,825.4 629.5,824.9 630.0,826.1 630.5,828.0 631.0,830.0 631.5,830.2 632.0,832.2 632.5,832.5 633.0,833.3 633.5,832.3 634.0,831.4 634.5,830.9 635.0,833.8 635.5,836.8 636.0,834.1 636.5,830.2 637.0,830.9 637.5,837.1 638.0,843.1 638.5,846.1 639.0,845.1 639.5,843.5 640.0,841.9 640.5,842.8 641.0,846.2 641.5,849.6 642.0,851.8 642.5,852.0 643.0,852.5 643.5,852.2 644.0,851.5 644.5,852.7 645.0,855.3 645.5,857.8 646.0,858.9 646.5,857.2 647.0,855.3 647.5,853.4 648.0,853.0 648.5,855.6 649.0,858.2 649.5,860.7 650.0,859.2 650.5,860.5 651.0,862.9 651.5,864.2 652.0,864.1 652.5,864.9 653.0,865.2 653.5,866.2 654.0,865.5 654.5,866.8 655.0,867.7 655.5,868.3 656.0,868.2 656.5,869.4 657.0,868.9 657.5,868.3 658.0,867.6 658.5,868.1 659.0,869.5 659.5,869.6 660.0,870.6 660.5,872.3 661.0,872.2 661.5,872.1 662.0,871.4 662.5,871.5 663.0,872.1 663.5,870.0 664.0,869.5 664.5,866.6 665.0,865.9 665.5,867.3 666.0,864.8 666.5,862.4 667.0,860.1 667.5,861.6 668.0,864.4 668.5,867.2 669.0,866.5 669.5,866.0 670.0,869.4 670.5,872.0 671.0,872.4 671.5,872.9 672.0,872.0 672.5,873.5 673.0,872.4 673.5,872.1 674.0,871.3 674.5,870.5 675.0,870.1 675.5,870.8 676.0,871.6 676.5,871.6 677.0,872.5 677.5,872.1 678.0,870.1 678.5,867.0 679.0,863.8 679.5,863.9 680.0,865.9 680.5,867.8 681.0,868.6 681.5,866.1 682.0,867.3 682.5,866.7 683.0,865.0 683.5,866.8 684.0,866.0 684.5,864.4 685.0,861.0 685.5,857.6 686.0,856.2 686.5,860.3 687.0,864.5 687.5,867.3 688.0,868.1 688.5,865.8 689.0,863.5 689.5,861.2 690.0,858.8 690.5,860.5 691.0,863.2 691.5,865.8 692.0,867.3 692.5,866.6 693.0,868.0 693.5,868.2 694.0,866.9 694.5,865.6 695.0,866.0 695.5,866.8 696.0,867.5 696.5,866.5 697.0,864.8 697.5,865.0 698.0,866.6 698.5,867.6 699.0,865.8 699.5,864.0 700.0,862.5 700.5,863.4 701.0,864.2 701.5,864.1 702.0,862.5 702.5,860.3 703.0,858.0 703.5,857.2 704.0,857.3 704.5,857.1 705.0,857.0 705.5,855.0 706.0,852.9 706.5,853.2 707.0,853.9 707.5,855.2 708.0,855.0 708.5,854.0 709.0,853.7 709.5,853.1 710.0,853.1 710.5,852.7 711.0,850.7 711.5,851.6 712.0,850.4 712.5,847.8 713.0,845.2 713.5,842.4 714.0,842.5 714.5,843.3 715.0,843.7 715.5,841.5 716.0,839.5 716.5,838.5 717.0,835.8 717.5,833.1 718.0,830.3 718.5,828.4 719.0,824.4 719.5,820.5 720.0,817.7 720.5,816.3 721.0,817.9 721.5,819.5 722.0,820.3 722.5,819.0 723.0,816.8 723.5,813.3 724.0,809.2 724.5,806.6 725.0,808.4 725.5,810.2 726.0,809.1 726.5,806.3 727.0,803.6 727.5,801.2 728.0,801.7 728.5,803.6 729.0,805.5 729.5,803.7 730.0,802.0 730.5,797.8 731.0,796.7 731.5,802.2 732.0,807.7 732.5,809.5 733.0,808.2 733.5,807.4 734.0,810.3 734.5,813.2 735.0,815.3 735.5,816.8 736.0,817.7 736.5,819.3 737.0,820.4 737.5,821.0 738.0,821.6 738.5,823.8 739.0,826.6 739.5,829.3 740.0,831.9 740.5,832.6 741.0,833.4 741.5,835.4 742.0,838.3 742.5,840.7 743.0,842.4 743.5,843.5 744.0,845.0 744.5,846.7 745.0,847.9 745.5,849.3 746.0,851.4 746.5,853.5 747.0,854.9 747.5,857.3 748.0,857.9 748.5,858.2 749.0,857.2 749.5,856.3 750.0,855.7 750.5,859.3 751.0,863.0 751.5,864.2 752.0,864.9 752.5,867.7 753.0,870.5 753.5,873.2 754.0,874.6 754.5,874.9 755.0,875.0 755.5,875.0 756.0,876.1 756.5,877.1 757.0,877.4 757.5,878.9 758.0,879.1 758.5,879.3 759.0,876.5 759.5,875.2 760.0,873.4 760.5,871.6 761.0,873.7 761.5,875.1 762.0,878.6 762.5,881.8 763.0,884.0 763.5,885.4 764.0,884.7 764.5,887.2 765.0,887.8 765.5,888.8 766.0,889.1 766.5,889.5 767.0,889.2 767.5,887.7 768.0,886.1 768.5,885.9 769.0,884.2 769.5,883.9 770.0,883.2 770.5,885.3 771.0,887.3 771.5,889.1 772.0,889.8 772.5,890.4 773.0,889.6 773.5,889.8 774.0,890.6 774.5,891.1 775.0,889.9 775.5,886.9 776.0,883.7 776.5,884.4 777.0,887.1 777.5,889.7 778.0,891.5 778.5,893.1 779.0,893.4 779.5,892.2 780.0,891.2 780.5,891.1 781.0,892.1 781.5,890.4 782.0,888.6 782.5,886.9 783.0,888.4 783.5,890.7 784.0,893.0 784.5,895.2 785.0,897.3 785.5,894.2 786.0,896.3 786.5,895.2 787.0,893.8 787.5,890.6 788.0,887.5 788.5,887.5 789.0,891.0 789.5,894.4 790.0,896.9 790.5,896.7 791.0,895.2 791.5,893.6 792.0,894.4 792.5,887.9 793.0,884.4 793.5,886.3 794.0,887.6 794.5,891.3 795.0,895.0 795.5,895.3 796.0,896.1 796.5,894.5 797.0,896.0 797.5,897.6 798.0,897.9 798.5,897.4 799.0,897.4 799.5,897.4 800.0,896.1 800.5,895.5 801.0,897.2 801.5,898.6 802.0,898.8 802.5,899.3 803.0,899.1 803.5,898.3 804.0,897.0 804.5,895.6 805.0,894.6 805.5,896.2 806.0,897.3 806.5,898.1 807.0,898.2 807.5,896.8 808.0,897.8 808.5,894.8 809.0,891.2 809.5,887.6 810.0,883.9 810.5,880.2 811.0,883.1 811.5,886.1 812.0,889.0 812.5,891.2 813.0,890.3 813.5,888.6 814.0,889.8 814.5,891.2 815.0,892.6 815.5,894.2 816.0,895.0 816.5,894.5 817.0,894.5 817.5,893.5 818.0,892.6 818.5,891.5 819.0,891.4 819.5,892.9 820.0,894.2 820.5,895.4 821.0,896.3 821.5,896.4 822.0,894.4 822.5,892.4 823.0,891.6 823.5,889.7 824.0,890.4 824.5,891.3 825.0,892.4 825.5,893.7 826.0,895.0 826.5,894.6 827.0,894.6 827.5,896.2 828.0,895.2 828.5,895.1 829.0,893.6 829.5,891.9 830.0,893.6 830.5,895.4 831.0,896.6 831.5,897.2 832.0,897.8 832.5,897.5 833.0,897.1 833.5,897.1 834.0,895.9 834.5,895.1 835.0,893.4 835.5,892.4 836.0,893.2 836.5,893.0 837.0,895.0 837.5,894.8 838.0,893.0 838.5,891.2 839.0,893.1 839.5,894.7 840.0,892.0 840.5,891.6 841.0,894.1 841.5,896.3 842.0,895.1 842.5,894.0 843.0,893.7 843.5,894.1 844.0,892.7 844.5,891.3 845.0,892.0 845.5,893.0 846.0,891.0 846.5,887.9 847.0,890.6 847.5,893.8 848.0,896.0 848.5,895.2 849.0,895.1 849.5,895.6 850.0,896.2 850.5,896.7 851.0,897.0 851.5,897.0 852.0,896.2 852.5,895.6 853.0,894.9 853.5,894.8 854.0,895.9 854.5,897.0 855.0,894.0 855.5,889.9 856.0,885.8 856.5,888.1 857.0,891.9 857.5,895.7 858.0,897.2 858.5,896.1 859.0,894.6 859.5,892.2 860.0,892.0 860.5,893.9 861.0,893.3 861.5,891.9 862.0,891.0 862.5,891.6 863.0,892.1 863.5,892.7 864.0,893.1 864.5,893.1 865.0,893.1 865.5,893.5 866.0,893.8 866.5,894.7 867.0,893.7 867.5,892.6 868.0,891.3 868.5,890.0 869.0,888.4 869.5,889.9 870.0,890.6 870.5,892.0 871.0,889.9 871.5,887.0 872.0,890.3 872.5,893.7 873.0,894.1 873.5,892.3 874.0,890.5 874.5,888.6 875.0,887.6 875.5,889.4 876.0,890.7 876.5,891.9 877.0,893.1 877.5,893.9 878.0,891.3 878.5,887.8 879.0,886.7 879.5,889.7 880.0,889.9 880.5,888.4 881.0,887.7 881.5,889.2 882.0,890.7 882.5,889.7 883.0,888.4 883.5,888.8 884.0,889.8 884.5,890.8 885.0,891.8 885.5,891.9 886.0,891.3 886.5,890.1 887.0,888.9 887.5,887.9 888.0,887.4 888.5,888.7 889.0,890.1 889.5,891.6 890.0,893.0 890.5,892.1 891.0,890.5 891.5,891.1 892.0,893.1 892.5,895.0 893.0,894.5 893.5,892.2 894.0,888.1 894.5,885.7 895.0,885.4 895.5,889.0 896.0,892.6 896.5,892.5 897.0,890.9 897.5,890.9 898.0,892.1 898.5,891.6 899.0,888.2 899.5,884.7 900.0,883.5 900.5,886.5 901.0,889.4 901.5,890.8 902.0,888.9 902.5,890.8 903.0,891.1 903.5,889.3 904.0,888.3 904.5,884.7 905.0,881.1 905.5,877.6 906.0,878.3 906.5,882.1 907.0,886.0 907.5,889.4 908.0,888.4 908.5,887.5 909.0,888.5 909.5,890.1 910.0,890.6 910.5,891.1 911.0,892.6 911.5,893.8 912.0,894.9 912.5,894.9 913.0,894.3 913.5,894.8 914.0,894.7 914.5,893.8 915.0,893.0 915.5,892.7 915.5,902.6 915.0,904.1 914.5,904.6 914.0,903.9 913.5,903.4 913.0,903.2 912.5,904.2 912.0,907.9 911.5,911.6 911.0,915.2 910.5,911.5 910.0,907.1 909.5,902.7 909.0,902.4 908.5,902.2 908.0,902.5 907.5,902.2 907.0,903.0 906.5,904.8 906.0,905.3 905.5,903.2 905.0,901.1 904.5,899.6 904.0,900.2 903.5,901.4 903.0,902.0 902.5,901.1 902.0,900.5 901.5,900.0 901.0,899.5 900.5,899.4 900.0,899.6 899.5,900.1 899.0,901.5 898.5,901.1 898.0,901.4 897.5,901.0 897.0,901.2 896.5,902.6 896.0,904.9 895.5,906.6 895.0,906.0 894.5,904.6 894.0,903.2 893.5,902.7 893.0,903.3 892.5,904.4 892.0,906.1 891.5,906.6 891.0,904.5 890.5,902.4 890.0,903.4 889.5,904.7 889.0,906.0 888.5,904.8 888.0,902.9 887.5,901.6 887.0,902.6 886.5,903.6 886.0,903.8 885.5,903.0 885.0,905.1 884.5,908.4 884.0,911.6 883.5,914.8 883.0,917.9 882.5,914.9 882.0,912.0 881.5,909.0 881.0,905.9 880.5,904.4 880.0,902.6 879.5,902.4 879.0,902.9 878.5,904.7 878.0,907.1 877.5,909.7 877.0,909.6 876.5,907.7 876.0,908.6 875.5,913.0 875.0,917.2 874.5,914.7 874.0,910.4 873.5,906.1 873.0,904.5 872.5,903.5 872.0,902.9 871.5,903.1 871.0,904.3 870.5,905.6 870.0,904.1 869.5,903.9 869.0,903.9 868.5,903.9 868.0,903.4 867.5,902.6 867.0,902.2 866.5,901.5 866.0,902.4 865.5,903.0 865.0,904.5 864.5,904.4 864.0,903.0 863.5,902.0 863.0,904.6 862.5,909.2 862.0,913.8 861.5,917.8 861.0,914.0 860.5,910.1 860.0,906.2 859.5,906.2 859.0,907.2 858.5,909.3 858.0,911.5 857.5,913.6 857.0,912.0 856.5,914.6 856.0,913.9 855.5,911.6 855.0,909.2 854.5,906.9 854.0,908.9 853.5,910.8 853.0,908.5 852.5,908.4 852.0,907.0 851.5,905.9 851.0,905.0 850.5,906.2 850.0,908.6 849.5,911.0 849.0,913.4 848.5,915.7 848.0,915.9 847.5,913.5 847.0,911.0 846.5,908.6 846.0,906.2 845.5,905.7 845.0,906.7 844.5,907.1 844.0,906.3 843.5,905.4 843.0,905.4 842.5,905.0 842.0,905.7 841.5,906.4 841.0,908.5 840.5,910.6 840.0,912.6 839.5,911.9 839.0,910.0 838.5,908.0 838.0,907.9 837.5,907.0 837.0,906.1 836.5,906.6 836.0,906.9 835.5,906.4 835.0,906.0 834.5,906.3 834.0,905.1 833.5,907.0 833.0,905.7 832.5,907.5 832.0,910.1 831.5,912.6 831.0,915.1 830.5,913.2 830.0,910.5 829.5,908.9 829.0,908.3 828.5,907.7 828.0,907.2 827.5,907.0 827.0,906.5 826.5,905.5 826.0,904.2 825.5,903.9 825.0,904.0 824.5,905.5 824.0,907.1 823.5,908.8 823.0,909.5 822.5,908.5 822.0,907.5 821.5,906.4 821.0,905.8 820.5,907.6 820.0,909.3 819.5,910.3 819.0,907.8 818.5,908.9 818.0,909.8 817.5,908.8 817.0,906.4 816.5,905.1 816.0,904.9 815.5,904.9 815.0,906.5 814.5,908.2 814.0,909.9 813.5,911.1 813.0,914.6 812.5,918.2 812.0,919.5 811.5,916.6 811.0,919.6 810.5,923.0 810.0,920.4 809.5,917.8 809.0,915.0 808.5,913.5 808.0,915.6 807.5,917.6 807.0,916.6 806.5,914.4 806.0,912.3 805.5,910.1 805.0,908.0 804.5,906.9 804.0,908.0 803.5,907.9 803.0,907.7 802.5,908.4 802.0,909.0 801.5,909.6 801.0,909.6 800.5,910.1 800.0,910.6 799.5,909.4 799.0,908.9 798.5,907.5 798.0,907.2 797.5,907.0 797.0,907.9 796.5,908.7 796.0,909.1 795.5,908.3 795.0,907.6 794.5,906.9 794.0,906.4 793.5,905.9 793.0,906.8 792.5,906.4 792.0,907.7 791.5,907.5 791.0,907.0 790.5,907.6 790.0,907.7 789.5,909.2 789.0,910.7 788.5,908.9 788.0,907.0 787.5,905.2 787.0,905.3 786.5,905.8 786.0,906.2 785.5,907.9 785.0,912.4 784.5,916.8 784.0,921.3 783.5,925.7 783.0,930.1 782.5,925.2 782.0,920.3 781.5,915.3 781.0,910.3 780.5,905.3 780.0,903.2 779.5,903.2 779.0,904.5 778.5,904.7 778.0,904.4 777.5,903.4 777.0,902.3 776.5,902.0 776.0,902.0 775.5,901.4 775.0,900.6 774.5,901.8 774.0,904.2 773.5,906.7 773.0,904.9 772.5,905.4 772.0,904.0 771.5,902.5 771.0,903.9 770.5,902.4 770.0,900.9 769.5,899.8 769.0,900.4 768.5,899.9 768.0,899.3 767.5,899.6 767.0,900.0 766.5,899.8 766.0,900.2 765.5,900.8 765.0,901.4 764.5,899.8 764.0,897.9 763.5,895.9 763.0,894.5 762.5,892.4 762.0,893.1 761.5,893.8 761.0,895.9 760.5,898.7 760.0,901.6 759.5,901.6 759.0,897.6 758.5,893.8 758.0,892.3 757.5,895.2 757.0,894.0 756.5,890.7 756.0,888.6 755.5,887.3 755.0,885.9 754.5,884.3 754.0,883.2 753.5,882.2 753.0,880.7 752.5,879.2 752.0,878.6 751.5,878.1 751.0,877.3 750.5,874.9 750.0,873.9 749.5,873.7 749.0,873.6 748.5,872.5 748.0,871.7 747.5,869.7 747.0,870.0 746.5,868.1 746.0,864.7 745.5,863.2 745.0,860.7 744.5,857.7 744.0,857.1 743.5,856.2 743.0,853.8 742.5,849.8 742.0,848.4 741.5,846.8 741.0,846.7 740.5,845.3 740.0,842.1 739.5,838.9 739.0,838.8 738.5,835.4 738.0,833.3 737.5,831.3 737.0,830.2 736.5,829.7 736.0,829.4 735.5,829.1 735.0,826.9 734.5,825.2 734.0,826.9 733.5,829.1 733.0,830.9 732.5,827.1 732.0,823.5 731.5,819.8 731.0,819.1 730.5,819.7 730.0,820.3 729.5,821.0 729.0,821.8 728.5,820.5 728.0,819.1 727.5,818.7 727.0,819.7 726.5,823.1 726.0,826.5 725.5,830.1 725.0,828.9 724.5,827.6 724.0,828.0 723.5,827.5 723.0,826.9 722.5,827.6 722.0,830.0 721.5,832.4 721.0,834.9 720.5,836.2 720.0,841.1 719.5,843.6 719.0,841.3 718.5,841.6 718.0,842.4 717.5,843.4 717.0,845.2 716.5,847.4 716.0,850.0 715.5,852.9 715.0,855.5 714.5,857.6 714.0,859.2 713.5,858.8 713.0,858.2 712.5,858.1 712.0,860.0 711.5,861.9 711.0,863.8 710.5,863.6 710.0,863.1 709.5,862.6 709.0,863.5 708.5,864.7 708.0,865.4 707.5,865.6 707.0,865.2 706.5,865.0 706.0,865.5 705.5,865.1 705.0,866.1 704.5,868.2 704.0,870.8 703.5,875.1 703.0,881.6 702.5,880.3 702.0,875.8 701.5,874.4 701.0,876.1 700.5,879.9 700.0,882.6 699.5,879.9 699.0,880.4 698.5,884.1 698.0,887.7 697.5,890.5 697.0,887.0 696.5,883.6 696.0,880.7 695.5,879.6 695.0,878.7 694.5,879.9 694.0,882.0 693.5,885.8 693.0,889.7 692.5,886.8 692.0,883.5 691.5,880.4 691.0,881.2 690.5,881.2 690.0,880.8 689.5,881.2 689.0,879.7 688.5,878.1 688.0,878.0 687.5,879.4 687.0,882.3 686.5,885.1 686.0,882.2 685.5,878.5 685.0,879.2 684.5,879.0 684.0,878.7 683.5,878.9 683.0,882.0 682.5,879.1 682.0,876.4 681.5,877.2 681.0,878.7 680.5,880.3 680.0,880.3 679.5,881.5 679.0,882.5 678.5,882.3 678.0,883.8 677.5,884.2 677.0,884.6 676.5,883.8 676.0,882.6 675.5,881.9 675.0,882.4 674.5,881.7 674.0,881.7 673.5,881.8 673.0,882.5 672.5,883.0 672.0,882.2 671.5,882.7 671.0,883.5 670.5,884.2 670.0,884.2 669.5,883.1 669.0,882.1 668.5,882.1 668.0,882.7 667.5,883.9 667.0,884.2 666.5,882.6 666.0,880.9 665.5,879.5 665.0,880.4 664.5,881.4 664.0,880.8 663.5,880.1 663.0,880.1 662.5,880.2 662.0,880.8 661.5,881.9 661.0,883.3 660.5,884.7 660.0,885.9 659.5,885.6 659.0,884.3 658.5,882.8 658.0,881.8 657.5,882.6 657.0,882.6 656.5,880.8 656.0,879.1 655.5,877.9 655.0,877.9 654.5,878.1 654.0,878.3 653.5,877.6 653.0,878.0 652.5,876.9 652.0,875.5 651.5,874.7 651.0,874.3 650.5,874.5 650.0,877.5 649.5,880.8 649.0,877.1 648.5,876.1 648.0,874.0 647.5,872.0 647.0,871.8 646.5,870.7 646.0,869.7 645.5,868.7 645.0,867.9 644.5,867.4 644.0,866.6 643.5,865.9 643.0,864.0 642.5,863.2 642.0,861.9 641.5,862.1 641.0,861.0 640.5,859.0 640.0,859.9 639.5,861.2 639.0,862.5 638.5,863.8 638.0,862.1 637.5,858.9 637.0,855.7 636.5,853.0 636.0,852.6 635.5,854.8 635.0,857.1 634.5,859.4 634.0,859.1 633.5,854.8 633.0,850.5 632.5,846.2 632.0,842.5 631.5,840.2 631.0,839.6 630.5,838.9 630.0,838.5 629.5,836.6 629.0,836.3 628.5,834.8 628.0,834.1 627.5,832.2 627.0,831.2 626.5,830.4 626.0,828.5 625.5,827.0 625.0,826.2 624.5,827.5 624.0,828.8 623.5,830.2 623.0,827.7 622.5,824.8 622.0,823.9 621.5,822.7 621.0,823.6 620.5,824.9 620.0,825.5 619.5,824.2 619.0,823.1 618.5,823.5 618.0,823.6 617.5,825.6 617.0,827.7 616.5,828.6 616.0,832.0 615.5,835.5 615.0,838.8 614.5,839.9 614.0,837.8 613.5,835.8 613.0,833.7 612.5,831.7 612.0,832.5 611.5,834.7 611.0,836.9 610.5,837.8 610.0,837.1 609.5,837.3 609.0,838.9 608.5,840.8 608.0,846.6 607.5,847.9 607.0,843.8 606.5,839.7 606.0,843.4 605.5,849.7 605.0,856.0 604.5,855.8 604.0,852.2 603.5,849.0 603.0,851.4 602.5,852.6 602.0,853.5 601.5,856.3 601.0,855.2 600.5,854.7 600.0,856.3 599.5,857.9 599.0,857.8 598.5,857.2 598.0,856.7 597.5,856.7 597.0,858.7 596.5,860.7 596.0,861.2 595.5,860.0 595.0,859.0 594.5,860.4 594.0,861.9 593.5,863.3 593.0,863.4 592.5,863.3 592.0,863.4 591.5,864.5 591.0,864.2 590.5,865.2 590.0,865.9 589.5,867.6 589.0,867.4 588.5,867.6 588.0,868.8 587.5,869.3 587.0,871.1 586.5,872.9 586.0,874.6 585.5,874.4 585.0,873.2 584.5,872.2 584.0,877.5 583.5,883.2 583.0,881.1 582.5,877.1 582.0,876.5 581.5,876.1 581.0,877.0 580.5,879.1 580.0,881.8 579.5,884.4 579.0,883.8 578.5,882.0 578.0,883.8 577.5,884.5 577.0,883.4 576.5,882.4 576.0,881.7 575.5,881.5 575.0,883.8 574.5,885.0 574.0,885.8 573.5,886.2 573.0,887.1 572.5,887.9 572.0,889.8 571.5,889.5 571.0,889.2 570.5,889.0 570.0,890.5 569.5,892.2 569.0,893.3 568.5,892.7 568.0,891.9 567.5,891.8 567.0,892.8 566.5,893.7 566.0,895.3 565.5,898.2 565.0,901.2 564.5,900.0 564.0,897.6 563.5,899.0 563.0,903.2 562.5,907.3 562.0,911.3 561.5,915.2 561.0,911.7 560.5,908.1 560.0,904.4 559.5,900.7 559.0,897.9 558.5,896.4 558.0,895.6 557.5,894.9 557.0,895.6 556.5,896.5 556.0,898.1 555.5,899.3 555.0,898.0 554.5,899.4 554.0,900.7 553.5,900.5 553.0,899.1 552.5,898.9 552.0,898.5 551.5,897.9 551.0,897.5 550.5,898.6 550.0,899.9 549.5,900.9 549.0,901.0 548.5,901.1 548.0,902.9 547.5,904.7 547.0,905.2 546.5,905.6 546.0,904.7 545.5,903.7 545.0,902.5 544.5,901.4 544.0,903.2 543.5,905.2 543.0,907.3 542.5,909.7 542.0,909.0 541.5,907.0 541.0,905.2 540.5,903.4 540.0,903.5 539.5,904.5 539.0,906.0 538.5,907.3 538.0,908.1 537.5,906.5 537.0,904.8 536.5,908.1 536.0,911.6 535.5,912.5 535.0,908.5 534.5,904.7 534.0,901.7 533.5,902.6 533.0,902.8 532.5,903.9 532.0,905.5 531.5,907.0 531.0,908.6 530.5,907.5 530.0,905.8 529.5,904.2 529.0,904.4 528.5,904.1 528.0,905.2 527.5,907.1 527.0,907.2 526.5,905.6 526.0,904.2 525.5,903.0 525.0,901.9 524.5,901.2 524.0,902.7 523.5,902.5 523.0,903.3 522.5,902.5 522.0,903.3 521.5,904.6 521.0,906.1 520.5,907.6 520.0,906.2 519.5,905.0 519.0,906.6 518.5,908.2 518.0,908.5 517.5,906.2 517.0,905.1 516.5,906.2 516.0,905.3 515.5,904.4 515.0,903.6 514.5,903.5 514.0,902.7 513.5,903.2 513.0,903.6 512.5,905.2 512.0,905.6 511.5,905.9 511.0,906.3 510.5,908.5 510.0,907.6 509.5,907.6 509.0,907.4 508.5,907.1 508.0,907.5 507.5,908.8 507.0,908.3 506.5,908.6 506.0,908.9 505.5,908.1 505.0,907.4 504.5,906.6 504.0,907.2 503.5,910.3 503.0,913.3 502.5,916.4 502.0,919.5 501.5,917.6 501.0,914.3 500.5,911.2 500.0,908.3 499.5,906.8 499.0,908.8 498.5,911.0 498.0,913.2 497.5,915.4 497.0,915.3 496.5,914.4 496.0,913.5 495.5,912.5 495.0,912.4 494.5,911.6 494.0,912.5 493.5,914.5 493.0,915.6 492.5,914.7 492.0,915.3 491.5,915.7 491.0,919.1 490.5,919.9 490.0,915.7 489.5,914.2 489.0,912.4 488.5,910.9 488.0,911.4 487.5,911.0 487.0,910.7 486.5,911.7 486.0,912.4 485.5,914.0 485.0,915.4 484.5,916.9 484.0,918.7 483.5,919.3 483.0,917.1 482.5,914.8 482.0,912.7 481.5,910.6 481.0,911.4 480.5,910.6 480.0,912.0 479.5,910.8 479.0,911.9 478.5,913.0 478.0,914.0 477.5,913.2 477.0,911.6 476.5,911.5 476.0,913.0 475.5,910.9 475.0,911.1 474.5,913.7 474.0,916.4 473.5,914.2 473.0,912.0 472.5,910.4 472.0,910.0 471.5,911.9 471.0,913.8 470.5,915.5 470.0,917.1 469.5,917.7 469.0,915.3 468.5,913.0 468.0,910.8 467.5,908.7 467.0,908.0 466.5,908.2 466.0,907.4 465.5,907.8 465.0,908.1 464.5,909.7 464.0,912.1 463.5,914.6 463.0,916.8 462.5,914.7 462.0,912.6 461.5,911.5 461.0,912.9 460.5,914.4 460.0,914.0 459.5,913.0 459.0,912.5 458.5,912.1 458.0,911.7 457.5,911.7 457.0,912.7 456.5,913.1 456.0,913.5 455.5,912.5 455.0,911.3 454.5,910.5 454.0,910.6 453.5,910.3 453.0,909.9 452.5,908.9 452.0,909.1 451.5,909.8 451.0,910.0 450.5,912.2 450.0,914.5 449.5,916.8 449.0,920.1 448.5,918.4 448.0,915.2 447.5,914.0 447.0,914.6 446.5,916.3 446.0,918.1 445.5,918.4 445.0,917.0 444.5,915.6 444.0,914.2 443.5,917.3 443.0,920.4 442.5,920.1 442.0,917.4 441.5,918.5 441.0,920.3 440.5,920.7 440.0,918.7 439.5,916.6 439.0,914.5 438.5,913.5 438.0,916.0 437.5,918.6 437.0,921.2 436.5,923.8 436.0,924.3 435.5,921.4 435.0,918.5 434.5,915.7 434.0,912.9 433.5,912.0 433.0,912.7 432.5,912.5 432.0,912.8 431.5,913.0 431.0,912.7 430.5,913.7 430.0,914.7 429.5,915.9 429.0,917.6 428.5,917.6 428.0,919.8 427.5,918.3 427.0,917.1 426.5,916.5 426.0,918.3 425.5,920.2 425.0,920.5 424.5,918.7 424.0,916.8 423.5,915.3 423.0,915.8 422.5,914.8 422.0,914.1 421.5,913.6 421.0,914.3 420.5,913.7 420.0,915.0 419.5,918.1 419.0,921.3 418.5,918.8 418.0,917.3 417.5,915.8 417.0,917.7 416.5,920.0 416.0,922.2 415.5,924.3 415.0,926.4 414.5,923.3 414.0,920.2 413.5,917.1 413.0,915.7 412.5,913.9 412.0,912.2 411.5,910.4 411.0,910.3 410.5,911.0 410.0,911.6 409.5,912.3 409.0,911.4 408.5,910.1 408.0,909.5 407.5,909.8 407.0,908.9 406.5,908.1 406.0,908.8 405.5,908.9 405.0,909.3 404.5,910.1 404.0,910.2 403.5,909.2 403.0,908.4 402.5,907.8 402.0,908.5 401.5,909.3 401.0,910.1 400.5,909.4 400.0,908.8 399.5,908.0 399.0,908.6 398.5,910.0 398.0,910.4 397.5,911.6 397.0,911.4 396.5,910.2 396.0,909.2 395.5,909.0 395.0,908.4 394.5,908.9 394.0,907.4 393.5,909.3 393.0,912.0 392.5,914.7 392.0,912.9 391.5,910.2 391.0,907.9 390.5,907.1 390.0,907.0 389.5,908.8 389.0,910.6 388.5,912.4 388.0,914.4 387.5,912.5 387.0,915.0 386.5,917.9 386.0,920.9 385.5,918.0 385.0,915.1 384.5,912.2 384.0,911.3 383.5,913.6 383.0,914.7 382.5,912.8 382.0,911.0 381.5,909.2 381.0,911.5 380.5,914.4 380.0,912.8 379.5,910.1 379.0,911.2 378.5,910.6 378.0,909.3 377.5,908.0 377.0,909.2 376.5,910.5 376.0,909.4 375.5,910.7 375.0,909.9 374.5,908.5 374.0,908.1 373.5,908.0 373.0,907.9 372.5,907.2 372.0,907.5 371.5,908.2 371.0,908.6 370.5,908.3 370.0,909.1 369.5,909.0 369.0,910.5 368.5,913.2 368.0,915.5 367.5,913.2 367.0,910.9 366.5,912.0 366.0,913.2 365.5,914.3 365.0,914.2 364.5,913.0 364.0,912.6 363.5,913.9 363.0,913.0 362.5,911.2 362.0,909.6 361.5,909.6 361.0,912.0 360.5,914.5 360.0,917.0 359.5,919.5 359.0,919.9 358.5,917.7 358.0,915.5 357.5,913.6 357.0,913.7 356.5,911.3 356.0,910.8 355.5,910.2 355.0,909.7 354.5,910.5 354.0,911.1 353.5,912.2 353.0,913.3 352.5,913.1 352.0,911.7 351.5,910.3 351.0,909.9 350.5,909.3 350.0,908.7 349.5,908.7 349.0,908.2 348.5,908.1 348.0,909.8 347.5,908.2 347.0,910.4 346.5,909.1 346.0,909.6 345.5,909.6 345.0,910.9 344.5,912.6 344.0,912.4 343.5,910.6 343.0,911.9 342.5,912.2 342.0,911.0 341.5,909.8 341.0,910.4 340.5,910.5 340.0,911.5 339.5,912.6 339.0,913.8 338.5,913.2 338.0,912.5 337.5,913.4 337.0,914.2 336.5,914.7 336.0,913.9 335.5,913.4 335.0,912.7 334.5,912.1 334.0,911.7 333.5,913.0 333.0,910.5 332.5,911.4 332.0,912.2 331.5,912.9 331.0,913.5 330.5,913.0 330.0,911.3 329.5,911.6 329.0,913.4 328.5,913.2 328.0,911.8 327.5,910.2 327.0,908.7 326.5,907.9 326.0,909.1 325.5,912.4 325.0,915.7 324.5,917.6 324.0,915.1 323.5,912.4 323.0,911.2 322.5,911.3 322.0,911.2 321.5,909.6 321.0,908.4 320.5,908.6 320.0,908.8 319.5,909.9 319.0,912.2 318.5,914.7 318.0,917.3 317.5,916.5 317.0,918.3 316.5,917.1 316.0,914.9 315.5,912.6 315.0,911.0 314.5,913.2 314.0,915.4 313.5,917.6 313.0,919.9 312.5,917.7 312.0,915.6 311.5,913.5 311.0,912.6 310.5,914.1 310.0,914.2 309.5,913.1 309.0,912.0 308.5,911.4 308.0,912.3 307.5,911.3 307.0,910.2 306.5,909.6 306.0,910.0 305.5,910.1 305.0,910.3 304.5,909.9 304.0,909.7 303.5,909.2 303.0,910.5 302.5,909.9 302.0,910.9 301.5,911.8 301.0,912.8 300.5,913.9 300.0,913.4 299.5,915.9 299.0,914.4 298.5,913.5 298.0,915.1 297.5,916.6 297.0,917.7 296.5,915.9 296.0,914.0 295.5,913.4 295.0,912.6 294.5,912.0 294.0,910.9 293.5,911.4 293.0,912.3 292.5,911.1 292.0,910.1 291.5,910.9 291.0,911.7 290.5,911.1 290.0,910.2 289.5,909.5 289.0,910.7 288.5,912.0 288.0,912.0 287.5,911.4 287.0,910.9 286.5,911.0 286.0,911.3 285.5,911.1 285.0,910.9 284.5,910.3 284.0,909.9 283.5,910.1 283.0,910.2 282.5,909.2 282.0,908.3 281.5,909.0 281.0,910.4 280.5,911.9 280.0,911.1 279.5,909.2 279.0,907.5 278.5,907.3 278.0,907.3 277.5,908.9 277.0,911.1 276.5,913.2 276.0,912.7 275.5,911.1 275.0,912.1 274.5,911.2 274.0,912.8 273.5,914.8 273.0,915.5 272.5,913.6 272.0,911.8 271.5,910.0 271.0,910.3 270.5,911.6 270.0,911.1 269.5,910.8 269.0,911.5 268.5,913.5 268.0,915.2 267.5,912.6 267.0,911.6 266.5,910.5 266.0,909.6 265.5,909.6 265.0,910.4 264.5,911.9 264.0,913.4 263.5,914.7 263.0,913.2 262.5,911.7 262.0,910.2 261.5,908.7 261.0,907.8 260.5,909.1 260.0,908.4 259.5,907.5 259.0,908.2 258.5,907.8 258.0,908.6 257.5,908.9 257.0,909.4 256.5,910.8 256.0,912.2 255.5,913.7 255.0,914.4 254.5,913.0 254.0,911.6 253.5,910.2 253.0,909.1 252.5,908.8 252.0,908.7 251.5,909.9 251.0,911.1 250.5,911.9 250.0,910.9 249.5,911.7 249.0,914.8 248.5,917.9 248.0,916.2 247.5,912.4 247.0,911.6 246.5,909.7 246.0,909.7 245.5,907.9 245.0,906.2 244.5,905.2 244.0,906.5 243.5,907.3 243.0,906.0 242.5,905.6 242.0,906.8 241.5,909.0 241.0,911.6 240.5,913.6 240.0,915.3 239.5,911.8 239.0,909.9 238.5,911.7 238.0,913.5 237.5,912.0 237.0,910.5 236.5,909.0 236.0,909.4 235.5,910.9 235.0,912.3 234.5,912.3 234.0,912.2 233.5,916.0 233.0,920.5 232.5,917.2 232.0,912.9 231.5,908.6 231.0,908.5 230.5,910.0 230.0,911.5 229.5,912.9 229.0,911.6 228.5,910.4 228.0,909.0 227.5,908.3 227.0,908.8 226.5,909.1 226.0,911.2 225.5,914.2 225.0,917.2 224.5,918.1 224.0,915.0 223.5,912.0 223.0,911.1 222.5,908.9 222.0,910.3 221.5,911.9 221.0,913.2 220.5,911.8 220.0,910.3 219.5,908.8 219.0,909.9 218.5,911.0 218.0,911.4 217.5,913.3 217.0,915.1 216.5,914.7 216.0,912.7 215.5,910.7 215.0,908.8 214.5,906.8 214.0,907.6 213.5,908.5 213.0,907.9 212.5,907.1 212.0,906.8 211.5,907.9 211.0,908.8 210.5,909.5 210.0,908.2 209.5,906.7 209.0,905.3 208.5,905.1 208.0,903.9 207.5,903.7 207.0,903.3 206.5,903.0 206.0,902.0 205.5,901.1 205.0,900.5 204.5,899.8 204.0,898.6 203.5,897.6 203.0,896.2 202.5,894.6 202.0,892.8 201.5,890.8 201.0,888.2 200.5,885.4 200.0,882.1 199.5,878.5 199.0,874.4 198.5,869.9 198.0,865.0 197.5,859.8 197.0,854.5 196.5,849.1 196.0,844.0 195.5,839.5 195.0,835.9 194.5,833.6 194.0,832.8 193.5,833.6 193.0,835.9 192.5,839.5 192.0,844.0 191.5,849.1 191.0,854.4 190.5,859.7 190.0,864.9 189.5,869.7 189.0,874.1 188.5,878.2 188.0,881.8 187.5,885.0 187.0,887.7 186.5,890.4 186.0,892.5 185.5,894.6 185.0,896.3 184.5,897.7 184.0,898.8 183.5,900.3 183.0,902.2 182.5,904.1 182.0,906.2 181.5,906.8 181.0,906.3 180.5,905.5 180.0,904.5 179.5,903.3 179.0,903.2 178.5,904.7 178.0,906.3 177.5,907.9 177.0,909.4 176.5,912.5 176.0,915.6 175.5,918.7 175.0,921.8 174.5,918.9 174.0,916.0 173.5,913.0 173.0,909.9 172.5,906.8 172.0,906.6 171.5,906.0 171.0,908.4 170.5,911.8 170.0,915.2 169.5,917.9 169.0,914.5 168.5,911.0 168.0,907.6 167.5,904.7 167.0,905.0 166.5,905.3 166.0,907.2 165.5,909.5 165.0,909.0 164.5,906.7 164.0,905.4 163.5,905.3 163.0,905.1 162.5,905.7 162.0,905.3 161.5,907.2 161.0,909.0 160.5,910.8 160.0,912.7 159.5,912.9 159.0,911.2 158.5,909.4 158.0,907.6 157.5,905.7 157.0,904.7 156.5,904.8 156.0,904.9 155.5,904.5 155.0,904.5 154.5,904.5 154.0,906.3 153.5,908.2 153.0,907.5 152.5,905.6 152.0,906.9 151.5,907.6 151.0,906.2 150.5,905.4 150.0,907.0 149.5,908.6 149.0,909.2 148.5,907.8 148.0,906.4 147.5,906.7 147.0,907.0 146.5,906.2 146.0,905.3 145.5,906.6 145.0,908.1 144.5,908.8 144.0,907.4 143.5,906.5 143.0,905.2 142.5,905.0 142.0,904.6 141.5,905.5 141.0,904.8 140.5,905.0 140.0,905.7 139.5,904.9 139.0,906.4 138.5,910.2 138.0,910.4 137.5,905.9 137.0,903.4 136.5,903.6 136.0,901.3 135.5,902.1 135.0,901.6 134.5,904.5 134.0,907.4 133.5,910.4 133.0,911.8 132.5,909.0 132.0,906.2 131.5,904.0 131.0,904.8 130.5,903.9 130.0,903.2 129.5,902.7 129.0,902.4 128.5,903.0 128.0,904.1 127.5,905.5 127.0,907.0 126.5,907.8 126.0,906.6 125.5,905.3 125.0,910.1 124.5,915.4 124.0,911.8 123.5,911.1 123.0,914.4 122.5,917.2 122.0,913.7 121.5,910.1 121.0,906.6 120.5,903.5 120.0,904.4 119.5,905.5 119.0,905.4 118.5,904.7 118.0,904.0 117.5,904.1 117.0,903.7 116.5,904.2 116.0,904.6 115.5,904.0 115.0,905.5 114.5,907.7 114.0,905.0 113.5,902.1 113.0,902.8 112.5,904.4 112.0,906.1 111.5,906.6 111.0,904.9 110.5,903.3 110.0,903.4 109.5,905.4 109.0,907.3 108.5,908.7 108.0,906.9 107.5,905.1 107.0,903.5 106.5,903.0 106.0,904.6 105.5,906.2 105.0,907.8 104.5,907.1 104.0,906.0 103.5,904.8 103.0,904.9 102.5,904.2 102.0,905.0 101.5,907.0 101.0,909.1 100.5,907.1 100.0,906.3 99.5,904.3 99.0,904.3 98.5,905.3 98.0,905.2 97.5,905.4 97.0,905.5 96.5,904.2 96.0,903.5 95.5,902.0 95.0,901.8 94.5,901.4 94.0,901.0 93.5,901.9 93.0,902.9 92.5,904.0 92.0,904.0 91.5,903.1 91.0,902.6 90.5,904.1 90.0,903.6 89.5,903.4 89.0,903.2 88.5,902.5 88.0,901.9 87.5,901.9 87.0,903.1 86.5,905.9 86.0,909.8 85.5,913.6 85.0,917.5 84.5,915.6 84.0,912.5 83.5,909.4 83.0,906.3 82.5,906.5 82.0,908.1 81.5,909.5 81.0,908.3 80.5,907.1 80.0,907.8 79.5,906.3 79.0,905.2 78.5,905.4 78.0,904.4 77.5,903.2 77.0,902.8 76.5,906.0 76.0,909.4 75.5,907.6 75.0,904.2 74.5,903.9 74.0,903.4 73.5,902.9 73.0,903.1 72.5,903.8 72.0,904.3 71.5,903.3 71.0,903.0 70.5,903.5"/><polyline points="70.5,899.0 71.0,898.8 71.5,898.6 72.0,898.3 72.5,898.0 73.0,897.6 73.5,897.3 74.0,897.0 74.5,896.8 75.0,896.7 75.5,896.7 76.0,896.7 76.5,896.9 77.0,897.2 77.5,897.6 78.0,898.1 78.5,898.6 79.0,899.2 79.5,899.7 80.0,900.1 80.5,900.5 81.0,900.7 81.5,900.8 82.0,900.8 82.5,900.7 83.0,900.5 83.5,900.2 84.0,899.8 84.5,899.4 85.0,899.0 85.5,898.6 86.0,898.2 86.5,897.8 87.0,897.4 87.5,897.1 88.0,896.8 88.5,896.7 89.0,896.5 89.5,896.5 90.0,896.4 90.5,896.4 91.0,896.3 91.5,896.1 92.0,896.0 92.5,895.8 93.0,895.7 93.5,895.7 94.0,895.8 94.5,896.0 95.0,896.2 95.5,896.5 96.0,896.7 96.5,897.0 97.0,897.1 97.5,897.2 98.0,897.3 98.5,897.3 99.0,897.2 99.5,897.2 100.0,897.2 100.5,897.3 101.0,897.4 101.5,897.6 102.0,897.9 102.5,898.1 103.0,898.4 103.5,898.5 104.0,898.5 104.5,898.3 105.0,898.1 105.5,897.7 106.0,897.3 106.5,896.9 107.0,896.5 107.5,896.2 108.0,896.1 108.5,896.0 109.0,895.9 109.5,895.9 110.0,895.9 110.5,895.9 111.0,895.9 111.5,895.9 112.0,895.9 112.5,895.8 113.0,895.9 113.5,896.0 114.0,896.3 114.5,896.6 115.0,897.0 115.5,897.5 116.0,897.9 116.5,898.2 117.0,898.4 117.5,898.4 118.0,898.3 118.5,898.1 119.0,897.9 119.5,897.7 120.0,897.6 120.5,897.6 121.0,897.6 121.5,897.8 122.0,898.0 122.5,898.2 123.0,898.4 123.5,898.4 124.0,898.5 124.5,898.4 125.0,898.3 125.5,898.1 126.0,897.9 126.5,897.8 127.0,897.6 127.5,897.6 128.0,897.5 128.5,897.5 129.0,897.6 129.5,897.7 130.0,897.7 130.5,897.8 131.0,897.8 131.5,897.8 132.0,897.8 132.5,897.7 133.0,897.6 133.5,897.5 134.0,897.4 134.5,897.4 135.0,897.3 135.5,897.3 136.0,897.4 136.5,897.5 137.0,897.7 137.5,897.9 138.0,898.2 138.5,898.6 139.0,898.9 139.5,899.2 140.0,899.5 140.5,899.7 141.0,899.9 141.5,899.9 142.0,900.0 142.5,899.9 143.0,899.9 143.5,899.9 144.0,899.9 144.5,899.9 145.0,899.9 145.5,899.8 146.0,899.8 146.5,899.6 147.0,899.5 147.5,899.3 148.0,899.1 148.5,898.9 149.0,898.8 149.5,898.7 150.0,898.6 150.5,898.6 151.0,898.7 151.5,898.7 152.0,898.8 152.5,898.8 153.0,898.9 153.5,899.0 154.0,899.2 154.5,899.5 155.0,899.8 155.5,900.2 156.0,900.5 156.5,900.9 157.0,901.2 157.5,901.4 158.0,901.5 158.5,901.6 159.0,901.5 159.5,901.5 160.0,901.4 160.5,901.3 161.0,901.2 161.5,901.1 162.0,901.0 162.5,900.9 163.0,900.8 163.5,900.7 164.0,900.7 164.5,900.6 165.0,900.6 165.5,900.6 166.0,900.6 166.5,900.6 167.0,900.6 167.5,900.5 168.0,900.4 168.5,900.3 169.0,900.3 169.5,900.3 170.0,900.3 170.5,900.4 171.0,900.6 171.5,900.9 172.0,901.1 172.5,901.4 173.0,901.5 173.5,901.6 174.0,901.6 174.5,901.5 175.0,901.4 175.5,901.3 176.0,901.2 176.5,901.1 177.0,901.0 177.5,900.8 178.0,900.7 178.5,900.5 179.0,900.2 179.5,899.9 180.0,899.6 180.5,899.3 181.0,899.0 181.5,898.7 182.0,898.3 182.5,897.8 183.0,897.2 183.5,896.4 184.0,895.4 184.5,894.3 185.0,893.0 185.5,891.4 186.0,889.7 186.5,887.7 187.0,885.3 187.5,882.6 188.0,879.4 188.5,875.8 189.0,871.7 189.5,867.3 190.0,862.5 190.5,857.3 191.0,852.0 191.5,846.7 192.0,841.6 192.5,837.1 193.0,833.5 193.5,831.2 194.0,830.4 194.5,831.2 195.0,833.5 195.5,837.1 196.0,841.6 196.5,846.7 197.0,852.1 197.5,857.4 198.0,862.6 198.5,867.5 199.0,872.0 199.5,876.1 200.0,879.7 200.5,883.0 201.0,885.8 201.5,888.2 202.0,890.2 202.5,892.0 203.0,893.4 203.5,894.7 204.0,895.8 204.5,896.7 205.0,897.4 205.5,898.1 206.0,898.7 206.5,899.2 207.0,899.7 207.5,900.2 208.0,900.6 208.5,900.9 209.0,901.2 209.5,901.5 210.0,901.7 210.5,901.8 211.0,902.0 211.5,902.1 212.0,902.3 212.5,902.4 213.0,902.5 213.5,902.6 214.0,902.7 214.5,902.7 215.0,902.7 215.5,902.7 216.0,902.7 216.5,902.8 217.0,902.8 217.5,902.9 218.0,902.9 218.5,903.0 219.0,903.0 219.5,903.0 220.0,903.0 220.5,902.9 221.0,902.8 221.5,902.8 222.0,902.7 222.5,902.7 223.0,902.7 223.5,902.7 224.0,902.7 224.5,902.7 225.0,902.8 225.5,902.8 226.0,902.9 226.5,902.9 227.0,903.0 227.5,903.0 228.0,903.0 228.5,903.0 229.0,903.0 229.5,902.9 230.0,902.8 230.5,902.6 231.0,902.4 231.5,902.2 232.0,902.0 232.5,901.9 233.0,901.8 233.5,901.8 234.0,901.8 234.5,901.8 235.0,901.9 235.5,901.8 236.0,901.7 236.5,901.6 237.0,901.4 237.5,901.2 238.0,901.1 238.5,901.0 239.0,900.9 239.5,900.8 240.0,900.8 240.5,900.7 241.0,900.6 241.5,900.5 242.0,900.4 242.5,900.3 243.0,900.2 243.5,900.2 244.0,900.3 244.5,900.4 245.0,900.6 245.5,900.9 246.0,901.2 246.5,901.6 247.0,902.0 247.5,902.4 248.0,902.8 248.5,903.2 249.0,903.5 249.5,903.8 250.0,904.0 250.5,904.2 251.0,904.2 251.5,904.2 252.0,904.2 252.5,904.2 253.0,904.1 253.5,904.0 254.0,903.9 254.5,903.9 255.0,903.9 255.5,903.9 256.0,903.9 256.5,903.9 257.0,904.0 257.5,904.0 258.0,904.1 258.5,904.1 259.0,904.1 259.5,904.1 260.0,904.1 260.5,904.0 261.0,904.0 261.5,903.8 262.0,903.7 262.5,903.6 263.0,903.5 263.5,903.4 264.0,903.4 264.5,903.5 265.0,903.6 265.5,903.8 266.0,904.0 266.5,904.3 267.0,904.6 267.5,904.9 268.0,905.1 268.5,905.4 269.0,905.6 269.5,905.7 270.0,905.8 270.5,905.7 271.0,905.6 271.5,905.4 272.0,905.2 272.5,905.0 273.0,904.8 273.5,904.7 274.0,904.7 274.5,904.7 275.0,904.7 275.5,904.6 276.0,904.5 276.5,904.2 277.0,903.8 277.5,903.4 278.0,902.9 278.5,902.5 279.0,902.1 279.5,901.9 280.0,901.9 280.5,902.1 281.0,902.4 281.5,903.0 282.0,903.6 282.5,904.2 283.0,904.9 283.5,905.4 284.0,905.9 284.5,906.2 285.0,906.4 285.5,906.5 286.0,906.5 286.5,906.3 287.0,906.0 287.5,905.7 288.0,905.3 288.5,904.9 289.0,904.5 289.5,904.2 290.0,904.0 290.5,903.8 291.0,903.8 291.5,903.9 292.0,904.0 292.5,904.2 293.0,904.4 293.5,904.7 294.0,905.0 294.5,905.2 295.0,905.5 295.5,905.7 296.0,905.8 296.5,905.9 297.0,905.9 297.5,905.7 298.0,905.5 298.5,905.3 299.0,904.9 299.5,904.7 300.0,904.5 300.5,904.4 301.0,904.4 301.5,904.6 302.0,904.8 302.5,905.0 303.0,905.2 303.5,905.3 304.0,905.4 304.5,905.3 305.0,905.3 305.5,905.2 306.0,905.2 306.5,905.2 307.0,905.2 307.5,905.3 308.0,905.4 308.5,905.4 309.0,905.4 309.5,905.3 310.0,905.0 310.5,904.8 311.0,904.4 311.5,904.1 312.0,903.8 312.5,903.6 313.0,903.5 313.5,903.5 314.0,903.6 314.5,903.8 315.0,903.9 315.5,904.0 316.0,904.0 316.5,903.8 317.0,903.6 317.5,903.3 318.0,903.0 318.5,902.7 319.0,902.5 319.5,902.5 320.0,902.7 320.5,903.1 321.0,903.6 321.5,904.3 322.0,905.0 322.5,905.6 323.0,906.0 323.5,906.2 324.0,906.2 324.5,905.9 325.0,905.5 325.5,905.0 326.0,904.5 326.5,904.0 327.0,903.5 327.5,903.2 328.0,903.0 328.5,902.9 329.0,903.1 329.5,903.3 330.0,903.7 330.5,904.3 331.0,904.8 331.5,905.4 332.0,905.9 332.5,906.4 333.0,906.7 333.5,907.0 334.0,907.2 334.5,907.3 335.0,907.5 335.5,907.6 336.0,907.6 336.5,907.6 337.0,907.5 337.5,907.4 338.0,907.2 338.5,906.9 339.0,906.6 339.5,906.3 340.0,906.1 340.5,905.9 341.0,905.6 341.5,905.4 342.0,905.3 342.5,905.1 343.0,905.0 343.5,904.9 344.0,904.9 344.5,904.9 345.0,905.0 345.5,905.0 346.0,905.0 346.5,905.0 347.0,905.0 347.5,905.0 348.0,904.9 348.5,904.8 349.0,904.6 349.5,904.5 350.0,904.4 350.5,904.4 351.0,904.5 351.5,904.6 352.0,904.8 352.5,905.0 353.0,905.1 353.5,905.3 354.0,905.4 354.5,905.5 355.0,905.5 355.5,905.5 356.0,905.6 356.5,905.7 357.0,905.8 357.5,905.9 358.0,906.0 358.5,906.1 359.0,906.0 359.5,905.9 360.0,905.6 360.5,905.4 361.0,905.1 361.5,904.9 362.0,904.8 362.5,904.9 363.0,905.1 363.5,905.3 364.0,905.6 364.5,905.9 365.0,906.1 365.5,906.1 366.0,906.0 366.5,905.8 367.0,905.6 367.5,905.3 368.0,905.1 368.5,904.8 369.0,904.6 369.5,904.4 370.0,904.2 370.5,904.0 371.0,903.8 371.5,903.6 372.0,903.4 372.5,903.2 373.0,903.0 373.5,902.8 374.0,902.6 374.5,902.5 375.0,902.4 375.5,902.3 376.0,902.3 376.5,902.3 377.0,902.3 377.5,902.4 378.0,902.5 378.5,902.6 379.0,902.6 379.5,902.6 380.0,902.5 380.5,902.4 381.0,902.2 381.5,902.0 382.0,901.8 382.5,901.6 383.0,901.3 383.5,901.1 384.0,901.0 384.5,900.8 385.0,900.7 385.5,900.6 386.0,900.5 386.5,900.5 387.0,900.6 387.5,900.7 388.0,901.0 388.5,901.3 389.0,901.8 389.5,902.3 390.0,902.8 390.5,903.3 391.0,903.7 391.5,904.0 392.0,904.1 392.5,904.1 393.0,904.0 393.5,903.8 394.0,903.7 394.5,903.5 395.0,903.3 395.5,903.2 396.0,903.2 396.5,903.1 397.0,903.1 397.5,903.2 398.0,903.2 398.5,903.3 399.0,903.3 399.5,903.4 400.0,903.4 400.5,903.4 401.0,903.3 401.5,903.2 402.0,903.1 402.5,903.1 403.0,903.0 403.5,903.0 404.0,903.1 404.5,903.1 405.0,903.2 405.5,903.2 406.0,903.2 406.5,903.2 407.0,903.2 407.5,903.2 408.0,903.3 408.5,903.4 409.0,903.6 409.5,903.9 410.0,904.2 410.5,904.6 411.0,905.0 411.5,905.3 412.0,905.7 412.5,906.0 413.0,906.3 413.5,906.7 414.0,907.1 414.5,907.5 415.0,908.0 415.5,908.6 416.0,909.1 416.5,909.6 417.0,910.0 417.5,910.3 418.0,910.5 418.5,910.5 419.0,910.4 419.5,910.2 420.0,910.0 420.5,909.7 421.0,909.5 421.5,909.4 422.0,909.4 422.5,909.4 423.0,909.5 423.5,909.7 424.0,909.8 424.5,909.8 425.0,909.8 425.5,909.8 426.0,909.8 426.5,909.8 427.0,909.8 427.5,909.8 428.0,909.8 428.5,909.7 429.0,909.7 429.5,909.6 430.0,909.4 430.5,909.1 431.0,908.7 431.5,908.3 432.0,908.0 432.5,907.6 433.0,907.4 433.5,907.2 434.0,907.1 434.5,907.1 435.0,907.2 435.5,907.3 436.0,907.4 436.5,907.5 437.0,907.7 437.5,907.9 438.0,908.1 438.5,908.4 439.0,908.7 439.5,908.9 440.0,909.1 440.5,909.3 441.0,909.4 441.5,909.5 442.0,909.5 442.5,909.4 443.0,909.3 443.5,909.2 444.0,909.1 444.5,908.9 445.0,908.7 445.5,908.6 446.0,908.4 446.5,908.2 447.0,908.0 447.5,907.8 448.0,907.5 448.5,907.2 449.0,906.8 449.5,906.5 450.0,906.2 450.5,905.9 451.0,905.7 451.5,905.5 452.0,905.5 452.5,905.6 453.0,905.8 453.5,906.1 454.0,906.4 454.5,906.7 455.0,907.0 455.5,907.2 456.0,907.3 456.5,907.3 457.0,907.2 457.5,907.1 458.0,906.9 458.5,906.7 459.0,906.5 459.5,906.2 460.0,906.0 460.5,905.7 461.0,905.5 461.5,905.2 462.0,905.0 462.5,904.9 463.0,904.7 463.5,904.6 464.0,904.4 464.5,904.2 465.0,903.9 465.5,903.7 466.0,903.5 466.5,903.3 467.0,903.2 467.5,903.3 468.0,903.4 468.5,903.6 469.0,904.0 469.5,904.3 470.0,904.7 470.5,905.1 471.0,905.4 471.5,905.5 472.0,905.5 472.5,905.4 473.0,905.1 473.5,904.8 474.0,904.5 474.5,904.3 475.0,904.1 475.5,904.1 476.0,904.3 476.5,904.5 477.0,904.8 477.5,905.1 478.0,905.4 478.5,905.7 479.0,905.9 479.5,906.1 480.0,906.2 480.5,906.3 481.0,906.4 481.5,906.5 482.0,906.6 482.5,906.8 483.0,907.0 483.5,907.3 484.0,907.5 484.5,907.6 485.0,907.7 485.5,907.5 486.0,907.3 486.5,906.9 487.0,906.5 487.5,906.1 488.0,905.8 488.5,905.6 489.0,905.6 489.5,905.8 490.0,906.1 490.5,906.5 491.0,906.9 491.5,907.3 492.0,907.6 492.5,907.8 493.0,907.9 493.5,907.9 494.0,907.8 494.5,907.6 495.0,907.4 495.5,907.0 496.0,906.6 496.5,906.1 497.0,905.4 497.5,904.8 498.0,904.0 498.5,903.3 499.0,902.6 499.5,902.0 500.0,901.6 500.5,901.2 501.0,901.0 501.5,901.0 502.0,901.0 502.5,901.2 503.0,901.4 503.5,901.6 504.0,901.9 504.5,902.1 505.0,902.4 505.5,902.6 506.0,902.8 506.5,903.0 507.0,903.2 507.5,903.4 508.0,903.5 508.5,903.5 509.0,903.5 509.5,903.2 510.0,902.8 510.5,902.4 511.0,901.8 511.5,901.2 512.0,900.6 512.5,900.0 513.0,899.5 513.5,899.0 514.0,898.6 514.5,898.3 515.0,898.0 515.5,897.7 516.0,897.6 516.5,897.5 517.0,897.6 517.5,897.8 518.0,898.0 518.5,898.4 519.0,898.7 519.5,899.1 520.0,899.3 520.5,899.4 521.0,899.3 521.5,899.2 522.0,899.0 522.5,898.7 523.0,898.5 523.5,898.2 524.0,898.1 524.5,897.9 525.0,897.9 525.5,897.8 526.0,897.7 526.5,897.6 527.0,897.5 527.5,897.3 528.0,897.1 528.5,897.0 529.0,896.8 529.5,896.6 530.0,896.6 530.5,896.6 531.0,896.7 531.5,896.7 532.0,896.8 532.5,896.9 533.0,897.0 533.5,897.0 534.0,897.0 534.5,897.1 535.0,897.2 535.5,897.3 536.0,897.5 536.5,897.8 537.0,898.2 537.5,898.5 538.0,898.8 538.5,898.9 539.0,898.8 539.5,898.5 540.0,898.0 540.5,897.5 541.0,896.8 541.5,896.3 542.0,895.8 542.5,895.6 543.0,895.7 543.5,895.9 544.0,896.3 544.5,896.8 545.0,897.2 545.5,897.6 546.0,897.7 546.5,897.8 547.0,897.6 547.5,897.3 548.0,896.8 548.5,896.3 549.0,895.6 549.5,895.0 550.0,894.2 550.5,893.5 551.0,892.8 551.5,892.2 552.0,891.7 552.5,891.4 553.0,891.3 553.5,891.3 554.0,891.4 554.5,891.5 555.0,891.5 555.5,891.5 556.0,891.3 556.5,891.2 557.0,891.0 557.5,890.9 558.0,890.8 558.5,890.8 559.0,890.9 559.5,891.0 560.0,891.0 560.5,891.0 561.0,891.0 561.5,890.8 562.0,890.5 562.5,890.2 563.0,889.8 563.5,889.3 564.0,888.9 564.5,888.5 565.0,888.2 565.5,888.0 566.0,887.8 566.5,887.7 567.0,887.5 567.5,887.3 568.0,887.0 568.5,886.6 569.0,886.2 569.5,885.6 570.0,885.0 570.5,884.3 571.0,883.5 571.5,882.7 572.0,881.9 572.5,881.0 573.0,880.2 573.5,879.5 574.0,878.7 574.5,878.1 575.0,877.5 575.5,877.0 576.0,876.5 576.5,876.0 577.0,875.6 577.5,875.1 578.0,874.7 578.5,874.4 579.0,874.0 579.5,873.5 580.0,873.1 580.5,872.5 581.0,871.9 581.5,871.1 582.0,870.3 582.5,869.4 583.0,868.5 583.5,867.6 584.0,866.9 584.5,866.3 585.0,865.7 585.5,865.4 586.0,865.1 586.5,864.8 587.0,864.6 587.5,864.3 588.0,863.9 588.5,863.5 589.0,863.0 589.5,862.4 590.0,861.7 590.5,861.0 591.0,860.3 591.5,859.5 592.0,858.8 592.5,858.1 593.0,857.4 593.5,856.7 594.0,856.0 594.5,855.4 595.0,854.8 595.5,854.2 596.0,853.7 596.5,853.2 597.0,852.8 597.5,852.4 598.0,852.1 598.5,851.7 599.0,851.3 599.5,850.8 600.0,850.2 600.5,849.5 601.0,848.6 601.5,847.6 602.0,846.5 602.5,845.3 603.0,844.0 603.5,842.6 604.0,841.2 604.5,839.9 605.0,838.5 605.5,837.3 606.0,836.1 606.5,835.0 607.0,834.0 607.5,833.1 608.0,832.2 608.5,831.5 609.0,830.8 609.5,830.0 610.0,829.3 610.5,828.6 611.0,827.8 611.5,827.1 612.0,826.3 612.5,825.5 613.0,824.8 613.5,824.0 614.0,823.4 614.5,822.7 615.0,822.1 615.5,821.5 616.0,820.9 616.5,820.2 617.0,819.4 617.5,818.7 618.0,818.0 618.5,817.4 619.0,816.9 619.5,816.7 620.0,816.5 620.5,816.5 621.0,816.7 621.5,817.0 622.0,817.4 622.5,817.9 623.0,818.6 623.5,819.3 624.0,820.1 624.5,821.0 625.0,821.9 625.5,823.0 626.0,824.2 626.5,825.5 627.0,826.8 627.5,828.2 628.0,829.4 628.5,830.6 629.0,831.8 629.5,832.8 630.0,833.7 630.5,834.7 631.0,835.6 631.5,836.5 632.0,837.4 632.5,838.4 633.0,839.3 633.5,840.3 634.0,841.3 634.5,842.3 635.0,843.3 635.5,844.4 636.0,845.5 636.5,846.7 637.0,847.8 637.5,848.9 638.0,850.0 638.5,850.9 639.0,851.8 639.5,852.7 640.0,853.5 640.5,854.4 641.0,855.4 641.5,856.5 642.0,857.7 642.5,858.9 643.0,860.2 643.5,861.4 644.0,862.5 644.5,863.4 645.0,864.2 645.5,864.9 646.0,865.4 646.5,865.9 647.0,866.3 647.5,866.7 648.0,867.0 648.5,867.4 649.0,867.7 649.5,868.1 650.0,868.4 650.5,868.9 651.0,869.3 651.5,869.8 652.0,870.4 652.5,870.9 653.0,871.5 653.5,872.0 654.0,872.5 654.5,873.0 655.0,873.4 655.5,873.9 656.0,874.4 656.5,874.9 657.0,875.4 657.5,875.9 658.0,876.4 658.5,876.7 659.0,877.0 659.5,877.2 660.0,877.2 660.5,877.1 661.0,876.9 661.5,876.7 662.0,876.4 662.5,876.1 663.0,875.8 663.5,875.5 664.0,875.3 664.5,875.1 665.0,875.0 665.5,875.0 666.0,875.1 666.5,875.2 667.0,875.4 667.5,875.7 668.0,876.0 668.5,876.3 669.0,876.6 669.5,876.9 670.0,877.1 670.5,877.3 671.0,877.4 671.5,877.4 672.0,877.4 672.5,877.3 673.0,877.3 673.5,877.2 674.0,877.2 674.5,877.2 675.0,877.1 675.5,877.1 676.0,877.0 676.5,876.9 677.0,876.7 677.5,876.5 678.0,876.2 678.5,875.8 679.0,875.2 679.5,874.6 680.0,873.9 680.5,873.1 681.0,872.3 681.5,871.6 682.0,871.0 682.5,870.5 683.0,870.2 683.5,870.1 684.0,870.2 684.5,870.4 685.0,870.7 685.5,871.0 686.0,871.4 686.5,871.8 687.0,872.2 687.5,872.6 688.0,873.0 688.5,873.4 689.0,873.7 689.5,874.0 690.0,874.2 690.5,874.4 691.0,874.4 691.5,874.4 692.0,874.3 692.5,874.1 693.0,873.9 693.5,873.6 694.0,873.2 694.5,872.8 695.0,872.4 695.5,872.1 696.0,871.9 696.5,871.7 697.0,871.7 697.5,871.6 698.0,871.6 698.5,871.5 699.0,871.3 699.5,871.0 700.0,870.6 700.5,870.1 701.0,869.3 701.5,868.5 702.0,867.6 702.5,866.6 703.0,865.6 703.5,864.6 704.0,863.6 704.5,862.7 705.0,861.8 705.5,861.1 706.0,860.5 706.5,859.9 707.0,859.5 707.5,859.1 708.0,858.7 708.5,858.4 709.0,857.9 709.5,857.5 710.0,856.9 710.5,856.2 711.0,855.5 711.5,854.8 712.0,854.0 712.5,853.2 713.0,852.4 713.5,851.5 714.0,850.5 714.5,849.3 715.0,848.1 715.5,846.6 716.0,844.9 716.5,843.0 717.0,840.9 717.5,838.8 718.0,836.7 718.5,834.6 719.0,832.6 719.5,830.8 720.0,829.2 720.5,827.7 721.0,826.3 721.5,825.0 722.0,823.7 722.5,822.5 723.0,821.3 723.5,820.0 724.0,818.8 724.5,817.7 725.0,816.6 725.5,815.6 726.0,814.4 726.5,813.3 727.0,812.4 727.5,811.7 728.0,811.4 728.5,811.5 729.0,811.9 729.5,812.4 730.0,813.0 730.5,813.6 731.0,814.3 731.5,814.9 732.0,815.4 732.5,816.0 733.0,816.7 733.5,817.5 734.0,818.4 734.5,819.3 735.0,820.3 735.5,821.4 736.0,822.7 736.5,824.2 737.0,825.7 737.5,827.4 738.0,829.1 738.5,830.8 739.0,832.5 739.5,834.1 740.0,835.7 740.5,837.3 741.0,838.9 741.5,840.6 742.0,842.4 742.5,844.2 743.0,845.9 743.5,847.7 744.0,849.4 744.5,851.1 745.0,852.8 745.5,854.4 746.0,856.1 746.5,857.7 747.0,859.3 747.5,860.9 748.0,862.4 748.5,863.8 749.0,865.2 749.5,866.5 750.0,867.8 750.5,869.1 751.0,870.5 751.5,872.0 752.0,873.5 752.5,875.0 753.0,876.5 753.5,877.9 754.0,879.1 754.5,880.2 755.0,881.0 755.5,881.6 756.0,882.0 756.5,882.3 757.0,882.5 757.5,882.6 758.0,882.8 758.5,883.1 759.0,883.4 759.5,883.9 760.0,884.4 760.5,885.0 761.0,885.7 761.5,886.5 762.0,887.3 762.5,888.1 763.0,888.9 763.5,889.7 764.0,890.4 764.5,891.1 765.0,891.8 765.5,892.5 766.0,893.1 766.5,893.7 767.0,894.3 767.5,894.8 768.0,895.2 768.5,895.5 769.0,895.7 769.5,895.8 770.0,895.9 770.5,895.9 771.0,895.8 771.5,895.8 772.0,895.7 772.5,895.7 773.0,895.7 773.5,895.7 774.0,895.8 774.5,896.0 775.0,896.2 775.5,896.4 776.0,896.6 776.5,896.8 777.0,897.0 777.5,897.1 778.0,897.2 778.5,897.3 779.0,897.5 779.5,897.7 780.0,898.0 780.5,898.3 781.0,898.6 781.5,898.9 782.0,899.2 782.5,899.5 783.0,899.7 783.5,900.0 784.0,900.2 784.5,900.4 785.0,900.6 785.5,900.8 786.0,900.9 786.5,901.0 787.0,901.1 787.5,901.2 788.0,901.4 788.5,901.6 789.0,901.7 789.5,901.9 790.0,902.1 790.5,902.2 791.0,902.2 791.5,902.2 792.0,902.2 792.5,902.2 793.0,902.1 793.5,902.1 794.0,902.1 794.5,902.1 795.0,902.1 795.5,902.1 796.0,902.1 796.5,902.0 797.0,902.0 797.5,901.9 798.0,901.9 798.5,901.9 799.0,902.0 799.5,902.2 800.0,902.4 800.5,902.6 801.0,902.9 801.5,903.1 802.0,903.2 802.5,903.3 803.0,903.3 803.5,903.3 804.0,903.3 804.5,903.3 805.0,903.3 805.5,903.4 806.0,903.6 806.5,903.7 807.0,903.8 807.5,903.9 808.0,903.9 808.5,903.8 809.0,903.6 809.5,903.4 810.0,903.0 810.5,902.6 811.0,902.2 811.5,901.8 812.0,901.4 812.5,901.0 813.0,900.7 813.5,900.4 814.0,900.1 814.5,899.9 815.0,899.7 815.5,899.6 816.0,899.7 816.5,899.9 817.0,900.2 817.5,900.5 818.0,900.9 818.5,901.2 819.0,901.4 819.5,901.5 820.0,901.5 820.5,901.4 821.0,901.3 821.5,901.0 822.0,900.8 822.5,900.5 823.0,900.1 823.5,899.8 824.0,899.5 824.5,899.2 825.0,899.1 825.5,899.1 826.0,899.3 826.5,899.6 827.0,900.0 827.5,900.3 828.0,900.7 828.5,901.0 829.0,901.1 829.5,901.3 830.0,901.4 830.5,901.4 831.0,901.5 831.5,901.6 832.0,901.7 832.5,901.7 833.0,901.7 833.5,901.7 834.0,901.6 834.5,901.5 835.0,901.4 835.5,901.4 836.0,901.3 836.5,901.4 837.0,901.5 837.5,901.7 838.0,901.9 838.5,902.0 839.0,902.1 839.5,902.0 840.0,902.0 840.5,901.8 841.0,901.7 841.5,901.5 842.0,901.3 842.5,901.2 843.0,901.0 843.5,900.9 844.0,900.8 844.5,900.7 845.0,900.7 845.5,900.6 846.0,900.6 846.5,900.6 847.0,900.7 847.5,900.8 848.0,900.9 848.5,900.9 849.0,901.0 849.5,901.0 850.0,901.0 850.5,901.0 851.0,901.0 851.5,901.1 852.0,901.2 852.5,901.5 853.0,901.7 853.5,902.0 854.0,902.3 854.5,902.4 855.0,902.5 855.5,902.5 856.0,902.4 856.5,902.2 857.0,902.0 857.5,901.8 858.0,901.5 858.5,901.3 859.0,901.0 859.5,900.8 860.0,900.5 860.5,900.3 861.0,900.0 861.5,899.7 862.0,899.2 862.5,898.8 863.0,898.3 863.5,897.8 864.0,897.5 864.5,897.2 865.0,897.2 865.5,897.3 866.0,897.7 866.5,898.1 867.0,898.7 867.5,899.2 868.0,899.7 868.5,900.1 869.0,900.3 869.5,900.3 870.0,900.2 870.5,900.0 871.0,899.8 871.5,899.6 872.0,899.5 872.5,899.4 873.0,899.5 873.5,899.6 874.0,899.7 874.5,899.8 875.0,899.8 875.5,899.8 876.0,899.6 876.5,899.3 877.0,899.0 877.5,898.7 878.0,898.3 878.5,898.1 879.0,897.8 879.5,897.7 880.0,897.6 880.5,897.5 881.0,897.5 881.5,897.6 882.0,897.6 882.5,897.5 883.0,897.5 883.5,897.4 884.0,897.2 884.5,897.0 885.0,896.7 885.5,896.5 886.0,896.3 886.5,896.1 887.0,896.1 887.5,896.1 888.0,896.2 888.5,896.5 889.0,896.8 889.5,897.1 890.0,897.5 890.5,897.9 891.0,898.2 891.5,898.5 892.0,898.7 892.5,898.7 893.0,898.7 893.5,898.6 894.0,898.4 894.5,898.3 895.0,898.1 895.5,897.9 896.0,897.7 896.5,897.5 897.0,897.3 897.5,897.1 898.0,896.9 898.5,896.7 899.0,896.5 899.5,896.3 900.0,896.1 900.5,895.8 901.0,895.5 901.5,895.2 902.0,895.0 902.5,894.8 903.0,894.7 903.5,894.7 904.0,894.8 904.5,894.9 905.0,895.1 905.5,895.2 906.0,895.4 906.5,895.5 907.0,895.7 907.5,895.9 908.0,896.1 908.5,896.4 909.0,896.8 909.5,897.2 910.0,897.6 910.5,898.0 911.0,898.5 911.5,898.9 912.0,899.2 912.5,899.4 913.0,899.5 913.5,899.5 914.0,899.5 914.5,899.5 915.0,899.4 915.5,899.4" fill="none" stroke="#231f20" stroke-width="4.8" stroke-linejoin="miter" stroke-miterlimit="4"/></g>
<rect x="70.4" y="6.35" width="845.1" height="971.05" fill="none" stroke="#231f20" stroke-width="4.7"/>
<g stroke="#231f20" stroke-width="4.6"><line x1="70.40" y1="977" x2="70.40" y2="988.8"/><line x1="164.30" y1="977" x2="164.30" y2="998.5"/><line x1="258.20" y1="977" x2="258.20" y2="988.8"/><line x1="352.10" y1="977" x2="352.10" y2="998.5"/><line x1="446.00" y1="977" x2="446.00" y2="988.8"/><line x1="539.90" y1="977" x2="539.90" y2="998.5"/><line x1="633.80" y1="977" x2="633.80" y2="988.8"/><line x1="727.70" y1="977" x2="727.70" y2="998.5"/><line x1="821.60" y1="977" x2="821.60" y2="988.8"/><line x1="915.50" y1="977" x2="915.50" y2="998.5"/></g>
<g font-size="47" transform="translate(0,1046.8) scale(1,1.055) translate(0,-1046.8)"><text x="125.09" y="1046.8">4</text><text x="151.23" y="1046.8">0</text><text x="177.37" y="1046.8">0</text><text x="312.89" y="1046.8">8</text><text x="339.03" y="1046.8">0</text><text x="365.17" y="1046.8">0</text><path transform="translate(487.62,1046.80) scale(0.02295,-0.02295)" d="M789 0L612 0L612 1175C520 1090 390 1010 259 940L259 1085C430 1170 560 1290 650 1440L789 1440Z"/><text x="513.76" y="1046.8">2</text><text x="539.90" y="1046.8">0</text><text x="566.04" y="1046.8">0</text><path transform="translate(675.42,1046.80) scale(0.02295,-0.02295)" d="M789 0L612 0L612 1175C520 1090 390 1010 259 940L259 1085C430 1170 560 1290 650 1440L789 1440Z"/><text x="701.56" y="1046.8">6</text><text x="727.70" y="1046.8">0</text><text x="753.84" y="1046.8">0</text><text x="863.22" y="1046.8">2</text><text x="889.36" y="1046.8">0</text><text x="915.50" y="1046.8">0</text><text x="941.64" y="1046.8">0</text></g>
<g transform="translate(0,1106.9) scale(1,1.035) translate(0,-1106.9)"><text x="281" y="1106.9" font-size="52.5">Raman shift (cm<tspan dx="26">)</tspan></text></g><rect x="662" y="1071.4" width="8.5" height="2.7"/><path transform="translate(670.00,1080.90) scale(0.01562,-0.01562)" d="M789 0L612 0L612 1175C520 1090 390 1010 259 940L259 1085C430 1170 560 1290 650 1440L789 1440Z"/>
<text transform="translate(44.6,692) rotate(-90) scale(1,1.03)" font-size="52.5">Intensity (a.u.)</text>
<g transform="translate(0,482.7) scale(1,1.0001) translate(0,-482.7)"><text x="603" y="482.7" font-size="43.5">D</text>
<text x="707.4" y="472.5" font-size="43.5">G</text></g>
<g font-weight="bold" font-size="41.5" transform="translate(0,700) scale(1,1.0001) translate(0,-700)">
<text x="864.5" y="485">e</text>
<text x="865.5" y="589.3">d</text>
<text x="868.5" y="694.6">c</text>
<text x="871" y="787">b</text>
<text x="874" y="886.5">a</text>
</g>
</svg></body></html>
